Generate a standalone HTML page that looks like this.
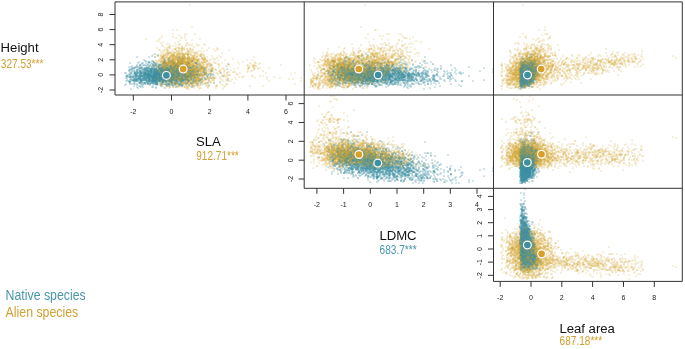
<!DOCTYPE html>
<html><head><meta charset="utf-8"><title>Trait space</title><style>
html,body{margin:0;padding:0;background:#fff;width:685px;height:349px;overflow:hidden}
svg{display:block;will-change:transform}
text{font-family:"Liberation Sans",sans-serif}
</style></head><body>
<svg width="685" height="349" viewBox="0 0 685 349">
<defs><clipPath id="c0"><rect x="115.0" y="1.9" width="189.2" height="93.1"/></clipPath><clipPath id="c1"><rect x="304.2" y="1.9" width="189.3" height="93.1"/></clipPath><clipPath id="c2"><rect x="493.5" y="1.9" width="188.79999999999995" height="93.1"/></clipPath><clipPath id="c3"><rect x="304.2" y="95.0" width="189.3" height="93.30000000000001"/></clipPath><clipPath id="c4"><rect x="493.5" y="95.0" width="188.79999999999995" height="93.30000000000001"/></clipPath><clipPath id="c5"><rect x="493.5" y="188.3" width="188.79999999999995" height="93.09999999999997"/></clipPath></defs>
<g clip-path="url(#c0)"><g stroke-width="1.7" stroke-linecap="round" fill="none"><path stroke="#d0a028" stroke-opacity="0.34" d="M158 84zm-1-9zm0-13zm1-6zm3-13zm2 3zm3 8zm-3 3zm-1 1zm5 2zm-6 2zm2 0zm1 0zm3 2zm-2 1zm-2 1zm2 0zm-5 1zm5 0zm2 0zm-5 2zm5 1zm-3 1zm1 0zm-2 1zm4 1zm-3 1zm-4 1zm3 3zm10 8zm-4-2zm6 0zm-3-2zm-4-1zm5-2zm2 0zm0-2zm-1-1zm0-1zm1 0zm-5-2zm5 0zm-7-1zm1 0zm6 0zm-3-1zm-4-1zm7 0zm-7-3zm2 0zm1 0zm2 0zm2 0zm-7-2zm5-1zm1 0zm-3-1zm4-1zm-7-1zm1-1zm1 0zm2-1zm2-4zm-1-2zm3 0zm3 0zm-1 3zm2 0zm-2 3zm4 0zm-1 1zm-1 1zm1 0zm-2 1zm1 0zm2 0zm-6 1zm1 0zm2 1zm1 0zm1 0zm1 0zm1 0zm-6 1zm4 0zm-5 1zm1 0zm4 0zm-1 1zm3 0zm-7 1zm4 0zm2 0zm-2 1zm1 0zm-4 1zm3 0zm2 0zm-4 1zm5 1zm-6 1zm1 0zm4 0zm-2 1zm1 0zm2 1zm-6 1zm5 0zm-5 1zm1 1zm2 0zm2 1zm-3 1zm1 0zm-4 1zm0 6zm13-1zm-4-3zm0-1zm3 0zm0-3zm-4-2zm0-1zm1-2zm5-1zm1 0zm-5-1zm-2-1zm4 0zm-3-2zm0-2zm3 0zm1 0zm-2-1zm-3-1zm4 0zm1 0zm1 0zm-1-1zm-3-3zm3 0zm1 0zm-2-3zm1 0zm-5-1zm1 0zm4 0zm-1-2zm-3-1zm1-1zm0-8zm12 9zm-4 5zm3 0zm-4 1zm1 3zm1 0zm2 1zm-5 1zm0 2zm5 1zm-2 1zm1 1zm1 0zm-3 1zm1 0zm1 2zm-4 1zm2 2zm-1 2zm3 8zm-4 1zm6 0zm2 1zm6-4zm1-1zm-4-1zm1-2zm-4-4zm0-9zm6 0zm-2-2zm-1-2zm1-8zm-2-7zm9 11zm-3 2zm1 3zm2 10zm-3 1zm14 0zm-2-3zm7 1zm-2 2zm4 0zm-3 4zm1 1zm7-8zm-1-13zm14 1zm7-3zm41 16z"/><path stroke="#3a8fa3" stroke-opacity="0.48" d="M125 73zm8-5zm1 4zm-5 3zm0 1zm2 0zm4 0zm-2 2zm-3 1zm0 3zm4 2zm8-4zm-4-1zm-1-1zm3 0zm3 0zm-6-2zm6-1zm-7-1zm4-2zm3-2zm0-7zm5 1zm2 7zm1 1zm-2 1zm-1 1zm-4 1zm4 0zm2 0zm-4 1zm4 0zm1 0zm-2 1zm-4 3zm2 0zm1 0zm1 0zm1 0zm1 0zm-2 1zm3 1zm5 0zm-4-1zm3 0zm3 0zm-5-1zm4-1zm1 0zm-5-1zm4 0zm-6-1zm3 0zm1 0zm-1-1zm-3-1zm1 0zm1 0zm5 0zm-5-1zm4 0zm-5-1zm2 0zm-2-1zm1 0zm1 0zm4 0zm-4-1zm2 0zm1 0zm-1-1zm-4-1zm2-3zm1 0zm7-2zm3 0zm-4 1zm-1 4zm1 1zm2 0zm-2 1zm5 1zm-3 1zm1 0zm1 1zm-2 1zm3 0zm-5 2zm3 0zm2 0zm-7 1zm6 0zm1 0zm-5 1zm-2 1zm1 1zm2 0zm0 1zm9 2zm-2-1zm4-3zm-5-1zm1 0zm5 0zm-7-1zm4 0zm3 0zm-4-1zm-3-1zm2-2zm2-1zm-3-2zm6 0zm-4-2zm2-1zm-4-7zm10-4zm-1 8zm1 6zm0 1zm0 1zm2 0zm0 1zm-3 1zm-1 1zm-1 1zm3 0zm4 2zm-4 2zm-1 1zm3 1zm2 0zm-4 1zm5-1zm6-4zm-6-3zm0-1zm3 0zm4-4zm-7-2zm4-1zm9-5zm-4 8zm-1 2zm5 5zm2 3zm-5 1zm11-9zm4-4zm0 11z"/><path stroke="#d0a028" stroke-opacity="0.34" d="M154 81zm2-5zm1-12zm-4-9zm9-4zm2 0zm-2 5zm-2 2zm3 1zm0 3zm0 1zm3 0zm-5 1zm1 0zm3 0zm1 0zm0 1zm-6 1zm4 1zm-4 1zm6 0zm-3 1zm3 0zm1 0zm-5 1zm-1 1zm1 1zm3 0zm0 2zm-5 2zm6 0zm-3 1zm-3 3zm6 1zm-1 1zm-4 2zm11 1zm-4-1zm5-1zm-3-3zm4 0zm1 0zm-5-1zm2-1zm1 0zm-4-1zm2 0zm4 0zm-5-1zm0-2zm0-1zm2 0zm3-1zm-7-1zm4-1zm-2-1zm2 0zm-2-1zm4-1zm1-1zm0-1zm-2-1zm-3-2zm3 0zm-4-3zm-1-1zm3-6zm9-3zm0 2zm2 3zm-2 1zm-4 1zm6 0zm0 1zm-6 2zm1 0zm5 0zm1 1zm-1 1zm-5 1zm2 0zm1 1zm-2 1zm1 2zm1 0zm1 0zm-3 1zm2 0zm1 0zm2 0zm-5 1zm1 0zm1 0zm-4 1zm0 1zm2 0zm2 0zm1 0zm-4 2zm4 0zm0 1zm-1 1zm2 0zm-2 1zm2 2zm-4 1zm4 1zm1 1zm-2 2zm0 3zm-3 1zm8 2zm-1-4zm2-4zm3 0zm-3-1zm-2-1zm2 0zm-1-1zm-2-2zm2 0zm2 0zm1 0zm1-1zm-2-1zm-2-2zm3 0zm2 0zm-5-1zm2 0zm3 0zm-7-1zm1 0zm1 0zm1 0zm0-1zm-1-1zm1-1zm-1-1zm1 0zm2 0zm-3-2zm-1-1zm3-1zm-4-1zm1-1zm5 0zm-6-3zm4-1zm-2-3zm3-2zm1-1zm2 6zm3 1zm-3 1zm5 4zm-5 1zm5 0zm0 3zm-1 1zm2 1zm-4 1zm0 1zm3 1zm-1 1zm2 0zm-6 1zm6 1zm1 1zm-6 1zm1 1zm5 0zm-5 2zm3 0zm-3 2zm0 6zm4 0zm-4 2zm7 0zm1-6zm1-4zm-3-2zm7-1zm-6-5zm5-1zm-1-1zm-3-1zm3 0zm-2-2zm-2-9zm6-6zm-3-6zm8 12zm-4 7zm0 2zm4 0zm-4 21zm15 3zm-3-12zm2-8zm-3-4zm-2-15zm31 19zm5-2zm0-7z"/><path stroke="#3a8fa3" stroke-opacity="0.48" d="M126 81zm1-1zm5-14zm-2 11zm3 3zm1 0zm5 2zm2 0zm0-1zm-1-2zm0-3zm2-1zm-2-1zm-3-1zm0-2zm0-1zm4-2zm-4-11zm12 5zm-2 5zm0 1zm2 0zm2 2zm-5 2zm4 0zm1 0zm-2 2zm2 0zm-4 1zm1 0zm-1 1zm-1 2zm1 0zm2 1zm1 2zm-5 2zm1 1zm11 0zm-5-1zm1-1zm-1-1zm0-2zm4 0zm1 0zm-2-1zm1 0zm3 0zm-4-1zm2 0zm1 0zm1 0zm-7-1zm1 0zm1 0zm2 0zm-4-1zm1 0zm1 0zm1 0zm4 0zm-4-1zm-1-1zm3 0zm-4-1zm5 0zm-6-2zm3 0zm2 0zm1 0zm6-8zm-4 3zm1 0zm6 0zm-3 2zm0 1zm-4 1zm3 1zm1 0zm-3 1zm2 1zm1 1zm-1 1zm-3 1zm2 0zm4 0zm-6 1zm1 0zm2 0zm4 0zm-7 1zm1 1zm2 0zm-1 2zm0 1zm1 0zm-2 5zm1 0zm5 0zm3-2zm2-2zm-3-2zm6-1zm-1-1zm-6-1zm1 0zm-1-1zm1 0zm6 0zm-5-1zm2 0zm1 0zm2 0zm-6-2zm2 0zm3 0zm-4-1zm-2-2zm1-4zm3-1zm11-3zm-6 2zm1 2zm0 4zm-2 1zm0 2zm1 2zm1 0zm0 1zm1 0zm-1 2zm2 2zm3 1zm8 2zm-3-4zm-2-4zm2-1zm3-2zm-3-2zm7-7zm2 5zm0 6zm-5 2zm3 1zm4 1zm-4 3zm7-2zm-2-1zm2-10zm10 3zm-3 14z"/><path stroke="#d0a028" stroke-opacity="0.34" d="M157 80zm-2-2zm0-8zm2-8zm0-7zm0-14zm10 9zm-2 8zm-3 2zm1 0zm0 8zm4 3zm-5 1zm-2 2zm5 2zm-2 1zm-3 1zm14 7zm-5-1zm0-3zm2-1zm3-1zm-2-2zm2-1zm0-2zm-6-2zm5-2zm-4-1zm1 0zm1 0zm4 0zm-2-2zm1 0zm-4-1zm3 0zm2 0zm-4-3zm1 0zm-4-1zm5 0zm-2-1zm1 0zm1-1zm0-2zm2-1zm-5-1zm2 0zm-4-1zm4 0zm1 0zm2-6zm-6-5zm10 0zm3 5zm0 1zm0 1zm-6 1zm1 2zm4 1zm-5 1zm7 0zm-1 1zm0 1zm-3 1zm3 0zm-4 2zm2 0zm2 0zm1 0zm-5 1zm2 0zm2 1zm-3 1zm-3 2zm2 0zm2 1zm1 2zm1 0zm-5 1zm5 1zm1 0zm-7 1zm3 0zm-3 1zm5 0zm1 0zm-4 1zm5 0zm-5 1zm1 2zm-1 1zm3 0zm1 0zm-5 2zm1 0zm5 4zm2 1zm5-1zm1 0zm-5-1zm3-1zm2 0zm-3-1zm-2-1zm1 0zm0-1zm-2-2zm2 0zm-3-1zm1 0zm2 0zm2 0zm-1-1zm1 0zm1 0zm-6-2zm1 0zm2 0zm2 0zm1 0zm-4-1zm1 0zm4-1zm-7-2zm2 0zm3 0zm-2-1zm1 0zm-3-1zm0-1zm1 0zm1 0zm1 0zm2-1zm0-1zm-5-1zm0-1zm2 0zm1 0zm1 0zm2 0zm-7-2zm6 0zm1 0zm-7-1zm3 0zm-1-1zm2-3zm-4-1zm6-2zm-2-1zm-2-5zm9-12zm-3 6zm0 18zm3 1zm2 2zm0 2zm-1 1zm3 0zm-5 1zm2 0zm-3 2zm3 0zm-1 1zm3 1zm-2 2zm3 0zm-5 2zm-1 1zm4 4zm-5 1zm7 0zm-2 1zm0 1zm-1 3zm2 0zm3 0zm5-2zm1-3zm-7-3zm2 0zm0-2zm3-1zm-2-3zm0-3zm-3-2zm1 0zm-1-1zm0-8zm10 9zm3 2zm-3 11zm3 0zm3 0zm8-7zm3 2zm1 2zm-4 2zm1 9zm9-3zm16 3zm4-16zm2-7zm4 13z"/><path stroke="#3a8fa3" stroke-opacity="0.48" d="M134 68zm1 5zm-5 1zm3 0zm1 0zm-6 3zm1 0zm4 3zm-3 1zm5 1zm5 4zm2 0zm0-2zm1 0zm-3-1zm2-2zm-6-1zm1-4zm2 0zm1-1zm1 0zm-5-1zm6-1zm-1-1zm-3-1zm2 0zm-2-1zm0-7zm7 2zm2 0zm-1 1zm-1 2zm0 1zm6 2zm-5 1zm2 0zm3 0zm-6 3zm5 0zm-3 1zm1 0zm1 0zm-4 1zm6 0zm-7 1zm0 2zm2 0zm3 1zm1 2zm-2 1zm2 0zm0 1zm7-1zm-2-3zm2 0zm-4-1zm6 0zm-7-1zm6 0zm1 0zm-6-1zm6 0zm-4-1zm-1-1zm1 0zm4 0zm-4-1zm1 0zm1-1zm-4-1zm4 0zm2 0zm-3-1zm1-2zm-2-2zm3-1zm1-2zm8 0zm-2 1zm-3 2zm0 1zm3 0zm1 1zm-4 1zm2 1zm1 0zm-3 2zm1 0zm1 0zm2 0zm-5 1zm3 0zm-4 1zm4 0zm3 0zm-3 1zm-1 1zm4 0zm-5 1zm2 1zm-3 1zm2 1zm4 3zm1-3zm7-1zm-4-1zm-3-2zm3-1zm2 0zm-2-1zm2 0zm0-1zm-2-1zm3 0zm-5-1zm5 0zm-6-1zm2 0zm1-1zm3 0zm-2-2zm1 0zm0-1zm1-3zm5-2zm-3 3zm0 2zm3 1zm3 1zm-1 2zm-4 1zm1 0zm4 1zm1 0zm0 1zm-1 2zm-4 1zm0 1zm1 0zm1 0zm0 1zm-4 1zm4 3zm11-1zm-1-6zm-6-4zm6 0zm1 0zm-1-4zm9-1zm-6 4zm3 2zm-4 3zm0 7zm9-9zm11-4z"/><path stroke="#d0a028" stroke-opacity="0.34" d="M151 66zm5 11zm3 0zm0-3zm0-1zm0-1zm-2-5zm8-19zm-4 4zm3 4zm0 2zm1 0zm0 2zm-5 4zm0 1zm3 1zm2 1zm-1 1zm1 0zm-3 1zm5 3zm-3 1zm3 0zm0 2zm-4 2zm-3 3zm9 2zm-1-2zm7 0zm-5-1zm4-4zm-2-1zm1-1zm-5-2zm1-1zm4 0zm0-1zm2 0zm-6-1zm1 0zm5 0zm-1-1zm-6-1zm6 0zm-5-1zm1 0zm2 0zm2-1zm-6-1zm1-1zm4-2zm2-4zm-1-1zm-1-1zm0-8zm2-3zm3-1zm-2 5zm6 3zm-3 1zm4 2zm-2 1zm-2 1zm4 1zm-6 2zm1 1zm3 0zm-5 1zm1 0zm4 2zm1 0zm1 0zm-5 1zm3 0zm-4 1zm1 0zm0 1zm1 0zm1 1zm-4 1zm2 1zm1 0zm-3 1zm4 0zm-3 1zm2 1zm3 0zm0 1zm1 0zm-6 1zm6 0zm-2 1zm-3 1zm2 1zm1 4zm0 1zm1 2zm-6 1zm2 0zm0 1zm4 0zm0 2zm6 1zm1-3zm-3-1zm4 0zm1-4zm-5-1zm0-1zm1 0zm3 0zm1-1zm-4-1zm0-1zm1 0zm1 0zm2 0zm-4-1zm2 0zm-5-1zm1 0zm3 0zm1 0zm-3-1zm1 0zm1 0zm-1-1zm0-1zm1 0zm3 0zm-7-1zm5 0zm-2-1zm3 0zm1 0zm-7-1zm2-1zm2 0zm-1-1zm-1-2zm-1-1zm2 0zm1 0zm-1-1zm0-1zm3 0zm-3-1zm-2-1zm2 0zm-3-2zm4-2zm-1-5zm3-1zm5 5zm0 4zm4 5zm-6 1zm2 6zm-3 1zm4 1zm2 0zm-5 2zm2 0zm1 1zm1 1zm1 0zm-3 1zm0 1zm0 1zm1 0zm3 2zm-1 1zm-2 1zm-2 1zm11 0zm-2-2zm-1-1zm5-1zm-7-5zm7 0zm-6-1zm5 0zm-3-1zm-3-1zm1-2zm2-5zm1-2zm2 0zm-1-5zm2 0zm-4-1zm6-8zm5 14zm-2 6zm-1 2zm1 5zm-4 3zm8-15zm10 18zm14-8zm4 3zm11 2zm-7-7zm11-7zm-1 5zm35 10z"/><path stroke="#3a8fa3" stroke-opacity="0.48" d="M129 67zm6 0zm0 5zm-4 5zm4 2zm0 1zm-1 1zm1 0zm-1 5zm5-3zm-2-2zm-1-4zm3 0zm-2-3zm3 0zm-2-2zm2-1zm-3-4zm3-2zm9 1zm1 0zm-6 2zm5 0zm2 0zm-4 2zm0 1zm2 0zm-3 2zm-2 1zm5 1zm-1 1zm2 1zm-2 1zm2 0zm-3 3zm1 3zm2 0zm6-1zm-4-1zm1-1zm2 0zm-2-3zm5 0zm1 0zm-7-1zm5 0zm1 0zm-3-1zm2 0zm-4-1zm5 0zm-6-1zm2 0zm1 0zm1 0zm1 0zm1 0zm-6-1zm4-1zm1-1zm1 0zm1-3zm0-1zm-7-4zm3 0zm11 5zm1 0zm-7 2zm2 1zm5 0zm-6 1zm6 2zm-5 1zm-2 1zm1 0zm3 0zm1 0zm2 1zm-3 1zm-3 1zm4 0zm1 0zm0 1zm-4 2zm4 0zm3 4zm-1-2zm7 0zm-5-4zm2 0zm1 0zm1 0zm-6-1zm4-1zm2 0zm-4-1zm2-1zm2 0zm-3-1zm-3-1zm2 0zm3 0zm-4-1zm3 0zm-4-1zm2 0zm1 0zm0-2zm-1-1zm5-2zm-5-1zm1-4zm8 1zm0 2zm-1 1zm5 1zm-5 1zm-1 1zm1 0zm-2 1zm0 1zm4 0zm-1 1zm4 0zm-5 1zm1 1zm-2 1zm4 1zm-4 3zm4 0zm-4 3zm1 1zm11-3zm-4-2zm4 0zm2 0zm-7-1zm2 0zm4 0zm-3-1zm-2-1zm1-1zm4-4zm-5-2zm3 0zm5 1zm10 15zm4-7zm-3-3zm19 2z"/><path stroke="#d0a028" stroke-opacity="0.34" d="M158 73zm-1-3zm-1-1zm2-2zm0-3zm3-26zm3 12zm1 3zm-3 5zm2 4zm0 1zm1 1zm1 0zm-2 1zm-3 2zm-1 4zm3 1zm4 2zm-6 2zm5 5zm-2 3zm9-2zm-1-4zm-3-2zm2 0zm2 0zm-5-2zm7 0zm-6-4zm-1-1zm7-1zm-1-2zm-3-1zm1 0zm1 0zm-5-2zm2 0zm5-1zm-6-1zm1 0zm1 0zm4-3zm-3-2zm0-1zm-4-2zm6-1zm-5-4zm4-18zm8 23zm-4 2zm-1 3zm5 0zm2 1zm-1 1zm0 2zm-2 1zm-3 1zm4 0zm2 0zm-2 1zm1 0zm-3 1zm-2 1zm2 0zm4 0zm-3 2zm-3 1zm1 0zm-1 1zm3 0zm0 1zm-1 1zm4 0zm-6 1zm6 0zm-7 1zm4 0zm1 0zm1 0zm1 0zm-7 1zm4 0zm3 0zm-1 1zm-6 1zm1 1zm5 1zm1 1zm-7 1zm7 1zm-2 2zm9 2zm-4-3zm1 0zm-3-1zm3-1zm-3-2zm1 0zm1 0zm1 0zm0-2zm0-1zm1-2zm1 0zm-2-2zm1 0zm3 0zm-5-1zm-1-1zm3 0zm-4-3zm2 0zm1 0zm-3-1zm4 0zm-3-1zm4 0zm0-1zm-5-1zm4 0zm-1-1zm1 0zm1 0zm-3-2zm-2-1zm5 0zm-5-1zm3 0zm-1-1zm2-1zm-4-2zm4 0zm-2-1zm4-2zm-3-9zm-2-5zm0-2zm7 16zm1 0zm1 3zm5 0zm-5 3zm-2 2zm3 0zm-2 4zm0 1zm-1 1zm1 0zm0 1zm-1 2zm6 0zm-5 1zm2 1zm-3 1zm2 1zm2 0zm-3 1zm-1 1zm1 0zm1 0zm1 1zm-3 2zm4 0zm2 1zm-4 3zm5 7zm1-14zm2 0zm2 0zm2 0zm-5-1zm-1-2zm3-2zm4-1zm-3-1zm-3-1zm3 0zm3 0zm-6-1zm4 0zm-3-1zm-2-1zm5-5zm-3-1zm-1-4zm13-5zm-4 17zm1 4zm-2 1zm-1 6zm6 1zm-6 10zm12-18zm-1-2zm0-4zm10 1zm1 10zm-6 1zm5 5zm-2 3zm20-19zm-5 12zm13-12zm14 3z"/><path stroke="#3a8fa3" stroke-opacity="0.48" d="M132 72zm1 5zm2 1zm-1 3zm7 6zm0-7zm-5-1zm7-1zm-7-1zm4 0zm-4-1zm3 0zm3-3zm-5-4zm4-1zm0-1zm3-7zm7 9zm-2 4zm1 0zm-1 1zm1 0zm-6 1zm3 1zm1 1zm1 1zm1 3zm8 3zm-3-2zm-3-1zm1 0zm4-1zm-2-2zm-1-1zm1 0zm1 0zm1-1zm1 0zm-1-1zm-3-1zm-2-1zm5 0zm0-1zm1-1zm-4-1zm2 0zm-4-1zm6-5zm-3-7zm3-2zm4 13zm4 1zm-6 1zm1 0zm2 2zm2 0zm2 1zm-4 1zm2 0zm-5 1zm3 0zm2 0zm2 0zm-4 1zm-3 1zm6 1zm-3 2zm1 1zm-1 1zm1 0zm-4 1zm15 0zm-4-1zm1 0zm-3-1zm0-1zm-1-1zm3 0zm3 0zm1 0zm-5-1zm-2-1zm6 0zm-4-1zm5 0zm-4-1zm4 0zm-6-1zm1 0zm2 0zm2 0zm-6-1zm3 0zm-1-1zm0-1zm1 0zm1 0zm-2-1zm-1-1zm3-2zm1-4zm5-2zm5 4zm-7 1zm4 0zm-4 4zm1 1zm4 0zm2 0zm-6 2zm1 1zm-2 2zm0 1zm2 0zm4 1zm1 1zm-6 1zm4 1zm-4 1zm0 1zm2 1zm-2 2zm-1 1zm10-10zm2 0zm-4-1zm5 0zm2-1zm-6-2zm0-2zm3-2zm-4-2zm11 3zm2 1zm1 0zm-4 1zm1 0zm3 1zm-4 1zm5 1zm-5 2zm2 4zm2 2zm13-12zm0 4zm2 2zm1 6z"/><path stroke="#d0a028" stroke-opacity="0.34" d="M159 75zm-1-1zm-1-7zm2-2zm-1-4zm-2-1zm11-3zm-4 1zm3 0zm-3 3zm0 3zm0 4zm4 1zm-2 1zm2 0zm-1 1zm-5 2zm5 1zm1 4zm0 6zm0 2zm0 1zm3-9zm2 0zm2 0zm-4-1zm-2-1zm3-1zm4 0zm-5-1zm-2-2zm4 0zm-3-2zm0-2zm6 0zm-7-1zm3-1zm-2-1zm3 0zm-1-1zm1 0zm-3-1zm3 0zm3 0zm-4-1zm4 0zm-2-1zm-5-2zm2 0zm-1-1zm1 0zm0-2zm4-1zm2-17zm4 6zm-2 9zm4 0zm-3 1zm-1 3zm-2 1zm7 0zm-6 2zm5 1zm1 0zm-7 3zm1 1zm1 1zm4 1zm-5 1zm2 0zm2 0zm-3 1zm2 0zm1 0zm-5 1zm2 1zm1 0zm2 0zm-4 1zm3 0zm2 0zm-4 2zm2 1zm0 1zm0 1zm1 5zm-4 2zm8 3zm0-4zm6 0zm-2-1zm-3-1zm1-1zm-2-1zm1 0zm2 0zm-3-2zm3 0zm1 0zm1-1zm1 0zm-2-1zm-4-1zm1 0zm2 0zm-1-1zm0-1zm1 0zm-1-1zm4 0zm-7-2zm0-1zm3-1zm2 0zm-2-1zm3 0zm-2-1zm-1-1zm1 0zm1-1zm-1-1zm-4-1zm4 0zm2 0zm1 0zm-6-1zm1-1zm2 0zm3 0zm0-1zm-3-7zm7 1zm2 4zm-4 4zm5 0zm-3 1zm4 0zm-6 3zm1 1zm0 1zm1 0zm2 2zm-1 1zm2 0zm-6 1zm1 0zm-1 2zm2 0zm-2 1zm1 0zm3 0zm-1 2zm1 0zm-1 1zm-2 1zm2 0zm3 0zm-6 2zm3 1zm-2 1zm5 0zm0 3zm8 2zm1-1zm-2-1zm1-4zm-5-1zm4-1zm-5-2zm2-1zm3-2zm1 0zm-6-2zm6 0zm-6-1zm4 0zm2-1zm-4-1zm-1-2zm2 0zm-3-1zm4-3zm-1-3zm11 1zm-3 4zm0 3zm0 4zm1 5zm-3 3zm14 2zm-5-6zm0-1zm-1-1zm22 4zm15-8zm-1-4zm13 8zm14 5z"/><path stroke="#3a8fa3" stroke-opacity="0.48" d="M127 78zm7-10zm-4 1zm4 1zm-2 1zm3 2zm6 8zm-2-1zm0-1zm-1-1zm4-1zm-5-2zm0-2zm4 0zm2 0zm-6-1zm6 0zm-7-1zm4 0zm2-2zm6-7zm-2 1zm-1 5zm3 0zm1 1zm-5 4zm4 0zm-3 1zm1 0zm-1 1zm4 0zm1 0zm-2 1zm1 0zm1 0zm-4 1zm0 1zm1 0zm3 1zm-1 1zm-5 3zm4 0zm9 1zm0-1zm-5-2zm1 0zm0-1zm6 0zm-6-1zm1 0zm1 0zm4 0zm-4-1zm2 0zm-3-1zm1 0zm1-2zm-1-1zm4 0zm0-1zm-5-1zm2 0zm3 0zm-4-2zm2-1zm0-1zm-3-3zm1 0zm-3-9zm3-2zm8 9zm3 0zm-5 5zm1 0zm-1 1zm3 0zm-3 2zm5 0zm-3 1zm4 1zm-6 1zm6 1zm-4 1zm1 0zm-4 1zm5 0zm-5 1zm2 0zm1 0zm3 1zm-1 1zm1 2zm0 3zm8-4zm-4-1zm1-1zm1 0zm-4-1zm2 0zm3 0zm0-1zm1-1zm-6-1zm2-1zm3 0zm0-2zm-2-2zm-3-2zm4 0zm6-8zm1 1zm2 5zm0 2zm1 0zm0 1zm1 1zm0 2zm-7 1zm5 0zm-4 2zm1 0zm3 0zm2 0zm-6 1zm5 2zm-3 1zm1 0zm3 0zm-1 1zm0 1zm1 0zm-4 3zm9-1zm0-1zm1-1zm-5-1zm4-1zm1-2zm1-1zm0-1zm-1-4zm0-1zm1 0zm2-2zm2 1zm-1 1zm5 0zm-4 1zm0 8zm0 2zm2 1zm-3 3zm4 0zm5-8zm9 1z"/><path stroke="#d0a028" stroke-opacity="0.34" d="M146 39zm10 41zm-3-4zm2-7zm4-7zm0-21zm3-5zm-2 19zm3 2zm-1 1zm2 3zm2 0zm-5 1zm5 0zm-3 1zm-3 2zm6 2zm-1 2zm2 2zm-5 1zm3 1zm-4 3zm4 0zm-5 4zm10 7zm4 0zm-2-2zm0-1zm1-1zm-2-1zm4 0zm0-2zm-3-1zm-1-3zm3 0zm-6-1zm2 0zm5 0zm-6-1zm6 0zm-6-1zm3 0zm3 0zm0-1zm0-1zm-6-1zm2 0zm4 0zm-4-1zm2 0zm1 0zm1 0zm-4-2zm0-1zm4 0zm-7-2zm4 0zm1 0zm-3-1zm3 0zm2 0zm-6-1zm5 0zm-5-1zm2 0zm-1-3zm2 0zm1 0zm-3-1zm3 0zm-2-3zm-1-8zm11-9zm1 9zm-4 9zm5 0zm-7 2zm1 1zm3 1zm3 0zm-3 1zm-2 1zm1 0zm4 0zm-4 2zm-3 1zm0 1zm3 0zm-3 1zm1 2zm4 0zm-4 1zm2 0zm4 0zm-7 1zm6 0zm-5 1zm-1 1zm3 3zm1 0zm-3 2zm0 1zm3 0zm-3 2zm5 0zm-3 1zm4 2zm-7 1zm11-1zm2-3zm2-1zm-3-1zm1-1zm-2-1zm-1-1zm2 0zm1 0zm2 0zm-7-1zm0-1zm1 0zm1 0zm1 0zm1 0zm2 0zm-4-1zm0-1zm5 0zm-6-1zm5 0zm-5-1zm3 0zm1-1zm-3-1zm-2-3zm1 0zm3 0zm1-1zm-3-1zm2 0zm1-4zm-5-4zm7 0zm-3-9zm5 4zm0 7zm0 2zm-1 1zm4 0zm-2 1zm-2 2zm5 0zm2 1zm-5 4zm5 0zm-6 1zm1 1zm3 0zm2 1zm0 1zm-2 1zm-5 1zm5 0zm-3 3zm1 2zm4 0zm-3 1zm1 2zm-1 1zm-4 1zm3 0zm0 2zm-1 1zm0 1zm6-3zm2-2zm-1-1zm1-1zm5-3zm-3-2zm0-5zm1 0zm-2-1zm0-9zm4 0zm-5-2zm-2-2zm5-11zm-5-6zm10 24zm-2 4zm0 4zm3 12zm13-10zm24-8z"/><path stroke="#3a8fa3" stroke-opacity="0.48" d="M126 73zm6-4zm-3 1zm2 9zm3 0zm-2 1zm3 0zm-1 1zm1 0zm-4 8zm11-7zm-6-1zm2 0zm-1-1zm2 0zm3 0zm1 0zm-6-1zm5-3zm-6-1zm5-2zm-1-1zm1-1zm-1-3zm-3-2zm10 2zm2 1zm-1 2zm1 0zm-4 1zm0 1zm6 0zm-4 1zm1 0zm-4 1zm3 1zm3 0zm0 1zm-3 1zm2 1zm1 0zm-4 1zm0 2zm-1 1zm8 4zm3 0zm1-5zm-4-1zm4 0zm-2-1zm-2-1zm2 0zm-2-2zm2 0zm0-1zm4-1zm-4-1zm2 0zm2 0zm-3-2zm-2-1zm5 0zm-3-1zm-3-1zm6 0zm-6-4zm14 2zm-3 4zm-3 1zm4 0zm1 0zm1 0zm-4 1zm2 1zm-5 1zm5 1zm-3 1zm2 0zm-3 1zm1 0zm1 0zm2 0zm2 0zm-6 1zm3 2zm3 0zm-7 4zm13-1zm0-1zm-4-2zm-1-1zm5 0zm-2-1zm4 0zm-7-1zm1-2zm3 0zm2 0zm-3-2zm1 0zm2 0zm-4-1zm1 0zm-3-1zm1 0zm5 0zm-6-1zm1 0zm-1-2zm7-1zm-2-1zm2-1zm-5-1zm7 2zm6 4zm-7 1zm1 0zm2 1zm1 0zm1 1zm-4 2zm1 3zm-1 1zm5 0zm-1 1zm6 5zm4-6zm-6-1zm-1-2zm1 0zm-1-1zm3 0zm2 0zm-4-1zm4 0zm-5-1zm0-4zm2-2zm10-5zm-2 3zm1 9zm6 8zm0-15zm7 7zm2 1zm11-3zm7-9z"/><path stroke="#d0a028" stroke-opacity="0.34" d="M158 79zm0-4zm-3-11zm2-16zm2-9zm7 11zm-3 6zm1 0zm-3 2zm3 2zm-4 1zm1 0zm3 1zm2 0zm1 1zm-3 1zm3 0zm-3 1zm0 1zm3 0zm0 2zm-6 1zm4 0zm-1 4zm-4 5zm7 1zm-6 2zm3 3zm-2 1zm7 3zm4-1zm-4-4zm6 0zm-2-2zm1-3zm0-3zm-5-1zm0-2zm1 0zm-1-1zm1 0zm3-1zm0-2zm2 0zm-2-3zm-3-1zm0-1zm4-1zm-6-1zm3 0zm4-1zm-4-4zm-2-3zm5-1zm-6-2zm5-1zm3-4zm3 0zm3 2zm-3 7zm-2 2zm1 1zm2 1zm0 1zm2 0zm-4 1zm2 0zm-1 1zm2 0zm1 0zm-5 2zm3 0zm-4 1zm6 0zm1 0zm-2 1zm1 0zm0 1zm1 0zm-6 1zm1 0zm1 1zm2 0zm-5 1zm3 0zm1 0zm1 0zm-4 1zm3 0zm-3 1zm1 0zm3 0zm2 0zm-7 1zm1 0zm1 0zm1 1zm1 2zm-4 3zm1 0zm2 0zm-2 1zm2 0zm1 1zm1 1zm-5 2zm7 1zm6 5zm-2-7zm3 0zm-2-4zm-2-1zm0-1zm4-1zm1 0zm-2-1zm-5-2zm5 0zm-4-1zm3 0zm2 0zm-6-1zm7 0zm-1-2zm-6-1zm3 0zm3 0zm0-2zm-2-1zm-1-1zm2 0zm0-1zm-5-1zm0-3zm1 0zm0-1zm3 0zm-4-7zm3-1zm-2-15zm9 13zm-1 3zm6 1zm-2 2zm-3 3zm-2 3zm1 0zm0 1zm4 0zm-1 2zm-4 2zm1 2zm-1 1zm0 2zm4 0zm-1 2zm3 2zm-3 1zm1 0zm-1 2zm3 1zm-3 3zm4 0zm0 6zm1-4zm1-7zm1-1zm4-1zm-2-1zm-2-2zm3 0zm-1-2zm-4-4zm5 0zm-3-1zm0-1zm2-2zm1-1zm-2-1zm11 14zm-6 4zm3 1zm2 3zm1 0zm-5 2zm7 4zm5-6zm0-8zm4-12zm4 4zm-5 11zm25-7zm6 0zm-2-2zm7-3zm-4 3zm2 2zm5 3zm11 6zm7-12z"/><path stroke="#3a8fa3" stroke-opacity="0.48" d="M131 73zm4 1zm-2 2zm-3 1zm3 0zm2 2zm-5 1zm7 1zm5 0zm-2-1zm2 0zm-5-1zm4-3zm1-1zm-3-2zm2-2zm3-1zm0 1zm7 0zm-4 2zm-1 1zm-1 1zm2 0zm1 0zm0 1zm1 0zm2 0zm-7 2zm6 1zm-6 3zm6 1zm1 0zm2 2zm3-1zm-4-1zm2-2zm-1-1zm5 0zm-5-1zm4 0zm-2-1zm-3-1zm4 0zm0-2zm3 0zm-5-1zm1-2zm3 0zm1 0zm-7-1zm0-1zm3 0zm-1-1zm2 0zm3 0zm-1-3zm1-1zm-7-4zm14 4zm0 2zm-5 1zm2 0zm2 0zm-1 1zm-4 1zm2 1zm5 0zm-5 1zm2 0zm1 0zm-4 1zm2 0zm2 0zm-3 1zm-1 1zm6 0zm-2 1zm2 0zm-2 1zm-4 1zm6 0zm-4 4zm10-2zm2 0zm-3-1zm-2-1zm4-1zm1 0zm-4-1zm4 0zm-6-1zm5 0zm-3-1zm-2-1zm2 0zm2 0zm-1-1zm-4-1zm1 0zm2 0zm3 0zm-6-1zm1-1zm2 0zm0-1zm2 0zm-4-1zm-1-1zm6-1zm-1-1zm-4-1zm5 0zm4 8zm1 0zm-3 1zm2 0zm1 0zm-1 2zm1 0zm4 0zm0 2zm-5 2zm-1 1zm2 0zm4 0zm-6 1zm1 1zm-2 1zm5 0zm-4 1zm5 2zm4-7zm4-3zm1 0zm-6-1zm-1-1zm4 0zm-3-1zm1 0zm5-4zm5-5zm3 6zm-6 2zm5 0zm-2 1zm2 1zm-5 2zm4 0zm2 0zm-7 1zm0 3zm2 2zm10-4z"/><path stroke="#d0a028" stroke-opacity="0.34" d="M159 66zm-6-1zm5-9zm9-12zm0 5zm-4 5zm1 1zm2 0zm-5 7zm2 2zm3 0zm-3 1zm-2 1zm4 2zm2 0zm-6 1zm1 0zm3 0zm-2 1zm2 1zm-3 1zm-2 1zm5 1zm-3 1zm2 0zm0 2zm3 2zm-7 2zm2 0zm13 4zm-2-2zm2-4zm-6-2zm6-4zm-1-2zm-2-1zm2 0zm-2-1zm1 0zm-1-1zm2 0zm-3-1zm1 0zm-2-1zm1-1zm3 0zm-3-1zm-2-1zm1 0zm1 0zm2 0zm2-1zm-3-1zm-1-7zm6-3zm6 3zm-1 3zm-2 1zm3 0zm-7 1zm5 0zm-3 2zm1 0zm1 0zm1 0zm1 0zm-1 1zm-4 1zm1 0zm3 0zm1 0zm-6 1zm7 0zm-5 1zm1 0zm3 0zm-6 1zm2 0zm4 0zm-5 1zm2 0zm3 0zm-4 1zm-1 1zm3 0zm2 0zm-5 1zm1 0zm-1 1zm3 1zm-3 1zm2 1zm0 2zm1 1zm1 1zm2 0zm-7 1zm6 2zm-5 1zm3 1zm1 0zm2 3zm3-3zm5-1zm-5-2zm-2-1zm3 0zm-3-2zm3-1zm-3-2zm3 0zm4 0zm-4-1zm2 0zm-1-1zm2 0zm-6-2zm2 0zm1 0zm4 0zm-7-2zm2 0zm4 0zm1 0zm-3-1zm-4-1zm6 0zm-6-1zm2 0zm-1-2zm2 0zm-2-1zm3 0zm2 0zm-3-1zm2-1zm0-3zm-3-3zm2 0zm2 0zm0-9zm9 0zm-7 1zm5 6zm-4 4zm4 0zm-4 1zm1 1zm2 0zm-4 2zm5 0zm1 0zm-6 1zm1 0zm5 0zm-4 1zm1 1zm0 2zm-1 1zm5 0zm-6 1zm4 4zm1 0zm-6 3zm2 1zm0 1zm4 1zm-4 3zm2 0zm-1 1zm-2 2zm10-2zm0-1zm2 0zm-5-1zm1-6zm3 0zm1 0zm-5-1zm1-1zm3 0zm-4-1zm4 0zm-2-7zm-1-7zm0-1zm2-1zm9 15zm-3 8zm-1 1zm2 0zm2 3zm4 5zm1-1zm3-7zm-4-8zm2-9zm13 20zm-5 3zm17-7zm9-1zm8-8z"/><path stroke="#3a8fa3" stroke-opacity="0.48" d="M132 69zm-1 4zm3 3zm1 1zm-5 7zm8 4zm5-1zm0-2zm-3-2zm-3-3zm2-1zm2 0zm2-3zm-2-3zm-4-1zm6-1zm-7-4zm3 0zm6-6zm1 7zm2 0zm-4 1zm2 0zm-1 1zm2 0zm4 0zm-7 1zm0 1zm4 0zm3 1zm-6 2zm2 0zm-2 1zm4 0zm1 0zm-3 1zm1 1zm1 0zm-4 2zm4 1zm2 0zm-3 2zm8 1zm0-1zm-2-2zm5 0zm-3-1zm2 0zm-2-1zm-1-1zm1 0zm2 0zm-5-1zm1 0zm0-3zm1 0zm2 0zm0-2zm-1-1zm1 0zm1 0zm-4-4zm-1-3zm11-2zm-1 4zm-3 3zm2 1zm4 0zm-2 1zm1 0zm-2 1zm0 1zm3 0zm-4 1zm2 0zm2 0zm1 0zm-7 1zm7 0zm-2 1zm2 0zm-6 1zm1 0zm-1 2zm3 0zm1 0zm-5 1zm5 0zm-2 1zm2 0zm0 3zm4 1zm2-3zm-2-2zm2 0zm-3-1zm7-1zm-7-2zm2 0zm2 0zm-1-1zm1 0zm-2-1zm1 0zm0-1zm2 0zm-5-1zm5 0zm2 0zm-2-1zm1 0zm-1-1zm-2-1zm2 0zm-3-1zm2 0zm3-2zm-6-7zm8 5zm0 3zm1 0zm-1 2zm4 1zm-5 4zm1 2zm1 0zm5 0zm-1 3zm-6 2zm7 0zm-4 1zm3 0zm-1 1zm-5 1zm5 1zm8 0zm-1-4zm-1-5zm-1-1zm3 0zm-5-1zm1 0zm0-3zm3 0zm-4-3zm9 2zm4 1zm-3 1zm5 9zm1-1zm9-6z"/><path stroke="#d0a028" stroke-opacity="0.34" d="M151 75zm3-1zm2-13zm7-5zm1 6zm0 1zm1 2zm2 0zm-5 1zm1 0zm2 0zm-1 4zm2 0zm-4 2zm1 0zm2 0zm-2 1zm2 0zm2 1zm-4 2zm4 0zm0 2zm-4 1zm1 2zm-3 3zm12-3zm0-1zm-5-1zm5 0zm1 0zm1 0zm-2-1zm-2-1zm-2-3zm1 0zm2 0zm2 0zm-6-1zm2 0zm1 0zm2 0zm-5-1zm1 0zm5 0zm-5-1zm1 0zm1 0zm-3-1zm1 0zm5 0zm-3-1zm-3-1zm0-1zm3-1zm3 0zm-3-1zm3 0zm-3-1zm4 0zm-7-1zm5-1zm2 0zm-3-1zm3-1zm-1-2zm0-2zm-2-1zm1-1zm7-6zm2 0zm-3 1zm-1 3zm-1 3zm6 1zm-5 1zm0 1zm2 1zm-2 1zm5 0zm-5 1zm2 0zm-2 1zm3 1zm-1 1zm-4 1zm4 1zm2 0zm-6 1zm1 0zm2 0zm4 1zm-6 2zm1 0zm4 0zm-2 2zm0 1zm1 0zm-2 1zm-3 2zm1 0zm2 0zm-2 1zm6 0zm-6 2zm3 1zm1 0zm6 8zm-2-2zm2-4zm1-1zm-3-1zm3-1zm-2-1zm5-2zm-5-1zm1 0zm-2-2zm0-2zm2 0zm1 0zm-1-1zm3 0zm-4-1zm3-2zm1 0zm-4-2zm-2-1zm5 0zm1-1zm-2-1zm-1-1zm-3-2zm1 0zm3-2zm2-1zm-2-2zm3-4zm-7-2zm3-5zm-1-3zm1-6zm3-29zm7 39zm2 15zm-1 2zm-5 3zm1 2zm1 1zm2 0zm0 1zm-4 3zm1 0zm2 0zm-3 1zm0 2zm5 1zm-5 1zm1 1zm1 0zm2 3zm-4 3zm-1 1zm9 1zm-1-5zm1 0zm2-2zm-3-2zm3 0zm-3-2zm6 0zm-1-3zm-5-1zm1-1zm2 0zm-3-1zm1 0zm1 0zm0-1zm5 0zm-6-1zm6-2zm-5-2zm3 0zm0-1zm-3-3zm-1-3zm1-2zm9 15zm2 2zm-4 3zm5 5zm7 6zm2-16zm3-2zm1 11zm0 8zm5-6zm1-7zm5-4zm9 4zm3-6zm6 0zm11 11z"/><path stroke="#3a8fa3" stroke-opacity="0.48" d="M127 75zm4-8zm1 1zm-2 4zm-1 10zm10 4zm2-4zm-5-2zm3-1zm2-2zm2-8zm-3-3zm6 3zm5 0zm0 3zm-6 1zm3 0zm1 0zm2 0zm-2 2zm0 1zm-5 1zm5 2zm-3 2zm11 3zm-5-1zm3 0zm2 0zm-2-2zm1-1zm-2-1zm-1-1zm0-1zm3 0zm1 0zm-5-1zm2 0zm0-1zm3 0zm2 0zm-5-1zm-1-3zm1 0zm2 0zm1 0zm-2-1zm-1-1zm5-1zm0-1zm-7-1zm3-2zm1-1zm9-2zm-1 1zm1 1zm-3 4zm4 0zm-5 1zm0 1zm1 0zm3 0zm-2 1zm-2 1zm3 0zm2 1zm-4 1zm4 0zm1 0zm-5 1zm5 0zm-6 1zm2 2zm-1 1zm3 0zm2 0zm-6 2zm2 0zm2 0zm-5 2zm3 0zm3 0zm-5 1zm1 0zm-1 2zm12 1zm-3-4zm0-1zm1 0zm2-1zm2 0zm-6-2zm5 0zm-6-1zm3 0zm2-1zm-3-1zm3 0zm-2-1zm1 0zm1 0zm1 0zm1 0zm-7-1zm1 0zm0-4zm4-1zm2 0zm-4-1zm3 0zm1-3zm-3-2zm-1-1zm7 2zm-1 2zm5 1zm-1 4zm2 0zm-6 4zm5 0zm-4 1zm-1 1zm2 0zm1 0zm2 0zm-5 1zm2 0zm1 0zm1 0zm-4 1zm2 7zm7-6zm2 0zm3 0zm-5-1zm-1-4zm3 0zm-4-2zm1-1zm1-1zm1-2zm4 0zm1-7zm5 4zm-4 9zm2 1zm2 0zm0 2zm-5 6zm12-8zm-2-1zm18 8z"/><path stroke="#d0a028" stroke-opacity="0.34" d="M149 66zm8 18zm2-14zm-6-8zm2-5zm10-1zm2 0zm-4 1zm3 0zm1 1zm-1 3zm-2 2zm3 1zm-3 3zm2 0zm0 2zm-2 4zm3 2zm-2 1zm1 1zm-1 1zm-3 6zm12-5zm1 0zm-3-2zm3 0zm-3-1zm-3-2zm2 0zm4 0zm-1-3zm-2-2zm1 0zm2 0zm-7-1zm2 0zm2-2zm2-1zm0-1zm-6-1zm4 0zm0-1zm3-1zm-7-2zm5 0zm1 0zm-2-1zm1-1zm2 0zm-4-1zm2 0zm1 0zm-6-9zm8 2zm3 4zm4 3zm-6 1zm-1 1zm2 0zm3 0zm2 1zm-4 1zm0 3zm1 0zm1 0zm-1 2zm-1 1zm-1 1zm2 0zm0 1zm3 1zm-5 1zm1 0zm-3 2zm2 0zm4 0zm-4 1zm3 0zm1 0zm-5 1zm2 0zm1 0zm2 0zm1 0zm-7 1zm2 0zm5 0zm-6 1zm1 0zm0 1zm0 2zm5 0zm-3 1zm2 0zm-1 1zm-5 1zm7 1zm-5 1zm2 1zm-1 1zm1 0zm10-5zm1-2zm-7-2zm3 0zm0-1zm3 0zm-6-1zm2-1zm4 0zm-2-1zm-3-1zm1-1zm2 0zm-3-1zm2 0zm2 0zm-4-1zm1 0zm2 0zm-4-1zm5 0zm-5-1zm2 0zm-1-1zm1 0zm4-1zm1 0zm-4-2zm-2-1zm3 0zm1 0zm-5-1zm1-2zm5 0zm0-1zm-6-1zm0-1zm4-3zm1-1zm3-25zm4 26zm-1 1zm1 0zm-4 2zm1 2zm2 2zm0 5zm2 0zm0 2zm-5 1zm1 0zm-1 1zm2 0zm1 0zm0 2zm0 1zm-2 2zm1 0zm1 0zm1 1zm-4 1zm1 0zm2 1zm0 3zm3 0zm-4 2zm12 1zm1 0zm-5-1zm3-3zm-5-5zm2-2zm1 0zm-1-1zm-1-2zm4 0zm2-4zm-7-3zm5-3zm-4-8zm14 0zm-2 18zm1 9zm-3 4zm5 6zm6-12zm-6-3zm4 0zm2-20zm9 17zm5 4zm12-7zm5-1zm1-1zm9 11zm28-2z"/><path stroke="#3a8fa3" stroke-opacity="0.48" d="M125 85zm1-7zm9-5zm-2 7zm-3 2zm7 5zm0-2zm4-1zm-1-2zm1-1zm0-1zm-4-1zm1-1zm4-1zm-2-1zm1 0zm-5-2zm5 0zm-4-1zm0-3zm3 0zm2-2zm-3-6zm10 0zm0 1zm-5 2zm3 3zm4 1zm-5 1zm4 1zm1 0zm-3 2zm2 0zm0 1zm-6 2zm0 1zm1 0zm3 0zm-2 2zm3 1zm2 0zm-4 1zm0 1zm10 3zm-2-3zm1 0zm-2-1zm1-1zm-2-1zm5 0zm0-1zm-6-1zm1 0zm1 0zm-1-1zm4 0zm1 0zm-4-1zm4 0zm1 0zm-5-1zm1 0zm2-1zm1 0zm-6-3zm5 0zm1 0zm-2-5zm-3-4zm11 1zm2 1zm-5 2zm3 1zm1 0zm-2 1zm0 2zm2 0zm-2 4zm3 0zm1 0zm-3 3zm1 0zm-3 3zm2 0zm-4 1zm2 0zm5 0zm0 3zm-4 1zm8 1zm4-3zm-5-1zm-1-1zm2-1zm2 0zm-4-1zm1-1zm1 0zm0-1zm-2-1zm3 0zm-4-1zm1 0zm1 0zm1 0zm3 0zm-6-2zm4 0zm1 0zm-5-1zm1-1zm4 0zm-3-1zm4 0zm1-1zm-5-1zm3 0zm-4-6zm11-4zm2 3zm-6 6zm3 1zm-2 4zm1 0zm5 0zm-6 1zm0 1zm0 1zm1 0zm3 1zm0 1zm-3 1zm4 0zm-6 1zm6 0zm-6 1zm2 0zm-1 1zm4 0zm1 0zm-5 1zm9-2zm-2-3zm5-1zm-3-10zm3-2zm-1-4zm4 16zm0 1zm2 2zm-1 4zm13-8zm5 0z"/><path stroke="#d0a028" stroke-opacity="0.34" d="M159 67zm0-7zm2-6zm3 1zm2 0zm-1 6zm0 3zm1 0zm-6 1zm4 2zm-1 5zm-2 1zm3 2zm2 0zm0 1zm-4 2zm-1 7zm9-6zm4 0zm-5-1zm3 0zm1 0zm-1-1zm2-1zm-3-1zm-3-1zm2 0zm1 0zm2-2zm1 0zm-6-1zm2-1zm1-1zm-1-1zm5 0zm0-1zm-4-1zm-1-1zm3 0zm-4-1zm0-1zm4 0zm-4-1zm5 0zm-1-1zm1 0zm-3-1zm2 0zm-2-1zm2 0zm2 0zm-5-2zm4 0zm1-1zm-1-2zm-3-1zm3 0zm-6-2zm7-1zm2 1zm5 0zm-4 3zm3 0zm-4 2zm3 0zm-2 1zm2 1zm2 1zm-2 1zm1 1zm-2 1zm2 0zm1 0zm-5 1zm3 0zm3 0zm-4 1zm2 0zm-1 2zm1 0zm-1 1zm1 0zm2 0zm-5 2zm3 0zm1 0zm-6 2zm5 0zm-5 1zm1 1zm-1 2zm4 2zm2 0zm-6 1zm5 0zm-2 1zm1 0zm-2 1zm2 0zm1 0zm-2 5zm-1 2zm9 2zm1-2zm2-3zm-3-1zm1 0zm0-2zm-1-1zm3 0zm1 0zm-5-1zm1-1zm1 0zm2-1zm1 0zm-7-1zm3 0zm4 0zm-4-1zm1-1zm3 0zm-2-1zm-4-1zm3 0zm-4-1zm1 0zm0-1zm2 0zm-2-1zm1-1zm-1-1zm2 0zm-1-2zm4 0zm-2-1zm-1-1zm3 0zm1 0zm-7-1zm4 0zm3 0zm-7-2zm6 0zm0-1zm0-1zm1 0zm-2-1zm-1-6zm-4-3zm13-2zm-3 7zm4 6zm0 1zm-4 1zm1 1zm3 0zm1 3zm-4 1zm-1 3zm1 0zm4 0zm-1 2zm-3 1zm3 1zm-5 1zm0 2zm5 0zm-4 2zm-1 2zm0 1zm2 0zm-2 1zm0 1zm3 0zm1 0zm1 0zm-4 2zm6-6zm2 0zm3-1zm-2-3zm2-1zm0-1zm2 0zm-3-3zm-3-3zm-1-2zm7 0zm-4-2zm2-1zm2-1zm2 2zm-1 2zm2 6zm1 3zm-1 7zm6-11zm12 2zm10-10zm5 0zm9 9zm-3-3zm6-6z"/><path stroke="#3a8fa3" stroke-opacity="0.48" d="M127 76zm2-5zm0 3zm2 0zm3 4zm-2 2zm3 4zm1-4zm5 0zm1-1zm-3-1zm0-1zm3-1zm-6-1zm4-3zm-1-3zm1-1zm2-5zm5 6zm3 0zm-4 1zm4 0zm-2 1zm1 0zm2 0zm-5 2zm-1 1zm2 0zm1 0zm1 0zm-1 1zm1 0zm-4 3zm3 0zm1 0zm-5 2zm5 0zm1 0zm-5 4zm10 0zm1-3zm3 0zm-6-1zm3 0zm2 0zm-1-1zm1 0zm0-1zm1 0zm-5-1zm3 0zm-5-1zm3 0zm0-1zm1 0zm-2-1zm3 0zm-3-1zm5 0zm-2-1zm-1-1zm3 0zm-3-2zm3 0zm0-3zm-5-4zm13 5zm-5 1zm2 1zm3 0zm-5 1zm5 0zm-7 1zm3 0zm1 2zm1 0zm-3 1zm1 0zm3 0zm-6 1zm1 0zm1 0zm-1 1zm2 0zm1 0zm1 0zm2 1zm-5 1zm1 0zm1 0zm-3 1zm-1 1zm1 0zm5 0zm-4 3zm0 1zm13 1zm-7-1zm2-3zm1 0zm-2-1zm-1-1zm0-1zm5 0zm-5-1zm4 0zm1 0zm-3-1zm5 0zm-5-1zm2 0zm3 0zm-2-1zm0-1zm-5-2zm4-2zm2-3zm-1-5zm0-1zm5 6zm-1 4zm-1 2zm3 1zm-2 1zm2 0zm-1 1zm0 1zm5 0zm0 1zm-6 1zm2 1zm1 0zm3 0zm0 1zm-3 1zm-4 1zm6 4zm4-8zm0-1zm-2-2zm2 0zm-2-1zm1-3zm6 0zm-4-4zm-3-2zm9 2zm2 7zm2 1zm-5 3zm4 2zm-4 1zm14-2zm1-3zm-1-4zm-4-5zm9-2zm16 4z"/><path stroke="#d0a028" stroke-opacity="0.34" d="M159 60zm8-12zm-6 8zm1 1zm1 0zm1 1zm-3 1zm-1 1zm1 0zm2 2zm2 1zm1 0zm-3 1zm2 4zm2 1zm-2 1zm0 1zm-3 1zm2 0zm2 3zm-1 5zm-4 1zm-1 1zm7 0zm-3 2zm0 3zm7-4zm4 0zm-2-3zm-3-1zm1 0zm1 0zm-2-1zm3 0zm1-1zm-3-1zm3 0zm-6-3zm3 0zm3 0zm1 0zm-4-2zm1 0zm-4-1zm1 0zm4 0zm-3-2zm1 0zm1-1zm-2-1zm2 0zm-4-1zm5-1zm-4-1zm6 0zm-7-2zm1 0zm4 0zm0-1zm-5-1zm2-1zm-2-1zm0-3zm0-1zm1 0zm3-2zm-2-5zm12-8zm-3 10zm3 1zm-5 5zm5 0zm-4 5zm1 2zm4 0zm-3 1zm3 1zm-6 1zm4 0zm1 0zm-6 1zm1 0zm3 1zm3 0zm-7 1zm0 1zm1 0zm2 0zm-2 1zm4 0zm1 0zm-6 1zm2 0zm2 0zm2 1zm-4 1zm3 0zm-3 1zm5 2zm-4 1zm-1 1zm2 0zm2 0zm-2 1zm-4 1zm1 0zm1 0zm0 1zm2 1zm0 2zm-4 3zm2 1zm6-4zm3-2zm1-1zm-4-1zm1-1zm2 0zm4 0zm-1-1zm-3-2zm3 0zm-6-3zm1 0zm3 0zm1 0zm-4-1zm-1-1zm5 0zm1 0zm1 0zm-6-1zm3 0zm2 0zm-2-1zm-3-1zm-1-1zm2 0zm3 0zm-4-1zm1 0zm2-1zm-2-1zm2-6zm-4-1zm0-2zm6 0zm-2-2zm3-3zm8 10zm-3 3zm-4 1zm1 5zm0 2zm3 1zm3 0zm-5 1zm1 0zm0 2zm-3 1zm3 1zm0 1zm-1 1zm4 0zm-5 3zm4 0zm3 2zm5 0zm-5-4zm1 0zm1-4zm-1-3zm1-1zm-1-2zm2 0zm-1-1zm4 0zm-5-2zm6-2zm-3-3zm11-2zm-5 5zm3 5zm-1 10zm2 0zm-6 2zm2 1zm-1 4zm12-29zm6 9zm1 9zm0 3zm9-4zm-3-5zm20-2zm0-1zm1-3zm14 18z"/><path stroke="#3a8fa3" stroke-opacity="0.48" d="M127 76zm3-13zm1 13zm0 2zm-2 3zm1 2zm10 0zm2 0zm-1-2zm2-3zm-4-3zm3-4zm-3-2zm3 0zm0-2zm7-10zm1 5zm-2 3zm1 2zm-4 3zm3 1zm2 0zm-1 1zm2 0zm-6 1zm-1 1zm4 1zm3 0zm-3 1zm3 1zm-2 1zm-4 1zm2 1zm2 1zm2 0zm-3 2zm8 5zm-4-1zm2-3zm2 0zm-3-1zm-1-1zm3-1zm4-1zm-5-1zm5 0zm-7-1zm2 0zm0-1zm1 0zm4-1zm-5-1zm1 0zm4 0zm-5-1zm4 0zm1 0zm-5-1zm2 0zm2 0zm1 0zm-5-1zm3 0zm-4-1zm3-1zm-1-1zm-3-1zm2 0zm0-2zm3 0zm-1-2zm5 3zm6 1zm-5 3zm2 0zm-3 1zm4 0zm-5 1zm3 0zm-2 1zm4 0zm-2 2zm-1 1zm5 0zm-7 1zm1 0zm5 0zm-5 1zm4 0zm0 1zm2 5zm4-5zm1 0zm-4-1zm1 0zm0-1zm2 0zm-3-1zm5 0zm0-1zm2 0zm-6-1zm2 0zm1 0zm3 0zm-2-1zm2-1zm0-1zm-6-1zm-1-1zm1 0zm3-1zm-2-2zm6-1zm1 0zm0 2zm4 0zm-5 2zm1 1zm5 1zm-3 1zm2 0zm1 0zm1 0zm-1 1zm1 0zm-5 1zm2 0zm-3 1zm6 0zm-6 1zm4 2zm2 0zm0 6zm5-5zm-3-3zm3-1zm3 0zm-1-3zm-6-2zm0-3zm4-5zm8 0zm2 1zm1 2zm-5 13zm-1 1zm12-1zm-1-7zm0-1zm24 9z"/><path stroke="#d0a028" stroke-opacity="0.34" d="M153 69zm5-2zm-2-1zm3-16zm4-8zm4 10zm-4 1zm0 8zm-1 1zm5 1zm-4 1zm4 1zm-3 1zm3 0zm-2 2zm-2 1zm-3 1zm6 0zm-1 7zm6 7zm-2-3zm1-1zm-1-1zm1 0zm3 0zm0-1zm1 0zm-2-1zm3 0zm-6-1zm2-2zm4 0zm-7-1zm1 0zm1 0zm1 0zm1 0zm1 0zm2 0zm-2-1zm2 0zm-6-1zm4 0zm-1-1zm-3-1zm5-1zm-1-1zm-2-1zm3-1zm-2-1zm2-1zm-5-1zm4 0zm-3-1zm5-1zm-1-2zm-2-2zm1 0zm5-9zm-2 2zm4 4zm-2 1zm5 0zm-1 3zm-2 2zm0 1zm1 0zm-1 1zm1 0zm2 1zm-5 1zm-2 1zm2 1zm4 0zm1 0zm-6 1zm5 0zm-5 1zm1 0zm0 1zm0 1zm1 0zm1 0zm3 0zm-3 1zm2 1zm-3 1zm1 0zm2 1zm-2 1zm-2 1zm2 0zm-3 1zm6 0zm-5 2zm1 0zm2 0zm-5 2zm4 0zm1 4zm3 3zm4-3zm3-1zm-3-4zm-3-1zm1-1zm3 0zm1 0zm-3-1zm4 0zm-7-1zm0-1zm4-1zm-1-1zm-3-1zm2 0zm0-1zm1 0zm1 0zm-4-1zm2 0zm1 0zm0-1zm1 0zm1 0zm1 0zm-1-1zm-3-2zm4-1zm-5-2zm1 0zm2 0zm0-2zm0-1zm-3-2zm3-2zm3 0zm-4-1zm5-10zm5 13zm-3 2zm1 0zm-3 2zm5 3zm-5 1zm3 1zm3 1zm-5 2zm2 0zm2 0zm-5 1zm2 0zm2 2zm-2 1zm1 2zm1 0zm3 1zm-4 1zm2 0zm1 1zm0 1zm-1 1zm-3 3zm1 0zm3 2zm-5 1zm8-4zm4-5zm-1-2zm1 0zm-1-4zm0-3zm2-1zm-6-3zm6-4zm-5-1zm4 0zm-1-2zm11 6zm-3 2zm-2 5zm2 0zm-1 2zm-1 1zm-1 1zm3 5zm-3 1zm8 6zm6-1zm-4-19zm0-10zm-1-7zm11 1zm-4 21zm1 5zm12-1zm13-4zm-2-4zm14 19zm26-7zm12-1z"/><path stroke="#3a8fa3" stroke-opacity="0.48" d="M126 76zm9-8zm-5 2zm4 1zm-4 5zm3 0zm-2 5zm9-3zm-4-1zm0-1zm5-1zm-1-1zm-2-1zm2 0zm2 0zm1 0zm-6-8zm6 0zm5 5zm3 0zm-6 1zm2 0zm-2 2zm1 1zm4 0zm1 1zm-7 1zm6 0zm-5 1zm0 1zm5 0zm-6 2zm7 0zm-4 2zm7 1zm0-1zm3 0zm-2-3zm1 0zm1 0zm-5-1zm1 0zm3 0zm-1-1zm4 0zm-5-1zm-2-1zm2 0zm1 0zm1 0zm0-1zm1 0zm2 0zm-7-2zm4 0zm-2-1zm3 0zm-2-1zm1 0zm0-1zm-3-1zm6 0zm-5-5zm10-4zm1 3zm-1 2zm-2 3zm-2 1zm0 1zm7 0zm-1 1zm-2 1zm2 0zm-6 1zm6 0zm0 1zm0 1zm1 0zm-2 1zm1 0zm1 1zm-4 1zm4 0zm-6 1zm3 0zm2 0zm1 2zm-1 4zm9 0zm0-1zm-5-1zm-2-1zm2 0zm2-2zm-3-1zm5 0zm-4-1zm2 0zm2 0zm1 0zm-6-1zm1 0zm2 0zm1 0zm-5-2zm2 0zm1 0zm-3-1zm7 0zm0-1zm0-1zm-6-2zm-1-1zm0-3zm6-2zm-5-5zm10 0zm3 5zm-1 1zm-4 5zm3 1zm-3 1zm1 0zm2 1zm2 0zm-3 1zm-2 1zm1 0zm4 0zm-4 1zm-1 2zm4 1zm-5 2zm0 2zm6 3zm4-1zm-1-3zm-1-1zm1 0zm6-1zm-4-2zm2 0zm-4-1zm0-5zm2 0zm-1-1zm4-2zm-5-2zm12 1zm-2 2zm-3 6zm3 2zm2 7zm-5 3z"/><path stroke="#d0a028" stroke-opacity="0.34" d="M147 72zm8 7zm3-3zm1-4zm-2-1zm-1-1zm7-14zm1 3zm1 1zm-1 2zm-2 1zm5 0zm-5 1zm4 0zm1 2zm-6 2zm6 0zm-4 1zm2 0zm-1 2zm0 1zm1 6zm1 2zm0 1zm-1 1zm1 4zm5-1zm3-2zm-4-1zm1-5zm2-1zm1 0zm-1-1zm2 0zm0-1zm-5-1zm3 0zm1 0zm-2-1zm2-1zm-4-1zm-1-3zm2 0zm4-1zm-5-1zm2-1zm-2-1zm1 0zm3-1zm1-2zm-5-1zm1 0zm1-2zm0-1zm-4-1zm2-2zm5 0zm-5-5zm7-18zm2 5zm1 5zm2 8zm-3 3zm-3 6zm0 6zm1 0zm3 0zm-4 2zm1 0zm1 0zm1 0zm1 0zm1 0zm-1 1zm2 0zm-5 1zm3 0zm-4 1zm5 0zm-5 1zm6 0zm-6 1zm6 0zm1 0zm-4 1zm-3 1zm2 0zm5 1zm0 1zm-6 1zm3 0zm-4 3zm0 1zm2 0zm1 0zm4 0zm-4 1zm-2 4zm4 0zm9 2zm1-1zm-3-4zm2-1zm1 0zm-3-1zm-3-1zm6 0zm-3-1zm0-1zm1 0zm-5-1zm5 0zm1 0zm-5-2zm1 0zm5 0zm-7-1zm1 0zm1 0zm2 0zm3 0zm-6-2zm-1-4zm7 0zm-7-2zm1 0zm3 0zm1 0zm-5-1zm6 0zm-6-3zm5-1zm1 0zm-5-1zm4 0zm-5-3zm3-1zm-3-5zm11 6zm-1 3zm-1 2zm6 0zm-6 1zm0 1zm1 2zm-2 1zm0 1zm5 0zm-1 3zm3 1zm-6 2zm-1 1zm1 0zm6 0zm0 1zm-1 1zm-6 1zm7 0zm-2 1zm1 0zm-4 1zm2 0zm1 2zm-1 3zm-4 1zm9-4zm1-2zm0-2zm-2-2zm7-3zm-4-3zm2-6zm2-1zm-4-1zm-1-1zm2-1zm-3-2zm12 2zm-3 2zm0 6zm5 3zm-4 4zm4 4zm-1 4zm8-2zm-2-8zm-2-7zm4-1zm-5-15zm19 31zm-1-2zm0-5zm13-3zm6-1zm-3-4zm16 15zm28 5zm17-15zm17 6z"/><path stroke="#3a8fa3" stroke-opacity="0.48" d="M127 76zm3-6zm5 3zm0 7zm-3 4zm5 0zm4-5zm2 0zm-3-3zm3 0zm-5-1zm3-1zm-3-1zm0-6zm2-2zm6-4zm4 4zm-2 4zm3 1zm-4 1zm1 0zm-4 1zm0 1zm1 0zm0 1zm-1 1zm4 0zm3 1zm-6 2zm5 0zm-4 1zm-2 1zm3 2zm2 0zm1 0zm-5 1zm3 1zm5-1zm2 0zm1-1zm2 0zm-2-1zm3 0zm-7-1zm1 0zm3 0zm-4-1zm1 0zm3 0zm1 0zm-5-1zm5 0zm2-1zm-4-3zm2-1zm1 0zm1 0zm-4-1zm1 0zm-4-3zm0-1zm4 0zm-4-1zm1 0zm1-1zm0-4zm13 6zm-2 1zm-4 1zm0 1zm0 2zm1 0zm4 1zm-4 1zm3 0zm-5 1zm3 0zm4 0zm-3 1zm-1 1zm2 0zm1 0zm-4 1zm3 1zm-5 1zm3 0zm2 0zm1 0zm0 3zm-1 4zm4-2zm0-2zm3-1zm0-1zm0-2zm2-1zm-4-1zm1 0zm2 0zm1 0zm-6-2zm1 0zm1-1zm4-1zm-5-4zm4 0zm2 0zm-1-1zm-3-1zm3 0zm-3-2zm12-2zm-6 5zm1 0zm5 1zm-6 2zm4 0zm1 0zm-1 1zm-3 2zm1 0zm-2 1zm2 0zm-2 2zm5 0zm-3 1zm-3 1zm5 0zm-1 1zm0 5zm9-5zm-5-1zm2-3zm2 0zm-3-2zm0-1zm5 0zm1-1zm-2-1zm-3-1zm3 0zm1 0zm-1-3zm-1-1zm4 4zm1 1zm4 3zm-5 11zm8-5zm1-2zm2-7zm2-3zm-1-1zm9 6zm1 1z"/><path stroke="#d0a028" stroke-opacity="0.34" d="M158 79zm0-1zm-5-13zm9-20zm-2 5zm7 2zm-1 2zm1 0zm-6 2zm1 4zm2 2zm2 1zm0 3zm-4 1zm2 0zm3 0zm-7 3zm1 2zm1 0zm3 0zm-4 4zm1 2zm-2 3zm1 4zm9 2zm0-3zm0-1zm4-1zm-6-2zm1 0zm3-2zm2 0zm-6-2zm7 0zm-1-1zm-6-1zm2-1zm1-2zm1 0zm1 0zm-1-1zm1 0zm1-1zm-1-1zm-3-1zm3-1zm-3-1zm4 0zm-1-1zm0-1zm-1-1zm-4-2zm1 0zm2 0zm1 0zm1-1zm1-1zm0-3zm-6-2zm2 0zm-1-1zm6-3zm-6-2zm4-10zm0-3zm5 14zm2 8zm-3 4zm4 0zm-3 2zm3 0zm-4 1zm1 0zm5 0zm-2 1zm1 0zm1 1zm-5 1zm-2 1zm3 1zm3 0zm-6 2zm2 1zm4 0zm-2 2zm3 1zm-6 1zm2 0zm-1 2zm5 1zm-3 1zm0 1zm-4 2zm5 0zm-5 1zm9 4zm2 0zm0-2zm2-1zm-3-3zm4 0zm-1-1zm-1-1zm1-1zm2-1zm-7-1zm1 0zm6 0zm-7-1zm0-1zm3 0zm3 0zm-6-1zm2-2zm4-1zm1 0zm-7-2zm2-1zm1 0zm3 0zm1 0zm-7-1zm6 0zm-3-1zm2 0zm-3-1zm5 0zm-7-1zm2 0zm5 0zm-2-2zm2 0zm-7-2zm4 0zm-4-1zm1-2zm7-5zm2 6zm3 0zm-3 1zm3 2zm-2 2zm3 2zm-4 3zm2 0zm-4 1zm4 0zm-2 1zm-2 1zm1 0zm5 0zm-6 3zm1 1zm4 0zm-4 2zm2 0zm1 2zm-4 1zm4 0zm2 0zm1 1zm-1 2zm0 1zm2 2zm4-12zm3 0zm-7-3zm6 0zm-5-1zm-1-1zm1 0zm1 0zm1-1zm-3-3zm1-2zm3-2zm1-2zm-1-3zm-3-1zm3-3zm8 17zm0 1zm-3 9zm6 0zm-1 5zm-6 4zm11-16zm-2-13zm7 11zm5 3zm-1 7zm-4 8zm15-23zm14 12zm-3-13zm51 18zm34 3z"/><path stroke="#3a8fa3" stroke-opacity="0.48" d="M126 84zm6-14zm3 3zm0 2zm-3 2zm-4 4zm6 2zm7-4zm-2-1zm1 0zm0-1zm-4-1zm2 0zm2 0zm2 0zm-1-3zm0-8zm0-1zm10 0zm-6 5zm6 0zm-5 2zm5 0zm-6 2zm2 0zm-3 1zm1 0zm1 0zm3 0zm0 1zm-3 1zm1 0zm4 0zm-2 1zm-3 1zm-2 1zm3 0zm0 1zm2 1zm-5 2zm11-2zm4 0zm-4-1zm-2-1zm3 0zm2 0zm0-1zm-6-1zm5 0zm2 0zm-1-1zm1 0zm-6-1zm3-1zm1 0zm2 0zm-3-1zm2 0zm-4-1zm3 0zm-3-2zm-1-5zm3 0zm9-5zm-5 4zm1 6zm1 0zm4 0zm-4 1zm4 0zm-2 1zm2 0zm-4 1zm4 0zm-6 1zm5 0zm-1 1zm-1 1zm4 0zm-5 1zm-1 1zm3 0zm3 0zm-7 1zm1 0zm2 0zm0 1zm2 0zm-4 1zm2 0zm10 4zm-4-1zm3-1zm-1-1zm-2-4zm5 0zm-4-1zm1 0zm2-1zm-4-1zm1 0zm2 0zm1 0zm2 0zm-6-1zm4 0zm-2-1zm-3-1zm5 0zm-5-1zm2 0zm3 0zm2 0zm-6-1zm4 0zm-2-3zm0-1zm12-8zm-7 7zm7 3zm-5 2zm5 0zm-6 2zm6 0zm0 2zm-4 1zm0 1zm3 5zm-2 3zm7-1zm-2-1zm4-1zm-2-1zm1 0zm-3-1zm6-2zm-3-1zm-4-1zm7-1zm0-7zm-4-2zm5-4zm1 5zm3 1zm-3 8zm7 5zm5-6zm3 9z"/></g></g>
<g clip-path="url(#c1)"><g stroke-width="1.7" stroke-linecap="round" fill="none"><path stroke="#d0a028" stroke-opacity="0.34" d="M319 88zm-4-3zm4-2zm-6-1zm-1-1zm2-3zm1-5zm2-11zm8-4zm0 2zm-5 7zm1 3zm4 7zm0 2zm-1 2zm-4 2zm7 0zm-7 1zm12 2zm1-3zm2 0zm-5-4zm5-2zm-3-1zm3 0zm-7-6zm6 0zm-3-1zm0-1zm-1-5zm5-1zm-7-1zm5 0zm-4-2zm8-5zm2 0zm0 1zm2 2zm-1 2zm2 0zm-1 1zm0 3zm2 0zm-2 1zm-4 1zm3 0zm2 0zm0 3zm-5 1zm5 0zm1 0zm-7 1zm3 0zm0 2zm3 0zm1 0zm-5 1zm5 0zm-3 3zm3 7zm-7 3zm11 2zm1-1zm2-2zm-5-7zm0-1zm1 0zm4 0zm0-1zm-5-1zm2 0zm3 0zm-5-2zm5-1zm-4-1zm5 0zm-3-1zm2 0zm-1-1zm-3-2zm-1-1zm3-1zm2 0zm-2-1zm-2-2zm5 0zm-3-3zm6-6zm0 3zm2 0zm2 0zm-5 2zm-1 2zm0 6zm3 0zm-2 2zm1 0zm1 1zm3 0zm-4 1zm0 1zm-2 2zm4 0zm1 0zm-4 2zm3 1zm1 0zm2 0zm0 1zm-5 1zm0 1zm4 0zm1 0zm-6 1zm4 2zm-3 1zm4 0zm-3 4zm12 0zm-6-2zm2-1zm-1-4zm1 0zm-1-1zm1 0zm2-2zm2-2zm-5-2zm2 0zm3 0zm-7-1zm4 0zm-3-1zm1-1zm5-6zm-3-1zm-3-1zm-1-1zm1-5zm2-2zm10-9zm-4 4zm2 5zm2 5zm-4 2zm6 0zm-5 1zm3 1zm-1 2zm0 1zm-1 1zm1 1zm0 2zm-4 1zm3 2zm1 1zm-2 1zm4 0zm-4 2zm8-3zm4-2zm-4-2zm1-1zm-1-3zm0-2zm0-1zm-1-1zm-1-1zm7-1zm-4-2zm-2-2zm3 0zm-2-6zm3-1zm4-6zm3 17zm-1 4zm2 2zm-3 3zm-2 1zm0 5zm8-2zm6 0zm-6-3zm1-1zm2 0zm-2-4zm1-1zm5-1zm-4-4zm-2-2zm-1-2zm7-15zm4 13zm-2 1zm2 2zm-3 3zm2 10zm4 3zm3-16zm6-2zm-5-15z"/><path stroke="#3a8fa3" stroke-opacity="0.48" d="M343 63zm0 6zm-1 3zm1 0zm0 1zm-1 1zm-2 3zm3 0zm0 1zm-7 4zm14-3zm-2-1zm3-2zm0-1zm-1-1zm-1-1zm-4-1zm2 0zm4 0zm0-2zm-7-1zm7-1zm-7-2zm4-1zm2-2zm-3-1zm1-3zm5 3zm5 5zm0 1zm-3 1zm4 0zm-7 4zm0 2zm4 0zm1 1zm-2 2zm0 2zm0 3zm-1 1zm9-3zm-2-1zm5 0zm-4-1zm1-2zm4 0zm-2-1zm-4-1zm1-1zm2 0zm1-1zm-4-3zm2 0zm-3-1zm5-1zm4-7zm6 2zm-1 1zm1 3zm-7 2zm7 1zm-7 1zm2 0zm0 1zm3 1zm-5 1zm5 0zm1 0zm-6 1zm3 1zm-1 1zm3 0zm1 0zm-5 1zm5 0zm-6 1zm2 0zm1 0zm2 0zm2 0zm-1 1zm1 0zm4 5zm-2-4zm1 0zm0-4zm-1-1zm2 0zm1-2zm0-1zm-1-3zm0-1zm1-2zm-2-4zm13-1zm-4 8zm1 0zm-4 3zm5 1zm1 0zm-5 2zm5 0zm-4 1zm8 7zm4-1zm-6-3zm2 0zm1-1zm4 0zm-7-3zm6 0zm-5-2zm1 0zm5-1zm-1-2zm-4-1zm4-2zm-1-4zm9 4zm-5 4zm-1 1zm2 1zm1 3zm1 0zm1 0zm-3 3zm6 8zm0-6zm0-1zm3-3zm1-2zm-2-2zm3 0zm-4-1zm4 0zm-2-4zm5 2zm7 1zm-1 1zm1 0zm-1 1zm-4 9zm11-2zm-3-8zm7 2zm1 0zm4 1zm6 4zm0-9zm4 2zm2 4zm11 9zm32-17zm41 4z"/><path stroke="#d0a028" stroke-opacity="0.34" d="M311 82zm4 6zm-2-2zm1-2zm-2-3zm5-4zm2-10zm3-10zm4 4zm1 2zm-2 7zm0 3zm0 3zm-2 4zm0 1zm11 3zm-1-3zm-2-2zm2-8zm-1-1zm3 0zm-7-1zm1-1zm5-1zm-2-1zm1 0zm-4-1zm-1-1zm6-2zm1 0zm-2-1zm0-1zm1-6zm4 5zm1 0zm2 0zm-4 1zm6 0zm-7 3zm6 0zm-6 1zm1 0zm3 0zm-2 1zm1 1zm-2 1zm5 0zm1 0zm-5 2zm1 0zm1 0zm2 0zm1 0zm-7 1zm3 0zm2 3zm-2 1zm1 0zm-3 1zm3 0zm1 0zm2 1zm-7 1zm6 0zm-3 1zm0 1zm4 1zm0 7zm4-1zm2-2zm1 0zm-3-4zm1 0zm2 0zm-1-2zm-2-1zm1 0zm2 0zm-1-1zm2 0zm-5-1zm3-1zm-4-2zm2 0zm4 0zm0-1zm-3-1zm-1-1zm3 0zm0-2zm-6-1zm4-2zm0-1zm-4-2zm3 0zm3 0zm1-2zm0-1zm-7-1zm14-1zm-1 1zm2 0zm-3 5zm-2 1zm-2 2zm6 1zm-6 2zm4 0zm-4 1zm1 0zm4 1zm-3 1zm1 0zm-3 1zm6 0zm0 6zm-6 1zm1 0zm6 0zm-7 1zm2 1zm5 0zm-4 1zm7 4zm-2-6zm3-1zm4-2zm0-2zm-7-1zm7-1zm-6-1zm-1-1zm2-1zm1-1zm-3-2zm7 0zm-4-1zm3-3zm0-1zm1-1zm-6-1zm6-1zm-1-2zm5-8zm3 1zm-3 4zm3 6zm-3 1zm2 2zm-1 1zm1 1zm2 1zm-2 3zm1 0zm-1 2zm1 0zm-2 2zm-2 1zm-1 1zm-1 1zm7 0zm0 2zm-2 1zm9 4zm-6-5zm4-2zm1 0zm-3-1zm3 0zm-3-2zm1 0zm0-4zm-1-1zm5 0zm-5-2zm0-2zm0-1zm-1-1zm-1-2zm5 0zm7-15zm-3 11zm4 6zm-5 3zm3 0zm-3 5zm3 0zm-1 2zm0 1zm-1 1zm11-6zm-1-4zm-3-2zm0-4zm7-2zm-3-3zm2-3zm2-1zm3 15zm6-4zm7-19z"/><path stroke="#3a8fa3" stroke-opacity="0.48" d="M318 75zm17 5zm-1-9zm1-2zm8-6zm-3 1zm-3 5zm3 0zm0 1zm0 1zm1 1zm-2 3zm1 0zm3 1zm-5 1zm0 1zm2 0zm1 0zm-1 2zm-3 1zm6 1zm-3 4zm10-6zm1-1zm-4-1zm-1-1zm-2-1zm2-1zm1 0zm1-4zm-1-2zm7-6zm2 0zm0 4zm-2 1zm-2 1zm0 2zm1 0zm2 0zm-1 1zm3 0zm-1 1zm3 0zm-1 1zm-2 1zm-3 1zm6 1zm-6 1zm1 0zm3 2zm1 2zm0 2zm3-1zm5-3zm-6-2zm4 0zm0-1zm-4-1zm5 0zm-5-1zm3-1zm1 0zm1 0zm2-2zm-1-1zm1 0zm-6-2zm4 0zm7 3zm3 0zm-7 2zm6 0zm1 1zm-5 1zm2 0zm1 0zm-2 1zm1 0zm2 0zm-4 1zm3 1zm1 2zm1 0zm1 6zm1-7zm3-3zm3 0zm-3-1zm2 0zm-5-1zm5-1zm-5-1zm-1-1zm1 0zm3 0zm3-12zm3 8zm-2 3zm4 0zm0 1zm0 2zm-4 1zm3 0zm-3 1zm5 0zm0 1zm-5 3zm2 2zm1 0zm4 0zm-6 1zm5 0zm9-5zm-7-1zm7-2zm-7-1zm5 0zm-2-2zm4 0zm-3-2zm-4-5zm7-2zm3 12zm3 0zm0 1zm2 2zm-2 1zm-2 1zm1 0zm5 6zm-1-2zm5-4zm-3-1zm2 0zm2-4zm-4-6zm12-4zm-4 8zm0 3zm-2 5zm8 2zm3-6zm-1-2zm1-4zm2-2zm5 1zm-2 2zm3 7zm-2 1zm2 1zm6-15zm10-1zm1 5zm-1 3zm0 2zm-1 6zm9 4z"/><path stroke="#d0a028" stroke-opacity="0.34" d="M318 87zm0-8zm1 0zm0-17zm6-1zm2 4zm-4 1zm4 4zm-6 7zm5 6zm6 3zm-1-3zm-2-1zm6-2zm-5-1zm-2-1zm2-1zm-1-2zm-1-2zm0-7zm6 0zm-2-4zm3-1zm-7-1zm5-2zm2-2zm5 0zm-1 2zm-1 2zm0 4zm3 2zm1 0zm-1 1zm-3 2zm3 0zm0 1zm-4 2zm2 0zm2 0zm-5 1zm6 0zm1 1zm-7 1zm1 3zm4 0zm-2 2zm0 3zm1 0zm-3 2zm7 4zm0-2zm5-4zm-5-2zm6 0zm-4-2zm4 0zm-2-1zm3 0zm-1-1zm-6-1zm1 0zm5-1zm-4-1zm5 0zm-5-1zm-2-1zm1 0zm4 0zm-4-1zm1-1zm2 0zm-1-1zm-2-1zm2 0zm2 0zm-1-1zm0-2zm2 0zm-4-1zm3 0zm1 0zm-1-1zm0-2zm1 0zm-5-1zm4 0zm-4-2zm1 0zm4-3zm-6-3zm11 4zm4 0zm-3 2zm-4 1zm3 2zm2 6zm1 0zm1 0zm-7 1zm5 0zm-2 1zm4 0zm-4 1zm-3 1zm2 0zm4 3zm-6 1zm6 1zm1 0zm-3 2zm-3 2zm0 3zm3 1zm6 1zm-1-5zm0-2zm5-1zm-6-1zm3 0zm1 0zm-2-1zm0-1zm3 0zm2 0zm-3-1zm3-1zm-3-2zm1 0zm1-2zm-1-2zm-4-3zm6 0zm-5-2zm-2-1zm4-2zm3-1zm2-7zm1 2zm-2 4zm7 1zm-7 2zm2 2zm3 1zm-1 1zm1 0zm-5 1zm4 0zm2 0zm0 1zm1 2zm-7 2zm1 0zm1 0zm4 0zm1 0zm-2 2zm0 1zm-4 1zm4 1zm-1 1zm1 0zm-2 4zm1 4zm8-5zm3 0zm-3-2zm-1-1zm-1-1zm1-3zm-3-8zm3 0zm4 0zm-1-1zm-1-1zm0-3zm1-2zm1-1zm-3-1zm3-3zm-3-2zm-2-1zm4 0zm-1-4zm4 4zm-1 9zm4 4zm2 1zm-3 1zm3 0zm-6 3zm1 2zm3 0zm-1 4zm-3 1zm1 3zm3 0zm6-6zm1-5zm-3-2zm7-2zm0-3zm1-24zm4 11zm-4 4zm0 9zm5 6zm-3 6zm8-12z"/><path stroke="#3a8fa3" stroke-opacity="0.48" d="M333 68zm-3-2zm12-4zm-5 2zm6 0zm-1 5zm0 1zm0 6zm-2 4zm-2 2zm9 1zm2-5zm1-1zm-4-1zm3 0zm-1-1zm0-1zm1-4zm-2-3zm4-3zm6-2zm0 3zm0 1zm0 4zm1 1zm-4 2zm1 0zm4 0zm-1 1zm-1 2zm2 0zm-6 2zm2 0zm2 1zm-5 1zm4 2zm1 0zm-5 1zm0 1zm3 1zm4 0zm3 0zm4-1zm-1-1zm-3-1zm1-2zm1-1zm-3-2zm2 0zm1 0zm1 0zm-5-1zm1 0zm1 0zm3 0zm1 0zm-6-1zm5-1zm2 0zm-1-2zm1-3zm-4-1zm4-1zm0-1zm1 0zm5 2zm-3 1zm5 0zm-3 2zm3 0zm-5 1zm0 2zm1 0zm3 0zm-5 1zm3 0zm1 0zm2 0zm-7 1zm2 0zm3 0zm-1 1zm-3 1zm3 2zm1 0zm0 1zm-5 3zm12 1zm3-5zm-7-1zm7 0zm-4-1zm1-1zm-3-1zm2 0zm4-1zm-7-1zm0-1zm0-1zm7 0zm0-3zm0-1zm-1-1zm7-4zm2 5zm-2 1zm-5 1zm4 1zm-3 1zm4 1zm0 5zm-4 2zm2 0zm-1 1zm3 1zm0 3zm7-5zm1 0zm-2-1zm3-1zm-3-1zm2 0zm-3-2zm2 0zm1 0zm-2-2zm2-2zm1-3zm3-3zm1 8zm2 1zm-4 1zm4 0zm-3 1zm3 2zm-3 1zm0 1zm9-2zm1 0zm-1-2zm5-2zm1 1zm4 1zm-3 4zm4 4zm9 4zm-5-6zm5-3zm-3-4zm-3-5zm13-1zm8 12zm-5-4zm1-9zm11 8zm-2 3zm12 2zm7-14z"/><path stroke="#d0a028" stroke-opacity="0.34" d="M310 65zm3 22zm3-4zm3 0zm0-2zm-5-5zm-2-4zm3-9zm3-1zm9-6zm-1 6zm0 6zm-2 1zm2 5zm-6 4zm0 11zm12-6zm1-1zm-4-1zm4-1zm-2-2zm0-1zm-2-2zm6 0zm-4-1zm1-1zm-2-3zm3-1zm1-2zm0-1zm-4-1zm-2-1zm3-2zm4-1zm-3-7zm7-7zm-3 9zm3 5zm1 0zm-2 2zm1 0zm1 0zm0 1zm-1 1zm4 0zm-1 1zm1 0zm-4 1zm3 0zm-4 1zm1 0zm-1 1zm-1 1zm2 0zm-2 2zm1 0zm1 1zm-3 1zm4 1zm3 0zm-4 2zm2 1zm-5 1zm5 0zm2 2zm-1 1zm-3 2zm9-1zm-4-1zm1 0zm4 0zm-2-2zm2 0zm-3-2zm2-1zm-1-1zm2-2zm2-1zm-5-3zm3 0zm1 0zm-5-2zm-1-1zm4-1zm-1-1zm3 0zm1-1zm-5-6zm0-1zm12-4zm-6 2zm6 1zm-4 3zm0 1zm0 2zm5 2zm-3 1zm3 1zm-4 3zm4 1zm-7 1zm0 1zm2 0zm0 3zm4 2zm-4 1zm5 0zm-5 1zm4 1zm-3 2zm0 2zm12-3zm-7-1zm5-3zm-3-3zm5 0zm-7-1zm2 0zm-2-1zm6-1zm-1-2zm2-1zm-5-1zm-1-2zm4-4zm2-4zm-2-52zm5 40zm4 1zm-2 2zm3 5zm-3 1zm-4 2zm6 0zm-1 5zm2 0zm-1 1zm-5 1zm1 0zm5 0zm-7 2zm0 1zm2 2zm3 0zm-3 1zm2 1zm-4 2zm4 0zm-3 3zm-1 1zm2 4zm6-6zm2 0zm-2-1zm0-2zm2 0zm-1-1zm3-4zm3 0zm-1-1zm-6-2zm2-3zm-1-1zm6 0zm-1-1zm0-2zm-5-1zm12 1zm-1 2zm-2 2zm3 2zm0 2zm-4 2zm5 4zm-2 2zm-4 8zm15-4zm-2-5zm-2-1zm2 0zm2-2zm-2-5zm-2-2zm3-5zm-1-12zm8-6zm-2 16zm-3 1zm1 2zm4 0zm0 4zm-5 1zm2 3zm2 3zm-3 2zm4 0zm-2 2zm4 3zm7-7zm-6-6zm3-19z"/><path stroke="#3a8fa3" stroke-opacity="0.48" d="M335 80zm-3-1zm2-1zm-2-4zm-3-1zm0-1zm0-1zm13-2zm4 14zm2-4zm3-1zm-1-1zm-3-2zm-2-2zm6 0zm-3-2zm1-2zm-3-2zm1 0zm2-5zm4-1zm2 5zm1 0zm1 2zm-1 1zm0 1zm1 1zm0 1zm-2 1zm4 0zm-7 1zm3 0zm3 0zm-2 1zm1 1zm-1 1zm-3 1zm1 1zm4 1zm-1 1zm-2 2zm1 2zm9 1zm-3-4zm3-2zm-4-1zm0-1zm3-1zm-3-1zm1-1zm4 0zm1 0zm-2-1zm0-1zm-1-1zm-3-1zm5-2zm1 0zm8-6zm-1 2zm-6 3zm5 1zm1 0zm1 1zm-6 1zm2 0zm2 0zm-5 1zm4 1zm-4 1zm4 0zm-4 2zm4 0zm3 0zm-2 1zm-3 1zm5 0zm-6 1zm1 1zm1 0zm2 1zm-2 1zm4 3zm4-2zm-1-2zm2-1zm2-1zm-1-1zm-1-1zm1 0zm-3-1zm3-1zm-1-1zm-3-2zm6-1zm-6-1zm1-1zm3-3zm7-4zm-1 3zm2 3zm-2 4zm-3 1zm6 1zm1 1zm-6 1zm5 1zm-3 1zm-2 1zm6 3zm-4 1zm8 1zm-2-3zm1-1zm4-3zm1 0zm-1-2zm-4-1zm2-1zm0-2zm-3-1zm6-1zm-7-1zm0-2zm1-2zm5-5zm8 10zm0 5zm1 0zm-6 1zm2 1zm3 0zm-5 1zm1 0zm1 0zm0 1zm-3 3zm7 6zm3-6zm-2-3zm3-1zm8-4zm0 3zm1 1zm0 4zm3 0zm4 0zm3-1zm-5-1zm-1-11zm14 1zm-4 9zm0 5zm10-9zm12-4zm13 6z"/><path stroke="#d0a028" stroke-opacity="0.34" d="M311 81zm0 3zm-1 3zm8 1zm-1-2zm0-8zm-2-19zm-1-1zm12-3zm-3 1zm3 15zm-4 4zm1 0zm-1 8zm1 4zm8-3zm4-1zm-6-1zm3-3zm0-1zm-1-3zm2 0zm2-3zm-7-1zm5-1zm2 0zm-3-1zm-2-1zm1 0zm2-2zm-1-1zm-4-2zm2 0zm4-1zm1 0zm-4-1zm2 0zm-2-1zm-3-1zm7-1zm6-5zm0 2zm-1 1zm-1 2zm-1 1zm3 0zm-3 1zm3 0zm-2 1zm3 2zm-3 1zm2 0zm0 1zm-5 1zm4 0zm2 1zm-4 1zm1 2zm3 0zm1 0zm-6 2zm-1 1zm3 0zm2 0zm1 0zm-1 1zm-2 4zm3 1zm-1 1zm2 0zm-3 3zm-3 2zm1 1zm1 0zm3 1zm3 0zm6-1zm-6-3zm1-3zm4-1zm-2-1zm2 0zm-2-2zm3 0zm0-1zm-7-1zm2 0zm3 0zm-4-1zm2 0zm1 0zm0-4zm-4-1zm1 0zm2-1zm4 0zm-7-1zm0-1zm5 0zm-5-1zm1 0zm5-5zm-5-1zm1-1zm-2-4zm15-5zm-2 14zm-3 4zm1 1zm3 0zm-1 2zm-5 1zm6 0zm-4 1zm1 0zm4 0zm-7 1zm7 0zm-5 5zm5 3zm-7 5zm1 4zm10-8zm1-1zm2-2zm-3-3zm-1-1zm3 0zm1 0zm-2-2zm0-1zm-3-3zm3 0zm1-2zm0-2zm2 0zm-4-1zm4-4zm-7-4zm2-1zm11-3zm0 1zm0 2zm-1 5zm0 2zm1 0zm-3 2zm-1 4zm1 0zm5 1zm-3 2zm-1 1zm2 0zm-1 1zm-2 1zm2 0zm-4 2zm0 2zm1 1zm1 2zm6 4zm1-8zm0-2zm-1-2zm0-5zm4 0zm3-2zm-1-1zm-5-2zm2-1zm1-3zm3 0zm-6-1zm1 0zm2 0zm2-2zm1-2zm2 1zm1 1zm0 2zm-1 2zm4 0zm2 2zm-4 3zm2 3zm-1 1zm1 0zm-1 3zm-1 2zm-2 2zm0 3zm1 3zm13-11zm-5-3zm3-2zm-4-1zm2-3zm4-5zm-6-1zm6-15zm4 19zm-1 5zm5 2zm-7 9zm11-3zm-3-4zm2-16z"/><path stroke="#3a8fa3" stroke-opacity="0.48" d="M332 82zm-2-1zm2-7zm0-9zm0-4zm9 5zm0 1zm-3 4zm4 0zm-6 2zm2 4zm1 6zm7-2zm1 0zm3 0zm1 0zm-7-2zm4-1zm-3-1zm3-2zm3 0zm0-1zm-7-1zm7-2zm-4-2zm12-11zm0 5zm-4 3zm4 1zm-6 3zm3 2zm1 0zm-5 1zm2 0zm-1 1zm1 1zm2 1zm-1 1zm1 0zm2 0zm-4 2zm2 0zm-3 1zm2 0zm-2 2zm7 4zm1-5zm5 0zm1-1zm-7-1zm3 0zm1 0zm-3-2zm3 0zm-3-3zm3-1zm3-1zm-7-2zm3 0zm10-7zm-5 2zm2 0zm0 1zm5 2zm-7 3zm5 0zm-5 1zm5 1zm-3 1zm-2 3zm0 1zm3 0zm-3 3zm3 0zm3 0zm0 2zm-2 1zm9 1zm-4-4zm2 0zm3-1zm-4-1zm5 0zm-4-1zm1 0zm2 0zm1 0zm-5-1zm-1-2zm1 0zm3 0zm2 0zm-6-1zm2 0zm1 0zm-4-1zm1 0zm2 0zm1 0zm1-3zm1-1zm5-4zm-1 5zm2 3zm-2 2zm4 1zm-1 1zm-5 1zm7 2zm0 1zm-6 2zm1 1zm10 0zm2 0zm-4-1zm-2-1zm3 0zm-2-2zm3 0zm-2-2zm3 0zm-3-1zm4-4zm-4-1zm-2-1zm1-1zm7-3zm3 4zm3 2zm-6 1zm4 2zm-3 3zm-1 1zm5 0zm-1 3zm-4 2zm11 1zm1-6zm1-3zm-4-7zm10 5zm2 2zm0 4zm-3 1zm10-10zm-2-1zm7 5zm1 4zm11-8zm8 6zm6-5zm21-2z"/><path stroke="#d0a028" stroke-opacity="0.34" d="M315 86zm-1-2zm1 0zm9-24zm1 4zm0 1zm2 6zm-3 2zm0 1zm1 1zm-4 1zm6 1zm-6 3zm1 1zm5 1zm8 2zm-4-1zm4-1zm-3-3zm-4-2zm4-1zm-2-3zm1-1zm-3-4zm3-2zm3 0zm-4-2zm4-1zm-6-1zm4 0zm-1-1zm3 0zm-6-2zm3-3zm0-2zm9 5zm0 2zm-3 3zm-1 1zm5 1zm-5 1zm7 0zm-4 1zm-3 1zm4 0zm-4 1zm3 0zm4 0zm-1 1zm-4 1zm-2 1zm6 2zm0 1zm1 1zm-3 1zm-3 1zm3 0zm9 7zm0-2zm0-2zm1 0zm-1-3zm-3-1zm5 0zm-7-2zm2 0zm4 0zm-6-1zm2 0zm2 0zm0-1zm-2-1zm3 0zm-2-1zm2-1zm-3-1zm-2-1zm2 0zm2 0zm3 0zm-4-2zm1 0zm2 0zm-2-1zm-2-1zm2 0zm-4-1zm6 0zm1 0zm-7-2zm4 0zm-4-1zm4 0zm-4-1zm10-8zm2 4zm1 2zm1 0zm-2 1zm-2 7zm0 1zm1 0zm-3 1zm6 1zm-4 1zm1 1zm0 4zm-1 4zm4 0zm-4 1zm3 0zm9-2zm1-1zm-7-2zm4 0zm-4-1zm0-1zm2-1zm-2-1zm3 0zm3 0zm-4-1zm-1-1zm-1-1zm4-1zm-4-1zm3-1zm3 0zm-5-2zm2 0zm-1-2zm2-2zm3-2zm0-8zm-1-11zm4 11zm-1 2zm4 4zm-3 1zm3 0zm1 0zm0 3zm-5 2zm0 1zm5 0zm-3 3zm1 0zm-3 1zm1 1zm1 0zm-3 1zm0 1zm2 0zm1 0zm1 0zm1 0zm-5 1zm5 1zm-5 2zm4 0zm-1 1zm-3 2zm3 0zm3 2zm-6 1zm2 0zm4 0zm-1 1zm4-5zm1-2zm-2-2zm2-1zm3 0zm-5-2zm4-3zm1-1zm-3-1zm1 0zm1 0zm11-16zm-1 4zm-5 8zm2 0zm-3 2zm2 1zm-2 1zm3 0zm2 0zm-1 3zm-4 4zm3 0zm1 2zm11-7zm-6-1zm1-1zm-1-1zm0-16zm12-8zm-2 8zm0 10zm3 6zm1 2zm-4 4zm-3 2z"/><path stroke="#3a8fa3" stroke-opacity="0.48" d="M333 80zm1-9zm-1-1zm-3-2zm9 5zm-2 2zm3 3zm0 1zm4 3zm5-3zm1 0zm-1-1zm-1-3zm2-1zm-3-3zm1 0zm-3-1zm-1-1zm0-2zm5-1zm4-2zm-1 4zm2 3zm-2 1zm6 1zm-6 1zm6 0zm-3 1zm1 0zm1 0zm-5 1zm2 0zm2 1zm2 0zm-3 3zm2 1zm1 2zm5 1zm1 0zm3-3zm-6-1zm4-1zm1 0zm-2-2zm1 0zm2-1zm-4-1zm2-1zm1-1zm-6-3zm4-2zm-2-1zm8-2zm1 1zm-1 1zm0 1zm-2 2zm5 0zm-2 1zm3 0zm1 0zm-7 1zm1 0zm0 1zm2 0zm1 1zm2 1zm1 0zm-3 1zm-1 1zm4 1zm-3 1zm-4 1zm6 1zm3 5zm4-4zm1 0zm-1-1zm-4-1zm2-1zm1-2zm3-1zm-3-1zm1-2zm1-2zm-6-2zm5-2zm-1-2zm5-3zm0 4zm3 0zm0 2zm2 1zm-6 3zm0 1zm4 0zm-1 1zm3 0zm-4 1zm-2 1zm4 0zm1 0zm-2 1zm1 0zm2 0zm-5 1zm4 1zm-4 1zm6 0zm-6 1zm2 3zm2 0zm-3 3zm12-5zm-2-3zm3 0zm-3-1zm2-1zm-4-2zm5-3zm-5-1zm-1-1zm3-1zm1 0zm5-1zm-1 4zm-1 1zm3 1zm1 3zm-2 1zm5 0zm-5 2zm4 0zm-2 7zm9-3zm-1-5zm-3-1zm0-1zm3 0zm-3-1zm1-1zm13-7zm-7 4zm3 3zm12 6zm-7-1zm2-4zm0-1zm0-1zm2-3zm5 8zm3 5zm11-13zm15 10z"/><path stroke="#d0a028" stroke-opacity="0.34" d="M313 86zm6-4zm-6-4zm4-9zm10-10zm-4 1zm2 2zm-1 1zm1 1zm-4 1zm1 0zm5 2zm-5 2zm1 0zm1 4zm-1 6zm3 2zm1 3zm-3 1zm-1 1zm7 2zm0-4zm1 0zm0-2zm-2-3zm0-3zm2 0zm-3-2zm2-6zm1 0zm-1-1zm4 0zm0-1zm-6-2zm2-1zm3-2zm-1-1zm-4-6zm8 5zm3 5zm3 0zm1 0zm-6 1zm0 1zm1 0zm-1 1zm1 1zm3 0zm0 2zm1 0zm-5 1zm6 1zm-7 1zm2 0zm-1 1zm6 0zm-7 1zm5 0zm1 0zm-6 3zm7 1zm-1 2zm6 3zm-4-3zm4-1zm-3-1zm1-1zm1 0zm-2-2zm0-1zm5 0zm-4-5zm2 0zm-1-1zm2 0zm-1-2zm-4-1zm3 0zm-3-1zm5 0zm1 0zm-6-1zm2 0zm0-2zm0-1zm1 0zm4 0zm-1-2zm-2-2zm3-4zm1 5zm2 1zm3 2zm2 2zm0 1zm-1 1zm-1 2zm2 2zm-3 1zm0 1zm-1 1zm1 0zm2 2zm-3 1zm2 0zm1 0zm-6 2zm7 1zm0 1zm-5 1zm3 0zm1 0zm-5 1zm8 6zm2-4zm2-2zm-1-2zm-3-1zm5 0zm-3-1zm-1-2zm3 0zm-3-1zm3 0zm1-2zm-2-1zm-2-4zm0-2zm3 0zm-3-1zm1-3zm-1-2zm-2-8zm11-5zm-1 7zm1 1zm1 0zm2 2zm-5 3zm5 1zm1 1zm-6 1zm-1 1zm2 0zm2 2zm3 0zm-7 4zm4 1zm2 1zm-2 1zm2 0zm-5 1zm0 2zm1 3zm-2 1zm3 0zm-1 1zm1 2zm-3 2zm11-7zm0-2zm3-1zm-6-1zm0-2zm7-3zm-2-1zm2 0zm-3-3zm-1-1zm0-3zm-1-1zm-2-5zm6-7zm4-2zm2 5zm2 0zm-4 3zm5 1zm-6 5zm6 3zm-6 3zm2 0zm2 1zm-4 1zm3 3zm0 2zm-4 2zm4 0zm-4 2zm7 0zm1-12zm3-1zm-1-2zm1-8zm2 0zm-4-2zm-1-4zm4-1zm11 9zm-7 10zm1 8zm14-24zm-4-2zm-2-3z"/><path stroke="#3a8fa3" stroke-opacity="0.48" d="M333 81zm-2-6zm1 0zm-2-3zm7-6zm3 0zm-2 4zm4 2zm1 2zm-4 1zm-1 2zm-1 2zm2 6zm7-2zm-2-2zm7-1zm0-1zm-4-1zm2 0zm1 0zm-4-2zm1-1zm3 0zm0-1zm1-1zm-1-2zm-5-3zm4 0zm9-2zm1 1zm-5 3zm5 1zm-1 1zm-6 1zm3 1zm1 0zm0 1zm-3 1zm5 0zm-2 1zm-2 1zm3 1zm2 0zm-5 4zm12 0zm-2-4zm1 0zm1 0zm-2-2zm-2-1zm3-1zm1 0zm0-1zm1 0zm-5-1zm2-2zm2-7zm0-10zm9 12zm-2 2zm-3 1zm1 2zm-1 1zm4 0zm0 2zm-6 1zm2 0zm2 0zm2 0zm-5 1zm1 0zm1 0zm4 0zm-3 1zm-2 1zm0 2zm3 2zm-5 1zm8 3zm2-6zm-2-2zm4 0zm-4-1zm1 0zm3-1zm0-1zm1-1zm2 0zm-3-3zm1-4zm-4-2zm8-2zm2 7zm1 0zm3 0zm-7 2zm6 0zm-2 3zm1 1zm-5 1zm6 2zm-2 1zm2 0zm6 3zm-1-3zm0-1zm4-1zm0-2zm-3-2zm-1-1zm1 0zm2-1zm-3-4zm-1-1zm-1-2zm8-5zm2 3zm-2 3zm4 1zm-5 1zm7 2zm-7 5zm2 1zm0 2zm1 0zm0 2zm8 0zm1-1zm1-1zm-5-2zm7-1zm-6-2zm0-1zm5-2zm-4-2zm5-1zm-2-2zm3 5zm1 4zm0 6zm4 1zm-2 3zm9 0zm0-1zm1-7zm-4-2zm2-1zm9 8zm8-5zm17-2zm12 7zm11-13z"/><path stroke="#d0a028" stroke-opacity="0.34" d="M319 86zm-7-1zm3-1zm-2-6zm2-2zm-2-2zm4-6zm10-16zm-2 10zm-3 7zm4 2zm1 0zm-5 2zm0 3zm4 2zm-2 1zm1 1zm-4 2zm5 1zm1 3zm6 0zm-5-1zm4-2zm3-3zm-3-1zm1-1zm2-1zm-4-1zm0-2zm0-3zm-2-3zm0-1zm6-2zm-6-1zm-1-1zm4 0zm-2-2zm5 0zm-1-1zm-2-2zm-4-9zm15 10zm-4 1zm4 1zm-2 2zm1 1zm-5 1zm-1 1zm6 0zm-3 1zm3 1zm-4 1zm4 0zm1 0zm-1 1zm-4 2zm2 1zm-3 1zm2 3zm1 0zm0 1zm2 0zm-3 1zm-2 3zm-1 2zm13 2zm-1-6zm2 0zm-3-3zm-3-1zm4-1zm1 0zm-3-1zm2 0zm1-1zm1 0zm-2-1zm1 0zm0-1zm-1-3zm2-1zm-6-1zm7 0zm-2-1zm1-1zm0-1zm-1-4zm-5-2zm9-7zm-1 4zm6 2zm-3 4zm2 2zm1 3zm-3 1zm4 0zm-4 2zm-2 1zm0 1zm2 0zm-3 1zm4 0zm0 1zm2 1zm1 0zm-5 1zm5 0zm-3 1zm1 0zm-3 3zm5 1zm-7 1zm3 0zm4 0zm-5 5zm12-2zm-6-7zm2 0zm4-1zm-1-2zm1 0zm0-1zm-2-2zm3 0zm-4-2zm1 0zm3 0zm-2-2zm1 0zm-6-2zm5 0zm-3-5zm4-6zm-5-8zm12 8zm2 3zm-3 4zm3 0zm-2 1zm0 3zm-5 3zm2 0zm2 0zm2 0zm1 2zm-6 1zm2 0zm-3 1zm1 0zm0 2zm6 0zm-7 2zm1 0zm1 0zm2 0zm2 3zm-4 5zm-1 1zm5 0zm8-6zm1-2zm-1-1zm1-7zm-1-4zm-1-1zm-2-2zm4 0zm-1-1zm1-5zm0-11zm4-10zm-1 20zm-2 4zm6 0zm-1 4zm-4 1zm6 1zm-6 4zm6 0zm-2 2zm-5 2zm4 0zm-1 1zm-3 4zm7 1zm3-5zm3-4zm2-1zm-2-1zm-5-1zm4-6zm-4-2zm1-1zm0-3zm5 0zm4-3zm-1 2zm-1 5zm2 1zm6-7zm5-8zm5 12zm7 11z"/><path stroke="#3a8fa3" stroke-opacity="0.48" d="M334 77zm1-8zm8 4zm-3 3zm-2 1zm13 5zm-2-2zm-3-2zm-1-1zm2 0zm-1-2zm3 0zm1-4zm-2-3zm0-3zm5-4zm5 0zm1 1zm-3 1zm-1 2zm-1 3zm5 2zm-7 2zm1 0zm5 0zm-2 1zm3 1zm-1 1zm-6 1zm2 0zm3 0zm2 1zm-6 1zm5 0zm-5 3zm11 3zm-2-1zm0-2zm1 0zm2 0zm-5-1zm1 0zm-1-1zm4 0zm-4-1zm5-1zm2 0zm-1-3zm1 0zm-4-2zm2-1zm2 0zm-7-1zm3 0zm-3-1zm5-3zm1-7zm6 4zm0 1zm-3 3zm-1 2zm1 0zm2 2zm1 0zm1 1zm-2 1zm2 0zm-1 1zm3 0zm-3 1zm-4 1zm7 0zm-5 1zm2 0zm3 0zm-2 1zm1 0zm1 0zm-2 1zm2 0zm-2 1zm1 0zm-4 1zm0 2zm10 1zm-3-3zm6-1zm-5-1zm-2-1zm3-1zm-1-1zm2 0zm3-1zm-2-1zm1 0zm0-1zm-4-1zm2-1zm0-3zm6-3zm1 2zm4 3zm-1 1zm-4 2zm-1 2zm3 0zm1 0zm-2 1zm3 0zm0 1zm1 0zm-3 2zm1 0zm1 0zm0 5zm3-3zm2-2zm3-1zm-2-2zm-1-2zm2-1zm1-1zm-5-2zm3 0zm-3-3zm-1-1zm13 2zm-1 2zm3 1zm-4 2zm4 0zm-6 1zm5 6zm-3 1zm2 1zm-4 3zm7-4zm6 0zm-2-1zm2 0zm-5-1zm0-3zm3-2zm7-6zm0 6zm4 0zm-2 2zm6 3zm1-3zm-3-19zm10 24zm4 2zm1 3zm15-6zm1 1z"/><path stroke="#d0a028" stroke-opacity="0.34" d="M318 87zm-5-5zm4-7zm-3-14zm11-3zm2 3zm-6 6zm3 1zm0 1zm-1 7zm4 0zm-1 1zm-2 5zm3 3zm2 2zm3 0zm-4-3zm6-3zm-6-1zm1 0zm3 0zm-4-1zm2-1zm-1-2zm6 0zm-3-2zm-2-1zm-1-1zm-1-2zm2-2zm4-1zm1 0zm-5-2zm3 0zm1 0zm0-1zm1-4zm-2-2zm8-5zm-5 2zm7 0zm-3 4zm2 0zm-1 1zm2 2zm-5 2zm-1 1zm-1 1zm3 0zm1 0zm2 1zm1 0zm-2 1zm-2 3zm3 2zm-4 2zm4 0zm1 1zm-6 2zm2 0zm4 1zm-4 1zm-1 4zm7-1zm3-2zm-4-2zm7-1zm0-1zm-4-1zm1 0zm0-1zm-4-1zm1 0zm3 0zm-4-1zm1-1zm3 0zm-2-1zm2 0zm1 0zm-5-1zm5 0zm-3-1zm-2-1zm1 0zm2-1zm0-1zm2 0zm-1-1zm-4-1zm1 0zm2 0zm4 0zm-1-1zm0-1zm-2-1zm-4-6zm1-7zm14 4zm-5 2zm3 6zm-5 4zm3 0zm3 2zm-6 1zm4 0zm0 1zm1 0zm-5 1zm2 0zm-2 2zm1 0zm2 0zm3 0zm-2 1zm-4 2zm5 0zm0 1zm-4 1zm6 0zm-6 2zm3 0zm1 0zm2 0zm-2 1zm-3 1zm-1 3zm2 1zm5 2zm7-3zm-6-1zm1 0zm5-2zm-2-5zm-1-3zm3-1zm-5-1zm4-1zm1 0zm-2-1zm-5-1zm5 0zm2 0zm-7-1zm3-3zm4-5zm-4-2zm-1-1zm13-4zm-4 5zm-2 7zm0 1zm5 0zm-3 1zm1 1zm2 0zm-4 2zm3 0zm-3 1zm4 0zm-4 1zm1 1zm2 0zm-3 2zm3 0zm-5 2zm2 1zm2 8zm5-11zm1-2zm3-1zm0-3zm-3-2zm3-1zm0-3zm-4-2zm1 0zm2 0zm3-1zm-7-5zm0-1zm14-6zm1 11zm-6 1zm-1 4zm4 7zm0 2zm-3 1zm1 0zm-1 1zm-1 1zm12-11zm1-7zm-3-1zm-1-4zm1-1zm3-2zm8 10zm-1 3zm-2 8zm21-7zm3 5zm7-3z"/><path stroke="#3a8fa3" stroke-opacity="0.48" d="M335 75zm-1-2zm4-8zm4 6zm0 4zm1 0zm-2 1zm1 2zm-6 6zm13-1zm2-3zm0-4zm-3-1zm-3-1zm1-2zm1 0zm1 0zm2 0zm1 0zm-3-3zm0-1zm3-5zm-6-1zm8-1zm1 3zm-2 5zm7 0zm-3 1zm2 1zm-4 1zm0 1zm2 1zm2 0zm-6 1zm1 0zm6 0zm-6 2zm3 2zm2 2zm-6 1zm3 0zm4 0zm4 1zm0-2zm1 0zm3 0zm-4-2zm0-1zm-1-1zm2-1zm2 0zm-2-1zm1 0zm1-2zm-6-1zm1-1zm4 0zm2-1zm-5-1zm4-3zm3-1zm-1 4zm5 0zm-2 1zm3 2zm-6 1zm0 1zm2 0zm1 0zm-1 1zm5 0zm-4 1zm3 1zm-6 1zm1 0zm6 1zm-6 1zm1 0zm0 2zm2 2zm6-2zm4-2zm-5-3zm-1-1zm1 0zm1 0zm1 0zm0-1zm-3-1zm7-1zm-6-2zm5-6zm-4-3zm7 8zm-1 1zm2 0zm-1 3zm2 0zm1 0zm2 0zm-5 2zm2 0zm2 0zm1 0zm-1 2zm-1 2zm-3 2zm6 0zm0 2zm1 0zm0-2zm5 0zm1-1zm-2-1zm1-1zm-4-5zm6 0zm-7-2zm4-1zm-3-2zm9 4zm0 1zm1 1zm2 1zm-1 1zm-4 1zm5 0zm-5 2zm4 0zm3 1zm0 2zm4 4zm-1-6zm-2-1zm3-3zm-3-2zm5-1zm0-3zm0-7zm3 3zm4 0zm-4 6zm2 0zm5 4zm-1 1zm-6 1zm7 4zm3-3zm-1-19zm10 26zm6-18zm19 3z"/><path stroke="#d0a028" stroke-opacity="0.34" d="M316 78zm-2-2zm4-5zm9-15zm-1 9zm0 6zm-5 1zm5 1zm-6 3zm6 0zm0 5zm-3 7zm7-1zm-1-2zm5 0zm1-1zm-4-2zm2 0zm-5-1zm2 0zm-2-1zm5 0zm-3-1zm1 0zm4 0zm-5-3zm-2-2zm5 0zm0-1zm1-4zm-5-2zm4 0zm2-2zm3-7zm2 0zm0 1zm-1 3zm1 0zm1 0zm-1 1zm1 2zm1 0zm-4 2zm4 0zm-5 3zm1 0zm0 1zm1 1zm-1 1zm1 0zm4 1zm-5 1zm1 1zm0 1zm2 0zm-4 2zm4 1zm1 0zm-5 1zm6 4zm-1 2zm5 0zm-1-2zm3 0zm1-1zm-4-3zm4-1zm-4-1zm-2-1zm7-2zm-7-1zm5 0zm2 0zm-3-1zm3-1zm-7-4zm4-1zm-2-3zm5 0zm-1-1zm-1-1zm-4-1zm4 0zm2-2zm-1-2zm-3-1zm3-1zm8 0zm0 2zm-4 2zm4 0zm1 0zm-3 5zm-4 1zm2 1zm0 1zm-2 1zm2 0zm2 0zm1 1zm1 1zm-6 1zm1 0zm0 1zm3 0zm3 1zm-6 5zm2 3zm0 1zm7-1zm-1-1zm3-3zm1-1zm-4-1zm5-1zm-3-2zm3-1zm1 0zm-6-1zm3 0zm-2-2zm5 0zm-5-2zm2-1zm1 0zm-1-1zm1 0zm2 0zm-5-2zm2 0zm3 0zm-5-2zm-2-1zm6 0zm-6-1zm4-1zm0-2zm-2-1zm6-21zm3 15zm1 4zm0 2zm3 1zm-7 1zm0 1zm5 2zm-2 2zm4 1zm-3 2zm1 1zm-1 1zm2 0zm1 0zm-6 1zm1 0zm-1 2zm3 1zm2 3zm-1 1zm-5 3zm1 1zm-1 2zm6 0zm0 1zm5-6zm-1-1zm0-1zm1-2zm3 0zm-4-1zm5-2zm-2-1zm2-5zm-4-1zm-3-2zm1-3zm6-2zm-6-1zm2-1zm1-2zm6 4zm5 2zm-4 7zm1 0zm-2 2zm2 0zm0 2zm2 0zm-1 2zm-5 1zm7 4zm-4 3zm9-12zm-2-1zm-1-1zm1-2zm2-2zm2-2zm-3-7zm12-4zm-6 3zm-1 6zm6 2zm-3 2zm3 7zm2-1zm9-13z"/><path stroke="#3a8fa3" stroke-opacity="0.48" d="M324 69zm10 15zm1-6zm-2-2zm0-1zm0-4zm9-3zm-1 2zm-3 6zm3 0zm0 4zm5 2zm0-1zm2 0zm2-1zm-5-1zm0-1zm4 0zm2 0zm-4-1zm3 0zm-5-2zm2-1zm4 0zm-1-1zm0-3zm-5-1zm-1-1zm5-1zm-5-4zm1-5zm7 6zm7 1zm0 3zm-7 2zm3 0zm3 0zm-3 1zm4 1zm-6 2zm6 4zm-4 1zm3 0zm-5 2zm4 1zm5-3zm1 0zm3 0zm1 0zm-3-2zm-2-1zm3-1zm-5-2zm2 0zm-2-2zm0-1zm1 0zm0-1zm3 0zm1 0zm1 0zm-5-4zm1-2zm1 0zm9-1zm0 5zm-2 1zm1 1zm1 2zm2 0zm-5 1zm3 0zm-1 3zm1 0zm3 1zm-7 1zm2 0zm-2 1zm4 3zm3 0zm-4 1zm-2 2zm5 1zm3-3zm1 0zm-1-2zm6 0zm-5-2zm1 0zm-1-2zm3 0zm1 0zm1 0zm-7-1zm0-3zm4-1zm1 0zm1-2zm1-1zm-6-5zm10 5zm1 1zm-1 1zm-3 1zm4 1zm2 1zm1 3zm-4 1zm0 1zm-2 1zm3 0zm0 2zm9 1zm0-2zm1 0zm-2-2zm-4-5zm1 0zm2-1zm4 0zm-4-3zm-3-3zm7 0zm6-2zm-4 7zm2 3zm-2 4zm2 4zm4 0zm1-4zm4-1zm-4-1zm0-1zm1-1zm2 0zm3-3zm2 4zm2 0zm4 0zm-5 5zm14 2zm-2-3zm-4-9zm9 7zm-2 1zm16 0zm3 1zm5-5zm5-1zm2 0z"/><path stroke="#d0a028" stroke-opacity="0.34" d="M311 79zm-1 1zm2 6zm4-2zm-3-4zm4 0zm10-25zm-6 5zm3 4zm3 2zm-7 2zm1 2zm6 7zm-4 5zm0 1zm2 0zm6 3zm3-2zm-2-1zm2-2zm-5-1zm2-2zm1-3zm3 0zm-1-2zm1-1zm-5-1zm3-1zm1-2zm-2-5zm3-2zm-2-1zm4 2zm4 0zm-4 1zm2 4zm2 0zm-3 1zm1 0zm1 1zm-1 1zm0 1zm-1 1zm2 0zm1 0zm-5 1zm7 0zm-4 1zm4 1zm-4 2zm-1 1zm3 0zm3 3zm4-1zm3 0zm-5-1zm1-1zm1 0zm-2-1zm4 0zm-6-2zm4 0zm-2-2zm4 0zm-4-1zm0-1zm1 0zm1 0zm-3-1zm1 0zm4 0zm-3-1zm-3-1zm2 0zm3-1zm-5-1zm6 0zm-4-1zm3 0zm-1-1zm-2-1zm3-3zm1-1zm-4-3zm8-1zm0 5zm3 1zm-2 1zm3 0zm-4 1zm2 1zm-1 2zm-2 1zm1 0zm3 0zm0 2zm-4 1zm4 0zm-5 3zm7 0zm0 1zm8 14zm-2-7zm-4-3zm4 0zm2 0zm-6-1zm-1-2zm3 0zm1-3zm-4-1zm4 0zm-4-1zm1 0zm6 0zm-7-1zm3 0zm1 0zm1 0zm1-3zm-1-2zm-1-3zm-1-3zm-1-3zm-1-4zm8-9zm3 11zm3 3zm-5 1zm1 0zm4 3zm-7 2zm6 0zm1 0zm-7 3zm0 2zm7 0zm-5 1zm1 1zm3 0zm-2 1zm3 0zm-2 1zm0 2zm-1 1zm0 1zm-3 2zm1 0zm2 0zm0 5zm11-1zm-5-5zm5 0zm-6-1zm0-2zm3 0zm-4-1zm2 0zm-2-3zm3-1zm1 0zm-4-3zm4-1zm-4-1zm0-1zm1-4zm1 0zm4 0zm-6-1zm1 0zm3-2zm-4-25zm10 15zm1 11zm1 1zm-2 6zm2 1zm1 0zm0 1zm-3 4zm1 2zm1 0zm-4 4zm10-9zm-2-2zm1 0zm-1-2zm3 0zm3-8zm-6-6zm13-4zm0 4zm2 0zm-4 3zm-1 5zm2 3zm-1 8zm1 4zm3 0zm5-10zm1-24z"/><path stroke="#3a8fa3" stroke-opacity="0.48" d="M330 80zm2-2zm1-17zm9 6zm-2 1zm-3 3zm1 0zm2 1zm0 2zm-4 1zm1 0zm10 5zm4-1zm-3-1zm-2-4zm-2-1zm1 0zm4 0zm2 0zm-6-1zm4 0zm1 0zm1 0zm-2-6zm-4-1zm5 0zm-6-4zm14-4zm-3 8zm4 1zm-5 2zm-1 1zm-1 2zm5 0zm-5 1zm7 0zm-5 1zm3 1zm1 0zm-4 1zm4 1zm-4 3zm3 4zm6 5zm-3-2zm7-1zm-2-4zm1 0zm0-1zm1-1zm-4-1zm2-1zm2 0zm-2-2zm-5-1zm5 0zm2 0zm-6-1zm2-2zm3-5zm-2-1zm8 0zm1 3zm-4 2zm2 0zm0 1zm1 0zm2 2zm-4 1zm1 0zm2 0zm1 1zm-5 1zm5 0zm-3 2zm1 0zm2 0zm-2 2zm-3 1zm4 1zm3 0zm7 0zm-3-1zm1 0zm-4-2zm2 0zm-3-2zm0-1zm3-4zm-1-1zm3 0zm2-1zm-3-2zm1-4zm1-1zm6 3zm1 1zm2 0zm-5 1zm5 2zm-3 2zm1 0zm-4 1zm4 0zm-3 1zm5 2zm-5 4zm5 1zm-3 1zm-4 1zm15-2zm-4-2zm1 0zm-4-1zm1 0zm-1-2zm7-1zm-5-2zm4-3zm1 0zm-4-1zm2-1zm-1-1zm9-4zm-1 5zm1 4zm0 1zm-3 1zm-2 4zm3 1zm1 1zm1 1zm-4 2zm11-2zm-1-1zm-3-3zm0-1zm3 0zm1-1zm2-1zm-4-4zm2-2zm6-2zm-2 5zm3 0zm-1 2zm3 0zm-5 2zm4 4zm2 1zm2 9zm4-13zm-3-4zm0-9zm9 16zm9-3zm7-3zm0 4z"/><path stroke="#d0a028" stroke-opacity="0.34" d="M311 79zm0 4zm5 2zm-4-3zm4-4zm-3-3zm6-10zm-1-3zm9-9zm-7 6zm5 1zm2 5zm-7 15zm5 0zm0 4zm7 3zm-1-1zm4-1zm-5-2zm2-2zm-4-1zm6-1zm-2-1zm-3-1zm4 0zm1 0zm-2-1zm-1-2zm3-1zm0-1zm-1-3zm1-5zm-1-1zm0-1zm2 0zm-6-1zm12-7zm-1 6zm-2 1zm-1 2zm0 2zm1 0zm1 0zm3 0zm-6 1zm1 1zm3 1zm-2 1zm4 1zm1 1zm-6 3zm2 0zm3 0zm-6 1zm5 0zm-5 1zm3 2zm0 1zm2 0zm-5 1zm3 0zm2 1zm-2 1zm1 1zm3 1zm1 3zm6-3zm-5-1zm6 0zm-1-1zm-4-2zm0-1zm0-1zm2-1zm-3-1zm3 0zm-4-4zm7 0zm-7-3zm7 0zm-2-1zm1 0zm-6-1zm6 0zm-2-2zm-3-1zm5-1zm1-2zm-4-2zm-2-1zm1-3zm9 2zm4 1zm0 4zm-6 1zm6 6zm-6 1zm6 0zm-2 1zm0 1zm-3 1zm3 0zm-1 1zm1 3zm-5 1zm6 0zm-2 1zm-1 4zm2 0zm9-1zm-2-2zm-4-2zm5-1zm-4-3zm1-1zm2-2zm-4-1zm5 0zm1 0zm-1-1zm2 0zm-6-1zm1-2zm4-1zm1 0zm0-1zm0-1zm-6-1zm0-1zm0-2zm2-1zm-3-2zm14-17zm0 8zm-5 2zm4 6zm-3 3zm1 0zm-1 3zm2 2zm0 1zm-4 1zm1 1zm2 3zm2 0zm-5 1zm4 0zm-2 2zm4 0zm0 2zm-6 4zm5 0zm-4 2zm0 1zm4 0zm-4 3zm7-3zm1-3zm5 0zm-2-1zm-4-1zm2 0zm4-1zm-5-1zm5-1zm1-3zm-5-1zm2 0zm2 0zm1-3zm-4-2zm-2-2zm-1-1zm4-2zm-1-1zm-2-5zm4-1zm2-1zm-2-1zm-1-2zm8-8zm-4 10zm2 1zm2 3zm2 2zm-5 3zm-1 4zm6 0zm-1 2zm0 1zm0 2zm-4 1zm1 0zm3 0zm2 0zm-6 8zm9-5zm1-8zm4-2zm-2-3zm-5-3zm2-2zm8-19zm1 2zm-1 9zm4 4zm-3 15zm0 1zm7-3zm5-1z"/><path stroke="#3a8fa3" stroke-opacity="0.48" d="M334 79zm1-1zm-2-4zm-1-2zm1 0zm-5-1zm9-3zm3 0zm2 5zm-2 6zm3 0zm-7 2zm11-2zm-1-3zm2 0zm3 0zm-1-1zm-1-2zm1-1zm-5-1zm4-1zm-1-4zm5 0zm1 3zm3 1zm1 0zm-2 1zm1 0zm2 1zm-7 1zm1 0zm4 0zm-3 1zm4 0zm1 0zm-7 1zm1 0zm3 0zm1 1zm-4 2zm6 0zm-5 1zm2 1zm3 0zm-4 3zm1 4zm10-4zm-4-1zm1-1zm0-1zm0-1zm-1-1zm2-1zm3 0zm-6-1zm4 0zm-5-1zm3 0zm1 0zm0-1zm-2-1zm4 0zm1 0zm-1-1zm-6-1zm7-2zm-2-3zm5-3zm4 5zm1 0zm-6 2zm1 1zm5 2zm-1 1zm-6 1zm4 0zm1 0zm2 0zm-6 3zm2 0zm-1 4zm-2 1zm7 0zm-6 1zm9-4zm2 0zm-3-2zm1 0zm5-1zm-2-1zm-5-1zm4 0zm1 0zm-1-1zm-1-1zm1 0zm2 0zm-6-1zm4-1zm2-3zm5-2zm-3 2zm1 0zm5 1zm-5 1zm3 1zm1 0zm-2 2zm-1 1zm2 0zm2 2zm-6 1zm5 1zm-4 2zm1 0zm-2 2zm6 0zm5 2zm0-2zm-3-1zm7-3zm-7-2zm3 0zm-3-2zm5-1zm1 0zm-6-2zm3 0zm2 0zm-4-1zm8-8zm6 2zm-1 5zm-6 1zm1 2zm1 3zm-1 2zm1 0zm2 0zm-2 1zm8 7zm2-1zm-3-6zm0-2zm5-1zm-1-2zm-1-13zm9 7zm-4 8zm-1 8zm8-1zm0-4zm2-1zm11-3zm-3 2zm0 4zm4 1z"/><path stroke="#d0a028" stroke-opacity="0.34" d="M319 85zm0-1zm-5-4zm2-2zm2-1zm7-21zm2 4zm-1 1zm0 2zm-2 2zm3 6zm-4 2zm1 1zm3 1zm-7 9zm5 1zm6 0zm-2-1zm5-1zm-5-3zm4 0zm2-1zm-5-1zm4-1zm-4-1zm2-4zm3 0zm-3-1zm1 0zm-3-1zm4-2zm-1-1zm-1-1zm3 0zm-6-1zm4 0zm-5-3zm2 0zm4 0zm-6-1zm7-1zm-4-1zm-2-4zm10-1zm3 1zm1 0zm-7 3zm3 2zm2 3zm2 0zm-2 3zm-3 5zm2 0zm-2 3zm3 1zm-2 2zm2 0zm1 0zm-1 1zm-1 1zm2 1zm1 1zm-5 1zm5 1zm0 2zm4 1zm-3-1zm0-6zm0-1zm4-1zm2 0zm1 0zm-3-2zm0-1zm-4-1zm1 0zm2 0zm2-1zm-3-3zm2-2zm-1-1zm1 0zm3 0zm-2-2zm-3-3zm1 0zm2-1zm-1-1zm-1-5zm6-6zm1 12zm2 0zm-4 3zm6 0zm-3 1zm3 0zm-5 1zm1 0zm-2 1zm2 0zm4 0zm-2 3zm-4 1zm1 0zm3 1zm2 0zm1 0zm-6 2zm4 0zm1 3zm-6 1zm2 1zm-1 2zm3 0zm-3 1zm5 0zm8-2zm-4-2zm2 0zm-3-1zm2-2zm1 0zm2 0zm-4-1zm3 0zm-5-2zm1 0zm4 0zm2-1zm-6-4zm4-2zm-5-1zm4-3zm-3-3zm-1-7zm14 0zm1 4zm-7 4zm6 0zm-3 1zm3 1zm-5 5zm2 1zm2 1zm-3 1zm2 1zm-1 1zm-3 5zm2 1zm1 0zm8 4zm3-7zm1-3zm-1-1zm1 0zm-2-1zm1 0zm1 0zm-5-1zm1 0zm-1-1zm2 0zm-4-1zm1-2zm1 0zm3 0zm1 0zm-5-3zm5-1zm-5-4zm2-2zm2-4zm2-13zm6 7zm-5 5zm6 1zm-1 1zm-4 1zm-1 6zm1 0zm4 2zm-5 1zm4 0zm-1 3zm-2 4zm6 0zm-6 2zm-1 1zm2 2zm1 2zm-2 7zm1 0zm10-22zm-4-3zm4-6zm11-12zm-6 14zm5 5zm0 12zm-2 2zm12-10zm13-12z"/><path stroke="#3a8fa3" stroke-opacity="0.48" d="M331 81zm-2-7zm6-2zm-1-1zm0-4zm4 0zm3 1zm2 3zm-1 3zm-1 1zm1 0zm0 1zm-2 2zm-2 5zm-1 1zm-1 2zm9-6zm3-3zm2 0zm-2-1zm-2-2zm1-2zm-3-2zm1-4zm1-5zm1-4zm5 11zm3 1zm1 0zm-3 1zm1 1zm4 0zm0 2zm-6 1zm5 0zm1 0zm0 1zm-1 1zm2 1zm0 1zm3 5zm1 0zm-2-2zm0-1zm0-1zm4-1zm1 0zm-2-1zm2 0zm-5-1zm6 0zm-7-1zm1 0zm1-1zm0-2zm1 0zm3 0zm-5-1zm1 0zm12-14zm-5 9zm6 2zm-7 4zm1 0zm2 0zm-3 1zm2 1zm2 0zm-1 1zm1 0zm1 0zm1 2zm-4 1zm1 0zm3 1zm-5 1zm-1 1zm1 0zm3 0zm2 0zm-1 1zm-1 2zm4 2zm1-3zm-1-2zm0-1zm2-1zm3 0zm1 0zm-6-1zm3 0zm2 0zm-5-1zm6 0zm-3-1zm2 0zm-4-1zm6-1zm-6-1zm2 0zm-3-2zm7 0zm-2-2zm1-1zm4-1zm0 4zm1 0zm2 1zm-3 1zm-1 1zm3 1zm1 1zm1 0zm1 0zm-5 3zm4 0zm-6 1zm3 3zm5-7zm6 0zm-5-1zm6-1zm-4-1zm4-3zm-4-1zm-2-4zm8 3zm5 0zm1 0zm-5 6zm2 1zm-3 1zm4 1zm3 3zm2 0zm4 0zm1-1zm-5-1zm4-1zm-5-1zm2-1zm-2-1zm14-3zm-5 2zm5 3zm-7 2zm6 1zm-1 2zm-2 3zm9 0zm0-3zm9-10zm1 1zm-1 3zm-2 1zm2 5zm11-3z"/><path stroke="#d0a028" stroke-opacity="0.34" d="M311 82zm1 0zm0-2zm4-1zm1-3zm1 0zm-4-10zm5-4zm4-10zm3 12zm-3 1zm0 4zm1 0zm-4 9zm10 9zm3-1zm-5-1zm1-3zm-1-2zm4 0zm3-3zm-6-1zm4-4zm1-1zm-4-2zm1 0zm1 0zm3-1zm-3-1zm1-1zm-3-2zm4 0zm1-2zm-1-2zm-6-1zm15-8zm0 10zm-4 3zm4 0zm-1 1zm-6 1zm2 2zm5 1zm-6 1zm2 0zm4 1zm-2 1zm-4 1zm6 0zm-3 1zm3 0zm-2 2zm-5 1zm3 0zm0 3zm-2 4zm5 0zm3-4zm1 0zm3 0zm-4-1zm1-1zm3 0zm1 0zm0-2zm-6-1zm6-2zm-4-1zm5-1zm-7-1zm2-1zm1-1zm1 0zm2 0zm-4-1zm2-2zm0-2zm-4-1zm5-2zm-5-1zm5 0zm1 0zm-5-6zm-1-4zm8-5zm1 8zm3 2zm-1 4zm4 2zm-3 2zm3 0zm-6 1zm6 0zm-5 1zm4 0zm1 1zm-2 2zm-3 1zm5 0zm-5 3zm1 4zm-2 1zm5 2zm-2 1zm3 1zm-4 1zm5 2zm2-3zm-2-1zm2 0zm2 0zm-4-1zm6 0zm0-1zm0-1zm0-2zm-6-1zm2 0zm5 0zm-3-1zm1 0zm2 0zm-4-1zm-2-1zm5 0zm-4-1zm-2-1zm4-1zm1-2zm-2-3zm2-3zm-1-1zm3-3zm8-25zm-3 19zm-4 3zm3 5zm-2 1zm3 0zm-2 1zm-2 2zm7 0zm-7 1zm4 0zm-4 1zm2 3zm2 2zm-2 1zm5 4zm-3 1zm-3 7zm12-1zm-5-2zm3-1zm3-3zm-2-3zm-1-2zm4 0zm-3-4zm1-1zm-1-1zm1-3zm1 0zm-4-4zm0-2zm0-1zm5-1zm-5-4zm4-9zm7 14zm0 7zm-4 2zm3 0zm-1 3zm0 1zm4 1zm-2 2zm0 1zm-5 2zm4 5zm4-6zm1 0zm1-2zm3-4zm-4-2zm3-3zm1 0zm-2-5zm3-4zm0-8zm9 9zm-6 12zm2 3zm-2 7zm9-18zm9-3zm3 7z"/><path stroke="#3a8fa3" stroke-opacity="0.48" d="M331 76zm11-8zm1 0zm-3 2zm3 9zm-3 3zm3 1zm-5 2zm7-2zm3-2zm2 0zm-5-4zm-1-1zm4-2zm1 0zm2 0zm-6-3zm-1-1zm2 0zm5 0zm-3-2zm-2-4zm3-6zm4 12zm2 1zm2 0zm2 0zm-2 1zm0 1zm-4 2zm4 0zm-2 1zm-2 1zm1 0zm1 0zm-2 2zm6 0zm0 3zm8 2zm-4-3zm3-2zm-1-1zm-2-1zm2-1zm-3-2zm3-4zm-1-2zm3 0zm-7-1zm4-2zm3 0zm-4-1zm3 0zm-4-8zm7 5zm-1 4zm1 3zm2 0zm-3 2zm2 0zm1 2zm-3 1zm5 0zm2 1zm-3 1zm-3 1zm1 0zm2 0zm3 0zm-3 1zm-2 2zm-1 1zm1 0zm1 1zm7 3zm0-5zm1 0zm3-2zm-3-1zm-2-1zm4-1zm-5-1zm1 0zm1 0zm2-1zm3 0zm-4-1zm-3-3zm2 0zm3 0zm-3-3zm2-2zm7 2zm2 0zm1 0zm-4 3zm-2 3zm2 0zm0 1zm-1 1zm1 2zm-1 1zm1 2zm1 6zm6 0zm-1-4zm7 0zm-7-2zm4 0zm2-1zm-6-1zm7 0zm-7-2zm5 0zm-4-4zm5-1zm8-4zm-6 5zm6 0zm-2 2zm-4 2zm2 0zm0 1zm2 0zm1 0zm2 0zm0 1zm-2 8zm9-3zm-1-3zm0-1zm-4-1zm1-1zm-2-1zm1 0zm5-1zm5-7zm1 8zm-4 3zm15 7zm-4-9zm1-1zm-1-11zm-3-2zm11 9zm5 9zm1 0zm14-11zm-7 8zm1 0zm2 8zm42-12z"/><path stroke="#d0a028" stroke-opacity="0.34" d="M311 70zm7 19zm0-5zm-4-6zm3 0zm1-4zm1-1zm7-16zm-2 9zm-3 5zm4 1zm-4 5zm4 1zm2 1zm-2 4zm-5 2zm7 3zm2-7zm-1-2zm4-2zm2-1zm-2-3zm-3-1zm2 0zm-2-2zm1-3zm4-3zm0-2zm1-1zm-7-1zm6 0zm0-3zm3-2zm-1 5zm2 1zm2 1zm2 1zm-4 1zm1 0zm3 0zm-1 1zm2 0zm-3 1zm2 0zm-3 1zm1 3zm-3 2zm3 1zm1 1zm2 1zm0 1zm-2 3zm-3 1zm2 0zm3 4zm6 2zm-4-1zm6-1zm-6-2zm4-1zm-3-2zm2 0zm0-1zm1-1zm-5-1zm2 0zm4 0zm-2-1zm-1-1zm-2-2zm4-2zm-3-3zm1 0zm3 0zm-1-4zm-1-1zm2 0zm-4-5zm12-6zm1 1zm-6 3zm1 5zm4 2zm-6 1zm4 0zm-2 3zm-2 4zm1 0zm4 2zm-2 3zm-1 1zm3 0zm-4 1zm4 0zm-4 1zm0 1zm3 0zm3 0zm-2 2zm0 1zm3 1zm4-1zm2-1zm-4-1zm0-1zm1 0zm4-1zm-5-2zm4 0zm0-1zm1 0zm-4-1zm-1-1zm1 0zm1-2zm1 0zm-4-2zm2 0zm1-1zm1 0zm-5-1zm2 0zm3 0zm-2-3zm3-1zm-1-1zm-2-2zm1 0zm-4-2zm2-3zm0-1zm-1-27zm14 21zm0 6zm-1 1zm-3 2zm4 5zm-4 1zm1 1zm-2 1zm4 0zm0 1zm-2 1zm-1 1zm-1 2zm5 0zm-6 1zm4 1zm-2 1zm-2 1zm1 1zm0 1zm2 0zm-1 1zm2 2zm-3 1zm-2 1zm9-2zm1-1zm3-4zm2-1zm-7-3zm1 0zm4-2zm-1-2zm-3-2zm6-1zm-7-1zm0-2zm4-1zm1-3zm-4-3zm0-7zm13 2zm-4 10zm3 4zm-2 4zm3 0zm-4 4zm-2 2zm6 0zm-6 1zm13 0zm1-4zm1 0zm-7-7zm1 0zm4 0zm-1-2zm-1-1zm3 0zm-5-3zm5-5zm4-10zm0 4zm0 9zm1 13zm-1 10zm7 1zm0-14zm2-12zm10-10z"/><path stroke="#3a8fa3" stroke-opacity="0.48" d="M330 75zm3-4zm-2-2zm3-2zm5-4zm0 9zm-1 1zm0 2zm3 0zm-3 4zm1 2zm9 6zm3-6zm-7-1zm0-1zm1-2zm6 0zm-3-3zm1 0zm-2-1zm-3-1zm3-2zm1 0zm-3-2zm0-8zm14 8zm-1 2zm-1 1zm1 0zm-4 1zm-1 1zm5 1zm-4 2zm0 2zm-1 1zm4 0zm-5 2zm5 1zm4 1zm2-2zm3 0zm1-1zm-1-2zm1 0zm-3-1zm0-3zm1-4zm-5-3zm8-12zm1 13zm5 0zm1 2zm-1 2zm-5 2zm3 0zm-1 1zm3 0zm1 0zm-1 1zm-2 1zm1 0zm-5 1zm7 1zm-4 1zm2 1zm-5 2zm4 1zm1 0zm-5 2zm14-1zm-4-3zm3-1zm-4-1zm6-1zm-6-1zm1 0zm1 0zm3-1zm-4-1zm1-1zm4 0zm-5-1zm-1-1zm4 0zm2-1zm-7-1zm7-2zm-3-2zm5 1zm3 1zm-2 4zm0 1zm0 1zm4 0zm1 0zm-5 2zm5 0zm-2 1zm-1 1zm1 0zm0 1zm-3 2zm5 1zm2 2zm6-2zm-4-1zm4-2zm0-2zm-6-1zm2-1zm3-1zm-5-1zm0-1zm6 0zm-6-1zm0-1zm1 0zm0-1zm0-1zm3-1zm3 0zm0 1zm0 2zm0 1zm1 0zm5 0zm0 1zm-4 2zm1 1zm2 0zm-4 1zm1 3zm4 3zm-1 3zm3-6zm1 0zm2-3zm2-3zm-1-1zm-4-1zm12-9zm-3 4zm-1 2zm3 5zm-2 2zm5 0zm0 4zm2-1zm7-17zm2 2zm1 12zm-1 1zm0 2zm4 2zm10-7zm4 1zm33 5z"/><path stroke="#d0a028" stroke-opacity="0.34" d="M311 84zm8 2zm-2-7zm2-13zm3-5zm4 5zm-4 4zm-1 3zm4 1zm-3 2zm5 4zm8 8zm-4-4zm1 0zm-1-9zm3-2zm1 0zm-7-1zm7-4zm-2-1zm-4-1zm5 0zm-4-1zm4 0zm0-1zm-3-1zm3 0zm-5-1zm5 0zm0-1zm-1-2zm2-1zm-6-1zm3 0zm4-1zm2 1zm3 1zm-1 4zm-1 2zm2 1zm-3 1zm5 1zm-4 1zm4 0zm-3 1zm-3 1zm0 1zm1 3zm4 0zm-4 1zm5 1zm-6 3zm-1 1zm5 0zm-3 1zm4 0zm-4 2zm2 1zm9-1zm-5-4zm5 0zm-2-1zm-2-2zm-1-1zm7 0zm-7-2zm4 0zm-2-2zm1 0zm4 0zm-5-2zm5 0zm-6-1zm2 0zm1 0zm1-2zm-5-1zm0-2zm1 0zm0-3zm6 0zm-5-2zm0-1zm8-4zm5 3zm0 1zm-4 1zm3 3zm1 3zm-4 1zm-3 2zm6 0zm1 0zm-6 1zm-1 1zm2 0zm3 0zm-5 1zm1 0zm2 0zm2 0zm1 0zm-5 1zm1 0zm4 0zm-2 2zm2 0zm-1 1zm-3 2zm0 1zm1 0zm-2 1zm2 0zm-2 1zm4 0zm-1 2zm5 3zm-1-4zm1-1zm6-2zm-3-1zm3 0zm-7-1zm4 0zm2-2zm-3-1zm-1-1zm5-1zm-4-1zm3 0zm1 0zm-4-2zm3-5zm1 0zm-3-2zm2-1zm-2-7zm10 2zm1 0zm-7 2zm4 0zm-1 4zm0 2zm1 0zm2 1zm-1 1zm-5 1zm2 0zm2 0zm3 1zm-6 2zm-1 2zm5 0zm2 2zm-3 1zm-3 1zm1 1zm4 0zm1 1zm-5 6zm9 3zm-3-7zm1-3zm1-1zm1-1zm4 0zm-3-2zm-4-1zm7 0zm-6-2zm-1-1zm5-1zm-2-1zm-2-1zm1-3zm5-4zm-3-21zm9-2zm-2 15zm-1 5zm0 4zm1 2zm-1 1zm4 0zm-4 1zm5 0zm-6 3zm2 3zm0 4zm-2 1zm-1 3zm9-7zm-1-2zm4-3zm-4-1zm0-6zm3-3zm9 2zm-4 1zm2 10zm3 4zm4-9zm-1-3z"/><path stroke="#3a8fa3" stroke-opacity="0.48" d="M333 75zm-5-2zm7-1zm3-7zm4 2zm1 3zm-4 2zm-1 2zm1 3zm1 1zm1 6zm8-4zm-5-1zm1 0zm0-4zm2 0zm3-1zm-6-1zm5 0zm-1-4zm4-7zm2 4zm-2 3zm2 0zm0 1zm3 1zm-5 3zm0 1zm0 2zm0 1zm4 0zm3 0zm-1 1zm-3 1zm4 0zm-1 2zm-6 1zm2 2zm11-3zm2-1zm0-1zm-6-1zm6 0zm-1-1zm-3-1zm-3-1zm5 0zm-4-1zm5-1zm-5-1zm2 0zm-2-1zm6-1zm-7-2zm2-9zm9 7zm-2 1zm1 1zm-2 2zm7 0zm-4 1zm2 2zm-5 1zm0 1zm4 0zm-4 1zm1 1zm3 0zm-2 1zm5 0zm-6 1zm4 0zm1 1zm1 5zm8-3zm-2-1zm-3-1zm4-2zm-3-1zm3-1zm-6-1zm6 0zm-5-2zm6 0zm-6-1zm5 0zm1-1zm-6-1zm4 0zm2-1zm0-1zm-6-2zm11-6zm-3 5zm4 2zm0 3zm-3 1zm3 2zm1 1zm-6 2zm2 0zm3 1zm1 0zm-5 1zm1 0zm-1 1zm5 0zm1 2zm-3 4zm10-1zm-6-1zm1-3zm5-1zm-5-2zm0-2zm3 0zm0-1zm-2-1zm5-1zm-4-2zm3 0zm3-14zm0 14zm4 0zm-1 1zm-1 1zm-1 4zm2 0zm0 6zm1 2zm2 0zm7-1zm-2-1zm-4-8zm4 0zm-4-1zm2 0zm-1-1zm3-4zm10 4zm1 5zm-7 1zm7 0zm2 6zm5-5zm-6-1zm1-2zm-1-3zm0-1zm2 0zm5-3zm4-2zm2 6zm-1 1zm19-3z"/></g></g>
<g clip-path="url(#c2)"><g stroke-width="1.7" stroke-linecap="round" fill="none"><path stroke="#d0a028" stroke-opacity="0.34" d="M502 80zm7-7zm1 0zm-2-7zm7-17zm-2 8zm-1 1zm3 8zm3 0zm-6 5zm3 0zm0 1zm4 0zm-7 1zm1 0zm5 0zm-6 1zm1 0zm3 0zm2 0zm-4 1zm1 0zm-1 3zm1 0zm2 0zm-4 1zm2 0zm1 0zm-4 1zm4 2zm2 5zm2-2zm1-1zm4 0zm-3-1zm1 0zm-2-1zm5-1zm-5-1zm2 0zm1 0zm3 0zm0-1zm-7-1zm2 0zm0-1zm-2-1zm3 0zm3 0zm-4-1zm-2-1zm6 0zm-2-1zm-4-1zm5 0zm-4-1zm2-1zm2 0zm2 0zm-7-1zm2-1zm1 0zm2 0zm-3-1zm-1-1zm3 0zm2 0zm-4-1zm1-1zm0-1zm4-1zm-5-1zm5-1zm-2-1zm-4-2zm6-1zm-2-3zm2 0zm0-4zm7-4zm-3 3zm3 5zm-4 1zm1 3zm4 0zm-5 1zm-1 4zm3 0zm-3 1zm4 0zm1 0zm-5 2zm6 0zm0 2zm0 1zm0 1zm-6 1zm3 1zm-1 1zm4 1zm-1 1zm-5 1zm1 0zm1 0zm-1 1zm4 1zm1 0zm-3 1zm-3 2zm2 0zm0 1zm-2 5zm11-4zm-2-2zm4-2zm-6-3zm5 0zm0-1zm-5-1zm1 0zm1 0zm3-1zm-4-1zm3-1zm-1-1zm-3-1zm3-1zm0-1zm2-1zm-4-1zm0-1zm3-1zm-3-2zm2-1zm1 0zm-2-5zm3-2zm2-12zm6 7zm-3 7zm-1 1zm0 1zm1 0zm3 0zm0 1zm1 3zm-2 4zm3 0zm-4 2zm-3 2zm3 0zm-1 4zm2 1zm2 0zm-2 2zm-2 1zm12-6zm-2-3zm-4-2zm6-2zm-2-6zm-3-2zm-1-2zm3 0zm12 5zm-2 5zm-3 1zm-1 1zm8 0zm3-9zm6-1zm-2 24zm9-7zm4-5zm-5-1zm1-1zm5-4zm8-5zm-3 3zm2 6zm-4 2zm6 1zm-2 2zm-1 3zm1 1zm7-7zm2-1zm-1-2zm-3-1zm3 0zm7-6zm2 14zm2-7zm14-9zm-1 5zm7-3zm-3-1z"/><path stroke="#3a8fa3" stroke-opacity="0.48" d="M521 89zm2-2zm2 0zm-4-2zm3-1zm1 0zm-1-1zm1 0zm1 0zm-4-1zm-2-1zm2 0zm1 0zm1 0zm2 0zm-5-1zm1 0zm1 0zm2 0zm1 0zm1 0zm-6-1zm3 0zm1 0zm1 0zm1 0zm-7-1zm2 0zm2 0zm-4-1zm2 0zm1 0zm2 0zm-4-1zm2 0zm4 0zm-4-1zm1 0zm1 0zm1 0zm1 0zm-5-1zm1 0zm1 0zm1 0zm1 0zm-2-1zm3 0zm-5-1zm2 0zm3 0zm-6-1zm2 0zm3 0zm1 0zm-5-1zm2 0zm2 0zm-5-1zm1 0zm1 0zm1 0zm2 0zm-3-1zm4 0zm-6-1zm1 0zm2-1zm1 0zm2 0zm-3-1zm0-1zm-4-1zm1-1zm2-3zm4-2zm6 4zm-1 2zm3 2zm-3 1zm-2 1zm2 0zm-4 1zm5 0zm1 0zm-2 1zm-4 1zm1 0zm2 0zm-3 1zm0 1zm2 0zm1 0zm-3 2zm1 0zm5 1zm-6 1zm1 0zm4 0zm1 0zm-3 1zm-3 1zm6 1zm1 0zm-7 1zm1 0zm2 0zm2 0zm-5 1zm1 0zm1 0zm-2 1zm1 0zm2 1zm-2 3zm7-9zm0-3zm1-9zm-1-1z"/><path stroke="#d0a028" stroke-opacity="0.34" d="M503 81zm7 4zm-4-2zm3-3zm1-4zm0-2zm-6-3zm3 0zm2-2zm-3-2zm3 0zm-4-3zm6-11zm7-5zm-1 2zm2 5zm-2 4zm-4 3zm3 0zm-3 2zm2 1zm2 4zm0 1zm1 0zm0 2zm-5 2zm1 0zm5 0zm-3 1zm2 0zm1 0zm-4 2zm2 1zm1 0zm1 0zm-2 1zm1 0zm-6 1zm2 0zm-2 5zm1 0zm3 2zm5-1zm5 0zm-2-2zm1 0zm2-3zm-3-1zm-3-1zm-1-1zm1 0zm5 0zm-5-1zm3-2zm2-1zm-6-1zm6 0zm1-1zm-7-1zm1 0zm3 0zm0-3zm-2-1zm-1-1zm6 0zm-3-2zm2 0zm0-2zm-3-3zm4 0zm0-4zm-1-1zm0-4zm0-1zm0-13zm-3-31zm11 39zm-5 2zm4 5zm2 2zm-3 3zm3 0zm-4 3zm3 0zm-4 1zm3 0zm2 1zm-1 1zm-4 2zm-1 1zm2 0zm1 0zm-1 1zm0 1zm1 0zm0 1zm0 1zm1 0zm2 0zm-4 1zm4 0zm-7 1zm1 0zm0 2zm2 0zm1 0zm-3 1zm2 0zm4 0zm-4 1zm3 0zm-5 2zm5 0zm-6 2zm2 1zm0 1zm3 0zm-1 2zm4-4zm2 0zm-1-1zm-1-1zm4 0zm-1-2zm1 0zm-3-1zm2-2zm1 0zm-4-1zm5 0zm-4-1zm3 0zm-3-1zm3 0zm-4-1zm6-1zm-6-1zm2-1zm3-1zm-5-1zm1-2zm3 0zm-2-4zm3-1zm-4-6zm0-1zm-1-2zm13-9zm2 11zm-3 7zm2 0zm-6 2zm1 5zm-1 2zm6 1zm1 1zm-7 2zm0 1zm6 0zm-4 2zm5 0zm-2 2zm-3 2zm2 0zm-3 4zm10-2zm0-9zm0-5zm-2-3zm3-6zm5 5zm1 11zm9 11zm-3-4zm4-3zm8-20zm-3 8zm1 1zm10 9zm-3-7zm7-7zm6 2zm1 0zm-7 8zm9 0zm6-6zm-7-2zm0-1zm2-1zm3 0zm9 2zm-5 6zm12-3zm2 0zm-4-3zm-3-1zm1-2zm11 1zm-4 1zm14 3zm4-12z"/><path stroke="#3a8fa3" stroke-opacity="0.48" d="M520 88zm1-2zm1 0zm5 0zm-5-1zm-1-1zm2 0zm1 0zm1 0zm-2-1zm1 0zm-2-1zm1 0zm2 0zm-3-1zm3 0zm2 0zm-5-1zm1 0zm1 0zm-1-1zm1 0zm1 0zm1 0zm-5-1zm1 0zm3 0zm1 0zm-5-1zm1 0zm3 0zm1 0zm1 0zm-6-1zm1 0zm1 0zm1 0zm1 0zm-2-1zm1 0zm1 0zm2 0zm-6-1zm1 0zm1 0zm2 0zm1 0zm-5-1zm3 0zm2 0zm1 0zm-5-1zm1 0zm1 0zm2 0zm1 0zm-4-1zm2 0zm1 0zm-2-1zm3 0zm-6-1zm1 0zm1 0zm2 0zm1 0zm1 0zm-6-1zm1 0zm2 0zm1 0zm2 0zm-5-2zm4 0zm-6-1zm6 0zm3-8zm3 0zm-3 1zm0 3zm2 0zm-1 4zm-1 1zm1 0zm1 1zm-3 1zm0 1zm2 0zm-2 1zm1 0zm1 0zm0 1zm3 0zm-5 1zm2 0zm3 0zm1 0zm-6 1zm1 0zm1 0zm2 0zm2 0zm-5 1zm2 0zm2 0zm2 0zm-5 1zm4 0zm1 0zm-7 1zm1 0zm1 0zm1 0zm-1 1zm1 0zm-3 1zm2 0zm2 0zm-4 1zm4 0zm-3 1zm2 0zm1 0zm-4 1zm2 0zm-1 4zm9-21zm3 0z"/><path stroke="#d0a028" stroke-opacity="0.34" d="M501 86zm8-3zm-3-2zm1 0zm1-1zm3-3zm-4-4zm1-2zm3 0zm-1-1zm7-11zm-1 1zm1 0zm-1 4zm0 2zm1 0zm-1 3zm3 0zm-4 2zm2 2zm-4 1zm4 0zm1 0zm1 0zm-2 1zm2 0zm-5 2zm-2 5zm10 5zm-2-4zm4 0zm0-3zm-4-2zm3 0zm2-1zm-3-1zm-2-1zm1 0zm5 0zm1 0zm-4-1zm3-1zm0-1zm-5-1zm2 0zm1 0zm3 0zm-6-1zm1 0zm1 0zm4 0zm-2-1zm-4-2zm4 0zm-4-1zm5 0zm1 0zm-4-1zm4-1zm-4-2zm3 0zm0-4zm1-1zm-1-1zm-5-2zm4-2zm-5-15zm5 0zm8 13zm-4 2zm-1 2zm5 0zm1 3zm1 0zm-4 2zm0 1zm0 2zm4 0zm-4 1zm2 0zm1 0zm-6 2zm1 1zm-1 1zm5 0zm1 0zm1 0zm-7 1zm1 0zm5 0zm-2 1zm2 0zm-3 1zm-3 2zm3 0zm3 0zm-3 1zm1 0zm0 1zm-1 1zm2 0zm2 0zm-2 2zm-3 1zm1 0zm2 1zm1 0zm-3 1zm-3 1zm2 1zm2 5zm6-5zm5-4zm-3-2zm-3-1zm1 0zm-2-1zm1 0zm3-2zm-1-1zm-1-1zm1-1zm4 0zm-7-1zm3 0zm4 0zm-7-1zm2 0zm1-3zm4-3zm-7-2zm3 0zm2 0zm-3-1zm1 0zm2 0zm-1-1zm-2-3zm3 0zm-4-1zm2 0zm1-1zm1-1zm-2-2zm4 0zm-1-2zm-3-5zm3-1zm-6-1zm9-10zm6 18zm-5 3zm-2 5zm4 1zm2 2zm-3 1zm4 0zm-7 4zm0 10zm4 3zm-1 5zm11-10zm-3-3zm2-1zm-2-5zm-1-1zm-2-9zm7-3zm7 9zm0 5zm0 1zm0 11zm-1 2zm-3 7zm12-9zm-1-8zm0-1zm10-7zm-4 6zm-3 1zm1 6zm13-4zm-5-6zm14-3zm-6 2zm6 5zm-6 1zm10-9zm10-7zm-1 2zm-3 7zm0 1zm1 3zm12-2zm-6-7zm11 1zm-3 3zm1 1zm4 1zm5 0z"/><path stroke="#3a8fa3" stroke-opacity="0.48" d="M522 88zm2-2zm0-1zm2-1zm0-1zm-3-1zm-3-1zm1 0zm1 0zm1 0zm1 0zm-3-1zm3 0zm1 0zm1 0zm1 0zm-6-1zm2 0zm1 0zm1 0zm1 0zm1 0zm-6-1zm1 0zm1 0zm1 0zm1 0zm2 0zm-5-1zm1 0zm1 0zm2 0zm1 0zm-5-1zm1 0zm1 0zm1 0zm2 0zm-7-1zm2 0zm1 0zm4 0zm-6-1zm1 0zm1 0zm1 0zm1 0zm2 0zm-5-1zm1 0zm1 0zm-3-1zm2 0zm4 0zm-7-1zm4 0zm3 0zm-6-1zm1 0zm3 0zm1 0zm-6-1zm3 0zm3 0zm1 0zm-2-1zm-2-2zm4 0zm-5-1zm0-2zm5 0zm8-3zm-5 2zm3 1zm-2 1zm3 0zm-4 1zm2 1zm-3 1zm1 0zm-2 1zm3 0zm1 0zm2 0zm-6 1zm2 0zm3 0zm1 0zm-3 1zm4 0zm-7 1zm1 0zm1 0zm1 0zm4 0zm-3 1zm1 0zm-5 1zm2 0zm2 0zm1 0zm-4 1zm2 0zm1 0zm-3 1zm2 0zm0 1zm1 0zm2 0zm-6 1zm2 0zm-2 1zm4 0zm1 0zm-2 1zm2 0zm-5 1zm1 0zm3 0zm-2 1zm3 0zm-3 1zm-2 1zm1 3zm8-11zm2 0zm-2-4zm0-3z"/><path stroke="#d0a028" stroke-opacity="0.34" d="M502 71zm1 10zm0 3zm5 1zm2-5zm-6-1zm4 0zm-1-2zm3-2zm0-4zm-2-1zm2-1zm-2-4zm7-22zm4 1zm-2 12zm0 2zm-3 1zm3 0zm-3 7zm2 0zm1 1zm1 0zm-4 1zm3 0zm-3 1zm1 0zm2 0zm1 0zm1 0zm-7 3zm4 1zm0 2zm1 0zm0 1zm-3 2zm4 0zm0 2zm0 1zm0 1zm1 0zm-5 2zm4 2zm1 2zm1 1zm5-3zm0-1zm-5-2zm5-1zm0-1zm2 0zm-1-3zm-5-1zm1 0zm-1-2zm4 0zm-3-1zm4-1zm-5-1zm3 0zm-3-1zm2 0zm4-1zm-3-1zm1 0zm-5-1zm4 0zm3 0zm-4-1zm3-2zm-4-1zm3 0zm1 0zm-2-2zm1 0zm-4-1zm4-1zm-1-2zm2-2zm1-1zm-4-1zm2-9zm3 6zm5 0zm-5 2zm3 3zm-3 2zm4 0zm3 0zm-1 1zm-2 1zm-1 1zm-2 1zm1 1zm-1 2zm1 0zm2 0zm-2 1zm4 0zm-2 1zm-3 1zm2 0zm-3 1zm2 0zm1 0zm0 1zm0 1zm1 0zm1 0zm1 0zm-1 1zm2 1zm-2 1zm-5 3zm3 0zm4 1zm-5 1zm2 0zm2 0zm-1 1zm-3 1zm-1 2zm2 0zm2 0zm3 2zm5 0zm1-2zm-4-3zm0-2zm-1-1zm6-2zm-4-2zm2 0zm-5-1zm3 0zm-2-1zm3 0zm-3-1zm4 0zm-4-1zm2-1zm-3-2zm7 0zm-6-1zm6 0zm-4-1zm0-1zm1 0zm-4-2zm7-1zm-5-2zm0-1zm-1-2zm1-4zm2-2zm-4-1zm9-14zm2 0zm1 5zm-4 5zm6 12zm1 12zm-3 1zm-4 2zm3 5zm0 3zm-1 5zm-2 2zm13-10zm-5-6zm0-4zm1 0zm3-4zm1-3zm-4-4zm13 4zm-6 13zm8-6zm5-1zm5 4zm3 1zm5 0zm0-3zm-1-8zm2-1zm7 6zm0 4zm3 2zm-3 1zm0 2zm9-3zm1-4zm-4-3zm3-1zm-1-2zm-1-4zm14-1zm-5 7zm7 2zm3-1zm-3-3zm16 2zm4-3zm-2-3z"/><path stroke="#3a8fa3" stroke-opacity="0.48" d="M522 85zm5 0zm-6-1zm1 0zm1-1zm3 0zm-2-1zm-3-1zm1 0zm3 0zm2 0zm-6-1zm1 0zm1 0zm1 0zm1 0zm1 0zm1 0zm-6-1zm3 0zm1 0zm1 0zm1 0zm-5-1zm1 0zm1 0zm1 0zm1 0zm1 0zm-6-1zm2 0zm1 0zm2 0zm1 0zm-6-1zm1 0zm1 0zm1 0zm1 0zm2 0zm-4-1zm2 0zm1 0zm1 0zm-5-1zm1 0zm3 0zm1 0zm-5-1zm2 0zm1 0zm2 0zm-5-1zm1 0zm1 0zm-1-1zm4 0zm-6-1zm5 0zm1 0zm-4-1zm1 0zm2 0zm1 0zm-7-1zm1 0zm1 0zm2 0zm1 0zm-3-1zm3 0zm-3-1zm5-2zm-3-1zm2-1zm-4-3zm5 0zm3 1zm-1 2zm3 0zm-3 1zm3 1zm1 1zm-4 1zm1 2zm0 1zm0 1zm2 0zm1 0zm-4 1zm2 0zm2 0zm1 0zm-6 1zm1 0zm4 0zm-5 1zm1 0zm1 0zm2 0zm2 0zm-2 1zm1 0zm1 0zm-5 1zm3 0zm-4 1zm1 0zm1 0zm1 0zm-2 1zm1 0zm0 1zm0 1zm-1 1zm1 0zm2 0zm-2 1zm-2 1zm1 0zm8 0z"/><path stroke="#d0a028" stroke-opacity="0.34" d="M508 83zm1-5zm1-1zm-2-1zm3-2zm-2-1zm-2-5zm3-4zm5-3zm1 3zm3 4zm-4 1zm4 0zm0 2zm-5 4zm2 1zm3 0zm-4 1zm1 1zm3 0zm-5 1zm1 4zm1 0zm-1 1zm4 2zm6 1zm-3-1zm3-1zm-5-1zm6 0zm-3-1zm3-1zm0-1zm-5-1zm3 0zm2 0zm-4-1zm-1-1zm0-2zm5 0zm-4-1zm1 0zm4 0zm-6-1zm0-1zm4 0zm1 0zm-4-1zm2 0zm3 0zm-7-1zm3-1zm2 0zm0-1zm1 0zm1 0zm-7-1zm4 0zm2 0zm-2-1zm0-1zm1 0zm-5-1zm4 0zm-3-1zm-1-1zm0-3zm2 0zm1-1zm4-1zm-2-4zm0-5zm10 2zm-3 3zm0 1zm-2 2zm5 0zm-2 5zm-3 1zm1 0zm2 0zm-1 2zm-2 1zm0 1zm2 0zm-4 1zm1 0zm1 1zm3 0zm0 1zm1 0zm-4 1zm5 0zm-7 1zm6 0zm-5 1zm1 0zm1 0zm3 0zm-4 1zm2 0zm-4 1zm2 0zm3 0zm-4 1zm2 1zm-2 1zm5 0zm1 0zm-3 1zm3 0zm-7 1zm0 2zm2 0zm-1 1zm3 0zm2 0zm0 1zm6-1zm-4-2zm0-1zm7-2zm-3-1zm-2-1zm4 0zm-4-2zm1 0zm-1-1zm0-1zm1 0zm-1-1zm3 0zm-5-1zm3 0zm1-1zm1 0zm2 0zm-1-1zm-6-1zm2-2zm-2-2zm3 0zm1 0zm2-1zm-4-2zm2-3zm-1-6zm1 0zm3 0zm0-2zm5-1zm0 1zm3 1zm-2 6zm-5 5zm1 1zm3 1zm2 1zm-4 1zm-1 8zm7 9zm1-4zm0-2zm5-9zm-3-11zm9 17zm-3 3zm8-2zm-1-10zm11 0zm-1 1zm5 2zm-3 5zm11-1zm-5-2zm-2-1zm2 0zm2-6zm5-4zm0 2zm1 5zm3 2zm0 2zm10 2zm-6-5zm-1-1zm11-10zm0 7zm3 3zm-2 3zm10-3zm-2-6zm8 2zm7-2zm-3-1zm11 1z"/><path stroke="#3a8fa3" stroke-opacity="0.48" d="M521 86zm1 0zm3 0zm-2-1zm4 0zm-6-1zm4 0zm1 0zm-5-1zm6 0zm-4-1zm-2-1zm1 0zm1 0zm2 0zm1 0zm1 0zm-6-1zm2 0zm3 0zm1 0zm-6-1zm1 0zm2 0zm3 0zm-5-1zm2 0zm1 0zm1 0zm1 0zm-5-1zm2 0zm1 0zm2 0zm-5-1zm1 0zm1 0zm1 0zm1 0zm1 0zm-6-1zm1 0zm1 0zm1 0zm1 0zm2 0zm-6-1zm2 0zm2 0zm1 0zm1 0zm-7-1zm2 0zm1 0zm1 0zm-4-1zm2 0zm1 0zm2 0zm1 0zm-3-1zm1 0zm1 0zm1 0zm1 0zm-4-1zm1 0zm2 0zm-4-2zm2 0zm3 0zm-4-1zm2 0zm2 0zm-6-1zm4-1zm-5-2zm1 0zm5-1zm1-1zm6 4zm-4 3zm3 1zm-3 1zm-1 1zm2 0zm1 0zm1 0zm2 0zm-5 1zm1 0zm2 0zm-3 1zm-1 1zm3 0zm-2 1zm0 1zm3 0zm-3 1zm3 0zm-4 1zm4 0zm1 0zm-5 2zm1 0zm4 1zm-5 1zm1 0zm-1 1zm8-16zm5-1zm-3-5z"/><path stroke="#d0a028" stroke-opacity="0.34" d="M502 86zm8-3zm-6-3zm0-1zm3 0zm4-1zm-3-8zm-1-5zm7-4zm5 1zm-3 1zm2 4zm-2 1zm2 2zm1 0zm0 5zm-4 1zm-1 1zm5 0zm-7 1zm5 0zm-1 1zm0 1zm-3 1zm5 3zm1 0zm3 2zm3 0zm-2-2zm-2-3zm4-1zm1 0zm-2-1zm-2-1zm2 0zm2-2zm-6-1zm0-1zm1-1zm3 0zm-3-1zm2 0zm2 0zm1 0zm-1-1zm-3-1zm5 0zm-2-1zm-4-1zm2 0zm2 0zm1-1zm-5-1zm2-1zm1 0zm1 0zm-1-1zm-1-1zm0-1zm-2-1zm3-1zm1 0zm-2-1zm3 0zm5-9zm4 0zm-7 2zm3 3zm4 4zm-6 1zm-1 1zm1 0zm2 0zm1 0zm2 0zm-1 1zm1 0zm-3 1zm1 1zm3 0zm-7 1zm6 0zm1 1zm-5 1zm2 0zm-3 1zm6 0zm-6 1zm6 0zm-5 1zm1 0zm1 0zm3 0zm-7 1zm3 0zm3 0zm-3 2zm3 0zm-6 1zm5 0zm1 0zm-4 1zm-2 3zm5 0zm-4 1zm2 0zm-3 1zm3 3zm1 3zm1 0zm1 0zm-3 1zm10-5zm-4-5zm-1-1zm2 0zm-1-1zm6 0zm-7-2zm1 0zm0-3zm2 0zm1 0zm0-4zm-3-1zm2 0zm3 0zm-5-1zm4 0zm-4-1zm3 0zm3-1zm-7-1zm1-2zm0-2zm3 0zm-1-4zm-3-1zm2-5zm3 0zm5 10zm-2 3zm7 10zm-6 2zm2 4zm6 4zm4 0zm1-2zm-4-4zm1-1zm-3-2zm7-1zm-6-4zm0-5zm-1-2zm3-4zm0-3zm3-7zm4 18zm5 8zm-2 3zm-4 10zm11-5zm-2-1zm5-8zm-1-2zm0-3zm1-3zm-2-1zm3 3zm6 4zm0 1zm-6 1zm8 4zm1-6zm7-10zm1 1zm5 2zm0 5zm-6 3zm6 0zm-4 1zm9 1zm2-1zm-3-1zm2-3zm-3-4zm0-1zm8-3zm-1 1zm1 4zm1 0zm2 1zm3 0zm5 0zm-3-2zm-1-2zm2-5zm7-2zm6 5zm-7 8z"/><path stroke="#3a8fa3" stroke-opacity="0.48" d="M521 86zm0-1zm3 0zm-1-1zm3 0zm-5-1zm1 0zm3-1zm-5-1zm2 0zm1 0zm2 0zm2 0zm-6-1zm1 0zm1 0zm1 0zm3 0zm-7-1zm1 0zm1 0zm1 0zm1 0zm1 0zm-3-1zm2 0zm1 0zm2 0zm-6-1zm1 0zm1 0zm1 0zm1 0zm-4-1zm2 0zm1 0zm2 0zm1 0zm-6-1zm3 0zm1 0zm2 0zm-7-1zm1 0zm1 0zm1 0zm2 0zm1 0zm-6-1zm1 0zm1 0zm2 0zm2 0zm1 0zm-6-1zm1 0zm1 0zm3 0zm-5-1zm1 0zm3 0zm-4-1zm2 0zm1 0zm2 0zm-4-1zm1 0zm-1-1zm2 0zm3-2zm-5-1zm1 0zm1 0zm1-4zm-3-4zm9-3zm-3 9zm2 2zm0 3zm2 0zm2 1zm-5 1zm2 0zm0 1zm3 0zm-6 1zm2 0zm2 0zm-3 1zm1 0zm5 0zm-7 1zm3 0zm-3 1zm1 0zm1 0zm2 0zm-3 1zm-1 1zm1 0zm1 0zm2 0zm-4 1zm2 0zm3 0zm-5 1zm1 0zm1 0zm1 0zm1 1zm1 0zm-4 1zm1 0zm2 0zm-4 1zm1 0zm1 0zm2 0zm-1 2zm-1 1zm6-9zm0-5z"/><path stroke="#d0a028" stroke-opacity="0.34" d="M502 63zm0 6zm-1 3zm6 13zm3-5zm1-2zm-5-3zm4-2zm1-3zm0-2zm-1-8zm9-6zm-2 8zm1 0zm-4 1zm2 0zm-1 3zm4 1zm-4 1zm-1 1zm-1 1zm4 4zm-1 3zm2 1zm-3 1zm-2 1zm1 2zm5 2zm-1 3zm9 0zm-5-1zm3 0zm-1-1zm-3-2zm3 0zm1 0zm-3-1zm3 0zm2 0zm-3-1zm0-1zm1 0zm-4-2zm3 0zm3 0zm-7-2zm2 0zm1 0zm3 0zm-1-2zm1 0zm-4-1zm2 0zm0-1zm-2-1zm2 0zm-2-1zm4 0zm-1-1zm-5-2zm1 0zm1-1zm1 0zm-2-1zm5 0zm0-1zm-1-1zm1-1zm1-2zm-6-1zm-1-1zm0-4zm3 0zm10-15zm1 13zm0 2zm-1 1zm-1 2zm-3 1zm1 0zm4 0zm-4 1zm1 1zm-1 1zm1 0zm-3 1zm7 0zm-5 1zm1 0zm3 3zm-5 1zm2 0zm4 0zm-7 1zm1 0zm6 0zm-4 1zm2 0zm1 0zm1 0zm-7 2zm4 0zm-4 1zm1 1zm2 0zm-2 1zm-1 2zm3 0zm-1 1zm-2 1zm4 0zm1 1zm-5 2zm2 3zm9-4zm-1-2zm0-3zm1 0zm4 0zm-6-1zm5-2zm-3-2zm2 0zm-5-1zm3 0zm1 0zm-4-1zm1-1zm1 0zm-2-1zm0-3zm3-1zm1-1zm-4-2zm1 0zm5 0zm-2-1zm2-1zm1 0zm-1-1zm-4-1zm2 0zm-4-2zm4-2zm1-4zm-4-2zm8 10zm4 1zm-4 4zm4 0zm-5 1zm0 4zm1 0zm0 2zm3 1zm-3 1zm-1 10zm4 0zm7-10zm3-1zm-5-3zm-1-4zm11-5zm1 4zm2 2zm-1 10zm-3 3zm7-5zm5-2zm-3-6zm4-2zm2 1zm4 1zm2 3zm-5 3zm-2 2zm4 0zm-1 1zm11 0zm-1-3zm-1-1zm1-12zm2-2zm8 2zm-6 3zm2 10zm7 6zm4-2zm-5-7zm6-4zm8-5zm-1 1zm0 9zm2 0zm0-3zm3 0zm1-4zm1-2zm8 1zm7 1zm-1-1zm3-3zm-6-1zm44 4z"/><path stroke="#3a8fa3" stroke-opacity="0.48" d="M522 87zm2-1zm1-1zm-3-1zm2 0zm0-1zm1 0zm1 0zm1 0zm-5-1zm2 0zm3 0zm-6-1zm1 0zm2 0zm1 0zm-3-1zm1 0zm1 0zm1 0zm2 0zm-6-1zm1 0zm1 0zm1 0zm1 0zm2 0zm-6-1zm1 0zm1 0zm3 0zm1 0zm-4-1zm1 0zm1 0zm1 0zm-4-1zm1 0zm1 0zm2 0zm-4-1zm4 0zm1 0zm-6-1zm4 0zm1 0zm1 0zm-6-1zm1 0zm5 0zm-7-1zm2 0zm2 0zm1 0zm1 0zm-5-1zm4 0zm-1-1zm1 0zm-4-1zm3 0zm-3-1zm5 0zm1 0zm-5-2zm1 0zm-2-1zm3 0zm3 0zm-2-1zm-4-1zm9-8zm-1 5zm5 1zm0 2zm-5 1zm0 2zm-1 1zm3 0zm-2 1zm3 0zm2 0zm-5 1zm1 0zm2 0zm-4 1zm3 0zm1 0zm-4 1zm3 0zm-1 1zm-1 1zm2 1zm1 0zm1 0zm-5 1zm1 0zm3 0zm2 0zm-6 1zm4 0zm1 0zm-5 1zm2 0zm1 0zm1 0zm2 0zm-5 1zm2 0zm1 0zm1 0zm-3 1zm1 0zm1 0zm-3 2zm-1 3zm1 0zm2 0zm6-9zm2 0z"/><path stroke="#d0a028" stroke-opacity="0.34" d="M502 65zm0 3zm0 5zm6 11zm-3-1zm2-1zm4-2zm-2-1zm1 0zm1-8zm0-2zm-1-9zm5-5zm2 6zm0 2zm2 2zm-1 3zm1 0zm-5 2zm5 0zm0 1zm-3 1zm2 0zm-6 1zm3 0zm-1 1zm1 0zm4 0zm-5 1zm4 0zm-6 1zm7 1zm-7 2zm7 0zm-7 1zm0 2zm4 0zm2 0zm0 1zm1 4zm-7 1zm12-1zm-1-1zm4 0zm-5-5zm3 0zm-5-1zm0-1zm7-1zm-6-2zm3 0zm3 0zm-5-1zm-2-1zm7 0zm-3-1zm3 0zm-5-2zm3-3zm-3-1zm1-4zm-3-1zm5 0zm0-1zm0-1zm-5-1zm9-7zm6 1zm-3 1zm3 0zm-2 7zm2 0zm-3 2zm2 0zm-6 1zm2 0zm3 0zm-5 1zm0 1zm2 0zm1 0zm1 0zm-3 1zm1 2zm3 0zm2 0zm-6 1zm5 0zm-4 1zm3 1zm-3 1zm2 0zm2 1zm-5 1zm4 0zm-5 1zm2 0zm-2 1zm2 0zm4 0zm1 1zm-7 1zm1 1zm2 0zm3 3zm-6 1zm7 0zm3 3zm5-3zm-2-4zm-4-1zm-1-1zm7-1zm-5-1zm5-1zm-7-1zm4 0zm-4-1zm1 0zm1 0zm2 0zm-1-1zm1 0zm1-1zm-3-2zm2 0zm3-1zm-6-1zm1 0zm2 0zm-3-1zm3 0zm1 0zm1-1zm-4-1zm2 0zm-2-3zm2 0zm-3-1zm1 0zm1 0zm-1-1zm5 0zm-3-1zm1 0zm-3-1zm5 0zm-3-1zm2-12zm0-9zm5-1zm-2 19zm-1 4zm3 3zm1 2zm-4 1zm6 0zm-6 4zm1 1zm1 1zm-2 4zm0 1zm3 3zm4 1zm-6 4zm13-3zm-5-4zm3-3zm-4-5zm1-2zm0-4zm11 3zm-2 12zm2 3zm4-12zm3-5zm6-4zm3 6zm-4 4zm1 4zm1 2zm8-5zm-2-2zm6 0zm1 0zm-4-1zm2-1zm-5-2zm8-2zm5 2zm-4 9zm16-10zm4 1zm0 1zm7 3zm-2-6zm-2-4zm8 1zm14 8zm-4-5zm7 0zm32-5z"/><path stroke="#3a8fa3" stroke-opacity="0.48" d="M521 87zm2-1zm-1-1zm-1-1zm1 0zm3 0zm2 0zm-4-1zm1 0zm1 0zm1 0zm1 0zm-6-1zm1 0zm2 0zm-3-1zm1 0zm2 0zm2 0zm-5-1zm2 0zm2 0zm1 0zm1 0zm-5-1zm1 0zm1 0zm-3-1zm1 0zm1 0zm1 0zm1 0zm1 0zm1 0zm-5-1zm2 0zm3 0zm-6-1zm1 0zm1 0zm1 0zm1 0zm1 0zm1 0zm-5-1zm2 0zm1 0zm1 0zm1 0zm-6-1zm1 0zm5 0zm-4-1zm3 0zm1 0zm-6-1zm2 0zm1 0zm1 0zm2 0zm-6-1zm3 0zm1 0zm-4-1zm2 0zm4 0zm-4-1zm2 0zm1-1zm-5-1zm1 0zm5 0zm-3-1zm-3-1zm2-1zm1-2zm4-4zm7 3zm-5 2zm1 0zm3 2zm-5 2zm3 1zm-4 1zm1 0zm3 1zm1 0zm-5 1zm6 0zm-2 1zm-4 1zm1 0zm1 0zm-2 1zm1 0zm1 0zm2 0zm3 0zm-7 1zm2 0zm-2 1zm5 0zm2 0zm-7 1zm1 0zm1 0zm1 0zm4 0zm-7 1zm1 0zm3 1zm1 0zm-5 1zm2 0zm5 0zm1-9zm0-1zm1 0zm-1-1zm0-1zm1-4z"/><path stroke="#d0a028" stroke-opacity="0.34" d="M502 83zm5 0zm3-1zm-4-2zm4 0zm-1-1zm-3-1zm0-2zm2 0zm2-3zm-4-6zm13-14zm-4 3zm3 7zm1 1zm-6 2zm3 1zm3 1zm-3 2zm-2 3zm1 1zm-2 4zm3 0zm3 0zm-5 2zm1 1zm0 6zm7 1zm-2-3zm4 0zm-3-3zm1-1zm4 0zm-1-1zm-2-2zm1 0zm2 0zm0-1zm-6-1zm1-2zm1 0zm1 0zm2-1zm-2-1zm2 0zm1 0zm1 0zm-3-1zm1-1zm2 0zm-5-1zm2 0zm1 0zm1 0zm1 0zm-6-1zm3-1zm0-2zm-3-1zm3 0zm3 0zm-1-1zm1 0zm-1-1zm-1-1zm1-2zm1 0zm5-14zm-3 3zm-1 6zm4 0zm-4 1zm4 1zm3 3zm-1 1zm1 0zm-3 1zm3 0zm-4 1zm-2 1zm-1 1zm3 1zm3 0zm1 1zm-6 1zm2 0zm1 2zm-2 2zm-2 1zm1 1zm4 0zm-5 1zm1 0zm1 0zm0 1zm3 0zm-3 1zm2 0zm0 1zm3 0zm-5 2zm4 0zm-1 4zm1 0zm-3 1zm1 0zm2 0zm2-2zm1-2zm2 0zm0-3zm-2-1zm4 0zm-2-1zm-2-1zm4-1zm-2-1zm-3-1zm1 0zm1 0zm-1-1zm1-1zm3 0zm-2-1zm4 0zm-5-2zm4 0zm0-1zm-2-2zm-4-2zm2-1zm3 0zm-1-2zm-3-2zm0-6zm-1-2zm4-2zm-1-4zm6-15zm0 34zm1 2zm5 0zm-5 2zm2 1zm1 1zm0 1zm-1 1zm-4 3zm3 2zm4 10zm1-7zm2-1zm4-2zm0-2zm1 0zm-3-2zm-4-2zm4-3zm6-3zm2 2zm-4 5zm4 3zm-2 4zm4 5zm9-3zm-4-3zm-3-8zm4-12zm8 6zm0 3zm2 0zm-2 2zm3 0zm-5 2zm5 1zm-7 6zm1 1zm17-17zm3 4zm1 4zm-5 3zm6 4zm5-4zm-4-6zm6-15zm5 11zm1 0zm-4 1zm2 1zm5 0zm4 7zm-1-17zm6 4zm4 4zm1 1zm6 6zm-3-8zm3-5zm5 7z"/><path stroke="#3a8fa3" stroke-opacity="0.48" d="M524 88zm-3-3zm6 0zm-6-1zm1 0zm1 0zm1-1zm1 0zm-5-1zm5 0zm-3-1zm2 0zm-2-1zm-1-1zm1 0zm2 0zm2 0zm1 0zm-3-1zm1 0zm1 0zm1 0zm-7-1zm1 0zm3 0zm1 0zm1 0zm1 0zm-6-1zm1 0zm1 0zm1 0zm1 0zm1 0zm1 0zm-5-1zm2 0zm1 0zm1 0zm1 0zm-5-1zm1 0zm1 0zm2 0zm1 0zm-7-1zm1 0zm1 0zm2 0zm2 0zm-5-1zm2 0zm1 0zm1 0zm-3-1zm2 0zm2 0zm1 0zm-7-1zm1 0zm5 0zm-5-2zm2 0zm1 0zm1 0zm-2-1zm4 0zm-2-2zm0-1zm-3-1zm1-1zm8 1zm-2 2zm2 0zm-1 1zm4 1zm-6 1zm5 0zm-5 1zm2 0zm4 1zm-6 1zm1 0zm1 0zm1 0zm2 0zm1 0zm1 0zm-6 1zm1 0zm-2 1zm1 0zm1 0zm2 0zm-4 1zm2 0zm1 0zm1 0zm1 0zm-4 1zm1 0zm2 0zm-4 1zm2 0zm1 0zm2 0zm1 0zm-3 1zm-3 1zm1 1zm2 0zm0 1zm0 1zm-3 1zm1 0zm8-8zm0-1zm-1-1zm0-1zm0-2z"/><path stroke="#d0a028" stroke-opacity="0.34" d="M502 65zm0 1zm0 10zm7 8zm0-3zm-2-1zm3-18zm0-11zm4 5zm-1 11zm3 1zm1 1zm1 0zm-6 1zm5 0zm1 0zm-4 3zm5 0zm-6 2zm5 0zm-1 5zm-5 1zm7 3zm1 0zm1-4zm0-1zm-1-1zm1 0zm4 0zm-5-1zm5 0zm-2-1zm4 0zm-5-1zm0-2zm1 0zm2-1zm1 0zm1 0zm-7-1zm1 0zm4 0zm-4-1zm0-1zm1 0zm5 0zm-6-2zm3 0zm-2-1zm1 0zm3 0zm-1-1zm1-1zm-3-1zm2 0zm1 0zm0-1zm-3-1zm1 0zm0-1zm1 0zm2 0zm-4-1zm-2-1zm4 0zm2-2zm0-1zm0-3zm0-5zm4-1zm4 6zm-6 1zm5 1zm-3 4zm3 0zm-4 1zm5 0zm-3 1zm3 1zm-7 2zm2 0zm1 1zm2 0zm-4 2zm1 0zm0 1zm1 0zm1 0zm1 0zm1 0zm1 0zm-5 1zm2 0zm1 0zm-5 2zm0 1zm3 0zm1 0zm1 0zm-5 1zm5 0zm2 0zm-5 1zm-2 1zm5 0zm-5 1zm2 0zm2 0zm-4 1zm1 0zm3 0zm-4 1zm3 0zm2 0zm-4 1zm-1 1zm7 0zm-7 1zm4 0zm-2 3zm3 0zm-4 5zm10-3zm-2-1zm0-4zm2 0zm3-2zm-6-2zm5 0zm-5-1zm2-2zm1 0zm2 0zm-2-1zm2 0zm-3-1zm4 0zm-2-1zm-1-1zm-2-3zm4 0zm-2-1zm-3-1zm1 0zm2-3zm-2-2zm4-3zm0-1zm-1-1zm-2-5zm4 0zm4-4zm5 1zm-6 7zm-1 5zm2 2zm0 7zm4 0zm-6 1zm1 1zm2 1zm0 4zm1 0zm-3 1zm6 1zm0 1zm-7 5zm11-1zm-1-5zm0-5zm2-1zm1-2zm-1-1zm-3-3zm10-2zm-2 5zm-1 2zm5 0zm2 9zm4-5zm4-7zm-3-5zm11-3zm-7 17zm2 2zm17-14zm2 1zm-3 1zm1 3zm1 7zm6-2zm13-11zm-2 1zm-1 1zm10 0zm-3-4zm4-1zm-1-1zm8 4zm10-3z"/><path stroke="#3a8fa3" stroke-opacity="0.48" d="M520 86zm2-2zm2 0zm-2-1zm-1-1zm2 0zm-3-1zm2 0zm3 0zm-3-1zm2 0zm2 0zm1 0zm-7-1zm2 0zm1 0zm1 0zm1 0zm2 0zm-5-1zm1 0zm1 0zm2 0zm1 0zm-6-1zm1 0zm1 0zm1 0zm1 0zm2 0zm-5-1zm1 0zm2 0zm1 0zm1 0zm-6-1zm1 0zm2 0zm1 0zm1 0zm1 0zm-7-1zm1 0zm3 0zm0-1zm1 0zm1 0zm1 0zm-6-1zm3 0zm1 0zm1 0zm-4-1zm2 0zm2 0zm1 0zm-4-1zm2 0zm1 0zm-2-1zm-2-2zm4 0zm-1-1zm1 0zm1 0zm-1-1zm1 0zm-3-2zm10 1zm-4 2zm1 0zm-3 1zm4 0zm2 0zm-3 1zm1 0zm1 0zm1 0zm-3 1zm2 0zm1 0zm-6 1zm4 0zm-4 1zm1 0zm1 0zm1 0zm2 0zm-5 1zm2 0zm4 1zm1 0zm-6 1zm-1 1zm1 0zm1 0zm2 0zm3 0zm-7 1zm1 0zm3 0zm1 0zm2 0zm-6 1zm2 0zm-3 1zm1 0zm1 0zm2 0zm2 0zm-6 1zm1 0zm1 0zm2 0zm1 0zm1 0zm1 0zm-4 1zm1 0zm-3 1zm4 0zm-5 1zm6 0zm-1 1zm3-14z"/><path stroke="#d0a028" stroke-opacity="0.34" d="M501 75zm10 13zm0-9zm-5-4zm4-4zm-1-3zm8-25zm1 0zm1 11zm-5 4zm1 6zm2 0zm0 3zm2 0zm-6 4zm3 0zm1 0zm2 0zm-6 1zm2 0zm2 0zm2 1zm-6 1zm0 1zm1 0zm5 0zm-2 1zm0 3zm1 2zm-5 3zm1 1zm2 0zm-1 1zm10 2zm1-3zm-1-2zm-2-1zm2-1zm0-2zm1 0zm-5-2zm5 0zm-3-1zm2-1zm-5-1zm4 0zm2 0zm-4-1zm4 0zm-4-1zm1 0zm1 0zm2 0zm-4-2zm0-1zm1 0zm4 0zm0-1zm-3-1zm1 0zm2 0zm-2-1zm-5-1zm2 0zm1 0zm1 0zm1 0zm2 0zm-6-1zm3 0zm-4-1zm1-1zm3 0zm3 0zm-3-1zm2 0zm-4-1zm4-1zm-3-3zm3 0zm-1-1zm7-11zm3 4zm-2 7zm1 0zm-3 2zm-1 1zm0 1zm-1 1zm6 1zm-7 1zm2 1zm5 0zm-1 1zm-6 1zm1 0zm2 0zm2 0zm-4 1zm3 1zm3 0zm-7 3zm3 0zm-3 2zm5 0zm2 0zm-1 1zm1 2zm-7 1zm2 0zm1 0zm-2 2zm2 1zm-2 1zm1 0zm2 1zm-3 3zm4 0zm0 3zm4 0zm-1-8zm0-3zm2 0zm2 0zm-4-3zm3 0zm2 0zm-1-1zm1 0zm-1-3zm1-2zm-5-1zm7 0zm-5-3zm4-3zm-5-1zm3-1zm2 0zm-5-1zm0-3zm2-2zm2-2zm9-14zm0 2zm-6 12zm1 0zm-1 4zm1 6zm-1 1zm3 4zm-2 1zm5 0zm1 0zm-4 2zm0 1zm0 1zm4 0zm-6 8zm10 2zm-3-7zm2 0zm3-3zm-5-3zm2-2zm-2-3zm2-3zm12 8zm-3 1zm-1 2zm1 1zm4 0zm-1 3zm0 1zm-3 1zm3 0zm4 1zm13-17zm-6 4zm12 9zm1-11zm-4-5zm10 7zm1 1zm2 0zm-6 1zm2 3zm-2 1zm9-2zm1 0zm3 0zm-2-6zm10 2zm0 1zm-5 7zm8-5zm3 0zm1-7zm2-6zm5 8zm8-3zm5-3z"/><path stroke="#3a8fa3" stroke-opacity="0.48" d="M521 85zm1 0zm5 0zm-5-1zm2 0zm1 0zm2 0zm-6-1zm0-1zm2 0zm2 0zm1 0zm-3-1zm-2-1zm1 0zm2 0zm1 0zm2-1zm-4-1zm1 0zm1 0zm1 0zm1 0zm-3-1zm1 0zm1 0zm1 0zm-6-1zm1 0zm1 0zm1 0zm2 0zm1 0zm-6-1zm1 0zm1 0zm1 0zm1 0zm-4-1zm1 0zm1 0zm1 0zm1 0zm-2-1zm2 0zm1 0zm-5-1zm1 0zm1 0zm1 0zm1 0zm1 0zm1 0zm-5-1zm2 0zm1 0zm-3-1zm5-1zm-3-1zm1 0zm1 0zm-4-1zm2 0zm-3-3zm2-1zm4-1zm-4-4zm5 2zm7 2zm-7 1zm4 0zm2 0zm-1 2zm0 1zm-3 1zm-2 1zm2 0zm3 1zm-5 1zm4 0zm2 0zm-1 1zm1 0zm-5 1zm1 0zm3 0zm-5 1zm1 0zm4 0zm1 0zm-6 1zm2 0zm1 0zm2 0zm-5 1zm2 0zm1 0zm1 0zm-4 1zm3 0zm-3 1zm2 0zm-2 1zm2 0zm1 0zm-3 1zm1 1zm-1 1zm4 0zm-2 1zm3 0zm-4 1zm-1 1zm4 3zm4-12zm2-1zm-2-3zm0-1zm1-3zm-1-6z"/><path stroke="#d0a028" stroke-opacity="0.34" d="M502 89zm5-2zm1 0zm1-2zm1-1zm-2-1zm3-2zm-4-6zm0-5zm-1-1zm4-18zm6 5zm-4 1zm2 4zm5 3zm0 2zm-7 1zm1 0zm3 3zm3 0zm-1 1zm-5 1zm3 0zm3 0zm-4 1zm3 0zm-5 1zm2 0zm-3 1zm4 0zm-4 2zm1 0zm0 2zm3 1zm2 0zm-1 1zm1 0zm-6 1zm4 2zm0 3zm4-3zm1-1zm0-5zm2 0zm-2-1zm4 0zm2-1zm-7-1zm2 0zm5 0zm-6-1zm4 0zm2 0zm-3-1zm0-2zm3-1zm-7-3zm6 0zm-1-1zm-3-1zm0-1zm1 0zm2-1zm-2-1zm-1-4zm4-1zm0-1zm-6-2zm7 0zm-3-5zm7-1zm0 6zm4 0zm-3 2zm2 0zm-6 2zm3 0zm4 1zm-5 1zm2 0zm2 0zm-6 1zm6 0zm-4 1zm1 0zm3 0zm-6 1zm0 2zm1 1zm6 0zm-5 2zm4 0zm-4 1zm1 0zm2 0zm-2 1zm1 0zm3 0zm-7 1zm3 0zm-2 1zm-1 1zm4 0zm-4 2zm1 0zm0 3zm3 0zm1 0zm-2 1zm2 0zm-5 1zm2 1zm2 1zm-1 2zm-3 1zm12 4zm-3-6zm3-2zm-4-2zm0-2zm3-1zm3 0zm-6-1zm2 0zm0-1zm-1-1zm1 0zm3-1zm2 0zm-5-2zm-2-3zm3-1zm4 0zm-4-1zm1 0zm-4-1zm0-1zm1 0zm4 0zm2 0zm-6-1zm3 0zm-2-1zm-2-2zm5-1zm-5-1zm4-7zm1-1zm-1-8zm8 3zm1 2zm0 3zm-1 2zm-3 5zm2 0zm1 2zm-4 8zm4 1zm3 2zm-5 1zm4 1zm-5 1zm4 0zm2 0zm-4 2zm-1 3zm11 0zm0-2zm-2-5zm4-8zm5 2zm3 6zm-7 4zm6 3zm1 2zm1-3zm2-7zm-1-4zm2-5zm6-2zm1 2zm0 8zm0 5zm8-3zm2-3zm3-4zm0-2zm12 9zm-3-9zm1-1zm5 0zm6-6zm-3 8zm9 13zm3-4zm7-16zm-2 6zm11 3zm-2-7z"/><path stroke="#3a8fa3" stroke-opacity="0.48" d="M521 85zm6 0zm-6-2zm2 0zm1 0zm1 0zm1 0zm-4-1zm2 0zm-1-1zm1 0zm2 0zm-5-1zm1 0zm2 0zm1 0zm1 0zm1 0zm-6-1zm1 0zm1 0zm1 0zm-3-1zm2 0zm2 0zm1 0zm1 0zm-6-1zm1 0zm4 0zm1 0zm-5-1zm1 0zm1 0zm1 0zm1 0zm1 0zm-6-1zm1 0zm1 0zm2 0zm1 0zm1 0zm-6-1zm1 0zm1 0zm2 0zm2 0zm-6-1zm1 0zm2 0zm1 0zm1 0zm-4-1zm2 0zm1 0zm2 0zm-6-1zm3 0zm1 0zm1 0zm1 0zm-6-1zm1 0zm1 0zm2 0zm2 0zm-7-2zm3 0zm1 0zm1 0zm2 0zm-5-1zm5 0zm-3-2zm1-3zm-4-1zm10-4zm3 3zm-5 5zm-1 1zm3 0zm2 1zm-5 1zm1 1zm4 0zm1 0zm-6 1zm2 0zm1 0zm1 0zm-1 1zm2 1zm-5 1zm2 0zm3 0zm-3 1zm3 0zm1 1zm-6 1zm2 0zm2 0zm-4 1zm1 0zm-1 1zm1 0zm1 0zm2 0zm-4 2zm2 1zm-2 3zm1 2zm8-15zm0-4zm2-2zm0-3z"/><path stroke="#d0a028" stroke-opacity="0.34" d="M502 76zm7 1zm0-4zm2 0zm0-2zm-1-4zm0-11zm9-3zm-3 1zm0 4zm3 1zm-3 4zm1 0zm2 0zm0 1zm0 1zm-6 1zm-1 1zm7 2zm-5 1zm5 0zm-3 2zm-2 1zm2 1zm1 0zm1 0zm-2 1zm-3 3zm6 1zm-1 1zm0 1zm-1 1zm1 0zm1 0zm-2 2zm0 1zm-1 2zm7 0zm3-1zm0-2zm-1-2zm-3-1zm-2-2zm1-2zm6 0zm-6-1zm3 0zm-2-1zm2 0zm3 0zm-6-1zm1 0zm4 0zm-3-3zm1 0zm1 0zm-5-1zm3 0zm-3-1zm2 0zm5-1zm-6-1zm5 0zm-3-2zm0-1zm1 0zm-2-1zm0-7zm1 0zm1-2zm3-1zm7-2zm-2 1zm2 2zm-1 1zm2 0zm-3 4zm0 1zm0 1zm1 1zm-2 1zm1 0zm1 2zm-5 1zm3 0zm1 0zm2 0zm-6 1zm1 0zm1 0zm3 0zm-1 1zm-1 1zm2 0zm-5 1zm5 0zm1 0zm-3 1zm1 0zm-4 1zm1 1zm4 0zm0 1zm-5 2zm1 0zm-1 1zm2 0zm-2 1zm4 0zm-1 1zm0 1zm-2 1zm2 0zm5-1zm4 0zm1 0zm-3-3zm1-1zm-3-1zm6 0zm1-3zm-5-1zm-2-1zm3 0zm1-1zm3 0zm-4-2zm1 0zm2 0zm-3-3zm2 0zm1 0zm1-2zm0-4zm-1-1zm-4-3zm1-3zm-1-12zm6 9zm3 5zm3 0zm-4 3zm2 7zm1 2zm-3 1zm2 0zm3 0zm-7 3zm7 0zm-7 1zm3 8zm-2 1zm1 3zm10-16zm-3-2zm5 0zm9-6zm-3 6zm0 5zm6 2zm0-1zm13-8zm-4 2zm-2 1zm0 6zm2 8zm2 4zm5-13zm1-6zm4-1zm-3-1zm3 0zm-3-2zm7 5zm1 0zm-3 2zm3 1zm9-5zm-4-1zm5-3zm9-3zm-3 4zm2 0zm1 2zm-4 2zm3 0zm-4 3zm8 1zm11-12zm-3 1zm-2 5zm1 1zm0 1zm4 1zm-3 2zm6-6zm10-7z"/><path stroke="#3a8fa3" stroke-opacity="0.48" d="M522 84zm2 0zm-2-1zm1 0zm0-1zm-2-1zm1 0zm5 0zm-3-1zm1 0zm-5-1zm1 0zm3 0zm-3-1zm2 0zm2 0zm2 0zm-6-1zm1 0zm1 0zm1 0zm2 0zm1 0zm-7-1zm1 0zm1 0zm3 0zm1 0zm1 0zm-6-1zm2 0zm1 0zm1 0zm1 0zm1 0zm-6-1zm1 0zm2 0zm3 0zm-6-1zm3 0zm1 0zm1 0zm1 0zm-6-1zm2 0zm2 0zm1 0zm-6-1zm2 0zm1 0zm1 0zm1 0zm1 0zm-1-1zm1 0zm1 0zm-7-1zm2 0zm1 0zm2 0zm2 0zm-2-1zm2 0zm-4-1zm4 0zm-5-2zm1 0zm-1-3zm8-1zm1 0zm2 1zm2 2zm-2 1zm-1 1zm-1 1zm3 0zm1 0zm-7 2zm1 0zm4 0zm2 0zm-5 1zm2 0zm2 0zm1 0zm-3 1zm3 0zm-5 1zm1 0zm3 0zm-6 1zm1 0zm1 0zm2 0zm1 0zm-5 1zm6 0zm-5 1zm1 0zm1 0zm1 0zm-4 1zm1 0zm1 0zm1 0zm-2 1zm3 0zm-4 1zm1 1zm3 0zm1 0zm1 0zm-6 1zm4 0zm-4 1zm2 0zm-2 2z"/><path stroke="#d0a028" stroke-opacity="0.34" d="M511 83zm-4-3zm1-4zm3 0zm0-3zm7-23zm-3 12zm-3 1zm2 0zm2 3zm2 0zm-5 1zm3 1zm-1 2zm1 0zm2 0zm-6 3zm7 0zm-3 3zm-4 2zm6 0zm-4 1zm4 0zm-3 1zm1 0zm-2 4zm1 4zm5-2zm1-3zm3 0zm1-1zm2-1zm-7-1zm2 0zm4 0zm1 0zm-7-2zm5 0zm1 0zm-6-1zm3 0zm0-1zm3-2zm-1-1zm1 0zm-6-1zm1 0zm3-1zm2 0zm0-1zm1 0zm-7-1zm3-1zm1 0zm1 0zm1 0zm-1-1zm2 0zm-4-1zm0-1zm4 0zm-5-2zm2 0zm3 0zm-6-4zm4-1zm2-1zm0-1zm-1-2zm-3-1zm1-3zm0-2zm3-2zm-4-12zm12 12zm0 3zm-1 6zm-4 1zm5 0zm-4 1zm-2 1zm2 0zm3 0zm0 1zm-2 1zm-4 2zm5 0zm2 0zm-5 1zm2 1zm1 0zm1 0zm1 0zm-7 1zm3 1zm3 1zm-6 2zm3 0zm3 0zm-5 1zm1 0zm1 0zm3 0zm-3 1zm1 1zm1 0zm1 1zm1 0zm-2 1zm-4 1zm1 0zm-1 1zm1 0zm1 0zm1 0zm-3 1zm1 0zm3 0zm-3 1zm3 0zm-4 1zm2 1zm-3 1zm1 2zm5 0zm-6 1zm12 1zm0-6zm1 0zm2-1zm-2-1zm-4-2zm1-2zm0-2zm1 0zm1 0zm-2-1zm-1-1zm3 0zm0-1zm3 0zm-6-1zm3-1zm1 0zm-4-2zm0-4zm0-2zm6 0zm-2-2zm-2-1zm-3-2zm1-5zm11-3zm-3 11zm3 4zm0 15zm-2 1zm3 1zm2 6zm7-5zm1-2zm-6-9zm6-1zm-7-2zm9-6zm2 3zm4 5zm-7 3zm0 4zm10-1zm2-7zm2-3zm5-5zm-3 16zm7 2zm-2 1zm10 3zm-7-6zm7 0zm-5-12zm-1-3zm6 0zm4 6zm1 1zm-4 6zm5 2zm-2 1zm6-7zm5-14zm6 9zm0 2zm-4 6zm13-7zm1-1zm-5-9zm9 12zm13-3zm-6-1z"/><path stroke="#3a8fa3" stroke-opacity="0.48" d="M521 87zm-1-1zm1-3zm3 0zm3 0zm-5-1zm1 0zm-2-1zm1 0zm1 0zm2 0zm1 0zm-3-1zm1 0zm3 0zm-4-1zm1 0zm1 0zm1 0zm1 0zm-4-1zm2 0zm2 0zm-5-1zm2 0zm1 0zm-4-1zm1 0zm1 0zm1 0zm-3-1zm1 0zm1 0zm1 0zm1 0zm1 0zm1 0zm-4-1zm2 0zm1 0zm-4-1zm2 0zm3 0zm-6-1zm3 0zm1 0zm2 0zm-6-1zm1 0zm1 0zm1 0zm2 0zm1 0zm-6-1zm1 0zm4 0zm-3-1zm1 0zm-1-1zm3-1zm0-1zm-3-1zm-1-1zm2 0zm3-1zm-3-1zm9 2zm-1 1zm-4 1zm4 0zm-2 1zm5 0zm-5 1zm2 0zm1 0zm-3 1zm1 1zm0 1zm1 0zm-2 1zm1 0zm1 0zm-4 1zm1 0zm1 0zm-2 1zm1 0zm2 0zm2 0zm-4 1zm5 0zm-6 1zm1 0zm1 0zm1 0zm-3 1zm1 0zm3 0zm-4 1zm2 0zm1 0zm-1 1zm1 0zm-3 1zm1 0zm1 0zm3 0zm-5 2zm3 0zm1 0zm-2 2zm6-8zm2-4zm0-4zm-1-12z"/><path stroke="#d0a028" stroke-opacity="0.34" d="M501 65zm9 23zm0-3zm1-1zm-3-3zm0-11zm2-1zm1 0zm-1-1zm1-5zm-1-1zm9-5zm-2 6zm1 0zm-6 1zm2 0zm5 2zm0 1zm-7 1zm7 0zm-2 1zm1 0zm1 0zm-3 1zm0 1zm2 0zm-4 1zm2 0zm0 2zm2 0zm-3 2zm-3 1zm1 0zm3 0zm2 1zm1 0zm0 1zm-3 1zm-1 4zm2 0zm-1 1zm1 2zm1 2zm4-3zm-2-1zm3-1zm-3-2zm2-1zm-2-1zm0-1zm3 0zm4 0zm-7-2zm1 0zm6 0zm0-2zm-6-1zm4-1zm-2-1zm4 0zm-1-1zm1 0zm-3-1zm-1-1zm1 0zm3 0zm-4-1zm1 0zm2 0zm-5-2zm-1-1zm5 0zm2 0zm-7-1zm5-1zm1 0zm-4-1zm5 0zm-2-1zm-1-2zm-4-3zm5-1zm-4-2zm5-5zm1-4zm4 4zm1 9zm0 1zm-3 1zm4 0zm-5 1zm4 0zm-2 2zm4 0zm-5 1zm3 0zm-3 1zm5 1zm0 1zm-6 2zm2 0zm4 0zm-1 1zm2 0zm-3 1zm2 0zm1 0zm-5 1zm5 0zm-6 1zm3 0zm3 0zm-6 1zm2 0zm2 0zm1 0zm1 0zm0 1zm-7 1zm1 0zm1 0zm2 0zm3 0zm-7 1zm5 0zm0 2zm-3 1zm3 0zm2 0zm-7 1zm5 0zm0 2zm1 1zm6-6zm-2-2zm2 0zm-2-2zm0-3zm2-2zm2-1zm-1-1zm1-1zm-4-2zm1 0zm2 0zm-2-3zm2-3zm2-5zm-6-2zm0-2zm4-2zm1-1zm-3-15zm5 10zm0 11zm1 4zm-1 5zm2 0zm-2 2zm4 2zm1 2zm0 2zm-3 1zm2 1zm3 0zm-5 1zm5 1zm-2 1zm2 0zm-4 6zm-2 4zm0 1zm9-13zm-2-2zm1-4zm2-10zm5 10zm8 5zm2 0zm3-5zm-4-6zm9 7zm9 2zm-3-2zm7-1zm7 3zm5-4zm4-8zm1 4zm7 4zm2-5zm6-4zm9 7zm3 0zm8 2zm-2 2z"/><path stroke="#3a8fa3" stroke-opacity="0.48" d="M525 87zm-3-1zm1-1zm-2-1zm3 0zm3 0zm-7-1zm2 0zm2 0zm1 0zm1 0zm-6-1zm2 0zm1 0zm0-1zm1 0zm2 0zm1 0zm-5-1zm1 0zm1 0zm2 0zm-4-1zm2 0zm1 0zm-5-1zm2 0zm2 0zm1 0zm-4-1zm1 0zm1 0zm2 0zm1 0zm1 0zm-5-1zm5 0zm-6-1zm3 0zm2 0zm1 0zm-5-1zm1 0zm1 0zm2 0zm1 0zm-4-1zm1 0zm1 0zm1 0zm1 0zm-6-1zm1 0zm2 0zm1 0zm-3-1zm1 0zm2 0zm-5-1zm1 0zm2 0zm3 0zm-5-1zm5 0zm1 0zm-4-1zm3 0zm1 0zm-4-1zm4-1zm-2-1zm0-4zm7 2zm-1 1zm1 1zm0 1zm-2 1zm-1 1zm1 0zm5 0zm-7 1zm1 0zm1 0zm1 0zm-3 1zm2 0zm2 0zm1 0zm-5 1zm3 0zm-3 1zm2 0zm5 0zm-7 1zm1 0zm-1 1zm1 0zm1 0zm4 0zm-3 1zm2 0zm-4 1zm1 0zm-1 1zm1 0zm-2 1zm1 0zm3 0zm-4 1zm2 0zm1 0zm-3 1zm2 0zm1 0zm3 0zm-3 2zm5-10zm0-3zm1-3z"/><path stroke="#d0a028" stroke-opacity="0.34" d="M509 84zm2-1zm-3-7zm0-2zm0-1zm1-2zm2 0zm4-16zm4 1zm0 4zm0 1zm0 1zm-2 2zm-4 1zm6 0zm-6 1zm-1 3zm2 1zm5 0zm-3 1zm-1 1zm1 0zm-2 3zm3 1zm2 0zm-3 1zm-2 1zm3 0zm-4 1zm4 2zm-4 3zm13 4zm-3-2zm3-1zm-4-1zm4 0zm-4-1zm2-2zm1-1zm-5-1zm7 0zm-5-1zm2-1zm1-2zm-4-1zm2 0zm-3-1zm2 0zm1-2zm1-1zm2 0zm1 0zm-4-1zm2 0zm0-1zm-4-1zm0-3zm4-1zm0-1zm-4-1zm-1-1zm4-2zm-4-7zm1 0zm5-3zm-2-5zm2-5zm6 14zm-3 2zm6 2zm-5 1zm2 0zm3 0zm-4 1zm3 1zm-5 1zm1 0zm3 0zm1 2zm-6 2zm3 1zm-1 2zm1 0zm2 0zm2 1zm-4 1zm1 0zm2 0zm-4 1zm2 0zm2 0zm-6 1zm2 0zm-1 1zm4 0zm-3 1zm1 0zm3 0zm-4 1zm4 0zm-6 1zm1 0zm2 0zm1 0zm3 1zm-6 1zm3 0zm-2 1zm3 0zm2 0zm-3 1zm-4 1zm0 1zm1 0zm-1 1zm1 1zm2 3zm5-4zm3-1zm4-1zm-6-1zm2 0zm-3-1zm2 0zm1 0zm-1-1zm4 0zm-6-2zm4 0zm-4-1zm7 0zm-1-1zm-5-1zm0-1zm3 0zm3 0zm-2-2zm-5-1zm2 0zm5 0zm-6-2zm1-1zm-2-2zm7 0zm-1-1zm-4-1zm2 0zm-1-2zm0-21zm9 19zm-4 5zm7 0zm-6 1zm5 0zm1 2zm-2 1zm-1 2zm-2 2zm4 3zm-1 1zm-3 1zm0 3zm-2 1zm5 1zm-5 1zm0 3zm8-9zm1-9zm6-5zm6 1zm-1 3zm3 0zm-3 18zm4-10zm1-4zm3 0zm1 0zm1-4zm9 3zm-5 1zm11-3zm-3-1zm2 0zm2 0zm-4-2zm-2-3zm5-1zm9 1zm-5 4zm5 5zm5 3zm6-11zm2 0zm4 1zm4 8zm-1-3zm3-6zm-1-1zm2-2zm12-4zm8 3z"/><path stroke="#3a8fa3" stroke-opacity="0.48" d="M523 87zm-1-2zm2-1zm-2-1zm1-1zm1 0zm1 0zm1 0zm1 0zm-7-1zm1 0zm1 0zm1 0zm1 0zm1 0zm2 0zm-6-1zm3 0zm1 0zm2 0zm-6-1zm1 0zm1 0zm1 0zm2 0zm1 0zm-6-1zm1 0zm1 0zm1 0zm2 0zm1 0zm-6-1zm2 0zm1 0zm1 0zm2 0zm-5-1zm1 0zm1 0zm1 0zm1 0zm1 0zm-6-1zm2 0zm2 0zm1 0zm-5-1zm1 0zm2 0zm1 0zm-4-1zm2 0zm1 0zm1 0zm-3-1zm1 0zm3 0zm1 0zm-4-1zm1 0zm1 0zm1-1zm1 0zm-5-1zm5 0zm-6-1zm1 0zm1 0zm1 0zm0-1zm1 0zm-2-1zm2 0zm-3-1zm5 0zm2-2zm2 0zm4 1zm-6 1zm1 3zm1 1zm1 0zm-4 1zm4 0zm2 0zm-6 1zm2 0zm-2 1zm2 0zm4 0zm-6 1zm1 0zm0 1zm1 0zm1 0zm4 0zm-5 1zm1 0zm2 0zm-5 1zm1 0zm1 0zm3 0zm-5 1zm1 0zm1 0zm2 0zm-3 1zm5 0zm-6 1zm2 0zm1 0zm1 2zm-3 1zm1 0zm0 1zm-1 1zm0 1z"/></g></g>
<g clip-path="url(#c3)"><g stroke-width="1.7" stroke-linecap="round" fill="none"><path stroke="#d0a028" stroke-opacity="0.34" d="M310 142zm1 2zm-1 6zm0 2zm3 1zm5-4zm-2-9zm8-13zm0 8zm-1 4zm4 9zm-1 2zm1 4zm-1 4zm-5 2zm4 3zm2 2zm3 1zm-1-3zm6-1zm-7-2zm1 0zm2 0zm-3-4zm4-1zm1 0zm-1-1zm2-2zm1 0zm-4-2zm4 0zm-7-2zm6 0zm-3-4zm2-6zm-4-6zm-1-2zm1-18zm7 26zm6 4zm1 2zm-1 2zm0 2zm1 1zm-3 1zm2 0zm-6 1zm2 2zm-2 3zm0 1zm3 0zm3 0zm-4 4zm4 1zm-4 1zm1 3zm0 1zm7-2zm0-1zm-1-3zm2 0zm-3-1zm1 0zm2 0zm-3-1zm4 0zm-3-1zm1 0zm2-1zm2 0zm-4-1zm2 0zm1-1zm1 0zm-6-2zm4 0zm1 0zm1 0zm-6-2zm5 0zm1 0zm-3-2zm4-1zm-5-1zm1 0zm1 0zm0-1zm0-2zm-2-4zm1-6zm0-1zm7 2zm0 11zm1 0zm4 0zm-7 1zm5 2zm1 1zm1 0zm-5 1zm2 0zm2 0zm-4 1zm1 0zm2 0zm-5 1zm2 0zm0 1zm2 1zm-4 3zm2 0zm-2 3zm0 2zm3 1zm-3 2zm9-3zm5 0zm-4-1zm-2-1zm3 0zm0-1zm4 0zm-7-1zm5-1zm-4-1zm0-1zm1 0zm-2-3zm1-1zm2 0zm4 0zm-1-1zm-3-1zm-3-1zm3-4zm-3-2zm1 0zm1 0zm1 0zm-3-11zm11 11zm1 1zm-2 1zm-2 2zm1 5zm6 1zm-5 1zm1 0zm4 0zm-1 1zm-4 1zm2 1zm-2 1zm1 1zm1 0zm0 1zm-3 1zm5 0zm-5 1zm2 1zm-3 2zm15-3zm-3-1zm3 0zm0-1zm-5-1zm1 0zm-2-2zm2-1zm1 0zm-4-2zm1 0zm-1-1zm3 0zm2-2zm-5-2zm1 0zm4 0zm2-5zm7 0zm-5 1zm1 5zm5 3zm-4 2zm2 0zm-2 1zm2 1zm0 2zm-1 1zm3 0zm-5 3zm1 0zm3 2zm6 2zm-4-1zm3-6zm-2-7zm6-2zm4 2zm-1 1zm4 4zm-1 2zm0 1zm-5 4zm6 0zm-5 1zm17-1z"/><path stroke="#3a8fa3" stroke-opacity="0.48" d="M318 157zm16 6zm-4-4zm3-3zm-1-3zm-4-2zm14-11zm0 20zm1 1zm-3 4zm0 1zm-2 3zm4 0zm-1 2zm3 2zm6 0zm1-4zm-2-1zm-4-4zm2-5zm1 0zm-2-2zm3-1zm-3-3zm4-1zm-2-2zm3-7zm2 5zm4 0zm1 0zm-6 2zm4 4zm-1 3zm3 3zm-1 2zm0 1zm-3 2zm4 0zm0 1zm1 0zm-3 4zm3 1zm0 4zm-6 2zm11-7zm-3-2zm5-2zm1 0zm0-1zm-6-3zm4-1zm-5-1zm4-2zm2 0zm0-1zm-5-2zm1 0zm5 0zm-6-1zm4-4zm0-1zm-2-9zm10 14zm1 0zm-4 2zm-2 1zm1 0zm1 2zm1 0zm4 0zm0 1zm-3 1zm-1 1zm3 0zm1 0zm0 1zm0 2zm-7 1zm1 0zm-1 2zm4 0zm2 1zm-3 1zm0 1zm-3 1zm4 0zm11 7zm-2-1zm-2-2zm1-1zm-1-4zm1-1zm1-1zm-1-7zm-4-1zm3-1zm3-1zm4-2zm-2 1zm5 0zm-5 1zm3 0zm3 0zm-1 1zm2 2zm-7 1zm1 0zm1 1zm0 1zm4 0zm-5 2zm1 0zm-2 7zm9 2zm6-4zm-4-1zm3 0zm-3-4zm3-1zm-1-3zm1-11zm7 5zm-4 5zm1 2zm1 1zm4 0zm-7 2zm7 5zm-1 4zm9-4zm-6-1zm2-1zm-2-6zm2-2zm0-3zm5 5zm3 14zm3 0zm-3 5zm10-8zm-1-1zm1 0zm-5-4zm3-2zm-3-10zm1-5zm3 0zm10 9zm1 3zm-5 7zm1 0zm2 2zm-1 5zm1 0zm13-10zm10 8zm33-9z"/><path stroke="#d0a028" stroke-opacity="0.34" d="M311 148zm2 6zm3-2zm3 0zm-6-3zm1-9zm4-2zm-1-17zm6 10zm1 4zm3 12zm0 1zm-2 2zm-4 4zm-1 3zm7 0zm-2 2zm2 0zm-2 2zm1 0zm6 1zm1-1zm2-2zm-6-4zm6 0zm-7-3zm0-1zm6-1zm0-1zm-2-1zm-2-1zm-1-1zm2-2zm4-4zm-5-8zm3-14zm3-19zm2 28zm2 9zm-3 3zm5 2zm0 1zm-2 7zm0 2zm-3 1zm6 0zm-3 2zm3 0zm-2 1zm0 1zm2 0zm-6 1zm4 0zm2 0zm-4 3zm-1 1zm3 0zm-3 3zm10 6zm-4-5zm0-1zm5-2zm-1-1zm2-1zm-4-1zm2 0zm-2-1zm1 0zm1 0zm0-1zm-2-2zm5 0zm-5-1zm2 0zm2 0zm1 0zm-2-1zm-4-1zm3 0zm0-2zm1 0zm1 0zm1 0zm0-1zm-4-1zm1-2zm2 0zm-2-1zm0-3zm0-1zm-2-2zm0-7zm10 9zm-2 4zm0 2zm2 1zm-4 1zm3 0zm4 0zm-7 1zm4 1zm-1 1zm1 1zm3 0zm-5 2zm3 0zm1 0zm-5 1zm5 0zm-4 2zm2 0zm-2 1zm4 1zm1 0zm-2 3zm2 0zm-2 3zm1 0zm-4 2zm6-6zm3-1zm3 0zm-2-1zm2 0zm-6-2zm0-1zm6 0zm-2-1zm-2-2zm2 0zm-2-1zm1 0zm3 0zm-2-1zm-1-2zm4 0zm-4-4zm-3-1zm7-1zm-1-6zm9 2zm-7 5zm7 4zm-3 1zm-3 2zm3 0zm-4 1zm2 0zm-1 1zm-1 1zm4 0zm0 1zm-1 1zm-2 4zm2 1zm11 4zm-5-1zm3 0zm3-3zm-7-1zm3 0zm2 0zm-2-2zm-2-1zm5 0zm1-4zm-3-2zm-4-3zm6-5zm-1-3zm8 1zm-5 7zm0 2zm1 1zm0 2zm2 2zm1 0zm0 4zm3 1zm-4 4zm4 0zm6-3zm-4-1zm2 0zm1 0zm-2-3zm-2-4zm2-2zm5-2zm-2-3zm6 6zm0 1zm-1 1zm0 3zm1 0zm4 3zm-5 3zm3 1zm2 2zm0 3zm6-10zm-5-4z"/><path stroke="#3a8fa3" stroke-opacity="0.48" d="M338 151zm-2 6zm4 1zm-2 1zm2 3zm-3 1zm2 4zm-2 2zm3 0zm4 4zm1-2zm4-1zm-5-5zm7 0zm-4-3zm0-1zm4-2zm-3-1zm3-3zm-5-3zm3 0zm-5-3zm0-5zm5-1zm3 2zm2 4zm-1 1zm-1 5zm5 1zm-2 1zm4 0zm-1 2zm-1 1zm-2 5zm1 0zm-4 1zm7 0zm-7 1zm1 1zm6 2zm0 2zm5 1zm3-4zm-6-2zm1 0zm5 0zm-4-1zm1 0zm-1-7zm-3-1zm1-3zm2-2zm7-3zm-1 2zm1 1zm3 4zm-3 1zm3 0zm2 2zm-4 1zm3 0zm-6 1zm0 1zm1 2zm1 1zm5 1zm-7 1zm7 0zm-5 1zm2 1zm-2 1zm4 0zm-3 1zm1 0zm0 3zm9 3zm-1-4zm2 0zm-3-1zm-1-3zm3-3zm2-2zm-5-1zm2 0zm1 0zm-1-3zm-2-1zm2 0zm1-1zm2-1zm-1-3zm1-1zm-7-4zm8-2zm3 0zm-1 1zm5 3zm-6 1zm4 1zm-5 4zm5 0zm0 8zm-4 1zm5 0zm1 0zm-5 3zm1 0zm2 3zm-1 1zm1 3zm0 2zm-1 2zm9-1zm-4-5zm2-1zm-2-4zm6 0zm0-1zm-6-2zm2 0zm0-4zm-3-1zm6 0zm1-1zm6-2zm-5 3zm0 3zm5 0zm-2 1zm1 2zm-1 5zm-3 1zm0 1zm5 0zm-3 1zm3 0zm-1 4zm11 1zm-3-2zm-1-2zm-1-14zm2-1zm1-1zm1-5zm8 1zm-2 6zm-4 2zm9 13zm5 0zm0-1zm-4-17zm5-4zm3 11zm0 4zm3 10zm3-2zm1-15zm43 12z"/><path stroke="#d0a028" stroke-opacity="0.34" d="M312 152zm4 0zm1-9zm7-26zm2 18zm-6 12zm5 2zm-5 1zm5 9zm-2 1zm4 0zm0 4zm1-1zm6-4zm-3-3zm3 0zm-4-3zm3 0zm-3-1zm3-1zm1-1zm1 0zm-6-3zm1 0zm5 0zm-7-1zm6 0zm-5-2zm2-1zm-2-1zm-1-9zm3-18zm8 24zm1 4zm0 1zm-3 4zm3 0zm1 1zm2 0zm-3 2zm-4 1zm2 0zm1 0zm1 0zm1 1zm2 1zm-7 1zm1 0zm5 0zm-6 1zm6 1zm-3 1zm2 0zm-1 1zm-1 1zm-2 2zm1 1zm-2 2zm13-1zm-2-1zm2-2zm-4-2zm5 0zm0-1zm1 0zm-7-1zm0-1zm4 0zm3 0zm-1-2zm1 0zm-7-2zm2 0zm4 0zm1 0zm-4-1zm-1-1zm-2-1zm6 0zm-4-1zm1-1zm-3-27zm3-4zm9 20zm-3 2zm6 1zm-5 1zm-1 1zm2 1zm-2 5zm4 0zm-2 3zm-2 1zm4 0zm-4 2zm3 0zm2 0zm-6 1zm3 0zm3 1zm-5 1zm1 0zm1 0zm4 0zm-6 1zm-1 1zm5 0zm2 0zm-6 1zm2 0zm2 0zm1 0zm-6 1zm5 1zm10 6zm0-2zm-1-4zm-5-1zm6-2zm-5-1zm0-1zm3-1zm-3-1zm3 0zm1 0zm-3-1zm3 0zm1 0zm-2-1zm-5-1zm2 0zm3 0zm-5-1zm0-1zm2 0zm4-2zm1-3zm0-9zm1 10zm3 0zm-1 2zm3 1zm-5 1zm0 1zm6 1zm-6 1zm1 0zm4 1zm-1 1zm1 1zm1 1zm-3 1zm4 0zm-6 2zm2 0zm2 0zm-2 1zm2 1zm1 0zm-4 1zm3 0zm9 3zm-1-1zm2-3zm-2-1zm2-3zm0-2zm-6-7zm5-1zm-6-4zm4-2zm4 5zm1 0zm1 5zm2 3zm2 3zm-2 1zm2 0zm-2 2zm0 2zm-3 2zm3 1zm1 2zm6-5zm-3-2zm2-1zm3-2zm2 0zm-5-4zm2 0zm7-2zm0 5zm-1 5zm-1 3zm4 0zm3 1zm0-9z"/><path stroke="#3a8fa3" stroke-opacity="0.48" d="M334 163zm-2-16zm2-1zm9 1zm-1 12zm-2 1zm-1 2zm3 2zm-2 2zm7 5zm-3-2zm7-1zm0-4zm-1-1zm0-2zm-6-1zm1-1zm0-1zm0-1zm6 0zm-6-2zm3 0zm-2-4zm2 0zm2-3zm-2-1zm-4-14zm13 9zm-4 6zm3 2zm3 3zm0 2zm0 1zm-7 1zm2 1zm2 1zm2 0zm-5 2zm5 0zm-6 1zm3 0zm3 0zm-2 6zm-3 1zm3 0zm2 0zm-1 1zm-5 3zm4 3zm5-5zm2-1zm-2-1zm6-1zm-6-1zm4-1zm-4-2zm2-1zm1 0zm-2-1zm-2-1zm7-1zm-7-2zm1 0zm3-1zm2 0zm-3-1zm2-1zm-1-3zm-3-2zm1 0zm1 0zm10 1zm-5 1zm7 2zm-7 2zm5 0zm-4 1zm6 0zm-3 1zm0 1zm-3 1zm2 5zm1 0zm3 0zm-6 1zm1 1zm0 1zm3 0zm2 0zm0 1zm-3 6zm-4 3zm10 3zm4-3zm-4-1zm2-5zm3 0zm-7-3zm3-3zm-1-7zm2 0zm3 0zm-2-4zm1-1zm4 3zm5 0zm0 3zm-3 2zm-1 3zm-2 2zm-1 1zm7 0zm-1 2zm-4 2zm-1 3zm9 2zm0-3zm3-1zm1-1zm-6-1zm1-1zm1 0zm4 0zm1 0zm-3-3zm0-2zm3-7zm-3-4zm6 10zm-2 2zm6 4zm-6 1zm1 1zm5 0zm-3 1zm4 2zm-6 3zm4 1zm-1 2zm8-6zm-1-11zm0-1zm3-6zm6-2zm-1 7zm4 3zm0 1zm-3 5zm2 7zm5 0zm0-3zm-1-4zm-2-8zm9 4zm0 1zm2 1zm-2 2zm22 0zm-6 7zm12-2zm0-9z"/><path stroke="#d0a028" stroke-opacity="0.34" d="M311 152zm8 11zm-4-14zm-3-2zm7-5zm7-23zm-4 3zm3 1zm2 27zm0 1zm-1 1zm-6 2zm7 0zm0 2zm-1 5zm7 3zm0-2zm-5-2zm5 0zm-2-1zm3 0zm-2-2zm2 0zm-3-1zm4 0zm-5-2zm1-1zm-1-1zm2 0zm2-1zm-6-2zm2 0zm4 0zm-6-2zm1-7zm2 0zm-3-2zm5 0zm2-9zm-1-2zm0-5zm6-3zm-3 1zm1 0zm-2 11zm3 7zm2 1zm-2 1zm-1 3zm1 2zm0 3zm1 1zm-2 1zm1 0zm1 0zm-1 1zm3 0zm-1 1zm-4 1zm1 0zm0 1zm1 0zm4 0zm-4 4zm1 0zm3 0zm-7 1zm3 1zm1 0zm-3 2zm4 0zm2 0zm-1 3zm1 1zm-2 2zm8-6zm-4-1zm1 0zm1 0zm2 0zm2-1zm-3-2zm-4-1zm2 0zm3 0zm-5-1zm1 0zm3 0zm1 0zm1 0zm-5-1zm4 0zm-4-1zm-1-1zm4-2zm-2-2zm2-1zm3 0zm-1-1zm-2-1zm1 0zm-3-1zm-1-1zm8-3zm1 4zm-1 1zm1 2zm2 1zm2 0zm-5 1zm2 1zm-3 1zm5 1zm-5 1zm3 0zm2 0zm-1 2zm2 0zm-6 1zm1 0zm2 1zm3 0zm1 0zm-6 2zm2 0zm1 0zm-2 1zm2 0zm-2 1zm3 4zm7 2zm0-2zm2-2zm-3-2zm-1-4zm2 0zm3 0zm-4-2zm4 0zm-1-1zm1 0zm-6-1zm0-3zm4 0zm-5-2zm7-1zm-1-6zm4 2zm2 3zm2 0zm-1 3zm-5 1zm2 0zm3 1zm-4 1zm3 0zm-4 1zm3 0zm-3 1zm2 0zm2 0zm-1 1zm1 0zm1 0zm1 3zm-5 1zm2 0zm-2 1zm3 0zm-2 1zm8 4zm3-2zm-3-1zm1-3zm4 0zm-5-7zm2-2zm3-5zm-4-1zm6 3zm4 0zm-3 1zm0 1zm-2 2zm3 1zm2 1zm-1 2zm-4 1zm1 1zm2 0zm-1 3zm-2 3zm2 1zm4 0zm2-1zm2 0zm3-2zm-1-1zm-3-16zm14 9zm-6 8zm3 2z"/><path stroke="#3a8fa3" stroke-opacity="0.48" d="M324 144zm9 24zm-2-7zm4-2zm0-1zm-3-3zm-3-3zm12 0zm-3 3zm-1 2zm1 0zm-2 7zm2 10zm9-5zm4-1zm-1-3zm1-2zm-5-1zm2 0zm3-2zm-6-3zm6-2zm-2-1zm2 0zm-5-12zm9 10zm-1 4zm3 2zm2 2zm0 1zm-1 2zm1 0zm-1 1zm-5 1zm4 0zm-3 2zm4 0zm1 0zm-7 2zm2 3zm4 6zm2-5zm6-1zm1-2zm-3-2zm2 0zm-2-1zm-3-4zm1 0zm0-2zm4 0zm-2-1zm-3-3zm6-2zm-3-2zm-3-1zm4-2zm1-1zm4-2zm1 0zm-3 4zm7 3zm-5 2zm2 0zm-1 2zm4 1zm-5 1zm5 0zm-2 1zm2 0zm0 1zm-6 1zm4 0zm2 2zm-6 1zm6 3zm-1 1zm7 9zm-4-1zm4-2zm2-2zm-3-1zm-2-2zm-2-3zm1-1zm-1-1zm3-1zm-1-1zm2 0zm3-2zm0-2zm-7-1zm2-3zm10 3zm-3 2zm5 1zm-6 1zm4 1zm-2 1zm-2 2zm4 1zm-4 4zm3 2zm2 1zm6 6zm1-3zm-3-4zm-1-2zm7-1zm-7-2zm4 0zm-4-2zm4 0zm2 0zm-2-2zm-2-1zm3 0zm-2-1zm4-4zm0-1zm-3-1zm3-4zm5 2zm-1 5zm-2 8zm4 2zm-1 4zm2 0zm-4 1zm3 0zm-3 5zm2 1zm5-6zm1-4zm2 0zm-3-2zm1-1zm3 0zm-1-6zm-2-1zm2 0zm7 0zm3 0zm-6 8zm0 5zm0 1zm5 0zm-5 5zm8 0zm7-8zm-6-1zm-1-2zm1-2zm0-3zm10-8zm-1 19zm11 5zm6-6z"/><path stroke="#d0a028" stroke-opacity="0.34" d="M312 156zm3-2zm3 0zm0-4zm1-1zm-3-2zm3 0zm-2-9zm7-21zm0 23zm-4 2zm1 3zm-1 8zm5 6zm1 4zm8 6zm-3-1zm2-6zm-4-1zm2 0zm0-1zm1 0zm-2-2zm3-1zm2 0zm-1-4zm-3-2zm4-1zm-6-1zm2 0zm3-2zm0-2zm1-3zm-4-9zm3-34zm4 24zm-2 11zm5 0zm-2 9zm3 1zm1 3zm-7 1zm6 0zm-6 1zm1 0zm2 0zm-3 1zm1 0zm4 1zm-5 1zm2 0zm3 0zm-3 1zm2 0zm-3 1zm0 1zm5 0zm1 0zm-4 1zm0 1zm3 0zm1 1zm-4 2zm3 2zm-5 2zm14-4zm-7-1zm6 0zm-4-2zm3 0zm0-1zm1 0zm-3-1zm-3-1zm2 0zm4 0zm-1-1zm2 0zm-7-2zm4 0zm-4-1zm2 0zm2-23zm4 13zm0 6zm3 0zm2 0zm-3 1zm4 0zm-4 1zm2 0zm-4 1zm3 0zm2 1zm1 0zm-2 1zm1 1zm1 0zm1 0zm-4 1zm2 0zm1 0zm-6 1zm3 0zm0 3zm2 1zm1 0zm-4 1zm4 1zm-3 1zm4 0zm-5 2zm5 1zm5 1zm1-2zm-4-3zm4-2zm-1-1zm-4-1zm2 0zm4 0zm-5-1zm1 0zm1 0zm4 0zm-3-2zm1 0zm2-1zm-5-1zm5-2zm-4-1zm1 0zm3 0zm-3-1zm0-2zm-2-2zm1 0zm-3-2zm6-4zm5 8zm0 2zm3 0zm0 1zm1 3zm-7 1zm4 0zm-1 1zm2 0zm-5 1zm5 0zm-2 3zm4 0zm-6 2zm-1 1zm4 0zm-2 4zm13 5zm-2-4zm-5-1zm7 0zm0-2zm-5-1zm-2-1zm2 0zm4 0zm-4-1zm0-1zm1 0zm1 0zm-4-1zm6 0zm-4-1zm3 0zm1 0zm-3-4zm-2-1zm0-2zm8 9zm6 0zm0 1zm-4 1zm-2 3zm1 0zm2 0zm1 1zm-3 1zm7-1zm6-1zm-6-1zm5-3zm-4-2zm4-1zm0-9zm5 1zm0 6zm-3 2zm5 2zm-2 5zm7 10zm-1-17z"/><path stroke="#3a8fa3" stroke-opacity="0.48" d="M328 167zm7-1zm-1-1zm1-7zm-3-9zm9 5zm-1 3zm11 11zm-4-3zm1-2zm-4-3zm3 0zm-3-1zm3-1zm1-1zm-4-1zm5-1zm-1-3zm-3-1zm5 0zm6-3zm3 1zm-1 3zm1 1zm-6 2zm0 1zm-1 1zm6 1zm-5 2zm-1 1zm3 1zm-2 1zm1 1zm3 3zm-4 2zm3 0zm-4 1zm10 1zm5-3zm-6-4zm4 0zm-5-1zm2 0zm1-3zm2 0zm-3-2zm-1-1zm2 0zm1 0zm1 0zm1-2zm-6-2zm4 0zm-4-1zm2-2zm4 0zm-1-7zm3 4zm3 0zm4 2zm-2 4zm-3 2zm1 3zm1 0zm0 1zm-1 2zm-3 1zm1 0zm-1 1zm2 3zm2 0zm0 1zm2 0zm1 1zm0 1zm-2 1zm-3 2zm-1 1zm-1 3zm1 0zm1 6zm7-4zm-1-1zm1-3zm1-5zm4 0zm-2-2zm0-2zm-4-1zm2 0zm4-1zm-5-4zm6 0zm-3-1zm2-5zm0-11zm4 10zm0 9zm-2 3zm3 2zm-1 1zm2 0zm-3 1zm3 0zm0 1zm0 2zm3 0zm-5 1zm4 2zm-1 2zm-2 2zm2 0zm4 1zm4 0zm-3-3zm-2-2zm0-4zm2-2zm3 0zm2-1zm-6-1zm6-2zm-7-2zm1 0zm-1-8zm10-3zm-2 9zm1 4zm2 3zm1 1zm2 1zm-5 1zm2 1zm-1 1zm0 1zm3 0zm-3 2zm4 0zm-1 3zm-4 3zm9-1zm-1-4zm-1-3zm5-1zm-5-5zm0-5zm8 8zm4 2zm3 2zm-3 2zm5-3zm-1-10zm8-3zm5 21zm7-9zm7 2zm12-1zm71 10z"/><path stroke="#d0a028" stroke-opacity="0.34" d="M319 158zm-7-7zm0-2zm7-7zm6-25zm0 14zm-1 2zm-2 2zm3 11zm2 2zm-2 4zm-4 1zm0 1zm2 6zm12-4zm-1-1zm-3-1zm3-1zm1 0zm-5-1zm1 0zm-3-2zm5-8zm0-7zm1-2zm1-4zm-5-11zm3-11zm7 12zm-4 15zm0 3zm0 6zm6 1zm1 0zm-5 2zm4 0zm-5 2zm-1 1zm1 2zm5 0zm1 0zm0 1zm-4 1zm2 0zm-1 1zm3 0zm-4 1zm3 0zm1 0zm-5 1zm1 0zm-3 1zm5 0zm-3 1zm-2 3zm4 2zm1 8zm6-4zm4-3zm-1-1zm-3-2zm1 0zm1-1zm-3-1zm-2-1zm0-1zm3-1zm3-1zm-5-1zm2 0zm3 0zm1 0zm-6-2zm3 0zm1 0zm-5-1zm2 0zm-1-1zm5-3zm-6-1zm2 0zm-2-1zm2-1zm-2-1zm4 0zm-1-2zm-3-2zm10-29zm-1 26zm2 0zm0 6zm-1 1zm4 2zm-4 2zm3 2zm-2 1zm-2 2zm0 1zm1 1zm0 2zm1 2zm-2 1zm5 0zm1 2zm-2 3zm7 2zm3-2zm-7-2zm4-1zm-2-2zm5 0zm-3-1zm1 0zm-3-2zm-2-1zm5 0zm0-1zm-1-3zm-4-2zm4 0zm3-3zm-4-2zm4-1zm0-4zm1 4zm6 3zm0 1zm-6 2zm3 0zm4 0zm-7 2zm2 0zm-1 1zm2 0zm3 0zm-4 2zm3 0zm2 0zm-1 1zm-4 2zm2 1zm2 0zm-6 1zm5 0zm-4 3zm6 0zm-3 1zm3 3zm-3 1zm10-1zm0-2zm-2-1zm-4-2zm2-1zm-1-2zm2 0zm1 0zm2 0zm-6-1zm5-1zm1 0zm-6-1zm5 0zm1 0zm-2-1zm3 0zm-7-1zm5-3zm-5-2zm3-1zm-2-3zm7-2zm3 2zm4 1zm-3 7zm-4 1zm2 1zm3 3zm-4 4zm2 1zm0 1zm1 2zm4-1zm5 0zm-5-3zm5 0zm0-2zm-5-6zm2-3zm-1-13zm9 18zm1 1zm1 2zm-3 4zm6 1zm-7 1zm11 1zm-2-5zm14 5zm6-12z"/><path stroke="#3a8fa3" stroke-opacity="0.48" d="M330 155zm8-10zm1 3zm1 1zm2 2zm1 0zm0 4zm-4 4zm2 4zm-4 1zm4 8zm3 1zm5-2zm0-1zm0-2zm-5-5zm1 0zm4 0zm0-1zm-2-4zm-3-6zm0-2zm4-2zm6-5zm0 1zm2 4zm1 2zm-3 2zm5 0zm-2 1zm1 2zm-6 1zm1 0zm-1 1zm1 0zm3 1zm0 2zm-2 5zm-2 1zm5 2zm2 0zm5 4zm2-1zm-2-3zm-3-2zm4-2zm1-1zm-6-2zm3 0zm4 0zm0-1zm-4-1zm2 0zm-2-1zm0-1zm4-2zm-6-2zm9-2zm1 0zm-3 11zm3 0zm-1 1zm0 1zm1 0zm-3 2zm2 0zm5 0zm-5 1zm2 1zm-1 1zm4 2zm2 6zm2 0zm0-2zm-2-1zm0-1zm-1-1zm2-2zm1 0zm-3-1zm5 0zm2-1zm-6-1zm3-2zm0-1zm3-1zm-7-1zm1 0zm4 0zm1-1zm-4-2zm2 0zm1-5zm-1-5zm-4-1zm9 8zm6 1zm0 1zm-2 4zm-4 1zm2 2zm2 2zm-1 1zm0 2zm2 0zm-1 1zm-5 1zm2 1zm3 2zm-2 2zm-1 1zm8-1zm2 0zm3 0zm-4-1zm-2-3zm2 0zm3 0zm-6-2zm3-3zm3 0zm0-4zm-5-1zm6-2zm-5-3zm5-2zm6-6zm-2 4zm-2 4zm0 1zm1 3zm2 1zm3 2zm-7 4zm1 1zm6 2zm-2 2zm-4 2zm8-5zm3-6zm11 0zm-4 2zm4 2zm-6 2zm6 1zm-7 4zm1 0zm6 0zm0 7zm7-5zm-6-4zm4-2zm0-4zm-2-1zm-2-1zm24-11z"/><path stroke="#d0a028" stroke-opacity="0.34" d="M318 159zm1-2zm-5-5zm3-4zm-5-2zm4 0zm2 0zm-4-1zm-1-2zm3-7zm2-6zm2 5zm4 2zm0 9zm1 3zm-5 2zm2 2zm3 1zm10 8zm-1-2zm-5-1zm1 0zm4-1zm1 0zm-1-2zm1 0zm-2-1zm-4-7zm2-3zm1 0zm3-1zm-7-9zm0-7zm13 4zm-4 9zm2 0zm2 2zm-3 5zm0 1zm-2 1zm5 0zm1 0zm-2 1zm2 0zm-5 1zm3 0zm1 3zm-2 1zm0 2zm1 0zm-3 1zm1 1zm1 0zm4 0zm-4 3zm-1 9zm12-5zm-6-2zm1-2zm0-2zm6-1zm0-1zm-7-1zm2 0zm1 0zm-3-2zm0-1zm6 0zm1-1zm-5-2zm2 0zm-4-1zm4-1zm1 0zm-1-3zm1-1zm0-1zm-3-9zm5-4zm-7-19zm9 31zm1 0zm5 0zm-7 2zm4 3zm-2 1zm5 0zm-2 2zm2 0zm-7 1zm3 0zm1 0zm-3 1zm6 0zm-4 1zm3 0zm-4 2zm3 0zm2 0zm-5 1zm3 1zm-5 1zm6 0zm-5 1zm1 0zm4 1zm7 2zm-5-1zm4-3zm3-1zm-6-1zm4 0zm1 0zm-4-1zm0-2zm-1-1zm1 0zm0-2zm0-1zm2 0zm1 0zm-4-2zm3 0zm3-1zm-5-2zm0-2zm-1-1zm3 0zm8-4zm-4 4zm7 6zm-4 2zm0 1zm1 0zm-2 2zm2 0zm2 0zm1 0zm-3 2zm2 0zm-5 1zm3 1zm0 2zm-1 2zm2 0zm-3 1zm3 0zm-5 1zm6 0zm-5 2zm4 0zm-4 1zm7 0zm3-7zm3 0zm-4-3zm3 0zm-4-2zm2-1zm3-1zm1 0zm-3-1zm2-1zm-3-3zm10 4zm-4 1zm4 0zm-5 1zm2 1zm4 0zm-3 1zm3 0zm-5 1zm0 1zm0 1zm1 2zm3 2zm-4 1zm0 1zm12 1zm-3-1zm5-2zm-2-5zm-1-2zm-3-3zm6 0zm-1-1zm1-1zm-7-7zm8 14zm4 3zm3 1zm-1 1zm9 4zm-2-6zm-5-1zm3-2zm0-2z"/><path stroke="#3a8fa3" stroke-opacity="0.48" d="M332 172zm0-15zm5-8zm0 2zm1 1zm0 2zm2 6zm2 1zm1 0zm-3 3zm2 2zm3 6zm0-1zm0-2zm5-5zm-3-2zm-2-1zm6-3zm-4-2zm3-2zm-1-1zm1-6zm5-8zm3 3zm-5 8zm6 0zm-6 1zm5 0zm-3 4zm2 1zm-2 1zm1 0zm-1 2zm4 0zm-6 2zm1 0zm2 0zm1 1zm-1 1zm-2 1zm4 3zm-6 1zm7 0zm-6 3zm6 0zm-6 1zm13 3zm-2-4zm-4-3zm4-1zm1-2zm-4-3zm2 0zm3 0zm-1-1zm2 0zm0-1zm-6-1zm3 0zm1-2zm2-2zm-7-1zm3-3zm4-4zm8 2zm-5 4zm2 2zm1 0zm1 1zm-4 1zm2 1zm-1 2zm2 0zm1 0zm-5 2zm4 0zm1 0zm-5 1zm2 0zm-3 1zm3 0zm-3 2zm4 1zm-3 1zm3 0zm2 0zm-5 1zm1 5zm3 0zm1 1zm-6 1zm6 2zm3-1zm0-3zm3-2zm2 0zm-1-1zm-4-2zm3 0zm-3-3zm6-1zm-7-3zm4 0zm-2-1zm-1-1zm5 0zm-5-1zm2-1zm9-14zm1 6zm0 5zm2 1zm-1 1zm-5 1zm1 2zm4 2zm-4 4zm3 1zm0 1zm1 3zm-1 4zm0 6zm6-4zm2-1zm2-2zm-4-3zm3-4zm-6-10zm6-9zm3 12zm-1 3zm4 0zm-2 11zm-1 6zm8-5zm3-1zm-3-1zm1 0zm-2-1zm2-1zm-1-2zm-1-1zm2 0zm1 0zm3 0zm2-1zm21-4zm0 6zm-3 2zm1 6zm-2 2zm3 0zm5 1zm3-4zm6-8zm-2 4zm3 2zm4 4z"/><path stroke="#d0a028" stroke-opacity="0.34" d="M311 148zm3 13zm2-8zm-2-3zm1-4zm4-17zm3-15zm-1 9zm1 6zm-1 5zm0 1zm2 10zm4 1zm-2 2zm1 0zm-5 1zm-1 1zm2 0zm2 0zm-4 1zm5 0zm-2 4zm0 3zm-1 7zm7-1zm1 0zm5-5zm-6-2zm-1-1zm0-1zm0-3zm6 0zm-1-1zm1-1zm-6-2zm6 0zm-3-3zm0-1zm1-10zm-2-12zm0-2zm0-1zm-2-7zm11 31zm4 1zm-1 1zm-4 1zm4 0zm1 0zm-3 1zm3 0zm-5 1zm2 0zm1 0zm-4 1zm0 2zm5 0zm1 0zm-6 1zm3 1zm-1 1zm-3 1zm3 0zm1 0zm-1 1zm1 0zm2 4zm-3 1zm3 0zm-3 5zm3 0zm4-3zm-1-2zm5 0zm0-1zm-4-2zm3 0zm-5-1zm1 0zm1 0zm2 0zm-2-1zm4 0zm-5-1zm4 0zm2 0zm-2-1zm0-1zm0-1zm-5-1zm6 0zm-2-2zm0-1zm1 0zm2 0zm-3-1zm2-1zm-5-1zm3-1zm0-2zm-2-2zm11 8zm-3 2zm4 0zm-5 5zm1 1zm4 0zm-6 2zm0 1zm7 0zm0 2zm-5 3zm4 0zm7 1zm2-1zm-6-3zm3-4zm-3-1zm6 0zm-6-1zm0-2zm5 0zm-4-3zm0-1zm5-1zm-2-1zm-4-2zm2-2zm0-2zm2 0zm6-4zm3 7zm1 5zm0 2zm-7 2zm2 0zm2 0zm-4 1zm7 0zm0 1zm-1 2zm-4 1zm2 1zm-4 1zm2 1zm3 0zm2 0zm-1 1zm0 1zm-5 1zm3 3zm-2 1zm7-4zm1 0zm2 0zm1-1zm-4-1zm5 0zm1 0zm0-1zm-5-1zm2 0zm-1-1zm-2-1zm3 0zm-4-1zm4 0zm-3-1zm1 0zm3 0zm2 0zm-7-1zm7-3zm-2-5zm0-1zm-3-1zm0-3zm6 11zm4 2zm3 0zm-5 2zm-2 1zm2 1zm4 0zm-1 2zm2 1zm-5 3zm7-3zm3 0zm-1-3zm-3-2zm1 0zm1-12zm13 8zm-5 4zm1 0zm3 6zm-6 1zm22-2z"/><path stroke="#3a8fa3" stroke-opacity="0.48" d="M330 166zm5-12zm-3-8zm10-1zm-4 9zm0 2zm5 1zm0 3zm-4 1zm0 3zm3 1zm4 5zm5-3zm-3-2zm-4-1zm1-1zm3-1zm3-2zm-4-1zm4 0zm-6-2zm4 0zm0-2zm-1-1zm-1-3zm-2-1zm3-1zm3-5zm3-8zm4 0zm-1 4zm2 12zm-4 2zm3 0zm-1 2zm1 0zm-2 1zm-2 1zm-2 1zm1 1zm1 0zm3 1zm2 0zm-7 6zm6 3zm-5 2zm5 1zm-5 2zm12 1zm2-3zm-7-3zm2 0zm1-1zm0-1zm3-1zm-3-3zm-3-3zm7-2zm-1-1zm-2-7zm1-1zm7-2zm-2 5zm2 4zm1 0zm1 0zm-2 2zm0 3zm-4 1zm2 0zm3 0zm-2 2zm1 3zm1 0zm-3 2zm-2 5zm0 5zm9-2zm1-1zm4-5zm-6-3zm3 0zm-1-1zm-2-3zm1-1zm6-1zm-7-1zm2 0zm5 0zm-7-1zm0-1zm2 0zm3-1zm-3-1zm5-1zm-7-2zm2 0zm4-9zm5 9zm1 5zm-1 1zm3 2zm-1 3zm-4 1zm3 0zm2 0zm-1 1zm1 2zm-2 1zm2 0zm-1 1zm1 1zm0 2zm0 3zm4 0zm-1-4zm0-2zm5 0zm-5-2zm3-2zm2 0zm-5-1zm1 0zm-2-1zm0-1zm6-1zm-5-3zm0-1zm1 0zm1 0zm-2-1zm-1-1zm3 0zm-3-1zm4 0zm-2-4zm7 9zm1 4zm3 5zm0 8zm5 0zm-1-1zm0-18zm-1-1zm4-4zm0-3zm5 7zm3 5zm-1 9zm0 3zm3 3zm5-2zm2-11zm6-1zm20 5zm1 10zm5-7zm8 9z"/><path stroke="#d0a028" stroke-opacity="0.34" d="M311 162zm2 6zm4-2zm-3-3zm5-2zm-2-10zm1-1zm-3-12zm8-18zm3 22zm1 5zm-2 2zm-2 3zm2 0zm-2 6zm1 1zm9 7zm1-4zm1-1zm-7-3zm0-4zm0-2zm4 0zm1-1zm1-4zm-3-1zm-1-2zm3-3zm-3-1zm-2-1zm2-6zm9-6zm2 13zm-2 5zm3 0zm-4 2zm1 2zm3 0zm-3 1zm2 0zm0 2zm1 0zm-6 1zm5 0zm-1 4zm-3 1zm5 0zm-4 1zm1 0zm0 1zm-1 1zm5 0zm-2 1zm0 1zm7 4zm1-2zm-2-2zm2 0zm-5-2zm6 0zm1 0zm-4-1zm4 0zm-1-2zm-5-1zm1 0zm4 0zm1 0zm-6-1zm5 0zm-4-1zm4 0zm-4-1zm2 0zm2 0zm-6-1zm2 0zm-1-1zm1 0zm1-1zm-3-3zm6 0zm-3-2zm4 0zm-6-2zm-1-3zm0-1zm3-6zm6 0zm4 2zm-1 13zm2 1zm-4 1zm5 0zm-5 3zm3 0zm-2 1zm3 1zm-4 1zm-1 1zm5 0zm-6 4zm1 3zm6 0zm-1 4zm2-6zm6-1zm1 0zm-1-2zm-4-1zm4-1zm-6-1zm1-1zm4-1zm-2-1zm2 0zm-2-1zm3 0zm1 0zm-6-1zm1 0zm5 0zm0-2zm0-1zm-7-4zm4-2zm0-2zm-1-7zm10 5zm-4 5zm3 0zm2 1zm1 0zm-2 2zm-5 1zm4 2zm2 0zm-5 1zm-1 1zm3 0zm0 1zm4 0zm-5 1zm5 0zm-7 1zm2 1zm1 0zm1 0zm0 1zm2 0zm-2 1zm2 0zm1 0zm-3 1zm-1 3zm3 1zm9 2zm-4-1zm3 0zm1 0zm-3-1zm3-3zm-7-1zm3 0zm-2-2zm1 0zm0-2zm-1-1zm2-1zm-2-2zm5 0zm-4-4zm6 1zm3 3zm1 3zm2 1zm-1 1zm-4 2zm3 0zm1 0zm0 4zm-1 1zm-4 5zm12 0zm-1-4zm3 0zm-6-5zm5-2zm1 0zm-5-16zm7 8zm0 3zm4 1zm-2 9zm12 2zm-5-2zm6-7zm-7-3z"/><path stroke="#3a8fa3" stroke-opacity="0.48" d="M333 166zm0-8zm-2-17zm12-1zm-7 5zm1 1zm5 1zm1 1zm-2 10zm2 1zm-4 1zm4 1zm-3 6zm-3 1zm12-4zm-1-2zm-3-1zm-1-2zm3-1zm-1-1zm-2-1zm3 0zm-3-2zm2 0zm2-1zm3 0zm-3-13zm4 7zm0 5zm3 1zm-2 1zm4 0zm-3 1zm2 2zm-3 2zm0 1zm1 0zm4 1zm-6 2zm2 1zm1 0zm1 0zm2 0zm-4 3zm1 0zm-1 9zm12-7zm-5-1zm1 0zm5-2zm-7-1zm0-3zm3 0zm-3-3zm5 0zm1-3zm-1-1zm-3-3zm1 0zm3-3zm3 5zm2 0zm1 1zm-4 2zm6 0zm-5 1zm-1 2zm1 2zm3 0zm0 2zm1 0zm2 1zm-5 1zm5 3zm-6 1zm-1 1zm1 1zm5 2zm7-1zm2 0zm-6-1zm2-1zm-1-3zm5 0zm-6-1zm1-1zm1-1zm-1-2zm1-1zm3-1zm-6-2zm2-1zm2-1zm1 0zm1-2zm0-3zm-2-4zm9 11zm-1 1zm1 0zm0 4zm-3 1zm0 4zm2 1zm-2 1zm1 2zm2 0zm-4 1zm6 0zm-6 5zm13 1zm-1-1zm-2-8zm-2-5zm6-3zm-2-1zm1-1zm-5-1zm1-1zm2-1zm-3-1zm11 4zm2 0zm-6 1zm4 1zm3 1zm-4 2zm3 2zm0 1zm1 0zm-3 6zm8 5zm-4-5zm1-4zm3 0zm-4-1zm3 0zm3-2zm-6-3zm1-1zm0-1zm8 1zm5 11zm-2 6zm5-16zm6-12zm3 18zm0 11zm10 0zm6-2zm9-10zm14 11zm7-11z"/><path stroke="#d0a028" stroke-opacity="0.34" d="M311 156zm6-6zm-3-4zm12-31zm-5 7zm2 21zm4 0zm-7 4zm7 4zm-1 15zm9 3zm0-13zm-7-1zm3-1zm-2-2zm2 0zm4-1zm-6-1zm5 0zm-4-1zm-2-1zm7 0zm-7-2zm2-3zm4-10zm-1-13zm-4-1zm5 0zm-2-4zm-1-14zm-2-19zm10 61zm-1 2zm3 1zm-2 2zm0 1zm1 0zm2 2zm-3 1zm4 0zm-5 2zm4 1zm-5 1zm5 0zm1 0zm-5 1zm3 4zm-4 1zm6 1zm-6 1zm3 2zm5-2zm2-1zm2 0zm-5-1zm3-1zm3 0zm-5-1zm4-1zm-4-1zm5 0zm-6-1zm1-1zm5-1zm-6-1zm6 0zm1 0zm-4-2zm2 0zm1 0zm-4-1zm-1-1zm1 0zm2 0zm-3-1zm1-1zm1 0zm2-3zm-5-6zm5-1zm10 4zm-2 5zm1 0zm1 1zm-5 1zm3 2zm-4 1zm5 0zm-1 1zm2 0zm-4 2zm-2 1zm1 0zm2 0zm3 0zm-1 1zm-6 1zm1 2zm6 0zm-4 4zm9 4zm3 0zm-5-2zm5 0zm-6-2zm1 0zm4 0zm-1-1zm-4-2zm3-2zm-4-1zm2 0zm4 0zm-6-1zm2-3zm3 0zm-3-1zm5 0zm-7-1zm7 0zm-4-1zm4 0zm-1-1zm-1-1zm-3-5zm3-8zm9 6zm-2 3zm-2 3zm-2 2zm1 1zm1 1zm5 0zm-5 1zm0 2zm4 0zm-5 1zm2 1zm1 0zm1 0zm2 0zm-7 1zm4 0zm1 1zm-3 2zm2 0zm-2 1zm3 1zm-5 2zm15 2zm-6-1zm5 0zm1-2zm-6-2zm-1-2zm5 0zm-3-1zm2 0zm-3-2zm5 0zm-3-1zm-1-1zm3 0zm-5-1zm4-1zm-3-1zm1 0zm5-3zm-3-1zm2 0zm-4-1zm1-4zm5 1zm5 5zm-3 4zm3 2zm-4 1zm3 3zm1 1zm0 2zm-5 1zm7 0zm-2 1zm-5 4zm13-4zm2-3zm0-1zm-7-2zm6-1zm-6-1zm1-1zm6 0zm1 2zm1 0zm1 1zm3 5zm2 4z"/><path stroke="#3a8fa3" stroke-opacity="0.48" d="M334 171zm1-5zm-2-5zm1-3zm-1-10zm10-3zm-5 5zm0 3zm4 9zm-2 8zm1 3zm10 1zm-2-1zm1-2zm-2-1zm2-2zm-4-2zm1 0zm-1-4zm0-1zm5-5zm-7-1zm5 0zm1-14zm3 2zm2 8zm-1 2zm4 2zm-5 1zm6 0zm-5 1zm3 3zm-3 1zm1 0zm1 0zm1 1zm-4 2zm5 0zm-5 2zm4 2zm-1 1zm2 0zm1 3zm2 3zm-1-2zm6-2zm1 0zm-1-1zm-1-1zm1 0zm-4-2zm4 0zm-4-1zm2-2zm-4-1zm2 0zm2 0zm3-1zm-7-1zm7 0zm-5-1zm3-3zm2-1zm-3-1zm5-9zm5 1zm-6 11zm4 0zm1 0zm1 2zm-5 1zm3 1zm-3 2zm1 0zm0 1zm1 0zm-3 2zm5 0zm-5 1zm1 1zm5 0zm-4 1zm4 2zm0 1zm0 6zm3-1zm0-3zm0-3zm0-1zm4 0zm-2-1zm4-3zm-5-1zm1-4zm0-1zm1 0zm-4-3zm6-7zm4-1zm1 6zm1 1zm0 1zm-2 4zm4 0zm-3 1zm2 1zm1 0zm-4 1zm-2 1zm3 1zm-1 2zm4 0zm-4 2zm6 7zm2-2zm1-1zm4-3zm-5-3zm4-1zm1-1zm-4-2zm1-11zm4-6zm0 10zm4 1zm3 4zm-7 1zm7 4zm0 1zm-1 4zm-5 8zm12 2zm1-11zm-5-1zm1-2zm-2-2zm6-1zm-5-1zm4 0zm1-6zm1-2zm3 5zm1 6zm-2 2zm1 1zm-2 3zm2 0zm3 4zm0 2zm3-2zm2-9zm0-13zm9 16zm-1 7zm18 1zm7 3z"/><path stroke="#d0a028" stroke-opacity="0.34" d="M311 151zm3 8zm5-1zm-2-6zm-5-10zm7-17zm-1-5zm5 4zm4 1zm-1 12zm-3 1zm-1 3zm3 5zm0 2zm-4 5zm2 0zm-3 1zm4 1zm1 1zm1 1zm1 1zm-2 7zm10 3zm-3-4zm1-1zm2-2zm-4-2zm3-1zm1 0zm-6-1zm5 0zm-2-3zm1 0zm-5-1zm2-2zm5 0zm-4-1zm1-3zm-4-1zm1 0zm3 0zm-2-13zm4-11zm-5-1zm6-2zm0-39zm2 20zm1 19zm5 14zm0 10zm-4 2zm1 1zm1 1zm1 0zm-6 1zm0 2zm3 0zm4 1zm-1 2zm-5 1zm1 0zm-1 2zm-1 2zm3 1zm2 0zm2 0zm-3 1zm1 0zm1 0zm1 1zm-3 1zm-4 2zm3 1zm9-1zm-3-2zm4-1zm-3-1zm5 0zm-2-1zm1 0zm-4-2zm3 0zm-5-1zm3 0zm2-2zm-5-1zm2 0zm2 0zm2-1zm1 0zm-7-1zm7 0zm-3-1zm-3-2zm4-3zm1 0zm-1-4zm3-5zm6 9zm-6 1zm6 2zm-6 1zm1 0zm-1 3zm3 2zm4 0zm-6 1zm2 0zm3 0zm1 1zm-7 1zm2 0zm-1 5zm-1 2zm5 2zm10-2zm-6-3zm4-2zm-5-2zm5 0zm0-2zm1 0zm-3-1zm2-1zm-5-1zm7-1zm-7-3zm1-2zm2 0zm0-2zm-3-1zm0-4zm13 5zm-4 2zm-1 1zm1 2zm-1 1zm5 0zm-1 4zm2 0zm1 1zm-5 1zm3 1zm-4 1zm1 1zm2 0zm2 0zm-5 1zm6 0zm-5 1zm2 0zm2 0zm-4 1zm1 1zm2 6zm4-4zm3-1zm-2-1zm5 0zm-7-1zm1-1zm5 0zm-2-2zm-4-3zm0-1zm4-1zm8-16zm-3 13zm6 0zm-7 1zm3 3zm-1 2zm1 0zm0 1zm4 0zm-4 1zm1 1zm2 0zm-6 2zm0 1zm4 0zm-1 1zm-3 1zm3 1zm12-1zm-7-5zm2 0zm2-4zm2-1zm-6-1zm0-3zm6-5zm3 8zm0 1zm1 2zm4 2zm0 3zm0 7zm5-10zm-1-5zm-1-4zm7 14zm5 0zm4 3z"/><path stroke="#3a8fa3" stroke-opacity="0.48" d="M332 161zm3-2zm-5-2zm-1-7zm8 1zm5 0zm-3 3zm3 1zm-2 7zm-2 1zm5 1zm5 14zm-2-11zm0-2zm3 0zm-2-2zm1-1zm-3-2zm3-1zm-2-1zm4-1zm0-4zm1 0zm0-21zm1 15zm2 3zm2 3zm1 1zm-1 1zm-2 1zm5 0zm-1 3zm-3 1zm2 0zm1 0zm1 0zm-7 1zm5 1zm-1 2zm-1 2zm2 0zm-5 3zm6 0zm6 4zm-3-3zm2-1zm4 0zm-2-6zm2 0zm-2-1zm1 0zm0-1zm-5-3zm3-3zm3-2zm-1-1zm0-2zm1-5zm1 8zm5 2zm0 2zm2 0zm-7 3zm4 0zm-2 1zm5 2zm-3 2zm0 2zm-2 2zm3 0zm1 0zm-4 3zm3 3zm2 1zm1-3zm2-1zm1-1zm0-1zm4-1zm-4-2zm0-1zm2-1zm2-1zm-2-2zm-1-1zm-2-7zm0-5zm7 6zm2 4zm-2 4zm3 1zm-3 1zm2 0zm1 0zm1 3zm-2 1zm1 0zm-2 4zm1 2zm4 6zm1-1zm5-4zm-5-4zm4-1zm-4-1zm4 0zm2 0zm-3-7zm2-2zm-4-6zm0-8zm7 10zm6 1zm-2 1zm-3 4zm0 1zm0 1zm4 0zm-2 4zm1 1zm2 0zm-6 1zm4 0zm-3 2zm1 0zm3 1zm-4 1zm6 0zm-2 1zm-2 6zm7-3zm-1-4zm5-3zm-6-1zm2-1zm-2-1zm0-1zm6-5zm-1-1zm-1-7zm11 14zm-5 1zm3 5zm0 2zm2 0zm-5 1zm8-2zm-1-1zm7-12zm1 3zm5 1zm0 3zm0 5zm5 4zm-3-5zm4-4zm7-4zm-1 4z"/><path stroke="#d0a028" stroke-opacity="0.34" d="M313 145zm6 0zm7-17zm1 9zm0 12zm-4 4zm1 7zm0 4zm10 1zm-1-2zm2 0zm-6-3zm1 0zm-1-3zm1 0zm0-1zm3 0zm2-1zm-4-1zm1 0zm1 0zm-1-1zm-3-2zm3 0zm-4-1zm4-1zm-1-2zm1 0zm1-2zm1-8zm-2-1zm9 5zm-5 3zm0 2zm2 1zm1 1zm4 2zm-4 2zm-1 1zm1 0zm4 0zm-6 2zm4 0zm2 1zm-4 1zm3 1zm1 0zm0 1zm-3 3zm10-1zm-5-1zm0-2zm1 0zm-1-1zm1 0zm4 0zm-1-2zm-3-1zm1 0zm2 0zm-3-2zm2 0zm-1-1zm1 0zm-4-1zm4 0zm1 0zm2 0zm-2-1zm1-1zm-2-2zm2-2zm-4-1zm0-1zm0-1zm-1-1zm-1-1zm5-5zm-1-13zm-4-30zm8 51zm1 2zm-1 1zm4 0zm-1 1zm4 0zm-6 2zm4 0zm-4 1zm5 0zm-2 1zm1 0zm-5 1zm1 1zm1 0zm4 0zm-2 2zm-1 1zm3 0zm-4 2zm2 0zm2 0zm-6 1zm5 2zm-1 1zm3 0zm-2 1zm1 2zm3 2zm2-1zm4-2zm-6-1zm2 0zm-3-2zm1 0zm4 0zm0-2zm1 0zm-2-1zm1 0zm-2-1zm1 0zm-2-1zm-1-1zm-1-3zm2 0zm5 0zm-5-1zm1 0zm1 0zm1-1zm2 0zm-1-1zm-5-1zm13-4zm-5 1zm0 1zm4 3zm-5 1zm2 0zm-1 1zm2 0zm1 0zm3 1zm-4 1zm3 1zm-4 1zm5 0zm-6 1zm3 1zm0 1zm-3 1zm1 0zm3 0zm-3 1zm1 0zm-2 1zm3 0zm-3 1zm3 1zm-4 2zm7 0zm-7 1zm8 0zm1 0zm2-1zm-3-2zm6 0zm-4-1zm2-1zm-2-1zm0-2zm-2-1zm0-8zm4 0zm5 1zm1 3zm1 2zm1 0zm-2 3zm5 0zm-7 1zm0 1zm4 0zm1 0zm1 2zm-4 1zm-1 2zm0 1zm1 0zm0 1zm7 3zm0-6zm1 0zm-1-3zm6-3zm-4-1zm-1-1zm0-4zm4 0zm2 2zm3 0zm-2 10zm0 1z"/><path stroke="#3a8fa3" stroke-opacity="0.48" d="M334 165zm-1-5zm-2-2zm4-4zm-6-5zm13 2zm-2 5zm0 5zm2 2zm-4 1zm5 0zm0 3zm-5 3zm8 3zm-1-5zm1-4zm1-1zm3 0zm-5-1zm0-2zm2 0zm2-1zm-1-1zm-1-1zm1-3zm1 0zm-5-4zm2-4zm6 0zm6 2zm-1 3zm2 1zm-4 3zm4 0zm-3 5zm3 0zm-7 1zm1 0zm2 0zm2 0zm-3 3zm1 0zm2 0zm-2 2zm4 0zm-5 1zm-1 2zm-1 3zm0 1zm10 1zm0-2zm-1-2zm4 0zm0-1zm1 0zm-6-4zm4 0zm-2-1zm3 0zm0-2zm-1-3zm-4-2zm1 0zm2-2zm1-3zm2 0zm-5-1zm7-1zm3 5zm-2 3zm-1 1zm4 0zm1 0zm-3 1zm4 0zm-1 1zm-1 1zm-1 2zm1 0zm2 0zm-2 2zm-4 1zm2 1zm4 0zm1 1zm-7 8zm9 5zm2-6zm4-1zm-6-2zm-1-4zm4 0zm2-1zm-6-2zm5-5zm2-1zm-4-3zm4-3zm-5-2zm6-1zm6 8zm0 1zm-2 2zm0 1zm2 2zm-2 2zm1 1zm1 0zm-5 2zm6 1zm-1 4zm6 2zm1-1zm1-2zm-5-1zm5-2zm-4-5zm1-3zm11-9zm-5 8zm1 2zm0 4zm2 0zm-3 1zm-1 2zm2 1zm-2 1zm4 1zm8 6zm0-2zm-3-5zm2-2zm3-1zm0-1zm-3-3zm-2-2zm-1-1zm5 0zm-5-4zm10 12zm4 0zm-4 6zm3 0zm1 1zm-4 2zm1 0zm5 1zm0-6zm3-7zm6-3zm3 1zm-2 15zm11 1zm2-1zm-6-12zm-1-4zm16 18zm0-6z"/><path stroke="#d0a028" stroke-opacity="0.34" d="M313 151zm2-4zm3 0zm-3-1zm4 0zm-6-2zm-1-2zm7-4zm-2-5zm10-20zm-3 39zm1 3zm2 0zm-2 2zm-3 2zm0 1zm9 7zm4-3zm-1-1zm-5-1zm5-3zm-6-3zm4 0zm1-2zm1 0zm1 0zm-1-1zm-2-1zm-4-1zm4 0zm3 0zm-3-2zm0-1zm1 0zm0-16zm4-12zm1 3zm-1 5zm-1 4zm2 5zm-1 10zm2 0zm4 1zm-4 1zm2 0zm2 1zm-4 1zm-1 2zm4 0zm-4 1zm1 0zm3 2zm1 0zm-6 2zm5 0zm-4 1zm-2 1zm3 0zm-1 1zm3 0zm1 1zm-4 1zm12-1zm1-2zm-1-1zm-2-1zm-2-1zm3 0zm-1-2zm1 0zm0-1zm1 0zm-2-1zm-4-1zm1 0zm1 0zm2 0zm-4-1zm2-2zm-1-1zm2-1zm1 0zm3 0zm-3-2zm-2-1zm3-1zm-5-4zm5-12zm9 5zm-2 8zm1 1zm-2 2zm-3 1zm3 0zm1 0zm1 0zm-1 4zm0 1zm2 1zm-4 1zm0 1zm2 0zm-3 1zm2 0zm4 0zm-1 1zm1 0zm-6 1zm-1 1zm1 0zm2 0zm1 0zm-1 1zm4 1zm-7 1zm3 0zm4 1zm-4 1zm2 0zm2 1zm-7 1zm6 0zm1 0zm-7 1zm3 0zm4 0zm5 0zm-2-3zm-2-1zm6 0zm-2-2zm-1-1zm2 0zm-4-1zm3-1zm3 0zm-2-1zm-1-1zm2 0zm0-1zm-2-1zm3 0zm-5-1zm1-1zm1 0zm-1-1zm2 0zm2-2zm-5-1zm4-2zm-2-2zm9 2zm1 3zm0 1zm-4 1zm-2 1zm5 5zm1 1zm1 0zm-5 1zm2 0zm3 0zm0 1zm-7 7zm6 0zm1 1zm-3 1zm-4 1zm3 0zm7-2zm3-3zm-4-1zm5-1zm-5-3zm3 0zm1-2zm-5-1zm2-1zm2 0zm3-1zm-7-3zm1-4zm3-1zm8 5zm-2 5zm-1 2zm2 4zm3 1zm1 1zm-3 3zm-1 1zm2 1zm6-2zm-2-1zm4-2zm2-4zm-7-1zm0-1zm3 0zm1-11zm13 15zm1-6zm9 4z"/><path stroke="#3a8fa3" stroke-opacity="0.48" d="M333 160zm1-6zm-1-4zm-4-10zm8 12zm5 2zm-2 1zm1 2zm-1 3zm2 1zm-2 1zm-4 3zm15 4zm-2-1zm1-2zm-3-1zm3-2zm-4-2zm-1-3zm2 0zm-2-2zm4-1zm-1-3zm0-2zm8 0zm1 2zm0 1zm0 2zm-2 1zm2 0zm-3 1zm5 1zm-7 2zm4 2zm0 6zm-4 3zm9-2zm5 0zm-4-1zm1 0zm-2-3zm2 0zm0-1zm2-1zm-4-3zm6-1zm-4-1zm1-1zm1 0zm-5-1zm5-2zm-4-6zm1-1zm9-3zm3 6zm0 2zm-5 3zm-1 2zm2 0zm-2 1zm2 0zm0 1zm0 2zm1 0zm4 1zm-3 1zm-2 4zm5 1zm-5 1zm2 0zm-4 1zm5 0zm0 1zm2 0zm-7 2zm1 0zm6 1zm-1 2zm-4 1zm4 0zm8 1zm-5-1zm1 0zm1-5zm-1-1zm5 0zm-2-2zm1-2zm-5-2zm-1-1zm2-1zm5-1zm-3-1zm1-1zm1 0zm-1-1zm-1-3zm-1-6zm6 4zm1 3zm-2 5zm5 0zm-4 1zm0 1zm6 2zm-4 1zm1 0zm3 0zm-6 1zm3 0zm1 0zm1 1zm-2 1zm-1 1zm0 3zm3 4zm0 3zm9-7zm-1-6zm-5-6zm3 0zm2 0zm-2-1zm2 0zm1-2zm-2-1zm10 8zm-3 2zm1 1zm0 1zm2 1zm-4 1zm1 1zm4 4zm4-4zm1-1zm-1-1zm0-1zm-2-2zm3 0zm0-1zm-1-1zm-1-1zm5 11zm3 3zm2 1zm-5 2zm11-4zm-1-4zm0-1zm4-2zm3 2zm1 0zm13-6zm1 9zm3 5z"/><path stroke="#d0a028" stroke-opacity="0.34" d="M317 166zm-4-13zm4 0zm1 0zm0-1zm-3-2zm0-1zm2-4zm-4-3zm6-36zm2 35zm5 1zm-3 5zm3 0zm1 0zm0 8zm-6 6zm11 2zm-1-3zm-3-1zm5 0zm-5-3zm5 0zm2 0zm0-1zm-3-1zm1 0zm-4-4zm2 0zm4 0zm-2-7zm-2-23zm1-3zm6 4zm4 8zm1 11zm0 1zm-2 1zm-5 1zm6 2zm-6 1zm5 0zm-4 2zm3 1zm3 1zm-1 1zm-1 1zm0 1zm2 0zm-4 2zm1 0zm1 0zm0 1zm-2 1zm1 1zm-3 1zm6 0zm0 2zm1 6zm5-2zm1-3zm-5-1zm1-3zm2 0zm2 0zm-6-1zm2 0zm-2-1zm4 0zm-4-1zm3 0zm-1-2zm1 0zm4 0zm-7-1zm3-1zm-2-2zm2-1zm1-1zm-4-5zm4 0zm7 2zm3 2zm-2 1zm3 3zm-7 1zm0 1zm1 1zm-1 1zm2 0zm4 0zm1 0zm-2 1zm-3 1zm5 0zm-7 1zm6 0zm-4 4zm1 0zm-1 2zm11 1zm-5-1zm7 0zm-5-1zm2 0zm0-2zm2 0zm1 0zm-6-2zm1 0zm1-2zm3 0zm-1-1zm1 0zm-5-1zm-1-1zm7 0zm-7-1zm2 0zm2-2zm1-1zm-1-3zm-4-1zm6-2zm-4-2zm9 2zm2 1zm-2 4zm-3 1zm2 0zm-2 1zm4 0zm-1 1zm-2 1zm1 0zm4 0zm-4 2zm2 0zm1 0zm0 1zm-3 1zm2 2zm0 1zm-3 1zm-1 1zm5 1zm-1 2zm2 1zm4 2zm-2-6zm7-1zm-7-1zm0-3zm6 0zm-5-2zm6 0zm-3-1zm-1-1zm-1-2zm-2-2zm7 0zm-4-3zm-1-1zm12 7zm-6 2zm1 2zm3 1zm1 2zm-5 2zm0 5zm6 1zm2 0zm1-1zm4-2zm-2-3zm3 0zm-3-2zm0-1zm-2-2zm0-2zm2-1zm0-5zm5 7zm0 5zm2 0zm3 1zm-1 2zm-1 4zm-1 1zm8-8zm6 7z"/><path stroke="#3a8fa3" stroke-opacity="0.48" d="M335 164zm-2-3zm-2-4zm2-2zm-3-1zm4-10zm4 6zm2 2zm0 2zm-1 2zm3 1zm-1 1zm-2 3zm5 17zm3-8zm3-1zm-2-1zm2-3zm-4-2zm4-2zm-2-3zm3-1zm-7-2zm3 0zm-2-1zm5-6zm-2-8zm6 8zm1 3zm2 2zm-2 5zm2 1zm-4 2zm3 2zm-4 2zm4 0zm3 0zm-7 1zm4 1zm3 5zm-6 2zm5 4zm3-6zm5-1zm-3-3zm4 0zm0-1zm-3-1zm2 0zm-4-1zm3 0zm1 0zm-4-2zm-2-2zm5 0zm0-1zm2 0zm-2-1zm-3-2zm3 0zm-3-1zm7-10zm0 5zm3 2zm-3 2zm3 1zm1 0zm-2 1zm2 0zm-4 2zm1 1zm-2 2zm5 0zm1 1zm-4 1zm-2 1zm1 0zm1 0zm2 1zm1 0zm1 0zm-1 1zm0 3zm1 2zm1 0zm-2 2zm-1 2zm2 0zm3 0zm6-5zm-3-1zm3 0zm-3-2zm1 0zm-5-1zm2-1zm4 0zm-4-1zm1-1zm-3-1zm5-1zm1 0zm-1-6zm-5-5zm7-2zm-3-8zm7 10zm2 0zm0 4zm-5 3zm2 1zm4 0zm-6 4zm1 4zm0 2zm2 2zm2 0zm2 0zm-7 3zm0 3zm0 4zm11-1zm-2-5zm1-1zm2-2zm3-4zm-7-1zm5 0zm-5-1zm2-2zm-1-1zm-1-5zm0-1zm3-1zm3-1zm-3-2zm10 4zm-3 4zm1 5zm-2 2zm4 3zm2 1zm1 0zm1-5zm-1-2zm10-8zm1 12zm-2 5zm10 3zm-2-2zm3-2zm1-6zm-1-3zm-3-22zm25 27zm2 14zm17-3zm24-9z"/><path stroke="#d0a028" stroke-opacity="0.34" d="M314 140zm9-20zm3 5zm0 18zm0 9zm-2 2zm-2 3zm5 1zm-2 2zm-2 1zm3 2zm0 7zm7-5zm-3-6zm5 0zm-5-1zm2 0zm3 0zm-5-2zm3 0zm1 0zm-6-1zm3-2zm2 0zm1 0zm-4-1zm1 0zm4-1zm-3-1zm-3-3zm3 0zm0-1zm3-1zm-6-1zm4 0zm-3-5zm-1-17zm1 0zm2 0zm-4-2zm2-1zm0-17zm8 18zm4 27zm-3 1zm2 0zm0 1zm-3 1zm-2 2zm1 0zm2 0zm1 0zm1 0zm1 0zm1 0zm-6 1zm1 0zm2 0zm3 0zm-6 1zm2 1zm3 1zm1 1zm-2 1zm-5 1zm1 0zm3 0zm-2 2zm1 0zm4 0zm-7 1zm6 4zm-4 1zm6-4zm4-1zm2 0zm1 0zm-5-2zm5 0zm-5-2zm1-1zm4 0zm-5-2zm2 0zm-4-2zm3 0zm1 0zm0-1zm2 0zm-2-1zm1 0zm-5-3zm0-1zm4 0zm-1-1zm0-1zm-2-2zm3-1zm11-6zm-6 4zm5 3zm1 3zm-4 3zm-2 1zm4 0zm-3 6zm-1 1zm4 0zm2 2zm-1 3zm1 0zm-3 1zm0 2zm4-3zm6 0zm1-1zm-2-1zm-2-1zm-1-2zm5 0zm-7-1zm4-1zm2 0zm1-2zm-7-1zm2 0zm1-1zm-2-1zm0-1zm0-1zm-1-2zm2-1zm5 0zm5-5zm-3 8zm2 0zm4 0zm-5 1zm-2 1zm4 0zm1 1zm0 1zm2 0zm-5 1zm2 3zm0 1zm-3 1zm4 1zm-5 1zm2 3zm-2 1zm5 0zm5 3zm2 0zm-2-1zm-1-3zm0-1zm1 0zm3-1zm-5-1zm1 0zm3 0zm2 0zm-4-1zm3 0zm2-1zm-2-2zm1 0zm1 0zm-2-2zm-5-2zm7 0zm-7-7zm7-1zm4 8zm2 0zm-5 3zm1 2zm0 2zm5 0zm-4 3zm1 1zm-3 2zm5 1zm-5 1zm9-3zm-1-8zm3-4zm1 0zm1-2zm5-3zm3 3zm0 1zm2 4zm-4 1zm1 4zm1 2zm-5 2zm3 0zm-1 3zm8-9z"/><path stroke="#3a8fa3" stroke-opacity="0.48" d="M330 162zm3-2zm-1-3zm9-18zm-3 13zm2 0zm-2 4zm3 1zm-1 3zm-4 3zm7 2zm0 2zm5 6zm-1-1zm2-7zm2 0zm-2-2zm1-2zm-3-1zm-1-2zm5-3zm0-3zm0-6zm2-2zm2 3zm4 0zm-1 4zm-6 4zm2 1zm2 1zm3 2zm-4 1zm-3 2zm6 2zm-1 1zm1 0zm-3 3zm2 0zm-5 1zm4 6zm4 1zm6-2zm-3-4zm1 0zm1-2zm1-2zm-2-2zm2 0zm1 0zm-3-2zm-1-1zm-3-1zm1 0zm3 0zm2-1zm-3-3zm-1-1zm5-9zm5-4zm-3 4zm6 6zm0 1zm-4 1zm4 1zm-7 2zm5 1zm-5 1zm6 0zm-3 1zm2 0zm-5 1zm3 1zm0 4zm3 0zm-5 1zm1 0zm-2 1zm3 0zm0 3zm4 0zm-4 1zm4 0zm-4 1zm2 5zm4 1zm0-3zm0-4zm1 0zm3 0zm-3-2zm5-1zm-7-3zm7 0zm-6-1zm1-4zm-1-1zm4-2zm0-1zm-5-1zm0-1zm4-1zm11 3zm0 2zm-6 5zm4 0zm-4 2zm4 0zm-2 2zm4 0zm-7 1zm3 0zm3 3zm0 1zm-5 3zm5 0zm-3 1zm10 0zm-2-2zm0-5zm-3-2zm1 0zm-1-4zm3-3zm2-1zm2-2zm-7-3zm4-6zm6 9zm-1 3zm6 3zm-7 3zm2 2zm-1 8zm12-1zm-5-1zm7 0zm-1-3zm-1-4zm-2-2zm-3-1zm2-1zm1-5zm7 4zm-2 6zm0 6zm1 1zm6 1zm-1 4zm6-2zm0-8zm-1-4zm8-6zm16 14zm11 0zm0-3zm22-3z"/><path stroke="#d0a028" stroke-opacity="0.34" d="M311 147zm0 5zm3 4zm1-3zm4-11zm8 9zm-6 1zm1 1zm2 0zm1 1zm2 4zm2 10zm3-3zm-2-1zm5-3zm0-1zm-7-1zm5 0zm1 0zm-2-4zm0-3zm-3-2zm2 0zm1 0zm2-1zm1-1zm-3-1zm2 0zm-5-6zm2-2zm-1-6zm1-37zm3 0zm4 23zm2 11zm-3 2zm-1 7zm4 5zm-1 1zm1 0zm-1 1zm1 0zm3 0zm-6 5zm4 0zm-2 1zm-1 1zm1 0zm1 0zm-2 2zm3 0zm-4 2zm6 0zm-2 1zm0 1zm1 0zm-2 1zm-4 2zm6 1zm1 0zm0 1zm-2 4zm3-3zm5 0zm-1-2zm2 0zm1-2zm-7-1zm3 0zm2 0zm1 0zm1 0zm-2-1zm0-1zm-4-1zm1 0zm1 0zm2-1zm2 0zm-7-1zm1 0zm0-1zm2 0zm2-1zm-2-1zm1 0zm-2-3zm4-2zm0-2zm-4-1zm-2-1zm4-10zm9 3zm2 13zm-7 1zm2 1zm0 1zm2 0zm-2 1zm0 1zm1 0zm3 0zm-5 1zm1 0zm1 0zm1 1zm1 0zm2 0zm-6 1zm3 0zm1 0zm2 0zm-2 1zm2 0zm0 1zm-1 2zm-5 1zm1 1zm10 3zm-2-3zm-1-1zm-1-3zm0-1zm6 0zm-6-1zm5 0zm-4-1zm2 0zm-3-1zm6 0zm-6-1zm3-1zm1-2zm3 0zm-4-4zm-3-2zm4 0zm-2-1zm1-3zm4-1zm-6-8zm9 14zm4 0zm-4 1zm4 2zm-3 1zm-1 3zm1 1zm2 0zm-4 1zm2 0zm1 0zm1 1zm-5 1zm2 1zm4 0zm1 3zm-6 1zm5 2zm-6 1zm7 0zm-2 1zm5 3zm-2-2zm3 0zm0-2zm0-1zm-2-3zm1-1zm3 0zm-3-3zm1 0zm3-4zm-4-1zm5 0zm-4-1zm-1-2zm5 0zm-5-3zm1 0zm7 6zm-1 2zm3 1zm1 0zm-4 1zm1 0zm-2 1zm7 0zm-3 2zm1 0zm-5 2zm12 7zm-1-8zm4-1zm-6-1zm4-6zm-5-3zm10-5zm2 0zm-1 2zm0 11zm-1 2zm10 2zm-3-6zm8 0zm9 10zm7-2z"/><path stroke="#3a8fa3" stroke-opacity="0.48" d="M332 174zm1-15zm1-14zm8-3zm-4 6zm3 2zm-5 6zm7 2zm-3 12zm5 2zm0-11zm5-1zm-3-1zm2-1zm1-1zm1 0zm0-3zm-6-1zm6-1zm-1-3zm-2-5zm10 5zm-1 1zm0 4zm1 3zm-4 2zm3 0zm2 0zm-6 1zm1 4zm5 0zm-3 1zm2 2zm1 5zm-1 1zm8 2zm-3-1zm0-3zm4-2zm-5-1zm3 0zm2-3zm-2-1zm-2-1zm3-2zm1 0zm-3-1zm0-6zm-4-2zm2-2zm0-15zm5-3zm6 18zm-2 4zm-2 1zm1 1zm5 1zm-7 3zm2 0zm1 1zm1 0zm3 0zm-1 1zm-6 1zm3 1zm0 1zm4 0zm-1 2zm-6 2zm5 2zm-1 1zm1 1zm0 3zm-2 1zm8 3zm-2-4zm5-4zm-6-3zm3-1zm3 0zm1 0zm-2-1zm-4-2zm6 0zm-4-2zm3-1zm1 0zm-3-1zm1-1zm-3-1zm3-5zm1 0zm1-3zm-6-1zm-1-1zm10 0zm0 5zm2 4zm-2 1zm5 0zm0 2zm-3 4zm0 1zm-2 1zm4 0zm-5 2zm1 4zm2 0zm1 0zm-4 1zm-1 1zm0 1zm13 3zm1-3zm-4-1zm2-3zm3-1zm-6-2zm4 0zm2 0zm-6-1zm-1-2zm4 0zm2 0zm-1-3zm-1-2zm-3-7zm9-3zm-2 7zm3 0zm-1 4zm4 4zm-3 1zm2 3zm-2 3zm0 3zm-1 1zm5 0zm6 2zm-3-1zm4-1zm-6-2zm2-15zm3-2zm-4-3zm12 11zm-5 7zm0 3zm12 2zm3-2zm-7-6zm7-15zm-4-2zm10 16zm4 4zm7-2zm5 8z"/></g></g>
<g clip-path="url(#c4)"><g stroke-width="1.7" stroke-linecap="round" fill="none"><path stroke="#d0a028" stroke-opacity="0.34" d="M510 168zm-4-3zm1-3zm3 0zm-1-1zm-1-1zm2 0zm1-1zm-3-3zm-1-1zm3-1zm1-1zm0-3zm0-14zm7-17zm-3 2zm-1 11zm1 11zm1 0zm3 1zm-7 1zm6 3zm-4 1zm0 1zm5 0zm-2 1zm-5 1zm3 0zm2 0zm2 0zm0 1zm-5 1zm3 0zm1 0zm-5 4zm6 2zm-6 1zm7 5zm0-1zm0-2zm4-1zm-1-1zm3-1zm-1-1zm2 0zm-2-1zm-4-1zm5 0zm1 0zm-5-5zm-2-1zm1 0zm2 0zm-2-1zm3-1zm3 0zm-7-4zm4 0zm-3-1zm-1-1zm5-1zm1-3zm1-1zm-4-6zm3-1zm1 0zm-2-11zm-3-8zm1-21zm5 24zm1 17zm5 0zm-4 1zm0 2zm5 4zm-1 3zm1 1zm-1 1zm0 1zm-3 1zm-1 1zm-2 1zm3 0zm2 1zm-2 1zm3 0zm-5 1zm4 0zm-3 1zm1 0zm-2 1zm2 0zm1 0zm-4 1zm4 0zm2 0zm-6 1zm3 0zm2 0zm-5 1zm2 0zm1 0zm-1 1zm-2 1zm7 0zm-6 1zm5 0zm-4 1zm3 0zm-3 2zm3 1zm-5 1zm1 0zm-1 1zm5 2zm4 0zm0-4zm-1-1zm5 0zm-2-1zm-2-1zm3-1zm3 0zm-1-2zm1 0zm-7-1zm3 0zm1 0zm-4-2zm3 0zm4-1zm-5-1zm1-1zm4 0zm-6-1zm1-2zm3 0zm-5-1zm2-2zm3 0zm1 0zm-4-1zm5 0zm-4-2zm0-10zm6 9zm6 5zm-6 2zm0 1zm2 4zm4 4zm-6 1zm0 2zm5 0zm-3 1zm1 1zm-4 6zm4 0zm7-2zm-3-12zm0-2zm3-3zm-3-1zm1-11zm7 11zm7 2zm-4 4zm-1 3zm2 3zm4-4zm4-3zm-3-1zm14-9zm-7 6zm1 4zm3 3zm-1 1zm-3 9zm12 0zm-3-8zm4-3zm-1-3zm-2-2zm7 2zm1 17zm7-4zm0-2zm3-7zm0-3zm-4-3zm2 0zm0-1zm12 7zm-5 2zm4 0zm0 2zm-1 1zm10-6zm6-8zm3 4zm4 10z"/><path stroke="#3a8fa3" stroke-opacity="0.48" d="M525 183zm-2-2zm1 0zm-3-1zm1 0zm2 0zm-3-1zm4 0zm-3-1zm4-1zm-1-2zm-3-1zm2 0zm1 0zm2 0zm-3-1zm-2-1zm2 0zm2 0zm1 0zm-4-1zm3 0zm-3-1zm1 0zm1 0zm-2-1zm1 0zm1 0zm-3-1zm1 0zm-2-1zm2 0zm1 0zm1 0zm1 0zm-5-1zm1 0zm4 0zm-5-1zm1 0zm2 0zm1 0zm-3-1zm2 0zm1 0zm2 0zm-6-1zm2 0zm1 0zm1 0zm1 0zm-6-1zm2 0zm3 0zm-4-1zm1 0zm2 0zm0-1zm3 0zm-5-1zm1 0zm2 0zm-4-1zm2 0zm1 0zm2 0zm-6-1zm1 0zm2 0zm2 0zm2 0zm0-2zm-3-1zm1 0zm2 0zm-2-1zm1-1zm-2-1zm1 0zm-2-1zm4 0zm-3-1zm3 0zm-4-1zm2 0zm0-2zm-1-1zm-1-2zm-2-1zm7 4zm4 1zm0 2zm2 0zm-5 1zm-1 1zm5 0zm-2 1zm1 0zm-2 2zm-2 1zm1 1zm4 0zm-5 2zm1 0zm0 1zm0 1zm2 0zm1 0zm1 0zm-5 1zm2 0zm4 0zm-5 1zm1 0zm3 0zm2 0zm-7 1zm3 0zm-3 1zm3 0zm-2 1zm0 1zm1 0zm2 0zm-1 1zm2 1zm-5 1zm0 1zm7 0zm-6 1zm-1 1zm1 0zm1 0zm-1 1zm4 2zm-3 1zm-2 1zm11-23z"/><path stroke="#d0a028" stroke-opacity="0.34" d="M502 152zm0 14zm9-6zm-1-5zm-1-2zm-5-4zm4 0zm3 0zm-3-9zm9-11zm-4 16zm5 0zm-5 2zm3 1zm2 1zm-6 2zm1 0zm1 0zm2 0zm3 0zm-5 1zm2 1zm-3 1zm2 0zm0 2zm3 0zm0 1zm-2 1zm3 0zm-7 1zm1 1zm5 1zm1 1zm0 1zm-6 1zm13 1zm-5-1zm2 0zm2 0zm2 0zm-6-2zm1 0zm5 0zm0-3zm-4-1zm3 0zm1 0zm-4-1zm2 0zm-5-1zm7 0zm-4-1zm3 0zm-4-1zm1 0zm4 0zm-7-1zm3 0zm2 0zm1 0zm-6-1zm3 0zm3 0zm1 0zm-7-2zm1 0zm1-1zm5-1zm-5-3zm2-1zm-2-1zm1-14zm2-10zm0-39zm8 37zm0 17zm1 5zm-1 5zm2 0zm-3 1zm1 1zm-5 1zm4 0zm-3 1zm1 0zm2 0zm-1 2zm-2 1zm2 0zm1 0zm3 0zm-2 1zm1 0zm1 0zm-5 1zm1 0zm2 0zm1 0zm1 1zm-1 1zm-3 1zm1 0zm1 0zm-4 1zm6 0zm-7 1zm1 3zm3 0zm-3 2zm1 0zm3 0zm2 0zm-5 1zm5 0zm-7 1zm7 0zm-5 3zm7-1zm1-1zm2-1zm2-5zm-5-1zm2 0zm1 0zm-2-2zm-2-1zm2-1zm1 0zm-2-2zm2 0zm0-1zm-2-2zm6-3zm-6-2zm0-1zm5-3zm9 6zm-2 2zm-2 2zm-1 1zm-2 1zm5 0zm2 1zm-7 1zm2 0zm3 3zm-2 1zm-3 1zm7 4zm-6 3zm8-7zm1-1zm5-1zm-4-11zm4-5zm8 3zm-3 5zm1 3zm2 6zm1 3zm1-1zm2-1zm-3-11zm7-8zm8 4zm-2 7zm1 0zm0 9zm-4 1zm12-3zm1-10zm-1-1zm8 8zm-6 3zm6 1zm1 9zm8-6zm-1-5zm-6-5zm5-2zm10 1zm-3 6zm0 1zm2 0zm7 2zm-5-7zm6-3zm3 5zm-1 4zm0 3zm8-3zm2-1zm5-7zm3-2z"/><path stroke="#3a8fa3" stroke-opacity="0.48" d="M523 182zm0-1zm0-1zm4-1zm-5-1zm2 0zm-2-1zm3-1zm-5-1zm4-1zm1 0zm2 0zm-7-1zm2-1zm2 0zm2 0zm1 0zm-2-1zm-4-1zm2 0zm1 0zm3 0zm-6-1zm1 0zm1 0zm1 0zm1 0zm1 0zm1 0zm-7-1zm2 0zm3 0zm-3-1zm3 0zm1 0zm-5-1zm3 0zm2 0zm-4-1zm1 0zm1 0zm-2-1zm3 0zm1 0zm-4-1zm1 0zm1 0zm2 0zm-4-1zm1 0zm-2-1zm1 0zm2 0zm3 0zm-6-1zm1 0zm2 0zm1 0zm-3-1zm3 0zm1 0zm0-1zm-4-1zm2 0zm3 0zm-5-1zm1-2zm3 0zm1 0zm-6-2zm1 0zm1 0zm-1-1zm5 0zm-1-3zm1 0zm-6-2zm10-10zm-3 9zm2 2zm0 2zm1 0zm-3 5zm5 0zm-5 1zm5 0zm-4 1zm1 0zm3 0zm-5 1zm1 0zm1 0zm4 0zm1 1zm-7 1zm2 0zm5 0zm-3 1zm-4 1zm1 0zm3 0zm1 0zm-5 1zm1 0zm1 0zm1 1zm-1 1zm1 0zm-1 1zm-2 2zm0 1zm2 0zm0 1zm1 0zm4 1zm-3 1zm0 1zm-2 1zm1 2zm1 0zm-1 3zm2 0zm6-6zm-3-6zm0-1zm1-6zm0-1zm0-9z"/><path stroke="#d0a028" stroke-opacity="0.34" d="M508 163zm2-1zm-5-4zm4-1zm2 0zm0-1zm-3-3zm-1-3zm3-4zm0-3zm4 3zm2 0zm-1 3zm1 0zm2 1zm-3 1zm4 0zm0 2zm-4 1zm4 2zm-3 1zm-3 2zm3 0zm-2 2zm-2 1zm2 0zm-2 1zm14 5zm-4-1zm-2-5zm3 0zm4-1zm-6-1zm3 0zm1 0zm1 0zm-2-1zm3 0zm-3-1zm-4-1zm1 0zm-1-1zm7 0zm-7-1zm1 0zm4 0zm-1-1zm-1-1zm-3-1zm1 0zm4 0zm-2-1zm2 0zm-1-2zm2 0zm-5-1zm3 0zm3-3zm-5-3zm2 0zm3-1zm-6-1zm5-2zm-1-2zm-4-29zm7 13zm4 1zm0 2zm-4 12zm2 8zm-1 1zm5 1zm-1 1zm-2 1zm2 0zm-4 1zm3 1zm-4 1zm3 0zm-1 1zm-1 1zm2 0zm3 0zm-6 1zm1 0zm6 0zm-3 1zm3 0zm-7 1zm1 0zm2 0zm1 0zm-4 1zm2 0zm2 0zm3 0zm-5 1zm3 1zm-5 1zm3 0zm-3 1zm3 0zm0 1zm3 0zm-4 1zm-2 2zm1 0zm1 0zm-2 1zm4 0zm2 0zm-5 1zm4 1zm-4 2zm9 4zm2-9zm-2-2zm-1-1zm3 0zm1-1zm-3-1zm3-1zm-3-1zm5 0zm-7-1zm7 0zm-3-2zm-3-1zm6 0zm-6-1zm2 0zm1 0zm1 0zm-2-2zm0-1zm2 0zm-5-2zm3 0zm1-1zm-4-2zm2 0zm2-1zm0-1zm0-4zm-3-1zm7 3zm5 6zm-2 2zm4 2zm0 1zm-5 3zm-2 1zm3 3zm3 0zm1 0zm-7 1zm1 0zm3 1zm1 0zm1 0zm-3 1zm1 0zm1 0zm-5 1zm0 1zm8-1zm1-6zm3-3zm-4-3zm11 5zm3 4zm2 3zm4-6zm5-5zm4 4zm2 5zm-7 2zm9-1zm0-3zm-1-1zm7-7zm1-3zm7 3zm-2 6zm8 6zm-3-2zm1-10zm11 3zm-4 1zm1 3zm7 9zm1-4zm-1-3zm0-2zm2-2zm0-1zm2-4zm6 1zm7-2zm6 1zm32-13z"/><path stroke="#3a8fa3" stroke-opacity="0.48" d="M522 180zm1-1zm2 0zm-4-1zm1 0zm3 0zm2 0zm-5-1zm-1-1zm3 0zm3-1zm-3-1zm0-1zm1 0zm1 0zm-6-1zm3 0zm2 0zm-3-1zm2 0zm1 0zm2-1zm-6-1zm0-1zm1 0zm1 0zm1 0zm3 0zm-1-1zm-5-1zm1 0zm2 0zm3 0zm-7-1zm2 0zm1 0zm1 0zm2 0zm-3-1zm1 0zm2 0zm1 0zm-5-1zm1 0zm1 0zm1 0zm-3-1zm2 0zm1 0zm-3-1zm2 0zm1 0zm-4-1zm2 0zm1 0zm2 0zm1 0zm-4-1zm2 0zm1 0zm1 0zm-5-1zm2 0zm2 0zm1 0zm-4-1zm4 0zm-5-1zm2 0zm2 0zm1 0zm-6-1zm2 0zm2 0zm2 0zm-6-1zm2 0zm-2-1zm2 0zm0-1zm-2-1zm1 0zm5-1zm-1-1zm-2-2zm1-1zm-3-4zm2 0zm-1-2zm2 0zm6 5zm-1 5zm-2 4zm2 2zm1 1zm1 0zm2 0zm-6 1zm1 2zm2 0zm0 1zm-3 1zm0 1zm1 0zm5 0zm-5 2zm1 0zm1 0zm-3 1zm0 1zm2 0zm2 0zm-3 2zm3 0zm1 0zm1 0zm-6 1zm2 0zm3 0zm-5 1zm1 0zm1 0zm3 1zm-4 1zm3 0zm-4 1zm6 0zm-5 1zm1 1zm2 1zm5-16zm4 0zm-5-5zm0-5zm1-1z"/><path stroke="#d0a028" stroke-opacity="0.34" d="M502 119zm0 38zm3 6zm-1-1zm6-2zm-6-1zm6-1zm0-12zm0-2zm1 0zm5-24zm3 24zm0 1zm-6 2zm2 1zm-3 1zm7 1zm0 1zm-6 1zm1 1zm-1 1zm4 0zm2 0zm-4 1zm-3 1zm3 0zm4 0zm-2 2zm-1 2zm-1 1zm-2 2zm5 0zm-3 1zm2 2zm4 1zm1-2zm3-1zm-1-1zm3 0zm-6-1zm1-1zm2-2zm2 0zm-1-1zm2 0zm-6-1zm1 0zm1 0zm2 0zm1 0zm-6-1zm1-1zm6 0zm-6-1zm1 0zm5 0zm-7-1zm4 0zm2 0zm-6-1zm7 0zm-1-1zm-6-2zm1 0zm4-1zm0-1zm-1-2zm-4-1zm2-1zm-2-1zm6 0zm-1-2zm1-1zm-6-5zm6-7zm5-5zm2 22zm2 3zm-1 1zm1 1zm-2 1zm-5 1zm2 0zm3 0zm-2 1zm4 0zm-2 1zm1 0zm-6 1zm2 0zm2 0zm1 0zm-1 1zm-4 1zm7 0zm-6 1zm1 0zm1 0zm4 0zm-5 1zm3 0zm2 0zm-7 1zm3 0zm1 0zm1 0zm-4 1zm1 0zm1 0zm4 0zm-2 1zm-4 1zm3 0zm-1 3zm3 0zm-6 1zm8 1zm5-1zm-2-1zm0-4zm2-1zm-5-2zm3 0zm1 0zm2 0zm1 0zm-7-1zm0-1zm4 0zm1 0zm-5-1zm2 0zm-2-1zm7 0zm-6-1zm4 0zm1 0zm-5-1zm1 0zm1 0zm1 0zm-4-2zm1 0zm4 0zm2-1zm-5-1zm4 0zm-2-1zm2-1zm-1-4zm-1-20zm6 24zm3 1zm-5 4zm2 0zm0 1zm3 1zm-3 1zm3 3zm0 1zm2 0zm-3 9zm5 3zm6-7zm0-5zm-6-2zm0-3zm3-1zm-4-1zm2-1zm12 1zm-5 6zm9-10zm-1-3zm8 2zm0 4zm2 5zm-3 5zm7 1zm1-9zm4-3zm-2-3zm9 8zm3 0zm-5 1zm3 1zm-4 4zm5 1zm2 7zm6-4zm-4-8zm2-5zm5 9zm7 1zm8 9zm-6-13zm2-2zm2-1zm-5-4zm9 5zm5 9zm2-24z"/><path stroke="#3a8fa3" stroke-opacity="0.48" d="M520 181zm2 0zm1 0zm1 0zm-4-1zm2 0zm3-1zm-5-2zm1 0zm2 0zm4 0zm-5-1zm2 0zm-2-1zm3 0zm1 0zm-3-1zm4 0zm-1-1zm1 0zm-6-1zm1 0zm5 0zm-5-1zm2 0zm3 0zm-6-1zm2 0zm1 0zm2 0zm1 0zm-6-1zm5 0zm-6-1zm3 0zm-2-1zm2 0zm1 0zm3 0zm-5-1zm3 0zm1 0zm1 0zm-6-1zm1 0zm3 0zm2 0zm-6-1zm4 0zm2 0zm-1-1zm1 0zm-5-1zm3 0zm2 0zm-4-1zm2 0zm1 0zm1 0zm-5-1zm4 0zm-5-1zm2 0zm1 0zm-3-2zm1 0zm2 0zm2 0zm-4-1zm1 0zm1 0zm-1-1zm4 0zm-5-1zm2 0zm1 0zm2 0zm-6-1zm0-1zm4 0zm-3-1zm3-1zm2 0zm-3-1zm-1-1zm1 0zm1-1zm2 0zm-4-3zm8 4zm-1 1zm-2 1zm4 0zm2 2zm-4 2zm2 0zm-2 1zm-2 2zm2 0zm0 1zm-2 1zm2 0zm2 0zm-3 1zm1 0zm1 0zm2 0zm-5 1zm1 0zm3 0zm1 0zm-4 1zm1 0zm-1 1zm5 1zm-6 1zm2 0zm3 0zm-4 1zm3 0zm-4 2zm1 0zm2 0zm-2 1zm2 0zm-2 2zm-1 1zm5 0zm0 1zm-4 2zm2 0zm-3 1zm1 1zm3 0zm-3 1zm7-20zm1-5zm0-2z"/><path stroke="#d0a028" stroke-opacity="0.34" d="M502 155zm5 7zm3 0zm-1-5zm1-1zm-1-3zm-1-1zm0-4zm2-10zm-4-16zm10-5zm1 15zm-1 1zm-4 6zm0 7zm2 1zm2 0zm-1 4zm4 0zm-7 1zm2 0zm2 1zm3 0zm0 1zm0 1zm-6 1zm2 0zm-1 1zm2 0zm3 3zm-3 1zm1 4zm-5 2zm15-1zm0-2zm-5-2zm1 0zm2 0zm1 0zm1-1zm-7-1zm2 0zm3 0zm-4-1zm2-1zm1 0zm3 0zm-3-1zm0-1zm2 0zm-4-1zm3 0zm-1-1zm-3-1zm5 0zm1-2zm-6-1zm4 0zm2 0zm-6-1zm5 0zm-4-1zm2 0zm-4-1zm5 0zm-3-1zm1-1zm3 0zm-3-4zm-2-1zm2 0zm-2-2zm5-5zm1-11zm7-2zm-5 12zm5 7zm-5 2zm5 0zm1 1zm-5 1zm1 1zm1 0zm-4 3zm3 0zm-3 1zm6 0zm1 0zm-6 1zm3 0zm1 0zm-5 1zm3 0zm2 0zm1 0zm0 1zm-6 1zm3 0zm-1 2zm3 1zm-4 1zm2 0zm1 0zm2 0zm-3 1zm1 0zm-4 2zm1 0zm2 0zm2 0zm-5 1zm2 0zm3 0zm1 0zm-4 1zm3 0zm1 1zm-1 1zm-4 1zm2 0zm4 0zm-1 1zm1 2zm-7 1zm14 0zm-1-3zm-3-1zm2 0zm-1-1zm1 0zm-4-2zm4-2zm-4-1zm2 0zm1 0zm1 0zm-2-2zm2 0zm-4-2zm4 0zm1 0zm-4-1zm2 0zm2 0zm-3-1zm2 0zm-1-1zm3 0zm-6-1zm0-1zm1 0zm1-3zm4-3zm-5-14zm11 17zm-1 3zm-1 3zm1 2zm-3 1zm4 2zm-3 7zm1 1zm3 0zm9-4zm-5-3zm2 0zm1-1zm5-7zm6 11zm-2 3zm-1 1zm2 1zm9-2zm-7-6zm6-1zm-5-3zm1-4zm7 2zm-1 2zm2 4zm6 8zm11-15zm-1 2zm1 2zm8 4zm1-5zm-4-2zm11-6zm-2 8zm3 5zm2 7zm9-7zm-2-2zm0-2zm-1-4zm10 6zm-6 6zm11-7zm-3-3z"/><path stroke="#3a8fa3" stroke-opacity="0.48" d="M522 183zm5-3zm-3-1zm-1-1zm1 0zm1 0zm-2-1zm1 0zm1 0zm-2-1zm4 0zm-6-1zm1 0zm1 0zm-1-1zm1 0zm-2-1zm3 0zm1 0zm1 0zm-3-1zm1 0zm1 0zm-4-1zm2 0zm3 0zm-4-1zm4 0zm-5-1zm2 0zm1 0zm-4-1zm2 0zm1 0zm3 0zm-2-1zm1 0zm-3-1zm1 0zm2 0zm2 0zm-6-1zm4 0zm1 0zm1 0zm-5-1zm3 0zm1 0zm1 0zm-6-1zm5 0zm1 0zm-6-1zm6 0zm-6-1zm1 0zm5 0zm-6-1zm1 0zm1 0zm3 0zm1 0zm0-1zm-6-1zm3 0zm3 0zm-6-1zm2 0zm1 0zm1 0zm1 0zm1 0zm-4-1zm-2-1zm2 0zm4 0zm-5-1zm2 0zm2 0zm-5-1zm2 0zm4-1zm-1-1zm-3-1zm2-2zm2-2zm-7-5zm12-8zm0 9zm-3 4zm0 1zm3 3zm-4 1zm6 0zm-6 1zm3 0zm-3 1zm0 3zm1 0zm-1 1zm2 0zm1 0zm3 0zm-5 2zm3 0zm0 1zm-3 1zm6 0zm-7 1zm1 0zm3 0zm-4 1zm1 0zm1 1zm0 1zm0 2zm1 0zm4 2zm-5 1zm3 0zm-4 1zm-1 1zm1 1zm1 0zm4 1zm-6 1zm1 0zm3 0zm-2 1zm0 1zm-1 1zm0 1zm7-14zm0-4zm0-4z"/><path stroke="#d0a028" stroke-opacity="0.34" d="M507 165zm1-7zm2 0zm1-1zm-2-1zm2 0zm-4-3zm-1-5zm7-29zm6 1zm0 16zm-1 5zm-3 5zm-2 1zm3 5zm1 0zm1 0zm1 0zm-5 1zm5 0zm-2 1zm1 1zm0 1zm-6 1zm6 0zm-4 1zm4 0zm0 1zm-6 1zm4 1zm1 0zm-3 3zm11 2zm1 0zm-3-1zm2-1zm-4-1zm0-1zm-1-1zm2 0zm3 0zm-2-1zm2 0zm-4-1zm2-1zm-1-2zm4 0zm-6-1zm4 0zm-1-1zm4 0zm-7-1zm4 0zm0-1zm3 0zm-5-2zm2 0zm3 0zm-7-2zm2-1zm1 0zm-2-1zm4 0zm1 0zm-3-1zm2 0zm2 0zm-5-1zm-1-1zm6-3zm-7-5zm0-3zm2-1zm7-30zm-1 24zm3 18zm1 0zm-3 2zm4 0zm-1 1zm-3 2zm1 0zm-2 1zm3 0zm2 1zm1 0zm-6 1zm1 0zm1 2zm1 0zm1 0zm1 0zm1 0zm-3 1zm2 0zm-5 1zm7 0zm-7 1zm1 0zm4 0zm-2 1zm4 0zm-7 1zm1 0zm2 0zm0 2zm-3 1zm3 0zm3 1zm1 0zm-7 1zm4 0zm-3 1zm6 0zm-6 1zm1 0zm1 3zm2 0zm8-2zm-4-1zm4 0zm-5-1zm1-2zm-1-1zm2 0zm4 0zm-5-2zm3 0zm1 0zm-5-1zm2 0zm1-1zm3-1zm-6-1zm1-2zm3 0zm-4-1zm1 0zm1 0zm4 0zm-6-1zm2 0zm3 0zm2 0zm-3-1zm-4-2zm1 0zm0-1zm2 0zm-3-1zm0-6zm6 0zm2 4zm1 1zm3 1zm-4 5zm3 0zm-1 1zm-1 2zm1 0zm2 0zm-4 1zm3 0zm2 0zm-2 1zm1 0zm3 1zm-6 2zm-1 2zm4 5zm4 0zm2-8zm1-1zm3-2zm6-3zm-3 8zm9 1zm-2-1zm3-2zm3-14zm4 8zm-2 4zm7 1zm-3 1zm-2 1zm-2 2zm3 3zm9 3zm1-6zm-5-3zm7 0zm0-9zm2-4zm0 10zm5 2zm-3 7zm8-9zm9 6zm8 3zm-2-17zm11 5zm-5 6zm10 2zm1-6z"/><path stroke="#3a8fa3" stroke-opacity="0.48" d="M527 181zm-6-1zm2 0zm1-1zm1 0zm-4-1zm3 0zm1 0zm1 0zm1 0zm0-1zm-7-1zm1 0zm2-1zm-2-1zm1 0zm3 0zm2 0zm-3-1zm1 0zm2 0zm-6-1zm4 0zm1 0zm-4-1zm1 0zm1 0zm1 0zm2 0zm-3-1zm-3-1zm2 0zm1 0zm1 0zm2 0zm-6-1zm1 0zm1 0zm1 0zm3 0zm-5-1zm1 0zm2 0zm-4-1zm2 0zm1 0zm2 0zm-6-1zm2 0zm2 0zm2 0zm1 0zm-7-1zm3 0zm4 0zm-5-1zm5 0zm-6-1zm3 0zm1 0zm2 0zm-3-1zm3 0zm-7-1zm1 0zm1 0zm4 0zm-5-1zm3 0zm-3-1zm0-1zm2 0zm2 0zm2 0zm-3-1zm1 0zm-2-1zm-2-2zm4 0zm2 0zm-6-1zm2 0zm0-1zm-1-1zm3 0zm-1-4zm1-3zm6 0zm0 5zm4 3zm-7 2zm0 1zm4 0zm-4 1zm6 0zm1 0zm-6 1zm2 0zm2 1zm1 0zm-5 1zm1 0zm1 0zm-3 1zm1 0zm2 0zm1 0zm-2 1zm3 0zm0 1zm1 0zm-6 1zm1 0zm1 0zm-1 1zm3 0zm-4 1zm2 0zm3 0zm-5 1zm4 0zm1 0zm-3 1zm-1 1zm-1 1zm2 0zm1 0zm-3 2zm1 0zm-1 1zm1 0zm4 0zm-3 3zm-2 1zm1 2zm7-9z"/><path stroke="#d0a028" stroke-opacity="0.34" d="M501 147zm0 11zm5 2zm0-2zm2 0zm3 0zm-3-6zm-2-1zm3-3zm-1-15zm6-34zm5 40zm-4 1zm2 6zm0 1zm-3 1zm-1 1zm5 1zm-6 3zm3 1zm1 1zm-4 1zm3 0zm1 0zm-1 1zm2 2zm-1 1zm1 0zm1 0zm-5 1zm6 0zm5 6zm1-6zm2 0zm-6-2zm3 0zm3 0zm-5-1zm1 0zm4 0zm-4-1zm0-1zm-3-1zm1 0zm4 0zm2 0zm-6-1zm1 0zm2-1zm0-1zm1 0zm2 0zm-7-1zm7 0zm-6-2zm4 0zm-3-1zm2 0zm-4-1zm3-1zm4-4zm-1-1zm1-1zm-4-2zm-2-14zm7-11zm1 2zm-1 5zm7 16zm-3 5zm-3 2zm-1 3zm2 0zm3 0zm-1 1zm-3 1zm-1 1zm0 1zm2 0zm-1 1zm2 0zm-2 1zm1 0zm2 0zm1 0zm-4 1zm1 0zm3 0zm1 0zm-3 2zm-3 1zm1 0zm1 0zm-2 1zm1 0zm1 0zm2 1zm-3 1zm2 0zm3 0zm-3 1zm4 0zm-4 1zm2 0zm1 0zm1 0zm-7 1zm2 0zm4 0zm-4 2zm-2 3zm4 1zm7 1zm-3-4zm2 0zm-2-1zm4 0zm1 0zm2 0zm-7-1zm1-2zm1 0zm3 0zm-5-2zm3 0zm4 0zm-3-1zm-3-1zm2 0zm-3-1zm2 0zm1-1zm4 0zm-5-1zm-2-1zm0-1zm2 0zm1 0zm3 0zm-1-1zm-5-2zm5 0zm-3-1zm1 0zm-2-1zm6-2zm-2-7zm-3-4zm6 9zm1 5zm-1 3zm2 1zm5 2zm-5 1zm-2 1zm3 1zm-3 1zm1 2zm2 0zm1 2zm-4 1zm6 0zm1 2zm1-5zm3-2zm3-2zm-4-2zm1 0zm0-4zm3-2zm1-1zm3 1zm-2 8zm6 0zm-6 5zm12-2zm2 0zm-5-5zm2-3zm6 1zm3 6zm6-5zm10 5zm-3 3zm5 0zm-5 2zm4 0zm-4 2zm13-6zm-2-3zm2-1zm-5-3zm4-1zm9-2zm-3 6zm0 2zm4 2zm-3 1zm4-1zm1-4zm11-1zm1 6zm6-2zm5-4zm3 2z"/><path stroke="#3a8fa3" stroke-opacity="0.48" d="M522 182zm2 0zm3-2zm-4-1zm1 0zm-3-1zm5 0zm-6-1zm1 0zm1 0zm1-1zm4 0zm-6-1zm3 0zm3 0zm-6-1zm5 0zm-4-1zm5 0zm-6-1zm4 0zm2-1zm-6-1zm2 0zm4 0zm-6-1zm2 0zm1 0zm2 0zm1 0zm-6-1zm1 0zm1 0zm2 0zm1 0zm1 0zm-5-1zm1 0zm3 0zm-5-1zm2 0zm4 0zm-4-1zm3 0zm1 0zm-3-1zm3 0zm-4-1zm1 0zm-3-1zm1 0zm1 0zm1 0zm2 0zm1 0zm-4-1zm1 0zm1 0zm1 0zm1 0zm-6-1zm1 0zm1 0zm1 0zm2 0zm-4-1zm0-1zm3 0zm-4-1zm-1-1zm2 0zm-2-1zm4 0zm2 0zm-2-1zm-1-1zm3 0zm1 0zm-4-1zm0-1zm2-1zm-1-11zm4 5zm1 6zm6 0zm-7 1zm2 3zm1 0zm-2 1zm1 0zm3 0zm1 0zm-6 1zm1 0zm-1 1zm2 0zm-2 1zm2 0zm2 0zm1 0zm-4 1zm1 0zm2 0zm-3 1zm2 0zm1 0zm1 1zm2 0zm-7 2zm1 0zm2 0zm1 0zm-2 1zm-2 1zm1 0zm2 0zm1 0zm-3 2zm1 0zm1 0zm-3 1zm1 1zm1 0zm1 0zm-2 2zm-1 1zm1 0zm1 0zm-1 1zm2 0zm1 5zm4-6zm1-13z"/><path stroke="#d0a028" stroke-opacity="0.34" d="M502 157zm-1 10zm9-10zm1-5zm-2-1zm2-1zm-2-2zm0-3zm2-26zm5 13zm3 9zm-7 3zm2 1zm-1 1zm3 0zm2 0zm1 1zm-2 2zm2 0zm-7 1zm4 0zm2 0zm1 1zm-2 3zm-5 1zm7 0zm-4 3zm1 0zm3 0zm0 1zm-6 1zm4 1zm0 1zm2 1zm-3 1zm2 0zm-3 2zm1 0zm6 0zm5-1zm-6-2zm2-1zm-1-1zm3 0zm-1-2zm-4-1zm1 0zm1 0zm1 0zm-2-1zm6 0zm-7-1zm6 0zm-6-2zm2 0zm1 0zm3 0zm0-1zm-4-1zm2 0zm-3-1zm5 0zm-4-2zm3 0zm2 0zm-4-1zm2-1zm2-1zm-6-1zm0-1zm4 0zm0-1zm0-1zm0-9zm0-11zm2-3zm8-1zm-6 24zm6 0zm-5 4zm2 0zm-4 2zm2 1zm0 1zm2 0zm-1 1zm1 0zm3 0zm-2 1zm1 0zm1 0zm-6 1zm4 0zm-1 1zm1 0zm-2 1zm4 0zm-5 1zm-2 1zm0 1zm3 0zm1 0zm2 0zm1 0zm-7 1zm1 1zm2 0zm1 2zm2 0zm-4 1zm0 1zm1 0zm4 0zm-4 2zm-1 1zm4 3zm5-4zm3-2zm-2-1zm1 0zm-5-1zm7 0zm-3-2zm3 0zm-3-4zm-3-1zm4 0zm2 0zm-3-1zm1 0zm-5-1zm1 0zm2 0zm3 0zm-3-1zm1 0zm3-1zm-2-2zm-1-1zm3-2zm-5-1zm3-6zm-4-2zm7 8zm7 0zm0 2zm-3 3zm-3 4zm4 0zm-5 2zm4 0zm0 3zm3 0zm-7 3zm0 1zm6 0zm6-3zm2 0zm-2-1zm1-1zm-4-2zm0-6zm13-1zm-2 15zm4-7zm4-1zm1 0zm2-4zm6 5zm-4 4zm3 1zm10-4zm-6-4zm4 0zm-3-5zm6-5zm6 8zm-1 3zm1 0zm0 6zm1 0zm3 10zm6-10zm-6-1zm0-4zm6-5zm-2-2zm10-3zm0 14zm-5 2zm9-2zm6-5zm1 0zm3 11zm4-16zm3-1zm4 6z"/><path stroke="#3a8fa3" stroke-opacity="0.48" d="M522 183zm0-3zm4 0zm-5-1zm3-1zm-2-1zm4 0zm-4-1zm3-1zm-3-1zm5 0zm-3-1zm-2-1zm1 0zm3 0zm-4-1zm2 0zm1 0zm-3-1zm5 0zm-5-1zm1 0zm1 0zm1 0zm2 0zm-2-1zm2 0zm-5-1zm4 0zm1 0zm-6-1zm1 0zm5 0zm-6-1zm2 0zm3 0zm-2-1zm2 0zm-1-1zm2 0zm-5-1zm1 0zm1 0zm-4-1zm2 0zm2 0zm1 0zm2 0zm-5-1zm1 0zm1 0zm2 0zm1 0zm-6-3zm5 0zm1 0zm-5-1zm4 0zm-4-1zm5 0zm-4-1zm3-2zm-2-1zm-2-1zm3 0zm-5-1zm2 0zm3 0zm2 0zm-1-1zm1 0zm-2-1zm0-1zm-1-1zm-1-3zm1 0zm5 10zm-1 1zm5 1zm1 0zm-6 1zm2 0zm-1 1zm3 1zm-4 1zm5 0zm0 1zm-4 1zm3 0zm-4 1zm1 0zm2 0zm2 0zm-5 1zm5 0zm-5 1zm2 0zm0 1zm2 0zm1 0zm1 0zm-6 1zm1 0zm3 0zm-3 1zm1 0zm-2 1zm1 0zm-1 1zm2 0zm1 0zm-3 1zm1 0zm0 1zm4 0zm-4 1zm1 0zm3 0zm-5 1zm0 1zm2 0zm-2 1zm2 0zm-1 1zm0 1zm1 0zm4 0zm-5 1zm4 4zm-4 1zm8-12zm-1-9zm1 0zm1-2z"/><path stroke="#d0a028" stroke-opacity="0.34" d="M502 146zm0 6zm7 13zm-1-3zm-1-6zm4-5zm-1-6zm0-3zm7-42zm-1 29zm-2 10zm2 8zm-4 3zm6 0zm-4 1zm2 0zm3 0zm-4 1zm3 0zm-4 1zm4 0zm-5 2zm6 0zm-2 2zm0 1zm-3 1zm4 0zm-1 1zm2 1zm-4 2zm4 2zm5 2zm1 0zm-5-3zm1 0zm0-1zm4 0zm0-1zm0-1zm-5-1zm7 0zm-5-1zm3 0zm-4-1zm6 0zm-2-1zm1 0zm-6-1zm7 0zm-7-1zm1 0zm1 0zm3 0zm1 0zm0-1zm1 0zm-6-1zm1 0zm3 0zm-1-1zm1 0zm1 0zm-5-1zm3 0zm0-1zm1-1zm-4-2zm2 0zm-1-1zm4 0zm-3-1zm-3-2zm3-13zm1-5zm-4-23zm15 25zm-7 14zm1 2zm4 0zm-3 2zm-1 1zm4 1zm1 0zm0 1zm1 0zm-5 1zm5 0zm-3 1zm-4 1zm6 0zm-4 1zm4 0zm-5 1zm-1 1zm1 0zm5 0zm-5 1zm4 0zm-5 1zm2 0zm4 0zm1 0zm-5 1zm1 0zm4 0zm-6 1zm3 0zm-4 1zm7 0zm-7 1zm3 0zm-1 1zm2 0zm-3 1zm-1 2zm11 2zm3 0zm0-4zm-4-1zm1 0zm1-2zm1 0zm-1-1zm1 0zm-4-1zm1 0zm3 0zm-4-1zm4 0zm1 0zm-5-1zm3 0zm-3-1zm1 0zm3 0zm2 0zm-5-1zm3 0zm-5-2zm1 0zm3 0zm3-2zm-2-2zm-5-1zm5 0zm-5-3zm1 0zm6-3zm-4-1zm6-11zm1 22zm2 1zm-2 1zm-2 1zm4 0zm-2 1zm-2 1zm4 0zm-3 1zm3 0zm-2 1zm5 0zm-1 2zm-4 1zm2 1zm-3 1zm6 0zm-7 3zm4 0zm5-9zm-1-3zm6-1zm7 0zm-5 1zm6 2zm-6 11zm13-3zm-2-4zm-2-1zm3-1zm3-16zm3 9zm4 4zm-5 8zm13-9zm0-9zm7 2zm2 4zm-6 8zm8 3zm6-5zm1-2zm2 0zm2 2zm1 4zm-4 3zm7-6zm7-5zm6 7zm3 6zm1-9z"/><path stroke="#3a8fa3" stroke-opacity="0.48" d="M522 181zm5 0zm-3-2zm0-1zm1 0zm1 0zm1 0zm-6-2zm3 0zm-2-1zm2 0zm1 0zm1 0zm-4-1zm3 0zm1 0zm-4-1zm4 0zm0-1zm-6-1zm2 0zm3 0zm1 0zm1 0zm-5-1zm1 0zm1 0zm-2-1zm2 0zm1 0zm-5-1zm1 0zm4 0zm1 0zm-2-1zm2 0zm-4-1zm1 0zm1 0zm-3-1zm2 0zm2 0zm-3-1zm3 0zm-5-1zm1 0zm2 0zm1 0zm1 0zm1 0zm-4-1zm3 0zm2 0zm-1-1zm0-1zm1 0zm-4-1zm3 0zm1 0zm-6-1zm1 0zm2 0zm3 0zm-6-1zm3 0zm0-1zm2 0zm-5-1zm1 0zm1 0zm3 0zm-4-1zm2 0zm-2-1zm1 0zm2-1zm1 0zm1 0zm-6-1zm1 0zm1 0zm3 0zm-2-1zm1 0zm2 0zm-1-1zm1-1zm-1-4zm7-4zm-2 11zm2 3zm-5 1zm1 0zm-1 1zm4 0zm1 0zm1 0zm-6 1zm2 0zm5 0zm-5 1zm-1 1zm3 0zm-4 1zm3 0zm-3 1zm1 0zm3 0zm-4 1zm2 0zm-1 1zm-1 1zm1 0zm1 0zm1 0zm2 0zm-5 1zm1 1zm2 1zm-1 1zm5 0zm-6 1zm1 0zm2 0zm-2 1zm5 1zm-3 3zm3 0zm-3 1zm-4 1zm11-5zm-1-3zm-2-1zm0-18zm0-4z"/><path stroke="#d0a028" stroke-opacity="0.34" d="M502 141zm1 9zm0 9zm5 5zm3-3zm-1-3zm1-1zm-3-13zm11-6zm0 2zm0 1zm-7 6zm4 0zm-3 1zm5 0zm-3 4zm-2 1zm4 0zm-1 1zm2 0zm1 0zm-6 1zm2 1zm1 1zm-3 1zm3 1zm-2 5zm2 2zm8-1zm-3-1zm2-1zm1-1zm2 0zm-1-1zm-4-1zm5 0zm-3-1zm0-1zm1 0zm-3-1zm5 0zm-6-1zm1 0zm1 0zm-1-1zm3 0zm1-1zm1 0zm1 0zm-5-1zm1 0zm0-1zm2 0zm-5-1zm7 0zm-4-1zm-1-1zm2 0zm1 0zm-5-1zm2 0zm1 0zm1 0zm-2-1zm5 0zm-3-2zm3 0zm-4-1zm2-6zm2-2zm-6-2zm3 0zm8-24zm2 27zm-1 4zm0 2zm-2 2zm-3 1zm4 1zm-4 1zm5 0zm-4 2zm1 0zm0 1zm4 0zm-5 2zm6 0zm-3 1zm2 0zm1 0zm-7 1zm3 0zm1 0zm1 0zm1 0zm1 0zm-6 1zm3 0zm1 0zm1 0zm1 0zm-7 1zm1 0zm3 0zm3 0zm-6 1zm-1 1zm7 1zm-7 1zm7 0zm-7 1zm5 0zm-5 1zm1 1zm-1 1zm4 0zm1 0zm4-2zm1 0zm3 0zm-5-1zm0-1zm2 0zm2 0zm1-1zm-5-1zm4 0zm-1-1zm1 0zm-3-1zm2 0zm4 0zm-5-2zm1 0zm-2-1zm2-1zm-1-1zm1-1zm2 0zm-4-1zm4-1zm-2-4zm-3-4zm3-35zm12 32zm0 8zm-6 6zm5 0zm-3 4zm0 1zm2 0zm-1 5zm-4 3zm14 3zm-6-4zm1-4zm1 0zm-2-3zm6 0zm-3-4zm-2-10zm9 3zm-1 4zm-1 2zm5 0zm0 1zm-2 4zm3 0zm1 6zm6-6zm-1-4zm-1-9zm9 6zm-2 3zm0 3zm1 3zm4 4zm8 2zm-2-3zm2-1zm-2-5zm-3-3zm3-1zm-3-15zm8 8zm3 12zm9-5zm8-5zm-4 4zm2 3zm-3 2zm7 6zm5-2zm-3-9zm8-7zm16 3z"/><path stroke="#3a8fa3" stroke-opacity="0.48" d="M523 182zm-2-1zm4 0zm-2-1zm2 0zm-4-1zm1 0zm2-1zm1-1zm2 0zm-5-1zm3 0zm-4-1zm2 0zm-1-1zm3 0zm-3-1zm1 0zm4 0zm-5-1zm2 0zm2 0zm1 0zm-5-1zm1 0zm1 0zm3 0zm-6-1zm1 0zm1 0zm1 0zm1 0zm-2-1zm1 0zm2 0zm-5-1zm2 0zm2 0zm1 0zm1 0zm-6-1zm4 0zm1 0zm-3-1zm1 0zm3 0zm-7-1zm1 0zm1 0zm3 0zm0-1zm-4-1zm1 0zm2 0zm2 0zm1 0zm-6-1zm3 0zm2 0zm1 0zm-3-1zm-1-1zm2 0zm-5-1zm2 0zm0-1zm3 0zm1 0zm-4-3zm1 0zm2 0zm2-1zm-5-1zm3 0zm2 0zm-6-1zm3 0zm3 0zm-5-2zm2-3zm-2-1zm7-5zm-1 3zm4 2zm-4 2zm1 0zm2 4zm0 1zm-3 1zm2 1zm2 0zm-2 1zm2 1zm-1 1zm-2 1zm2 0zm1 0zm-3 1zm5 0zm-6 1zm5 0zm-2 1zm-2 1zm2 0zm-1 2zm1 0zm3 0zm-5 1zm1 0zm0 1zm1 0zm-3 1zm1 0zm3 0zm-4 1zm2 0zm1 0zm4 0zm-5 1zm4 0zm-5 1zm1 0zm-2 1zm0 1zm1 2zm1 0zm0 1zm-1 1zm-1 2zm13-24zm-5-4z"/><path stroke="#d0a028" stroke-opacity="0.34" d="M502 160zm5 0zm3-3zm-3-1zm2 0zm-2-3zm3-3zm0-1zm-4-2zm4-4zm4-25zm2 3zm2 17zm-1 2zm-1 3zm-2 6zm2 0zm1 0zm2 1zm-5 1zm2 1zm2 0zm-1 1zm-4 1zm5 0zm-2 1zm3 0zm-6 1zm2 0zm0 1zm0 1zm-3 1zm5 1zm2 0zm-4 2zm4 0zm1 5zm7-1zm-4-1zm-2-5zm3 0zm1 0zm-5-1zm4 0zm-2-1zm2 0zm2 0zm-6-2zm1-1zm2 0zm4 0zm0-1zm-3-1zm-4-1zm4-1zm-2-1zm5 0zm-2-1zm0-1zm-2-1zm2 0zm-1-1zm-1-3zm1-1zm-2-1zm3-5zm0-3zm-3-1zm-1-2zm0-2zm4-1zm-1-4zm3-2zm-7-1zm4 0zm-1-3zm9 23zm-1 1zm3 0zm1 0zm0 1zm-3 2zm0 1zm-4 1zm6 2zm1 0zm-6 1zm1 0zm-1 1zm-1 1zm2 0zm2 0zm-1 1zm2 0zm1 0zm-4 1zm-2 1zm1 0zm0 1zm3 0zm2 0zm-6 1zm3 0zm-2 1zm1 0zm1 0zm0 1zm1 0zm1 0zm1 0zm-4 1zm5 0zm-3 1zm2 1zm-5 1zm1 0zm3 1zm1 0zm-1 5zm10-1zm-7-1zm2-3zm2-2zm-3-1zm4 0zm-5-1zm1 0zm-1-1zm2-1zm4 0zm-6-1zm4-1zm-3-1zm1-2zm2 0zm3 0zm-3-2zm1 0zm2 0zm-4-1zm0-1zm-1-1zm1-2zm4 0zm-4-6zm1-3zm-1-14zm9 22zm-4 1zm3 6zm1 0zm0 1zm-3 4zm-1 1zm4 1zm-3 4zm4 4zm6 1zm-3-6zm5 0zm-4-1zm3 0zm3-1zm-2-4zm-3-6zm-2-2zm10 4zm2 3zm2 1zm-5 2zm1 2zm2 4zm9 5zm-3-4zm5-10zm2 0zm6 0zm-6 1zm6 5zm0 3zm8-3zm-3-2zm-2-1zm-2-2zm1 0zm9-9zm4 5zm-3 1zm2 5zm9 2zm-3-5zm1-2zm-1-6zm8-5zm-2 12zm6 3zm2 3zm5-5zm0-4zm3-5zm-1 12zm12 6zm1-4zm1-3zm-3-11zm7 11zm34-18z"/><path stroke="#3a8fa3" stroke-opacity="0.48" d="M521 183zm2-2zm0-1zm3-1zm-4-1zm2 0zm-1-2zm4 0zm-5-1zm1 0zm4 0zm-6-1zm1-1zm3 0zm2 0zm-5-1zm2 0zm2 0zm-5-1zm1 0zm1 0zm1 0zm1 0zm1 0zm1 0zm-1-1zm-5-1zm1 0zm1 0zm1 0zm1 0zm2 0zm-6-1zm6 0zm-5-1zm2 0zm3 0zm-5-1zm1 0zm1 0zm3 0zm-4-1zm1 0zm1 0zm-2-1zm1 0zm1 0zm1 0zm-3-1zm3 0zm-5-1zm2 0zm1 0zm2 0zm-3-1zm2 0zm2 0zm-4-1zm2 0zm2 0zm-3-1zm1 0zm2 0zm-6-1zm2 0zm1 0zm2 0zm-2-1zm-3-1zm1 0zm-2-1zm4 0zm2 0zm-4-1zm4 0zm-3-2zm2-1zm0-1zm2-2zm-6-1zm4 0zm0-3zm-4-5zm14 4zm-1 4zm-1 1zm-4 2zm0 2zm2 0zm1 2zm-2 1zm5 0zm-6 1zm-1 1zm2 0zm1 0zm-2 1zm1 0zm2 0zm-4 1zm2 0zm3 0zm1 0zm-4 1zm4 0zm-1 1zm1 0zm-5 1zm5 0zm-6 1zm6 0zm-5 1zm2 0zm-3 1zm2 1zm-1 1zm1 0zm1 0zm1 0zm-4 1zm6 0zm-6 3zm6 0zm-6 1zm0 3zm1 2zm2 0zm6-16zm1 0zm-1-11z"/><path stroke="#d0a028" stroke-opacity="0.34" d="M508 164zm3-3zm-2-12zm-1-6zm8-21zm1 1zm-3 10zm3 7zm-2 2zm-3 2zm4 1zm1 0zm2 0zm-1 2zm-2 1zm-2 1zm5 0zm-4 3zm3 0zm-3 2zm2 0zm-4 1zm-1 4zm5 0zm2 1zm-6 1zm3 0zm1 1zm-3 1zm1 1zm1 0zm2 2zm1 1zm7 0zm-1-2zm-2-1zm4 0zm-4-1zm2 0zm-3-1zm3-1zm0-1zm1 0zm-6-1zm4 0zm2 0zm0-1zm-5-1zm1 0zm1 0zm1 0zm1 0zm-5-1zm3 0zm2 0zm0-1zm1 0zm1 0zm-3-1zm1 0zm-4-1zm4 0zm1 0zm-4-1zm4 0zm-4-1zm5 0zm-3-1zm0-1zm0-1zm0-2zm-4-4zm5 0zm2 0zm-1-2zm0-6zm-5-21zm1-17zm7 18zm0 5zm1 1zm1 0zm2 12zm-2 1zm-3 2zm7 1zm-4 3zm-3 1zm4 0zm2 1zm-6 2zm1 0zm1 1zm2 3zm3 0zm-3 1zm2 0zm-4 3zm-2 2zm3 0zm4 0zm-7 2zm3 0zm1 2zm2 0zm-5 1zm2 0zm0 1zm3 0zm-5 1zm1 1zm3 0zm1 0zm1 1zm-7 1zm7 1zm-6 1zm4 0zm-1 1zm-1 1zm9 0zm0-2zm-3-1zm2 0zm-3-2zm3 0zm-1-1zm-2-2zm2-1zm3 0zm-1-2zm-3-1zm1-2zm3 0zm1-1zm1 0zm-2-1zm-4-1zm6 0zm-1-3zm-5-1zm3 0zm1-2zm-4-7zm8 2zm5 4zm-2 4zm-3 2zm0 1zm5 0zm-4 2zm2 1zm-1 2zm-2 2zm3 1zm-3 2zm5 2zm0 1zm-4 1zm9 0zm1 0zm-4-4zm4-2zm-2-4zm-1-2zm9-2zm5 1zm-3 1zm2 2zm-3 3zm-3 5zm13-3zm-3-1zm-2-5zm6-3zm-4-3zm3-3zm5 9zm13 10zm-7-3zm3-2zm-2-2zm1-1zm3-8zm2-1zm2 0zm0 6zm6 0zm-4 5zm1 0zm-3 4zm5 3zm4-7zm1-3zm5-6zm6 4zm0 2zm-5 10zm11-2zm-1-8zm1-2zm8 3zm13-6z"/><path stroke="#3a8fa3" stroke-opacity="0.48" d="M520 183zm5-1zm-4-1zm3 0zm3 0zm-4-2zm-2-2zm3-1zm2 0zm1 0zm-6-1zm1 0zm2 0zm-3-1zm4 0zm1 0zm-4-2zm1 0zm1 0zm-3-1zm2 0zm2 0zm1 0zm1 0zm-5-1zm2 0zm3 0zm-4-1zm1 0zm3 0zm-7-1zm1 0zm1 0zm2 0zm1 0zm2 0zm-7-1zm1 0zm3 0zm2 0zm-1-1zm1 0zm-5-1zm3 0zm2 0zm1 0zm-6-1zm1 0zm1 0zm1 0zm2 0zm1 0zm-7-1zm3 0zm1 0zm2 0zm1 0zm-4-1zm4 0zm-7-1zm3 0zm3 0zm-5-1zm2 0zm2 0zm1 0zm-2-1zm2 0zm1 0zm-6-1zm2 0zm1 0zm3 0zm-1-1zm1 0zm-1-1zm-3-1zm2 0zm2 0zm-2-1zm-4-1zm4 0zm1 0zm0-4zm-3-1zm0-4zm-3-4zm10-4zm4 7zm-3 6zm1 2zm-2 2zm4 0zm-6 1zm2 0zm2 0zm1 0zm-4 1zm2 0zm-2 1zm1 0zm0 1zm2 0zm0 1zm-4 1zm4 0zm-3 1zm4 0zm2 0zm-7 1zm1 0zm4 0zm-3 1zm4 0zm-4 1zm-2 1zm1 1zm0 1zm1 0zm3 0zm-4 1zm4 0zm-5 1zm1 0zm0 1zm1 0zm1 0zm1 1zm2 0zm-4 1zm0 2zm0 2zm4 1zm-2 5zm6-12zm1-12z"/><path stroke="#d0a028" stroke-opacity="0.34" d="M501 148zm1 4zm0 6zm8 6zm1-3zm-2-1zm-3-1zm1-4zm3-3zm-4-6zm4 0zm0-6zm-3-11zm7 15zm0 1zm1 2zm4 1zm-4 4zm1 1zm-4 1zm3 0zm-2 3zm3 0zm-4 1zm5 0zm2 0zm-7 2zm7 3zm0 1zm0 1zm-1 2zm3 2zm1-2zm2-2zm2 0zm-1-1zm-3-1zm4 0zm0-1zm-6-1zm1 0zm3-1zm3 0zm-2-1zm-1-1zm2 0zm-1-1zm0-1zm1-1zm-3-1zm4 0zm-7-1zm3 0zm1 0zm1 0zm0-2zm-2-1zm4-1zm-1-1zm1 0zm-5-1zm1 0zm1 0zm-2-1zm5-1zm-4-1zm-1-1zm3 0zm0-1zm-2-7zm3-23zm8 7zm1 8zm-4 3zm-3 3zm4 1zm1 2zm-1 3zm2 2zm1 5zm-4 1zm1 0zm-1 1zm1 0zm-2 1zm2 0zm2 0zm1 0zm-4 3zm1 0zm3 0zm-6 1zm2 0zm3 0zm1 0zm0 1zm-5 1zm2 0zm2 0zm1 0zm-3 1zm-3 1zm2 0zm3 0zm-2 1zm2 0zm-4 1zm1 0zm4 0zm-6 1zm2 0zm1 0zm-2 1zm1 0zm1 0zm2 0zm-3 1zm4 1zm-4 1zm2 0zm-5 1zm2 0zm1 0zm2 0zm2 0zm-5 1zm8-3zm2 0zm-2-1zm3-1zm-4-2zm0-1zm2 0zm-2-1zm5 0zm-2-1zm-1-1zm1 0zm3-1zm-5-1zm3 0zm-4-1zm1 0zm5-1zm-3-1zm-4-1zm2 0zm3-2zm-5-2zm2-2zm2 0zm0-2zm-1-7zm11 10zm-5 6zm6 5zm-7 1zm3 0zm3 3zm-2 1zm0 2zm1 2zm8-4zm-4-3zm0-3zm1-1zm4-1zm1-1zm-2-5zm7 13zm7 0zm7-7zm0 5zm-2 4zm10-1zm4-8zm1 0zm-5-1zm-2-1zm10-4zm-2 2zm5 2zm-1 1zm0 1zm-4 3zm3 5zm-2 4zm0 4zm9-16zm-1-2zm8-5zm4 11zm3 3zm0-4zm13-6zm-2 2zm1 1zm10 6zm5 3z"/><path stroke="#3a8fa3" stroke-opacity="0.48" d="M522 183zm2-3zm-1-1zm1 0zm2 0zm-3-1zm3 0zm1 0zm-3-1zm2 0zm1 0zm-2-1zm1 0zm1 0zm-7-2zm4 0zm1 0zm-1-1zm2 0zm-4-1zm-1-1zm6 0zm-5-1zm2 0zm2 0zm1 0zm-6-1zm1 0zm1 0zm2 0zm1 0zm1 0zm-4-1zm4 0zm-5-1zm1 0zm1 0zm1 0zm-2-1zm1 0zm1 0zm1 0zm1 0zm-2-1zm-4-1zm2 0zm2 0zm1 0zm-4-1zm1 0zm1 0zm1 0zm-2-1zm1 0zm1 0zm1 0zm1 0zm-7-1zm2 0zm3 0zm-3-1zm2 0zm2 0zm-4-1zm-1-1zm2 0zm1 0zm-1-1zm3 0zm1 0zm-5-1zm0-1zm5-2zm-4-1zm-1-2zm3 0zm-1-6zm10-4zm-5 5zm3 2zm-2 3zm-2 2zm4 0zm-3 1zm1 0zm-2 2zm1 0zm2 0zm1 0zm2 1zm-5 1zm3 0zm-3 2zm5 0zm-4 1zm4 0zm1 0zm-7 1zm6 0zm-6 1zm1 0zm2 1zm2 0zm-3 1zm2 0zm1 0zm-5 1zm1 0zm-1 1zm3 0zm-3 1zm1 0zm3 0zm-4 1zm2 0zm-2 1zm1 0zm3 0zm3 0zm-7 1zm0 1zm3 0zm1 0zm-3 1zm2 0zm3 0zm-1 1zm-4 1zm4 2zm-5 1zm3 1zm5-26z"/><path stroke="#d0a028" stroke-opacity="0.34" d="M502 145zm0 3zm8 12zm1-2zm-1-2zm-1-1zm-1-9zm4-10zm4 7zm1 1zm0 3zm1 0zm-3 3zm3 0zm-2 1zm1 0zm1 1zm1 2zm-4 1zm3 0zm-4 1zm2 0zm2 0zm-1 1zm1 0zm0 1zm-4 2zm3 0zm-5 1zm6 0zm-2 1zm3 0zm-6 2zm4 0zm8 3zm-1-1zm-2-1zm2 0zm2 0zm-6-1zm4-1zm-3-1zm5 0zm1 0zm-5-1zm-2-1zm4 0zm3 0zm-6-1zm2-1zm2-1zm1-1zm-2-1zm-3-1zm2 0zm2-1zm-2-1zm1 0zm2 0zm-1-1zm-5-1zm5 0zm1 0zm-4-1zm3 0zm1 0zm-5-1zm3-1zm2 0zm-2-1zm2 0zm1 0zm-6-2zm0-16zm-1-8zm7-1zm3-23zm0 24zm4 16zm-1 3zm-1 3zm3 1zm-7 3zm1 0zm-1 1zm4 0zm1 1zm1 2zm1 1zm-5 1zm3 1zm-5 1zm3 0zm-2 1zm2 0zm3 0zm1 0zm-3 1zm-1 1zm2 0zm1 0zm1 0zm-3 1zm-2 1zm1 1zm1 0zm3 1zm0 1zm-4 1zm-1 2zm13-1zm-7-1zm4 0zm-1-1zm0-1zm1-2zm3 0zm-7-1zm3-1zm0-1zm1 0zm-3-1zm1-1zm2 0zm2 0zm-5-1zm3 0zm2-1zm1 0zm-7-1zm1-1zm2 0zm-3-1zm1 0zm1 0zm2 0zm-2-1zm-2-1zm2-2zm2 0zm0-1zm4-3zm4 1zm-4 3zm1 0zm1 1zm-2 3zm2 0zm-2 1zm0 1zm6 2zm-3 1zm4 0zm-2 2zm0 1zm0 1zm0 3zm1 3zm-5 1zm2 2zm8-5zm1 0zm-1-4zm3-1zm0-1zm-3-1zm-1-9zm-1-2zm11 5zm2 0zm-4 3zm2 3zm3 3zm-1 8zm7-5zm1 0zm0-5zm1 0zm1-3zm4 5zm-1 7zm10-12zm-2-5zm12 2zm0 2zm-4 5zm7 6zm-2-5zm0-2zm15 3zm-5 3zm12-1zm-5-6zm3 0zm-3-5zm1-5zm18 20zm-2-15z"/><path stroke="#3a8fa3" stroke-opacity="0.48" d="M524 181zm1 0zm1-1zm1 0zm-2-1zm2-1zm-4-1zm1-1zm-1-1zm2 0zm-3-1zm4 0zm-4-1zm-1-1zm2 0zm2 0zm2 0zm-3-1zm1 0zm1 0zm1 0zm-5-1zm2 0zm3 0zm-4-1zm-2-1zm5 0zm-5-1zm1 0zm1 0zm2 0zm-3-1zm5 0zm-2-1zm-4-1zm2 0zm1 0zm1 0zm1 0zm-4-1zm2 0zm2 0zm1 0zm0-1zm-5-1zm1 0zm1 0zm2 0zm1 0zm-3-1zm2 0zm-5-1zm1 0zm1 0zm4 0zm-6-1zm3 0zm2 0zm1 0zm-5-1zm1 0zm4 0zm-5-1zm3-2zm0-1zm-2-1zm-2-2zm3 0zm3 0zm-6-1zm3-2zm-2-5zm5-2zm-1-5zm3 12zm-1 6zm6 0zm-1 1zm-4 1zm1 0zm5 0zm-3 1zm-2 1zm1 0zm1 0zm3 0zm-5 1zm3 0zm-5 1zm2 0zm1 0zm2 0zm-5 1zm1 0zm2 0zm1 0zm2 0zm-4 1zm1 0zm1 0zm2 0zm-6 1zm3 0zm1 0zm2 0zm-6 1zm0 1zm1 0zm1 0zm5 0zm-2 1zm1 0zm-6 1zm1 0zm0 1zm5 0zm-4 1zm1 0zm1 0zm-3 1zm2 1zm2 0zm-2 1zm-2 1zm1 0zm1 0zm2 0zm0 1zm-3 1zm3 0zm-3 1zm-2 1zm9-4zm-1-14zm1-2zm-1-6z"/><path stroke="#d0a028" stroke-opacity="0.34" d="M509 169zm1-9zm-2-2zm2 0zm-2-2zm-1-1zm1-7zm3-1zm-7-4zm2-8zm11-53zm-3 35zm3 17zm-3 1zm4 0zm-3 8zm3 1zm0 2zm-2 2zm-1 1zm4 0zm-2 2zm-3 3zm-1 1zm6 0zm-7 2zm2 0zm2 0zm2 0zm-1 2zm2 4zm-2 1zm2 0zm2 5zm3-5zm2 0zm-6-1zm5 0zm-5-2zm1 0zm1 0zm1-2zm1 0zm1 0zm0-1zm1 0zm1 0zm-7-1zm5 0zm-5-1zm2 0zm1 0zm3 0zm-2-1zm1-1zm-3-1zm1 0zm3 0zm-5-1zm1 0zm3-1zm1 0zm-3-1zm3-1zm-3-1zm2 0zm2 0zm-5-4zm3 0zm2 0zm-3-1zm2 0zm-5-1zm1 0zm3-7zm0-13zm1-6zm-3-1zm10-16zm-4 20zm3 6zm-1 2zm3 12zm-3 3zm3 1zm-1 1zm1 0zm-2 1zm2 1zm1 0zm-5 1zm1 2zm3 0zm-3 1zm2 0zm-2 1zm2 0zm-3 2zm1 0zm1 0zm1 0zm-2 1zm3 0zm1 0zm-6 1zm4 1zm2 0zm-3 1zm1 0zm2 0zm-7 1zm1 0zm2 0zm0 1zm2 0zm1 0zm-2 1zm-1 2zm3 2zm-3 1zm3 1zm1 1zm-2 2zm4-6zm1 0zm3 0zm-4-1zm4 0zm-3-1zm-2-2zm1 0zm-1-1zm1 0zm3 0zm-3-1zm-1-1zm1 0zm5 0zm-4-1zm-2-3zm4 0zm2 0zm1 0zm-1-2zm-6-1zm2 0zm2 0zm-2-3zm-2-1zm1 0zm1 0zm-2-7zm11 10zm-3 5zm7 1zm-7 1zm7 0zm-5 1zm-1 3zm-1 1zm2 0zm-1 1zm4 0zm-3 1zm2 1zm3 3zm6-6zm-1-9zm1-5zm-5-1zm13-6zm-3 5zm1 9zm0 1zm3 2zm0 3zm1 0zm-5 4zm17-10zm8 4zm-1-2zm8 1zm0 10zm21-22zm-6 8zm6 8zm-6 2zm3 2zm7-1zm-2-1zm9-8zm-2 4zm8-14zm9 2z"/><path stroke="#3a8fa3" stroke-opacity="0.48" d="M522 182zm2-2zm1 0zm1 0zm-1-2zm1 0zm-5-2zm3 0zm1 0zm-3-1zm1-1zm2 0zm2 0zm-5-1zm2 0zm1 0zm1 0zm-3-1zm2 0zm-3-1zm1 0zm1 0zm2-1zm1 0zm-4-1zm2 0zm1 0zm1 0zm-6-1zm1 0zm2 0zm-1-1zm-1-1zm1 0zm1 0zm-3-1zm3 0zm-1-1zm1 0zm1 0zm-4-1zm3 0zm3 0zm-5-1zm1 0zm2 0zm2 0zm-5-1zm0-1zm1 0zm1 0zm3 0zm-3-1zm1 0zm1 0zm1 0zm-6-1zm2 0zm1 0zm1 0zm1 0zm1 0zm-2-1zm2 0zm-3-1zm2 0zm-3-1zm2 0zm0-1zm1 0zm-6-1zm1 0zm5 0zm-6-1zm3 0zm3 0zm-2-1zm1 0zm0-2zm-1-1zm6 0zm1 0zm1 1zm-1 1zm1 0zm-1 1zm-2 1zm6 0zm-1 1zm-6 2zm4 1zm-1 1zm4 0zm-7 1zm2 0zm4 0zm-5 1zm2 0zm-2 1zm1 1zm1 0zm-3 1zm2 0zm1 0zm-2 2zm1 1zm3 0zm2 0zm-6 1zm3 0zm-4 1zm1 0zm3 0zm1 0zm1 0zm-4 1zm1 0zm1 0zm-3 1zm5 1zm-6 1zm1 0zm1 0zm-1 1zm-1 1zm1 0zm1 0zm3 1zm-5 1zm1 0zm-1 1zm4 0zm-2 1zm1 0zm5-4zm0-16zm2-25z"/><path stroke="#d0a028" stroke-opacity="0.34" d="M503 156zm4 7zm0-3zm-1-5zm4-1zm-3-1zm0-1zm0-2zm2-6zm2-11zm5 0zm3 10zm-3 1zm0 2zm2 2zm1 1zm-7 2zm4 0zm1 1zm1 1zm1 0zm0 1zm-6 2zm3 0zm-4 1zm4 1zm3 1zm-1 1zm1 0zm-5 1zm-1 2zm1 3zm2 0zm7-1zm2-1zm0-1zm-4-2zm5 0zm1 0zm-7-1zm7 0zm-6-1zm-1-1zm6 0zm-3-1zm4 0zm-7-1zm6 0zm1 0zm-5-1zm-1-1zm4 0zm2 0zm-5-1zm2 0zm2 0zm1 0zm-1-1zm-3-1zm2 0zm2 0zm0-1zm-6-1zm5 0zm1-2zm-6-6zm2 0zm3-1zm1-1zm-2-2zm1-1zm-4-2zm4-7zm-5-4zm7 19zm4 0zm2 1zm-2 1zm1 0zm-3 1zm-1 1zm3 1zm1 1zm-2 1zm-2 2zm3 0zm2 0zm-6 1zm2 0zm-2 1zm1 0zm1 0zm3 0zm-2 1zm4 0zm-7 1zm2 0zm2 1zm-1 1zm3 0zm-4 1zm5 0zm-4 1zm4 0zm-7 1zm4 0zm2 1zm-5 3zm3 0zm2 1zm5-1zm3 0zm-5-1zm0-1zm4-1zm0-1zm1 0zm1-1zm-7-1zm0-1zm5 0zm-2-1zm3-1zm-5-1zm5 0zm-6-1zm1-1zm1 0zm0-1zm3 0zm-1-1zm2-2zm-5-2zm6-2zm-7-1zm1 0zm2-6zm-2-2zm0-1zm13-1zm-4 12zm-1 3zm0 1zm1 1zm0 2zm-1 2zm-1 1zm6 2zm1 0zm-4 4zm2 3zm4-3zm-1-1zm3 0zm-3-6zm6-3zm-6-3zm5 0zm4 12zm6 0zm3 12zm2-9zm9-15zm-3 3zm5 1zm-3 4zm-2 7zm8-3zm0-2zm1-1zm-2-4zm9-3zm-2 3zm5 1zm1 0zm9 6zm-7-3zm2-3zm1-2zm3-1zm0-2zm-5-1zm7 3zm4 1zm-2 2zm4 5zm7-5zm-4-6zm6 0zm1 12zm5 3zm-3 2zm9-2zm3-2zm-1-1zm-4-4z"/><path stroke="#3a8fa3" stroke-opacity="0.48" d="M525 182zm-4-2zm1-1zm2 0zm-2-1zm2 0zm1 0zm-2-1zm1-1zm-3-1zm1 0zm2 0zm1 0zm-2-1zm-2-1zm3 0zm2 0zm1 0zm-4-1zm3 0zm1 0zm-5-1zm0-1zm1 0zm1 0zm2 0zm1 0zm-7-1zm5 0zm1 0zm-5-1zm2 0zm1 0zm1 0zm1 0zm1 0zm-3-1zm1 0zm1 0zm1 0zm-5-2zm1 0zm2 0zm2 0zm-6-1zm5 0zm-5-1zm1 0zm2-1zm1 0zm1 0zm-2-1zm3 0zm-6-1zm1 0zm5 0zm-3-1zm-1-1zm2 0zm1 0zm-4-1zm2 0zm2 0zm1 0zm-7-1zm1 0zm1-1zm4 0zm-4-1zm2 0zm-1-1zm2-1zm0-2zm-3-1zm1-2zm4 0zm-2-6zm6-9zm0 8zm-3 6zm4 2zm0 2zm3 0zm-3 1zm2 0zm-4 3zm3 0zm-5 2zm5 0zm-5 1zm0 1zm5 0zm1 0zm-1 1zm1 0zm-6 1zm5 0zm-5 1zm0 1zm4 0zm2 0zm-6 1zm2 1zm4 0zm-2 1zm1 0zm-4 1zm5 0zm-5 2zm1 0zm2 0zm-1 1zm2 1zm1 1zm-6 1zm2 0zm3 0zm-5 1zm1 0zm1 0zm1 0zm-1 1zm3 1zm2 0zm-6 1zm-1 1zm4 0zm2 1zm3-1zm-1-13z"/></g></g>
<g clip-path="url(#c5)"><g stroke-width="1.7" stroke-linecap="round" fill="none"><path stroke="#d0a028" stroke-opacity="0.34" d="M501 245zm6 27zm2-13zm2-3zm-5-5zm8-14zm3 0zm-3 2zm2 0zm3 0zm-3 3zm1 0zm-1 1zm0 1zm1 1zm2 0zm-6 3zm1 0zm-2 1zm5 0zm1 2zm0 6zm-3 4zm1 0zm3 2zm-6 3zm11 12zm2-3zm1-6zm-7-1zm1 0zm4 0zm1-2zm0-1zm1 0zm-6-1zm2 0zm-2-1zm5-1zm-4-1zm2-1zm1 0zm-5-5zm1 0zm1 0zm-2-3zm3-1zm1-1zm2-1zm-3-1zm4 0zm-6-1zm4 0zm-2-3zm-3-1zm2 0zm3-3zm1-1zm0-1zm1-1zm-2-2zm2-1zm-1-3zm1-6zm3 1zm-1 8zm6 2zm-6 2zm2 0zm3 0zm-3 1zm-3 2zm7 2zm0 2zm-7 1zm3 0zm-1 2zm2 0zm-1 1zm1 0zm-1 1zm-3 1zm2 0zm3 0zm2 0zm-7 1zm3 1zm3 0zm-2 1zm1 0zm-3 1zm1 0zm3 0zm1 0zm-6 1zm2 0zm1 0zm-2 1zm1 1zm2 0zm-5 1zm3 4zm2 1zm-3 1zm5 1zm-2 2zm-3 1zm3 0zm-5 1zm3 0zm2 3zm-2 1zm8 0zm0-1zm-2-6zm6-1zm-7-3zm3-1zm-2-1zm1-1zm-2-1zm1 0zm1 0zm-1-1zm2 0zm-2-2zm2 0zm1 0zm-1-1zm0-1zm1 0zm-3-1zm0-2zm3 0zm-2-1zm-1-1zm3-3zm-1-2zm-1-2zm2 0zm1-1zm0-2zm2 0zm0-3zm-6-3zm0-2zm12 0zm-2 10zm-3 2zm3 3zm-3 1zm6 1zm-6 4zm7 6zm-2 1zm-2 2zm3 0zm-4 2zm2 1zm1 2zm-5 11zm8 1zm7-17zm-4-1zm-1-1zm5-1zm-1-1zm0-16zm2 16zm7 4zm-2 4zm-3 2zm10-1zm3-1zm-7-1zm1 0zm9-11zm0 11zm-2 3zm3 6zm11-9zm-2-2zm-2-1zm11-6zm-4 2zm6 4zm-3 9zm8-4zm-4-6zm6 0zm5-6zm4 10zm-1 3zm0 1zm9 2zm-5-6zm2-3zm1-6zm5 4zm7 10zm-1-1z"/><path stroke="#3a8fa3" stroke-opacity="0.48" d="M527 270zm-5-2zm-2-1zm5-1zm-3-1zm2-3zm2-1zm1 0zm-6-1zm1 0zm-1-2zm1 0zm2 0zm2 0zm-6-2zm1 0zm2 0zm3 0zm-4-1zm2 0zm1 0zm1-1zm1 0zm-7-1zm3 0zm-1-1zm1 0zm3-1zm-5-1zm1 0zm1-1zm1 0zm1 0zm1 0zm1 0zm-6-1zm2 0zm1 0zm2 0zm-6-1zm3 0zm1 0zm1 0zm1-1zm1 0zm-4-1zm2 0zm2 0zm-7-3zm3 0zm3 0zm-4-1zm5 0zm-6-1zm2 0zm1 0zm3 0zm-5-1zm4-1zm-5-2zm3 0zm3 0zm-3-2zm-2-1zm1 0zm1 0zm2 0zm1-1zm-5-1zm1 0zm-2-1zm1-1zm3 0zm-5-1zm1 0zm1-1zm1 0zm-2-1zm5-1zm-5-4zm1 0zm4-2zm-2-9zm-3-1zm1 0zm1-5zm5 24zm0 1zm0 1zm1 4zm-1 1zm0 2zm1 2zm1 0zm-2 1zm4 1zm-4 1zm3 0zm1 0zm0 1zm-3 1zm4 0zm1 0zm-5 1zm1 0zm-2 1zm2 0zm-1 3zm0 1zm1 0zm0 1zm-1 1zm1 0zm1 0zm-2 1zm1 0zm3 0zm1 0zm-5 2zm1 0zm-2 2zm6 0zm1 0zm-4 1zm1 0zm1 0zm2 0zm-4 1zm-1 1zm2 0zm1 1zm-5 1zm3 0zm1 0zm1 0zm2 1zm-6 4zm2 1zm8 7zm-2-10zm0-3zm-1-1z"/><path stroke="#d0a028" stroke-opacity="0.34" d="M502 269zm5-4zm1-3zm11-38zm-2 8zm-2 2zm2 3zm-5 1zm5 0zm-3 3zm2 5zm1 0zm1 1zm-6 1zm2 1zm4 0zm-2 1zm1 0zm2 0zm-5 2zm0 3zm5 0zm0 1zm-2 2zm2 8zm1 11zm2-1zm5-4zm0-4zm-3-1zm-3-3zm2 0zm4-1zm-1-1zm-3-1zm3 0zm-4-1zm-1-1zm2 0zm1-2zm0-2zm3 0zm-6-1zm3 0zm0-1zm-2-2zm1-1zm3-1zm0-1zm-2-3zm3 0zm-6-2zm4-2zm1 0zm0-1zm-6-2zm14-13zm1 2zm-1 1zm0 3zm-3 1zm4 1zm-2 7zm1 0zm1 0zm-4 2zm-2 1zm1 0zm5 3zm-6 1zm2 0zm1 0zm3 0zm-4 1zm-3 1zm1 0zm1 2zm3 0zm-4 1zm0 1zm5 0zm-6 2zm2 0zm1 0zm4 0zm-2 2zm2 0zm-2 1zm-1 1zm-2 1zm1 0zm1 0zm1 0zm0 1zm-4 2zm2 0zm2 0zm1 0zm-2 1zm2 0zm-3 1zm1 0zm2 0zm-6 4zm2 1zm-2 1zm4 4zm3 0zm1 2zm4 0zm-4-1zm0-9zm5-4zm-4-3zm2-2zm2-2zm-5-3zm2-2zm1 0zm-3-1zm2 0zm-2-1zm7 0zm-4-1zm4 0zm-2-1zm-1-1zm-4-3zm1 0zm1-1zm1-1zm1 0zm-1-1zm-1-6zm2-1zm-3-1zm8 1zm5 5zm-6 4zm2 8zm-2 2zm7 1zm-6 1zm1 0zm0 4zm3 2zm2 0zm-3 9zm-3 2zm6 3zm-5 4zm11-8zm-5-3zm4 0zm3-1zm-6-3zm5 0zm-3-1zm2-2zm0-4zm-2-9zm7 6zm5 11zm-3 1zm6 2zm-2-2zm0-4zm1-1zm2-1zm1-2zm11 3zm-3 1zm3 1zm-4 3zm-2 4zm9-1zm5 0zm-6-7zm-1-4zm2 0zm6 1zm6 3zm-4 1zm3 1zm8 0zm-1-3zm5 0zm3 2zm0 1zm0 5zm6 0zm3 0zm-4-2zm4 0zm4-12zm-1 12zm2 1zm3 12zm9-5zm-6-7zm6-10z"/><path stroke="#3a8fa3" stroke-opacity="0.48" d="M525 267zm2 0zm-6-1zm0-1zm5 0zm-2-1zm3 0zm-6-1zm3 0zm-2-1zm2 0zm2 0zm0-1zm1 0zm-3-1zm-1-1zm3 0zm-6-1zm4 0zm0-1zm3 0zm-5-2zm0-1zm-1-1zm3 0zm3 0zm-6-1zm3 0zm3 0zm-6-1zm1 0zm1 0zm1 0zm3 0zm-4-1zm1 0zm1 0zm-1-1zm1 0zm2 0zm-3-2zm3 0zm-6-1zm1 0zm1 0zm1 0zm1 0zm2 0zm-1-2zm-4-1zm2-1zm3 0zm-5-1zm1 0zm2 0zm2 0zm-6-1zm3 0zm2 0zm-4-1zm1 0zm1-1zm3 0zm-2-1zm1 0zm1 0zm-1-1zm1 0zm-4-1zm4 0zm-1-1zm-1-1zm1 0zm-1-1zm-4-1zm2 0zm1 0zm2-1zm-5-1zm0-1zm3 0zm2-1zm-5-2zm4 0zm-4-2zm4 0zm0-1zm-2-4zm3 0zm-4-3zm4-2zm-3-2zm-1-1zm1 0zm-1-3zm3 0zm7 15zm-4 8zm1 0zm1 1zm3 2zm-5 2zm0 1zm2 3zm3 0zm-4 1zm-1 1zm3 0zm3 0zm-2 1zm-3 1zm1 0zm-1 2zm1 0zm-2 1zm0 2zm2 1zm3 0zm-5 1zm1 1zm1 1zm-1 1zm3 0zm2 0zm1 1zm-5 1zm0 1zm1 0zm4 0zm-5 1zm1 1zm2 1zm-4 1zm5 2zm1 0zm-7 1zm4 0zm-2 1zm3 2zm-5 1zm9 1zm-1-1zm2-3zm-2-7z"/><path stroke="#d0a028" stroke-opacity="0.34" d="M506 273zm2-6zm0-1zm-1-4zm2-5zm-2-2zm3 0zm1-2zm-5-2zm3-4zm1-3zm-3-2zm3-5zm0-2zm6-1zm-4 6zm6 4zm1 0zm-7 4zm6 1zm1 2zm-3 1zm1 1zm1 0zm-3 1zm2 0zm-3 1zm2 0zm1 0zm1 3zm-3 3zm1 0zm-2 1zm1 1zm3 0zm1 0zm-3 1zm3 0zm-5 3zm1 3zm-1 2zm8-1zm-1-1zm3 0zm2 0zm-4-2zm1 0zm1 0zm1 0zm0-1zm1 0zm-2-1zm3 0zm-6-2zm5-1zm-3-1zm-3-1zm5-1zm-4-2zm6-1zm-5-1zm1-1zm3 0zm-3-3zm1-1zm2 0zm1-3zm-4-1zm3 0zm-1-3zm2-1zm-7-2zm4 0zm3 0zm-7-1zm4-2zm3-2zm-4-2zm2-1zm2 0zm0-3zm3 2zm0 2zm4 1zm-6 2zm3 0zm0 3zm-2 2zm5 3zm-1 2zm1 0zm1 0zm-4 1zm2 0zm2 1zm-5 1zm3 0zm-4 1zm5 2zm-5 1zm1 0zm-2 1zm3 0zm-1 1zm4 1zm-6 2zm1 0zm6 0zm-6 1zm1 0zm2 0zm1 1zm-5 1zm1 0zm4 0zm1 1zm-2 2zm-4 1zm5 2zm-5 1zm5 2zm1 4zm-6 2zm9-2zm1 0zm-2-5zm5 0zm-3-5zm2 0zm1 0zm-2-3zm2 0zm-4-2zm1 0zm5-1zm-6-1zm-1-1zm1 0zm3 0zm3 0zm-5-1zm1 0zm-2-1zm4 0zm-4-5zm3 0zm-4-2zm1-10zm2-14zm6 16zm6 5zm-7 1zm1 1zm2 2zm1 0zm-3 4zm-1 2zm1 1zm0 3zm3 3zm0 1zm-3 2zm5 2zm-5 3zm10-4zm3-2zm-5-4zm-1-1zm0-2zm5 0zm-5-4zm2-5zm4 0zm4 5zm4 5zm1 2zm-2 2zm8 6zm2 0zm0-4zm-1-8zm2-3zm3 9zm-1 2zm2 3zm-3 4zm14-6zm-6-5zm9-1zm3 0zm0 6zm0 1zm6 0zm4-7zm-6-2zm11 2zm1 7zm1 1zm2 5zm8-13zm6 9zm-1 7zm6-3zm3-9z"/><path stroke="#3a8fa3" stroke-opacity="0.48" d="M524 269zm-2-4zm4 0zm-4-2zm1 0zm-1-2zm0-2zm5 0zm-5-1zm2-1zm2 0zm-4-1zm2 0zm1 0zm-3-1zm2 0zm1 0zm-4-1zm3 0zm1 0zm-3-1zm-2-1zm5-1zm0-1zm1 0zm1 0zm-7-1zm7 0zm-3-1zm2 0zm-3-1zm2 0zm2 0zm-5-1zm1 0zm3 0zm1 0zm-4-1zm1 0zm2 0zm-5-1zm1 0zm3 0zm-3-1zm3 0zm1 0zm-4-1zm3 0zm2 0zm-5-1zm4 0zm-2-1zm2 0zm1 0zm-3-1zm1 0zm1 0zm-3-1zm1 0zm2 0zm-3-1zm3 0zm1 0zm-6-1zm3 0zm2 0zm-5-2zm3 0zm3 0zm-4-1zm4 0zm-5-1zm2 0zm0-1zm1 0zm-2-1zm2 0zm0-2zm1-1zm-3-1zm4-1zm-6-1zm2-1zm-1-2zm-1-1zm2-2zm1-1zm0-1zm4 13zm2 2zm1 1zm-3 4zm1 0zm0 4zm4 0zm-4 3zm1 0zm0 1zm1 0zm-3 1zm2 0zm-1 1zm1 1zm-2 1zm1 0zm0 1zm1 0zm2 0zm-4 1zm2 0zm-2 1zm2 0zm1 0zm-1 1zm3 1zm-5 1zm1 0zm-1 1zm3 0zm-3 1zm2 0zm1 0zm-2 1zm2 0zm2 0zm-4 1zm5 1zm1 0zm-5 2zm-1 1zm1 0zm2 0zm0 2zm-3 2zm2 0zm-3 1zm2 1zm5 0zm2-11zm-1-2zm1-1z"/><path stroke="#d0a028" stroke-opacity="0.34" d="M502 259zm0 4zm9 5zm-5-2zm4-3zm-3-8zm3-2zm0-3zm1-2zm-2-5zm1-4zm-3-1zm3-4zm9-8zm-7 12zm3 3zm-2 2zm2 0zm4 1zm-7 1zm1 1zm4 0zm0 1zm0 3zm-3 2zm5 0zm-4 1zm1 0zm3 0zm-6 1zm4 0zm-5 1zm1 2zm0 1zm6 1zm-6 1zm1 0zm1 0zm1 1zm-1 2zm4 1zm-3 1zm3 3zm-3 1zm-1 8zm9-5zm1 0zm1 0zm-3-1zm3-1zm0-3zm-6-3zm5 0zm-2-4zm0-1zm2-1zm1 0zm1-1zm-7-1zm3 0zm1 0zm-4-2zm1 0zm4 0zm1 0zm-4-1zm0-1zm1 0zm-2-1zm1 0zm1 0zm4 0zm-5-1zm-2-2zm6 0zm-6-2zm2-1zm1-1zm1 0zm-2-1zm3-1zm2-2zm-3-4zm-3-3zm2 0zm7-2zm2 3zm-1 2zm1 1zm3 2zm-6 1zm3 0zm-2 1zm1 1zm3 1zm-3 1zm4 0zm-5 3zm4 0zm-5 1zm6 2zm-6 2zm6 0zm-2 1zm-2 1zm-2 2zm2 0zm1 1zm2 2zm-4 1zm-1 1zm5 0zm1 0zm-4 1zm4 0zm-7 1zm4 1zm2 0zm1 1zm-5 1zm-1 1zm0 1zm2 2zm1 0zm4 8zm4-9zm1-1zm-4-1zm0-1zm1 0zm2 0zm3 0zm-5-1zm4 0zm-4-2zm2 0zm-4-3zm0-1zm0-4zm1 0zm2 0zm-3-2zm1 0zm1-1zm-1-1zm6 0zm-1-1zm-1-2zm-5-1zm4 0zm-3-1zm4-2zm-2-4zm-2-4zm3-1zm-3-4zm8 16zm4 3zm-5 2zm3 5zm0 7zm2 0zm-1 1zm3 1zm-2 1zm8-1zm-2-2zm-3-1zm1-7zm13 7zm1 1zm5-5zm-1-10zm5 14zm1 7zm7-6zm5-2zm2-1zm7-7zm-1 10zm1 0zm-4 8zm6-8zm9-5zm2 4zm1 2zm-2 2zm0 2zm3 3zm9-1zm-6-1zm2 0zm5 0zm-7-2zm1-4zm0-2zm3-3zm7 3zm2 0zm-1 6zm5 2zm2-6zm0-6zm8 12z"/><path stroke="#3a8fa3" stroke-opacity="0.48" d="M521 268zm3-1zm2-5zm0-2zm-3-1zm0-1zm1 0zm1 0zm-3-1zm1 0zm1-1zm3 0zm-6-1zm2 0zm-2-1zm1 0zm1 0zm3 0zm-2-1zm2 0zm-2-1zm1 0zm-2-1zm1 0zm-3-1zm1 0zm1 0zm-2-1zm3 0zm1 0zm2 0zm-7-1zm6 0zm-5-1zm3-1zm2 0zm-4-1zm5 0zm-2-1zm2-1zm-2-1zm2 0zm-4-1zm3 0zm1 0zm-5-1zm3 0zm-1-1zm-3-1zm2 0zm4 0zm-1-2zm-3-1zm4 0zm-4-1zm2 0zm-4-1zm1 0zm2-1zm1 0zm2 0zm0-1zm-3-1zm2 0zm-5-1zm3 0zm1 0zm2 0zm-1-1zm1-1zm-4-1zm4 0zm-3-1zm3 0zm-4-2zm1 0zm3-2zm-6-1zm2-1zm0-1zm0-1zm1 0zm2 0zm-6-1zm2 0zm2-5zm-2-1zm2 0zm5 11zm4 1zm-5 2zm1 4zm0 3zm0 1zm-1 1zm0 1zm0 3zm1 0zm5 3zm-3 1zm-2 1zm1 2zm-2 2zm0 1zm1 0zm1 0zm2 0zm-4 1zm1 0zm3 0zm1 0zm0 1zm1 0zm-2 1zm-3 1zm0 1zm1 0zm1 0zm-2 1zm-1 2zm1 0zm3 0zm1 0zm-2 2zm-3 2zm5 1zm-5 1zm5 0zm-2 2zm0 1zm2 1zm-4 1zm1 0zm2 3zm4-14zm0-2zm1-2z"/><path stroke="#d0a028" stroke-opacity="0.34" d="M510 269zm-2-8zm2 0zm1-6zm-2-1zm-1-6zm2-4zm-6-2zm5-1zm-1-4zm1 0zm10-7zm0 5zm-3 1zm3 1zm-1 1zm-1 2zm0 3zm-2 1zm4 0zm-5 1zm2 0zm3 1zm-5 1zm2 0zm1 1zm-2 1zm-3 1zm4 1zm1 0zm1 0zm1 2zm-4 3zm4 0zm-1 1zm1 0zm-6 2zm5 2zm-5 7zm1 0zm3 2zm8 2zm-1-1zm-4-1zm1 0zm5 0zm-4-1zm2-3zm-3-1zm-1-3zm7-1zm-2-2zm1 0zm-5-1zm0-1zm4 0zm-1-1zm-3-1zm4-1zm1 0zm-5-2zm1 0zm1 0zm-1-1zm-2-1zm5 0zm1-1zm0-2zm-3-1zm2 0zm0-1zm-4-1zm3 0zm-3-4zm2-3zm4 0zm-1-6zm-3-2zm9 0zm-4 2zm1 0zm0 2zm3 6zm2 0zm-2 1zm2 2zm-2 1zm-2 2zm1 0zm1 0zm1 0zm2 0zm-4 2zm-3 1zm4 0zm-4 2zm3 0zm1 0zm-3 1zm2 1zm3 1zm-6 1zm4 0zm3 1zm-5 1zm2 0zm0 1zm1 2zm-2 1zm0 1zm-3 1zm1 0zm1 0zm1 2zm2 0zm1 2zm-2 1zm-1 2zm0 3zm-2 1zm4 4zm-5 1zm8-6zm2-9zm4 0zm-6-1zm4 0zm-2-2zm4-1zm-6-2zm2-1zm1 0zm4 0zm-7-1zm2 0zm4 0zm-6-1zm7-2zm-5-1zm-2-1zm3-2zm-2-3zm4-2zm1 0zm-4-1zm-2-1zm6-5zm-2-1zm1-2zm-3-4zm12 3zm-5 8zm3 4zm3 3zm-7 2zm1 0zm6 5zm-1 4zm-3 1zm-3 2zm5 0zm2 2zm4 1zm1-1zm-3-1zm0-2zm3 0zm-1-4zm4-9zm5 10zm-1 6zm0 5zm10-2zm-3-1zm5-4zm-1-1zm2-1zm10 14zm2-2zm-4-4zm1 0zm5-3zm8 1zm-1 2zm-3 3zm-1 7zm13-7zm-6-3zm6-9zm-4-1zm1-5zm10 2zm-5 16zm1 4zm1 1zm10-4zm-3-9zm12-1zm-5 3zm10 4zm8-3zm-1 6zm35-4z"/><path stroke="#3a8fa3" stroke-opacity="0.48" d="M523 270zm4-2zm-3-1zm1-2zm2-1zm-5-2zm1 0zm-1-1zm0-1zm2 0zm-3-1zm1 0zm2 0zm2 0zm-4-1zm2 0zm1 0zm-4-1zm6 0zm-6-1zm1 0zm1 0zm2 0zm-2-1zm2-1zm2-1zm-4-1zm4 0zm-6-1zm4 0zm1 0zm-5-1zm4 0zm2 0zm-2-1zm-1-1zm1 0zm1 0zm-2-1zm3 0zm0-1zm0-1zm-6-1zm3 0zm3 0zm-4-1zm1 0zm1 0zm-1-1zm3 0zm-5-1zm1 0zm2 0zm2 0zm-6-1zm1 0zm3 0zm1 0zm-2-1zm2-1zm-5-2zm1 0zm2 0zm3-1zm-6-1zm1 0zm1 0zm1 0zm3 0zm-2-1zm1 0zm-2-1zm-3-1zm5 0zm1 0zm-5-1zm2 0zm2 0zm1 0zm-2-1zm-1-3zm2-1zm-2-1zm0-5zm-1-1zm-1-4zm2-1zm-2-4zm1-2zm-2-1zm8 24zm0 4zm1 0zm2 0zm-2 2zm3 0zm1 2zm-5 2zm0 1zm2 0zm0 1zm1 1zm1 0zm-5 1zm3 0zm-2 2zm1 0zm1 0zm1 0zm-2 1zm2 0zm-1 1zm1 0zm-4 1zm2 0zm-1 1zm2 0zm1 0zm-3 1zm2 0zm-2 2zm-1 1zm6 0zm-4 1zm1 0zm2 0zm1 0zm-6 1zm7 0zm-1 1zm-3 1zm1 0zm-2 1zm1 2zm3 1zm-5 2zm6 0zm-5 2zm-2 3zm8-4zm0-3z"/><path stroke="#d0a028" stroke-opacity="0.34" d="M502 239zm0 6zm0 1zm5 28zm-1-11zm5-10zm-3-3zm2-1zm-3-7zm1 0zm0-1zm0-7zm4-1zm4 0zm2 4zm1 3zm-6 2zm5 0zm-3 1zm4 1zm-1 1zm-2 2zm1 0zm-5 2zm2 0zm-2 1zm3 0zm4 0zm-3 3zm3 0zm-4 3zm3 3zm-2 6zm2 3zm-2 1zm-4 7zm11 2zm1 0zm-3-7zm1 0zm2-1zm2-1zm1 0zm-1-1zm-6-1zm3-1zm2 0zm-5-1zm6 0zm-5-5zm-1-1zm1-2zm6-1zm-6-2zm6 0zm-4-1zm3 0zm-3-1zm4 0zm-5-1zm2 0zm1 0zm-1-1zm0-1zm-3-1zm4 0zm1 0zm-1-2zm2 0zm-7-1zm1 0zm4 0zm-5-1zm3 0zm3 0zm-1-8zm1 0zm-4-1zm10-3zm2 1zm-3 1zm-2 7zm4 0zm-4 1zm0 1zm-1 2zm1 0zm5 0zm-3 1zm-3 1zm1 0zm2 0zm2 0zm2 0zm-2 1zm-4 1zm1 0zm1 0zm-3 1zm3 0zm1 0zm1 0zm2 0zm-5 3zm4 0zm-2 1zm1 2zm-1 1zm-1 1zm3 0zm1 1zm-6 1zm4 1zm-3 1zm4 0zm1 1zm-7 1zm2 0zm1 1zm2 0zm2 0zm-6 1zm3 0zm0 2zm2 0zm0 1zm-6 1zm1 1zm0 4zm14-7zm-2-1zm0-3zm-4-4zm0-2zm2 0zm4 0zm-2-2zm-3-1zm3 0zm-5-1zm5 0zm-5-4zm7 0zm-4-2zm3 0zm-3-2zm3-2zm-4-4zm4-2zm9 0zm-1 5zm-5 3zm0 2zm6 0zm-3 5zm-4 4zm0 3zm7 0zm-5 1zm4 1zm-3 2zm-3 1zm2 1zm0 3zm1 0zm-3 8zm8-3zm2-8zm2-2zm0-2zm-2-1zm4 0zm-5-1zm3-1zm-3-1zm-1-6zm0-12zm14 19zm1 1zm0 5zm1 1zm5-7zm5 3zm2 1zm-4 4zm2 4zm6-2zm7-7zm-6-3zm3-2zm6 2zm3 0zm-2 3zm0 1zm0 3zm11-5zm7 3zm5 11zm-1-11zm14 2zm-3 4zm6 3zm-2-12zm10 0z"/><path stroke="#3a8fa3" stroke-opacity="0.48" d="M522 268zm1-1zm2-3zm-1-1zm-1-1zm4 0zm-2-1zm-1-1zm-3-2zm2-1zm4 0zm-5-1zm3 0zm2 0zm-7-1zm3 0zm-1-1zm3 0zm-3-1zm1 0zm-1-2zm1 0zm2 0zm0-1zm2 0zm0-1zm-5-1zm1 0zm1 0zm-2-1zm2 0zm2 0zm1 0zm-4-1zm1 0zm3 0zm-7-2zm2 0zm1 0zm2-1zm-3-1zm4 0zm1 0zm-7-1zm5 0zm2 0zm-5-1zm2 0zm1 0zm2 0zm-2-1zm2 0zm-1-1zm-3-1zm-1-1zm4 0zm-5-1zm1 0zm1 0zm3 0zm1 0zm-6-1zm1 0zm5 0zm-5-1zm2-1zm-1-1zm-2-1zm5 0zm-3-1zm4-1zm-3-3zm1-1zm-1-1zm0-2zm-2-2zm4-2zm-4-2zm1 0zm-1-5zm3-2zm-5-4zm1-11zm3 0zm1-4zm5 37zm-1 5zm-1 1zm0 1zm0 4zm1 0zm1 0zm-1 1zm0 1zm2 1zm-3 3zm1 0zm-1 1zm7 0zm-4 1zm1 0zm1 0zm-1 1zm2 0zm1 1zm-7 1zm2 0zm5 0zm-7 1zm1 1zm1 0zm2 0zm-1 1zm1 0zm-4 1zm2 0zm4 0zm1 0zm-6 2zm1 0zm1 1zm-2 1zm5 0zm-6 1zm2 0zm-2 1zm4 0zm-2 1zm4 0zm1 0zm-3 1zm-4 1zm0 2zm6 0zm-1 1zm-5 1zm2 0zm0 2zm7-1zm0-3zm0-3zm1-5zm-2-6z"/><path stroke="#d0a028" stroke-opacity="0.34" d="M501 270zm8-5zm2-1zm-3-4zm0-6zm1 0zm2-1zm-3-6zm3-7zm-1-4zm-5-18zm13 22zm-2 1zm-4 2zm0 2zm2 0zm0 3zm0 1zm5 0zm0 1zm-4 1zm2 0zm-2 1zm4 1zm-1 1zm0 1zm-2 3zm-2 4zm1 4zm-1 2zm4 1zm-2 5zm6 5zm4-2zm-3-2zm0-2zm0-1zm2 0zm2-2zm-6-2zm1-1zm0-2zm2 0zm-4-1zm1-2zm4-1zm-1-1zm3 0zm-7-1zm4-1zm-4-1zm5 0zm2-1zm-6-1zm5-1zm-3-1zm2 0zm2-1zm0-2zm-6-2zm-1-2zm7 0zm-1-2zm-3-1zm2 0zm-3-1zm3 0zm2 0zm-1-3zm1-1zm-7-1zm3-1zm-3-3zm3 0zm2 0zm0-1zm-5-1zm7-8zm-3-1zm11 9zm-4 2zm0 5zm-1 1zm2 1zm0 3zm-4 2zm7 0zm-4 1zm-2 1zm3 0zm3 0zm-1 1zm-5 1zm0 1zm1 0zm1 0zm0 2zm-3 1zm2 0zm3 0zm-3 1zm0 1zm2 1zm2 1zm-4 2zm-2 1zm6 0zm0 2zm1 3zm-7 1zm3 0zm-2 1zm1 1zm1 0zm-1 1zm5 0zm-6 1zm1 1zm-2 1zm6 1zm-1 5zm5-7zm2-2zm0-1zm3-4zm-3-1zm0-1zm1 0zm-1-1zm2 0zm-4-1zm1 0zm2 0zm1 0zm-3-1zm-3-1zm3-1zm2 0zm-5-2zm3 0zm-1-1zm0-1zm-1-1zm3-2zm-3-1zm0-5zm4 0zm-4-1zm0-1zm-1-1zm0-1zm3-1zm-1-3zm4-9zm7 5zm-3 16zm4 3zm-1 5zm-4 3zm1 0zm-1 5zm6 2zm-5 2zm6 10zm7-14zm-2-4zm-4-5zm13 6zm7 8zm-1-4zm2-1zm-6-4zm2-2zm10 2zm-3 3zm-1 6zm2 1zm11-3zm-5-2zm1 0zm-1-6zm5-4zm4 5zm0 1zm5 4zm-6 1zm3 0zm4 1zm0 3zm6-1zm-2-4zm2-1zm4-17zm5 23zm1 0zm-3 2zm8-4zm1-3zm1-5zm3 2zm4 9zm13-8z"/><path stroke="#3a8fa3" stroke-opacity="0.48" d="M522 269zm0-3zm4-2zm-2-2zm-3-1zm2 0zm-2-1zm4 0zm-4-1zm5-1zm1 0zm-6-1zm3 0zm1 0zm2 0zm-6-2zm4 0zm-1-1zm2 0zm1 0zm-4-1zm1 0zm2 0zm1 0zm-5-1zm1 0zm3 0zm0-1zm-6-2zm3 0zm1 0zm-3-1zm0-1zm2 0zm3 0zm1 0zm-7-2zm1 0zm5 0zm-3-1zm4 0zm-5-1zm3 0zm2-3zm0-1zm-3-1zm1 0zm1 0zm1-1zm-3-1zm1 0zm2 0zm-7-3zm3 0zm1 0zm2 0zm0-1zm-2-1zm1 0zm-3-1zm3 0zm-3-1zm5 0zm-7-1zm5 0zm-2-1zm2 0zm-2-1zm3 0zm-3-1zm1 0zm-1-1zm1-1zm-2-1zm0-1zm1 0zm-1-1zm-2-2zm4 0zm1 0zm-1-3zm-2-2zm0-1zm0-3zm4 0zm-5-5zm1 0zm2-9zm4 34zm1 0zm3 2zm-1 1zm-3 1zm4 1zm-2 1zm-2 2zm2 1zm1 0zm3 0zm-6 1zm2 0zm-2 2zm2 0zm-2 1zm3 1zm3 0zm-6 1zm0 1zm2 0zm-2 2zm1 0zm0 1zm1 0zm1 0zm0 1zm2 0zm-3 1zm2 0zm-1 1zm2 0zm-4 1zm4 0zm1 0zm-4 1zm-1 1zm1 0zm1 0zm-3 2zm2 0zm4 0zm-3 2zm1 0zm2 0zm-6 1zm5 0zm-3 1zm3 0zm-1 1zm1 0zm1 0zm-2 1zm3 0zm-5 1zm0 1zm-1 4zm3 1zm2 0zm3-1zm0-8zm-1-9z"/><path stroke="#d0a028" stroke-opacity="0.34" d="M507 262zm0-1zm4-9zm-2-2zm0-1zm1 0zm1-2zm0-1zm-2-2zm-1-12zm7 6zm1 2zm1 0zm-5 4zm3 2zm4 0zm-7 3zm2 1zm2 2zm1 1zm1 0zm-4 1zm3 0zm1 0zm-1 1zm-1 1zm0 2zm1 0zm2 1zm-2 1zm-4 2zm0 1zm5 0zm-6 5zm7 1zm-4 1zm12 9zm-3-5zm3-1zm-3-1zm0-1zm-3-1zm6 0zm-7-3zm3 0zm-2-2zm4 0zm1-1zm-6-2zm4 0zm-2-3zm1 0zm1-1zm3 0zm-7-1zm1-1zm-1-1zm1 0zm3 0zm0-1zm1 0zm0-1zm1 0zm-5-1zm1 0zm-2-2zm2-1zm5 0zm-5-3zm4-2zm-3-5zm3 0zm1 0zm-3-1zm3 0zm-6-1zm3-7zm4 0zm5 2zm-1 3zm2 3zm-6 3zm4 2zm-3 1zm4 0zm-2 2zm-3 2zm2 0zm5 0zm-1 1zm1 0zm-1 1zm1 1zm-4 2zm1 0zm2 0zm-4 3zm2 2zm0 1zm-2 1zm5 0zm0 1zm-5 1zm1 0zm1 0zm-2 5zm-2 2zm1 0zm1 1zm2 3zm1 2zm-1 2zm6-1zm2-2zm0-3zm-1-3zm3-1zm-6-1zm2-1zm0-1zm-1-2zm1-2zm3 0zm-4-1zm3 0zm-3-1zm4 0zm-5-1zm2-1zm2 0zm-3-2zm1 0zm2 0zm-1-1zm1 0zm-3-1zm3 0zm-1-2zm-1-1zm2 0zm0-1zm1 0zm-5-1zm1 0zm1-2zm-2-2zm1-1zm4-1zm0-1zm1 0zm-2-1zm2-5zm-2-4zm4 5zm0 2zm2 4zm2 2zm1 0zm-4 6zm3 1zm-3 1zm3 10zm0 2zm1 0zm-4 11zm2 3zm7-10zm0-2zm9-8zm-3 2zm0 4zm1 0zm6 0zm-5 2zm7 4zm0-11zm7-3zm1 0zm1 8zm5 2zm-1 7zm4-5zm-1-12zm11 6zm0 2zm6 1zm0-3zm7-7zm0 6zm6 0zm0 4zm-7 6zm8 2zm2-2zm1-3zm-2-1zm2 0zm3-4zm6 4zm9 4zm-1-8z"/><path stroke="#3a8fa3" stroke-opacity="0.48" d="M525 268zm0-1zm-3-3zm2-1zm-2-2zm5 0zm-6-1zm1-1zm1 0zm4-1zm-7-1zm4 0zm-3-1zm2 0zm3 0zm-4-1zm5 0zm-5-1zm1 0zm-2-1zm1 0zm-1-1zm2 0zm4 0zm-3-1zm0-1zm1 0zm-3-1zm1 0zm1 0zm2 0zm-5-1zm1 0zm2 0zm3 0zm-5-1zm1 0zm1 0zm2 0zm-2-1zm-2-1zm1 0zm1 0zm2 0zm1 0zm-1-1zm-3-1zm1 0zm1 0zm2-1zm-3-1zm3 0zm-6-1zm2 0zm4 0zm-5-1zm1 0zm-2-1zm1 0zm2 0zm1 0zm-1-1zm1 0zm1 0zm1-1zm-4-1zm-2-1zm3 0zm1 0zm2 0zm-5-1zm-1-1zm4 0zm2 0zm-6-1zm4 0zm-3-1zm2 0zm2 0zm1 0zm-2-2zm0-1zm0-1zm-3-2zm0-2zm0-2zm0-4zm0-5zm-1-2zm1-2zm1-2zm-2-5zm7 32zm1 2zm-1 1zm4 0zm-4 2zm0 1zm0 1zm1 0zm0 1zm1 0zm3 1zm-2 2zm1 0zm-4 1zm0 1zm4 0zm-4 1zm1 0zm1 0zm2 0zm-2 1zm1 0zm2 0zm-5 1zm2 1zm0 1zm2 0zm1 0zm-3 1zm2 2zm-4 1zm4 0zm1 0zm-5 2zm1 0zm6 0zm-6 2zm-1 1zm1 0zm3 0zm2 0zm-1 1zm-3 1zm4 0zm-2 2zm-1 1zm4 0zm-7 1zm8-2zm1-10z"/><path stroke="#d0a028" stroke-opacity="0.34" d="M502 238zm0 2zm8 35zm0-5zm-3-3zm1-6zm2 0zm0-18zm8-9zm-2 5zm2 2zm0 2zm-1 2zm1 1zm1 2zm-6 2zm6 6zm-1 1zm-3 1zm3 1zm0 1zm-2 4zm0 2zm-2 1zm2 2zm1 4zm4-4zm3-5zm2-1zm-2-1zm-1-1zm1-1zm-2-1zm3 0zm-4-1zm4 0zm2 0zm-7-1zm5 0zm2 0zm-7-2zm1 0zm3 0zm2 0zm1-1zm-5-1zm3 0zm1 0zm-5-1zm1-1zm1 0zm1 0zm1-3zm1 0zm-3-3zm1 0zm0-2zm-2-1zm2 0zm3-1zm-7-1zm4 0zm1 0zm-1-1zm3-4zm-6-4zm2-1zm2 0zm-5-3zm15 6zm-4 3zm-1 4zm-2 2zm2 0zm4 0zm-3 1zm2 0zm-2 1zm-3 1zm2 0zm4 1zm-5 2zm6 0zm-6 1zm2 0zm2 0zm2 0zm-7 1zm4 0zm0 1zm1 0zm-5 1zm5 1zm-5 1zm4 1zm1 0zm1 0zm1 0zm-7 1zm0 2zm3 2zm0 1zm-3 1zm2 0zm1 0zm0 1zm-2 1zm6 0zm-3 1zm3 0zm0 1zm-7 4zm1 0zm1 1zm1 1zm-3 3zm7 1zm1-5zm2-2zm-1-1zm6 0zm-3-1zm-2-2zm5-2zm-5-1zm4 0zm-5-1zm3 0zm1-1zm-4-1zm0-1zm0-1zm0-1zm-1-1zm0-1zm3 0zm2 0zm1 0zm-4-2zm3 0zm1 0zm-6-1zm7-1zm-7-2zm1-1zm6-3zm-2-1zm-5-5zm2-1zm5-2zm-4-2zm9 7zm3 12zm-6 3zm2 0zm2 0zm1 3zm-2 1zm-3 1zm1 0zm3 0zm-4 2zm2 1zm4 0zm-7 1zm2 1zm0 1zm12-6zm-5-2zm3-9zm-4-3zm12 12zm1 4zm3 7zm2-4zm6-9zm5 7zm2 0zm8 13zm-3-11zm0-2zm-2-5zm9 4zm0 2zm-1 2zm9 3zm-1-2zm-1-4zm4 0zm9-1zm1 4zm-4 1zm-2 2zm9 1zm2 0zm0-11zm2-1zm8 3zm-2 3zm-2 3zm13 1zm-7-1zm8-5z"/><path stroke="#3a8fa3" stroke-opacity="0.48" d="M525 268zm2-3zm-2-1zm-3-2zm3 0zm-2-1zm4 0zm-6-1zm1-1zm2 0zm3-1zm-5-1zm2 0zm1 0zm1-1zm1 0zm-6-1zm6 0zm-6-1zm3 0zm-3-1zm1 0zm5 0zm-4-1zm1 0zm1 0zm-1-1zm3 0zm-6-1zm1 0zm-1-1zm1 0zm1 0zm1 0zm3 0zm-4-2zm1 0zm2-1zm-4-1zm1 0zm-3-1zm5 0zm2 0zm-1-1zm1 0zm-5-1zm1 0zm-3-2zm1 0zm2 0zm1 0zm3-1zm-5-1zm1 0zm-1-1zm1-1zm0-1zm0-1zm-1-2zm5 0zm0-1zm-2-1zm1 0zm-2-1zm-3-1zm4 0zm2 0zm-2-2zm-3-1zm4 0zm-3-1zm2 0zm-4-1zm1 0zm4 0zm-5-1zm2-2zm0-1zm3 0zm-4-2zm-1-1zm1-2zm0-5zm3-2zm4 22zm0 4zm-1 1zm2 2zm3 1zm-5 1zm3 0zm-3 1zm3 1zm0 3zm-1 1zm4 2zm-6 1zm1 0zm2 0zm1 0zm2 0zm-6 1zm2 0zm1 0zm1 0zm1 0zm1 0zm-5 1zm4 0zm-3 1zm-2 1zm1 1zm1 0zm3 0zm-2 1zm1 0zm-4 1zm0 1zm3 0zm3 0zm-3 1zm3 0zm-6 1zm5 0zm-5 1zm4 0zm1 0zm-4 2zm1 1zm3 0zm0 1zm-1 4zm0 1zm1 0zm4-2zm4-1zm0-2zm-5-3zm2 0zm-2-2z"/><path stroke="#d0a028" stroke-opacity="0.34" d="M502 237zm-1 10zm2 1zm8 24zm0-12zm-2-7zm1-1zm0-3zm-4-2zm0-4zm9-14zm2 5zm2 3zm-1 1zm-6 2zm4 2zm1 1zm2 3zm-6 1zm3 0zm-4 1zm4 0zm3 1zm-2 4zm-1 3zm-2 2zm-1 1zm5 0zm-2 1zm2 2zm-6 1zm4 2zm3 1zm-3 3zm3 0zm-2 5zm10 4zm-6-5zm0-1zm4-2zm1 0zm-3-2zm2-3zm-5-1zm5 0zm1 0zm-6-1zm4 0zm-2-1zm5 0zm-6-1zm1-1zm3-1zm2 0zm-2-1zm2 0zm-2-2zm2-1zm-3-1zm-4-2zm3 0zm3 0zm-1-1zm1 0zm1 0zm-6-1zm4 0zm-3-1zm4 0zm1 0zm-5-2zm2-2zm1 0zm1 0zm1 0zm-7-1zm0-2zm3 0zm1 0zm-1-1zm1 0zm0-1zm-1-1zm1-1zm2 0zm-2-7zm1-1zm2-1zm3 4zm3 3zm-3 6zm-1 1zm4 0zm-5 1zm2 0zm5 1zm0 1zm-4 1zm-1 1zm4 0zm-2 1zm1 1zm-5 1zm1 1zm4 0zm-5 1zm2 0zm2 0zm2 0zm-5 1zm1 0zm1 0zm0 1zm-2 1zm1 0zm-1 1zm1 0zm3 0zm-4 1zm3 0zm2 0zm1 0zm-6 2zm3 0zm2 0zm-6 3zm4 1zm-2 2zm-2 2zm1 1zm6 0zm-6 2zm5 1zm-6 3zm12-2zm3-1zm-7-5zm2-2zm3 0zm-3-1zm2 0zm2 0zm-5-1zm1-2zm0-2zm-2-1zm0-1zm2-1zm3 0zm-4-1zm1 0zm2-2zm-2-1zm0-1zm2 0zm0-1zm-4-1zm0-5zm3 0zm-1-3zm2-21zm4 18zm4 5zm3 5zm-2 2zm-5 2zm6 3zm1 2zm-7 5zm5 0zm-1 6zm3 2zm8-7zm-1-1zm-6-1zm5-2zm-3-3zm0-1zm-2-5zm14 9zm-4 3zm3 5zm-3 3zm6 0zm3-1zm2-3zm-3-2zm1-2zm7-6zm4 3zm-2 5zm-3 7zm12-3zm2 0zm0-9zm7 7zm1 2zm7 6zm-5-5zm2 0zm-2-6zm6-2zm7-3zm-5 4zm6 6zm4 3z"/><path stroke="#3a8fa3" stroke-opacity="0.48" d="M526 270zm-3-3zm1-1zm-3-1zm3-3zm3-1zm-5-1zm1 0zm2 0zm2 0zm-6-1zm2 0zm2 0zm2 0zm-6-1zm2-1zm2 0zm-4-1zm2 0zm1 0zm1 0zm0-1zm-2-1zm3 0zm-4-2zm1 0zm1-1zm3 0zm-6-1zm2 0zm2 0zm1 0zm-2-1zm1 0zm-1-1zm3 0zm-4-1zm1 0zm1 0zm2 0zm-7-1zm2 0zm4 0zm1 0zm-4-1zm3 0zm-4-1zm3 0zm1 0zm-4-1zm1 0zm3 0zm-5-1zm4-1zm2 0zm-6-1zm2 0zm1 0zm1 0zm-3-1zm2 0zm2 0zm-2-1zm3 0zm-5-2zm2 0zm1 0zm-4-1zm1 0zm1 0zm1 0zm-3-1zm2 0zm-2-1zm1 0zm4 0zm-3-1zm-1-2zm0-2zm1-1zm2 0zm2 0zm-5-2zm3 0zm1 0zm-2-2zm1 0zm1 0zm-5-2zm2-3zm4-1zm-3-19zm4 28zm1 0zm-1 2zm2 1zm1 5zm-2 1zm-1 3zm2 0zm-1 1zm-1 1zm1 0zm1 1zm1 1zm-3 1zm2 2zm0 1zm-2 1zm1 0zm1 0zm4 0zm-5 1zm1 0zm2 0zm1 0zm1 0zm-3 1zm-2 1zm2 0zm1 0zm-4 1zm2 0zm2 0zm1 2zm-4 1zm1 0zm5 0zm-6 1zm1 0zm2 0zm1 1zm-1 1zm-2 1zm2 0zm-4 2zm0 1zm7 0zm-6 4zm3 0zm-4 3zm11 1zm-2-5zm0-10z"/><path stroke="#d0a028" stroke-opacity="0.34" d="M502 233zm8 29zm-3-2zm4-3zm0-6zm-1-3zm0-3zm-3-5zm9 2zm-4 1zm3 0zm2 3zm1 0zm-5 1zm1 0zm4 0zm1 0zm-4 2zm4 1zm-4 2zm-3 3zm6 2zm-6 5zm0 1zm4 3zm0 3zm2 6zm1 1zm7 1zm-6-3zm5 0zm-2-2zm1-1zm1 0zm-2-2zm2-1zm0-1zm2-3zm-1-1zm-6-1zm4 0zm2 0zm-3-2zm0-1zm1 0zm-1-1zm-1-1zm3 0zm2 0zm-2-1zm-5-1zm0-2zm2 0zm2-1zm3 0zm-2-1zm2 0zm-5-1zm3 0zm-3-1zm3-2zm-1-2zm2 0zm-6-2zm1-5zm2 0zm-2-1zm2-1zm3 0zm0-1zm0-1zm-6-1zm2 0zm7-1zm5 0zm1 2zm-4 1zm3 0zm-6 2zm5 4zm-5 1zm7 0zm-1 1zm-6 2zm3 0zm0 1zm-1 1zm5 0zm-2 2zm1 1zm-5 1zm0 1zm1 0zm1 4zm2 0zm1 0zm-3 1zm1 0zm-2 2zm1 0zm-3 1zm7 0zm-6 1zm6 1zm-7 4zm4 2zm0 3zm-3 1zm6 1zm-6 1zm5 1zm-5 1zm7 2zm0-1zm1-1zm4-6zm1 0zm1-1zm-6-3zm-1-1zm0-1zm3-1zm-2-2zm6 0zm-2-1zm-1-2zm-3-1zm1 0zm1 0zm4-1zm-3-1zm-4-3zm4 0zm-3-1zm2 0zm2 0zm-2-1zm-1-2zm4-1zm1 0zm-4-3zm1 0zm1-6zm1-8zm2 7zm1 3zm3 5zm-3 2zm-1 8zm1 2zm6 2zm-5 2zm0 2zm2 0zm2 0zm1 0zm-2 1zm-5 4zm4 0zm5 9zm2-5zm-2-1zm5-11zm-5-1zm-1-7zm3-9zm6 7zm1 12zm4 0zm-6 1zm4 0zm2 2zm-1 2zm-4 6zm12-11zm10-5zm0 6zm-1 2zm-1 4zm9 5zm1-6zm-7-3zm3-2zm6-5zm0 2zm3 1zm2 2zm-5 1zm0 1zm14 5zm-4-5zm0-1zm1-7zm4 0zm14 10zm4-6zm-1 1zm0 6zm12 2zm-3-1zm1-2zm8 2z"/><path stroke="#3a8fa3" stroke-opacity="0.48" d="M523 267zm2-2zm1 0zm-4-1zm3 0zm-2-1zm0-1zm-2-1zm6 0zm-5-1zm3 0zm2-1zm-5-2zm5 0zm-3-1zm-3-1zm1 0zm1 0zm2 0zm-1-2zm1 0zm1 0zm1 0zm-6-1zm1 0zm2 0zm3 0zm-6-1zm2 0zm1 0zm1 0zm1 0zm1-1zm-2-1zm1 0zm1 0zm-5-1zm3 0zm2 0zm-2-1zm-3-2zm5 0zm-6-1zm1-1zm1 0zm1 0zm-3-1zm6 0zm-3-1zm1 0zm-5-1zm4 0zm1 0zm2 0zm-6-1zm2 0zm1 0zm1 0zm2 0zm-6-1zm4 0zm1 0zm-4-1zm5 0zm-3-1zm1 0zm-3-1zm4-1zm-5-2zm3 0zm3 0zm-5-1zm5 0zm-5-2zm3-1zm-1-1zm-4-1zm3 0zm1-2zm1-1zm-1-1zm3-1zm-7-1zm4-2zm1 0zm0-1zm0-4zm-3-1zm0-24zm7 38zm-1 2zm1 1zm0 1zm1 7zm-1 1zm3 0zm-3 1zm-1 1zm1 1zm1 0zm-1 2zm5 0zm-5 1zm4 0zm2 0zm-6 2zm1 0zm1 0zm2 1zm-3 1zm1 0zm-2 1zm3 0zm-2 1zm1 1zm1 0zm-3 1zm-1 1zm3 0zm-3 1zm1 0zm2 1zm1 0zm-4 1zm4 0zm-4 1zm6 0zm-6 1zm1 0zm1 0zm1 0zm2 0zm-4 1zm1 1zm-1 1zm5 1zm-4 1zm0 1zm1 1zm1 0zm-2 1zm6-10zm0-1zm3-1z"/><path stroke="#d0a028" stroke-opacity="0.34" d="M506 273zm4-10zm0-2zm-3-4zm1-7zm0-1zm2-4zm-6-5zm6-2zm4-6zm5 0zm-4 3zm-1 2zm-1 4zm2 0zm4 0zm-4 4zm4 1zm-3 1zm3 2zm-4 3zm-2 2zm5 0zm0 4zm-4 2zm4 3zm-1 1zm-5 2zm4 0zm9 9zm2 0zm-6-5zm6 0zm-7-1zm7 0zm-3-1zm-3-2zm4-3zm2-1zm-1-4zm1 0zm-5-1zm1 0zm-1-1zm2 0zm2 0zm1-1zm-1-1zm-4-1zm1 0zm-2-1zm4 0zm-1-1zm-1-2zm1 0zm0-1zm-2-3zm5 0zm-4-1zm-3-1zm4 0zm-2-1zm3 0zm1 0zm-6-1zm6 0zm1-4zm-5-3zm8-3zm5 1zm-3 2zm-1 6zm-2 2zm2 0zm-1 1zm2 0zm2 0zm-4 2zm1 1zm-2 1zm3 0zm-2 1zm2 0zm2 0zm1 0zm-3 1zm1 0zm0 1zm1 0zm-6 1zm6 2zm-5 1zm2 0zm-3 2zm3 1zm1 0zm-4 1zm4 0zm-2 1zm-2 1zm1 0zm1 0zm3 0zm2 1zm-4 1zm-2 1zm6 0zm0 1zm-3 2zm1 1zm1 0zm-4 1zm5 2zm-2 2zm-2 3zm1 3zm11-10zm-1-1zm-6-1zm5-1zm-2-1zm4 0zm-1-1zm1 0zm-4-1zm1 0zm-3-2zm3 0zm-1-1zm2-2zm-3-2zm2 0zm-2-4zm2-1zm-1-1zm4 0zm-7-1zm2 0zm5-7zm-7-1zm5-2zm5 5zm3 2zm2 0zm-7 1zm2 0zm2 3zm-1 1zm-3 2zm1 0zm1 2zm-2 4zm1 0zm1 0zm3 1zm-2 5zm1 5zm-1 9zm10-19zm-5-4zm14-2zm0 1zm-2 3zm-3 4zm5 3zm-4 1zm10 4zm-1-2zm-2-8zm2-3zm4-4zm3 3zm1 1zm2 3zm2 5zm7 4zm0-3zm1 0zm-2-1zm-4-5zm3-4zm8 4zm3 4zm-7 3zm1 0zm3 0zm5 9zm1-6zm-1-5zm1 0zm-2-2zm3 0zm12 0zm0 4zm-1 1zm-4 3zm9 0zm0-2zm4-6zm6-1zm3 3zm4 0zm5 1z"/><path stroke="#3a8fa3" stroke-opacity="0.48" d="M527 267zm-4-3zm0-1zm4 0zm-2-1zm2 0zm-5-1zm1 0zm-2-1zm6 0zm-5-1zm-2-1zm4 0zm-1-1zm4 0zm0-1zm-5-1zm4 0zm-5-1zm3 0zm-2-1zm1 0zm2 0zm-4-1zm1 0zm2 0zm1 0zm-3-1zm3 0zm2 0zm-5-1zm2 0zm2 0zm-3-1zm4 0zm-5-1zm1 0zm2 0zm2 0zm-5-2zm5 0zm-4-1zm4 0zm-5-1zm5 0zm-5-1zm3 0zm1 0zm-6-1zm2 0zm1 0zm2-1zm2 0zm-6-1zm2-1zm0-1zm-2-1zm3 0zm2-1zm-5-1zm1 0zm4 0zm-6-1zm2 0zm1 0zm4-1zm-6-1zm3-2zm2 0zm-4-2zm1 0zm1-2zm-2-1zm1 0zm-1-2zm-1-1zm1 0zm5 0zm-6-1zm5-1zm-1-3zm-4-2zm4-1zm-1-4zm8 14zm-2 6zm-2 4zm1 1zm0 2zm2 1zm-3 3zm2 0zm1 0zm-1 1zm-2 1zm1 0zm3 0zm-3 1zm3 0zm1 1zm-4 1zm1 0zm1 1zm3 0zm-5 1zm-1 1zm2 0zm1 0zm-3 1zm1 0zm1 0zm4 0zm-2 1zm2 0zm-6 1zm4 0zm1 0zm-2 1zm1 1zm1 0zm1 0zm-6 1zm1 0zm1 0zm2 0zm1 0zm1 1zm-3 1zm4 0zm-7 1zm1 0zm5 1zm-6 1zm3 0zm-1 1zm2 1zm2 0zm0 1zm-5 1zm2 0zm-1 5zm6 0z"/><path stroke="#d0a028" stroke-opacity="0.34" d="M502 252zm-1 1zm7 15zm-1-8zm4-7zm-5-2zm2-3zm3-4zm-5-5zm4-3zm1 0zm2-3zm1 5zm-1 3zm4 0zm-3 2zm-1 2zm2 3zm3 0zm-3 1zm3 1zm-4 1zm5 0zm-6 9zm3 1zm1 1zm1 3zm-1 1zm0 2zm2 1zm-5 1zm3 3zm-3 4zm11-3zm0-5zm1 0zm-3-1zm-2-1zm5-1zm-1-1zm-2-2zm-3-1zm2 0zm4 0zm0-1zm-5-1zm-1-1zm2-2zm3 0zm1 0zm-4-2zm1 0zm1 0zm-4-2zm1-1zm6-2zm-2-1zm-5-1zm4 0zm1 0zm1 0zm1-1zm-2-1zm0-1zm-3-2zm1-1zm4 0zm-6-1zm4 0zm-4-4zm1-2zm3 0zm-4-2zm10 1zm-1 3zm5 6zm-2 1zm1 0zm1 0zm0 1zm-6 1zm6 0zm-7 2zm4 1zm1 0zm1 0zm1 0zm-5 1zm-2 1zm3 0zm-3 1zm4 0zm-4 1zm4 0zm1 0zm2 0zm-6 1zm1 0zm2 0zm-4 1zm1 0zm2 0zm-3 2zm3 0zm1 0zm1 0zm2 1zm-7 1zm3 1zm4 1zm-6 1zm6 1zm-4 1zm1 1zm-1 1zm3 3zm-4 3zm-1 6zm11-4zm1 0zm0-4zm2-3zm-5-4zm-2-1zm1 0zm1 0zm1 0zm1 0zm-4-1zm3 0zm-3-1zm2 0zm0-4zm-1-1zm4 0zm-5-1zm7 0zm-4-2zm-2-1zm3-1zm1 0zm-2-1zm1 0zm1 0zm2 0zm-7-2zm3-4zm4-8zm-6-2zm14 9zm-4 4zm1 1zm3 1zm-7 2zm0 1zm3 6zm2 0zm-5 1zm6 3zm-4 1zm5 1zm-1 5zm-3 5zm6-5zm2 0zm-2-4zm2-3zm-2-5zm0-7zm13 7zm-2 1zm-1 1zm1 3zm0 4zm10-2zm-4-3zm8-2zm-1 8zm1 4zm8 0zm5-4zm-5-6zm0-1zm6-3zm7 9zm-5 5zm7 7zm4-8zm-1-4zm3 0zm4 5zm12 1zm-2-5zm7 5zm-4 1zm0 2zm12 2zm-1-16z"/><path stroke="#3a8fa3" stroke-opacity="0.48" d="M524 268zm-3-1zm1-2zm1-1zm3-1zm-2-2zm1 0zm-2-1zm4 0zm-5-2zm2 0zm3 0zm-1-1zm-2-1zm1 0zm-1-1zm2 0zm-5-1zm5 0zm-2-1zm1 0zm1 0zm1 0zm-7-1zm3 0zm1-1zm1-1zm1 0zm1 0zm-6-1zm3 0zm1 0zm-4-1zm2 0zm4 0zm-5-1zm5-1zm-3-1zm1 0zm1 0zm1 0zm-5-1zm3 0zm2 0zm-4-1zm1 0zm1 0zm-4-1zm1 0zm4 0zm-4-1zm4 0zm0-1zm-4-1zm1 0zm3 0zm-2-1zm1 0zm1 0zm-1-1zm0-1zm1 0zm-6-1zm6 0zm1 0zm-4-1zm2 0zm-3-1zm2 0zm-1-3zm3 0zm1 0zm-3-2zm-3-1zm6-1zm-2-1zm1-1zm-5-1zm1 0zm1-1zm0-1zm1 0zm-3-1zm1-2zm0-1zm2 0zm-2-6zm1-4zm1-3zm0-1zm1-2zm4 27zm-1 3zm0 1zm0 1zm5 1zm-5 1zm4 2zm-4 1zm0 1zm3 0zm-3 1zm3 1zm-2 1zm2 1zm2 0zm-5 1zm4 0zm1 0zm-1 1zm-2 1zm2 0zm2 0zm-3 2zm2 0zm-5 1zm2 0zm1 0zm2 1zm-5 2zm1 0zm0 1zm4 0zm0 1zm1 1zm-5 1zm2 0zm1 0zm3 0zm-5 1zm1 0zm3 0zm0 1zm-4 1zm1 0zm-3 1zm4 0zm1 0zm-3 1zm0 1zm1 1zm-1 1zm6 4zm2-13z"/><path stroke="#d0a028" stroke-opacity="0.34" d="M505 268zm4-3zm-5-6zm6 0zm-3-1zm1-5zm3-5zm-2-2zm0-4zm1 0zm0-6zm7 0zm-2 3zm-3 2zm7 0zm-7 6zm1 1zm0 2zm1 0zm-2 1zm6 1zm-4 4zm1 0zm-1 2zm-2 2zm4 8zm-2 2zm1 1zm2 3zm3 4zm0-4zm4 0zm-2-5zm5 0zm-3-3zm-3-1zm2 0zm2-3zm1 0zm-4-1zm4 0zm-5-1zm1 0zm1 0zm2 0zm1 0zm-6-2zm1 0zm-1-1zm6 0zm-5-1zm6 0zm-4-1zm3 0zm1-1zm-1-1zm-1-2zm1 0zm-5-1zm4 0zm-3-1zm5 0zm-7-1zm4-1zm-4-1zm4-3zm2-1zm-5-2zm0-5zm4-7zm9 0zm0 3zm-6 3zm7 0zm-7 1zm5 1zm0 2zm-5 2zm4 1zm2 0zm-6 1zm2 0zm-2 3zm3 0zm1 0zm-3 2zm4 0zm1 0zm1 0zm-7 1zm3 0zm1 0zm1 0zm-5 2zm1 0zm1 0zm5 0zm-3 1zm2 0zm-6 1zm4 1zm2 0zm-6 4zm1 0zm5 1zm1 0zm-5 1zm0 1zm2 1zm1 2zm2 0zm-6 1zm4 0zm0 6zm-3 1zm2 0zm-3 2zm5 1zm-2 2zm1 2zm4-3zm0-3zm2-1zm-1-1zm-1-4zm5-4zm-2-1zm2-1zm-1-1zm-2-2zm2 0zm-5-2zm0-2zm4-1zm2 0zm-1-4zm-5-1zm0-1zm3-2zm2 0zm-2-1zm3-2zm-5-1zm0-1zm2-3zm2-1zm-1-2zm9 5zm2 1zm-3 2zm0 2zm-4 2zm2 0zm2 1zm-4 1zm5 0zm-5 1zm4 1zm-3 6zm-1 4zm0 3zm6 1zm-6 13zm9-14zm2-16zm1-3zm11 9zm-4 1zm4 5zm-6 6zm4 4zm10 3zm-1-4zm0-4zm-4-6zm6-1zm1 8zm3 3zm7 0zm4-4zm-7-1zm3-1zm6 0zm5 2zm2 10zm4-6zm-3-8zm6 0zm-7-4zm12 5zm0 7zm-2 1zm6-2zm1-12zm16 6zm2-4zm5 18z"/><path stroke="#3a8fa3" stroke-opacity="0.48" d="M525 266zm2-1zm-1-2zm1 0zm-3-1zm1 0zm2 0zm-5-1zm2 0zm-2-1zm1 0zm0-1zm-1-1zm4-1zm-1-1zm1 0zm-5-1zm2 0zm1 0zm3 0zm-3-1zm2 0zm-4-1zm1 0zm2 0zm-3-1zm2 0zm-3-1zm1 0zm0-1zm4 0zm-1-1zm-3-1zm3 0zm2 0zm-5-1zm1 0zm4 0zm-4-1zm1 0zm1 0zm2-1zm-6-1zm1 0zm5 0zm-7-1zm5 0zm2 0zm-7-1zm2 0zm2-1zm2 0zm1 0zm-6-1zm5 0zm-4-1zm2 0zm1 0zm2 0zm-6-1zm1 0zm1 0zm-1-1zm4 0zm0-1zm1 0zm-6-1zm3 0zm3 0zm-5-1zm1-1zm1 0zm-1-1zm3 0zm-3-1zm2 0zm1 0zm-3-2zm-2-2zm1-1zm1 0zm2-4zm-5-1zm2 0zm2 0zm0-2zm1 0zm-2-1zm0-7zm-2-6zm7 16zm0 8zm0 1zm1 2zm6 2zm-4 3zm0 1zm0 1zm-3 1zm1 1zm-1 1zm1 1zm3 0zm-3 1zm-1 1zm0 1zm1 0zm0 1zm3 0zm2 0zm-6 1zm3 0zm-3 1zm1 0zm0 1zm4 0zm-4 1zm1 1zm0 1zm0 1zm1 0zm1 1zm-3 2zm1 0zm1 0zm4 0zm-4 1zm1 0zm-3 1zm1 0zm5 0zm-3 1zm1 0zm-5 1zm7 1zm-5 2zm1 0zm-2 1zm0 2zm-1 5zm8-7zm3-4zm-3-1zm0-11z"/><path stroke="#d0a028" stroke-opacity="0.34" d="M503 255zm1 17zm7-16zm-3-2zm3-17zm5 1zm3 2zm-1 1zm-5 2zm5 1zm1 0zm-3 1zm1 0zm0 2zm2 0zm-6 1zm6 0zm-6 3zm0 2zm2 2zm1 2zm-1 3zm1 1zm0 6zm3 0zm-1 1zm0 4zm-2 4zm3 0zm4-4zm2 0zm0-3zm-4-1zm4 0zm-3-1zm3-1zm-1-4zm-3-1zm6 0zm-2-1zm-5-3zm7-2zm-3-1zm-3-2zm4 0zm2 0zm0-1zm-6-1zm0-2zm2 0zm-2-1zm4 0zm-1-2zm2 0zm-2-1zm3 0zm-2-1zm-4-1zm1 0zm1 0zm2 0zm2 0zm-1-1zm-1-2zm0-1zm-5-4zm5-7zm-3-6zm9 13zm4 0zm0 2zm-2 2zm1 0zm-2 2zm-4 1zm3 1zm1 1zm-1 2zm2 2zm0 1zm2 0zm-5 1zm3 0zm0 1zm1 0zm-3 1zm2 0zm1 0zm-6 1zm1 1zm-1 1zm0 3zm4 0zm-4 1zm0 1zm2 2zm1 0zm-1 1zm2 0zm1 1zm0 1zm0 1zm1 0zm-4 1zm1 0zm2 0zm1 0zm-5 1zm2 0zm3 1zm-3 2zm-3 3zm2 2zm1 1zm8 1zm-2-3zm5 0zm-2-3zm0-2zm-2-2zm1-1zm4-1zm-2-1zm-5-1zm3 0zm4 0zm0-1zm-4-1zm1 0zm-3-1zm3-1zm-4-4zm2 0zm5 0zm-7-2zm3-1zm2 0zm-4-3zm1 0zm1-1zm4-2zm-6-1zm6-1zm0-3zm-2-2zm1-5zm-2-1zm-2-4zm6 9zm0 1zm1 1zm0 3zm3 3zm-4 5zm0 1zm5 0zm-3 7zm1 0zm-1 1zm2 0zm-1 5zm0 1zm6-1zm-1-5zm0-6zm0-3zm6-4zm-2-4zm7 17zm1 1zm-4 4zm4 1zm8-5zm0-4zm-3-4zm12 5zm-2 4zm-2 3zm1 0zm5 6zm4-4zm2-2zm1-4zm2-1zm6 1zm-1 2zm2 0zm-7 1zm3 0zm2 6zm9-3zm-4-6zm-1-6zm7 6zm1 0zm5 4zm1 2zm7 1zm-2-1zm1-5zm3 2z"/><path stroke="#3a8fa3" stroke-opacity="0.48" d="M525 267zm1-1zm-5-2zm3 0zm1 0zm0-2zm1 0zm-2-1zm-1-1zm3 0zm-6-1zm3 0zm4 0zm-5-1zm3 0zm1 0zm-2-1zm-2-1zm1 0zm2 0zm-2-1zm1 0zm2 0zm-2-2zm2 0zm1 0zm-1-1zm1 0zm-6-1zm1 0zm3 0zm-1-1zm1 0zm1 0zm1 0zm-6-1zm1 0zm4 0zm1 0zm-1-1zm1 0zm-5-1zm2 0zm1 0zm1 0zm-5-1zm0-1zm1 0zm1-1zm3 0zm1 0zm-4-1zm2-1zm-3-1zm2 0zm-4-1zm1 0zm2 0zm2-2zm2 0zm-6-1zm3 0zm1 0zm-3-1zm2 0zm3 0zm-6-1zm3 0zm1 0zm1 0zm-5-1zm1-2zm2 0zm1 0zm0-1zm-3-1zm1 0zm1 0zm1 0zm-3-1zm5 0zm-1-3zm0-2zm-4-1zm2-1zm-2-1zm4 0zm-4-1zm1-1zm4-1zm-2-1zm-2-1zm-2-1zm2-1zm4 0zm-5-46zm8 61zm-2 1zm1 3zm-1 3zm1 0zm-1 1zm5 1zm-3 2zm1 0zm1 0zm-4 1zm1 0zm0 4zm1 0zm2 1zm-4 1zm2 0zm-2 1zm1 0zm0 1zm0 1zm4 1zm-5 1zm1 0zm1 0zm-1 1zm-1 1zm0 1zm1 0zm4 0zm-1 1zm2 1zm-4 2zm3 1zm-1 1zm-3 1zm3 0zm-4 1zm2 1zm2 0zm1 0zm-1 1zm2 3zm2-3zm2-6z"/><path stroke="#d0a028" stroke-opacity="0.34" d="M502 240zm1 10zm-1 6zm0 2zm9-2zm0-5zm-1-2zm-3-13zm-1-6zm13-3zm-2 2zm-1 7zm3 2zm0 4zm-2 1zm-4 4zm6 0zm-7 1zm0 1zm1 0zm3 1zm-4 2zm6 0zm-3 1zm-3 1zm1 1zm3 0zm3 3zm-5 1zm1 2zm-2 1zm3 0zm2 0zm-1 1zm-4 1zm6 2zm-1 9zm5 2zm1-6zm2 0zm-5-1zm1-4zm3 0zm-4-1zm0-2zm1-2zm1 0zm-2-2zm2 0zm2 0zm-5-1zm7 0zm-1-2zm-2-1zm-3-1zm1 0zm3 0zm1 0zm-6-3zm0-1zm2 0zm2 0zm2 0zm-1-1zm-3-3zm4 0zm1 0zm-6-1zm1 0zm4 0zm-3-1zm0-2zm4 0zm-4-2zm0-4zm-3-5zm3-1zm6 1zm1 1zm4 1zm-6 5zm3 2zm3 0zm-4 1zm2 2zm-1 1zm1 0zm-2 2zm0 1zm2 0zm-4 1zm3 0zm-1 1zm3 0zm2 0zm-4 1zm1 0zm3 0zm-1 1zm-6 1zm2 1zm4 0zm-4 1zm4 0zm-6 2zm2 0zm2 0zm1 0zm-4 1zm3 0zm-3 1zm-1 1zm3 0zm-2 1zm2 0zm4 1zm-3 2zm3 0zm-4 2zm-1 4zm-2 2zm5 4zm2 2zm5-2zm-1-2zm3 0zm-6-7zm5-1zm-1-1zm1 0zm-1-2zm-1-1zm0-1zm-1-2zm5-1zm-3-2zm0-2zm-1-1zm-3-1zm1-2zm3-1zm0-1zm-4-1zm2 0zm0-1zm-1-2zm1-2zm-2-1zm3-3zm6 0zm-1 2zm4 0zm0 5zm-1 2zm0 3zm3 2zm0 6zm-4 3zm1 0zm-2 5zm6 3zm-5 1zm2 0zm-3 1zm1 3zm2 0zm6-13zm1-7zm0-1zm6 8zm-1 1zm2 0zm2 0zm-4 1zm6 2zm0 1zm7 0zm-5-2zm15-12zm-4 7zm-1 3zm-1 4zm3 0zm3 6zm6-8zm-3-2zm2 0zm6-2zm-1 4zm2 2zm3 0zm-5 1zm4 7zm9-8zm5-11zm1 5zm0 12zm4-4zm8 4zm17-4zm32-1z"/><path stroke="#3a8fa3" stroke-opacity="0.48" d="M521 269zm2-4zm2-1zm-2-1zm1 0zm3-1zm-6-2zm3 0zm-2-1zm3 0zm-3-1zm1-1zm2 0zm1 0zm-4-1zm1 0zm2 0zm-4-1zm5 0zm-1-1zm-3-1zm1-1zm1 0zm2 0zm1 0zm-5-1zm-1-1zm2 0zm4 0zm-5-1zm5 0zm-4-1zm1 0zm-2-1zm1 0zm2 0zm2 0zm-2-1zm1 0zm0-1zm1 0zm-6-1zm1 0zm1 0zm1 0zm1 0zm1 0zm-6-1zm5 0zm2 0zm-4-1zm-1-1zm1 0zm1 0zm3 0zm-6-1zm2 0zm1 0zm-1-1zm2 0zm-4-1zm1 0zm5 0zm-6-1zm5 0zm1 0zm-5-1zm1 0zm1 0zm-2-1zm2-1zm0-1zm2 0zm-4-1zm1 0zm1 0zm3 0zm-4-3zm2 0zm-2-1zm4 0zm-7-1zm1 0zm2-1zm2 0zm-4-2zm3 0zm1 0zm1 0zm-4-2zm4 0zm1 0zm-4-5zm-2-1zm3 0zm-3-3zm3-4zm5 15zm0 13zm-1 3zm3 1zm-2 1zm1 0zm-1 1zm2 0zm-3 1zm6 1zm-5 1zm1 0zm-2 1zm2 1zm1 0zm-2 1zm1 0zm-1 1zm1 0zm3 0zm1 0zm-4 2zm4 2zm-6 1zm1 0zm5 0zm-6 1zm2 0zm2 0zm-2 1zm4 0zm-1 1zm2 0zm-7 1zm4 0zm-3 1zm6 0zm-7 2zm1 1zm5 0zm-6 3zm0 1zm5 0z"/></g></g>
<circle cx="166.4" cy="75.4" r="3.9" fill="#3e8fa1" stroke="#fff" stroke-width="1.2"/>
<circle cx="183.2" cy="69.1" r="3.9" fill="#d8a02a" stroke="#fff" stroke-width="1.2"/>
<circle cx="378.1" cy="75.0" r="3.9" fill="#3e8fa1" stroke="#fff" stroke-width="1.2"/>
<circle cx="358.8" cy="69.0" r="3.9" fill="#d8a02a" stroke="#fff" stroke-width="1.2"/>
<circle cx="527.5" cy="75.0" r="3.9" fill="#3e8fa1" stroke="#fff" stroke-width="1.2"/>
<circle cx="541.2" cy="69.1" r="3.9" fill="#d8a02a" stroke="#fff" stroke-width="1.2"/>
<circle cx="377.8" cy="163.1" r="3.9" fill="#3e8fa1" stroke="#fff" stroke-width="1.2"/>
<circle cx="358.9" cy="154.5" r="3.9" fill="#d8a02a" stroke="#fff" stroke-width="1.2"/>
<circle cx="527.3" cy="162.5" r="3.9" fill="#3e8fa1" stroke="#fff" stroke-width="1.2"/>
<circle cx="541.5" cy="154.3" r="3.9" fill="#d8a02a" stroke="#fff" stroke-width="1.2"/>
<circle cx="527.4" cy="245.0" r="3.9" fill="#3e8fa1" stroke="#fff" stroke-width="1.2"/>
<circle cx="541.6" cy="253.8" r="3.9" fill="#d8a02a" stroke="#fff" stroke-width="1.2"/>
<path d="M115.0 1.9L682.3 1.9M115.0 95.0L682.3 95.0M115.0 1.9L115.0 95.0M304.2 1.9L304.2 188.3M493.5 1.9L493.5 281.4M682.3 1.9L682.3 281.4M304.2 188.3L682.3 188.3M493.5 281.4L682.3 281.4" stroke="#333" stroke-width="1" fill="none" stroke-linejoin="round"/>
<path d="M133.3 95.0v5.5M171.5 95.0v5.5M209.7 95.0v5.5M247.9 95.0v5.5M286.0 95.0v5.5M115.0 90.0h-5.5M115.0 74.9h-5.5M115.0 59.8h-5.5M115.0 44.7h-5.5M115.0 29.6h-5.5M115.0 14.5h-5.5M316.9 188.3v5.5M343.6 188.3v5.5M370.3 188.3v5.5M397.0 188.3v5.5M423.7 188.3v5.5M450.3 188.3v5.5M477.0 188.3v5.5M304.2 179.0h-5.5M304.2 160.2h-5.5M304.2 141.3h-5.5M304.2 122.5h-5.5M304.2 103.6h-5.5M500.2 281.4v5.5M531.0 281.4v5.5M561.8 281.4v5.5M592.6 281.4v5.5M623.5 281.4v5.5M654.3 281.4v5.5M493.5 275.3h-5.5M493.5 262.1h-5.5M493.5 249.0h-5.5M493.5 235.8h-5.5M493.5 222.7h-5.5M493.5 209.6h-5.5M493.5 196.4h-5.5" stroke="#333" stroke-width="1" fill="none"/>
<g font-size="7" fill="#222"><text x="133.3" y="113.6" text-anchor="middle">-2</text><text x="171.5" y="113.6" text-anchor="middle">0</text><text x="209.7" y="113.6" text-anchor="middle">2</text><text x="247.9" y="113.6" text-anchor="middle">4</text><text x="286.0" y="113.6" text-anchor="middle">6</text><text transform="translate(103.3,90.0) rotate(-90)" text-anchor="middle">-2</text><text transform="translate(103.3,74.9) rotate(-90)" text-anchor="middle">0</text><text transform="translate(103.3,59.8) rotate(-90)" text-anchor="middle">2</text><text transform="translate(103.3,44.7) rotate(-90)" text-anchor="middle">4</text><text transform="translate(103.3,29.6) rotate(-90)" text-anchor="middle">6</text><text transform="translate(103.3,14.5) rotate(-90)" text-anchor="middle">8</text><text x="316.9" y="206.9" text-anchor="middle">-2</text><text x="343.6" y="206.9" text-anchor="middle">-1</text><text x="370.3" y="206.9" text-anchor="middle">0</text><text x="397.0" y="206.9" text-anchor="middle">1</text><text x="423.7" y="206.9" text-anchor="middle">2</text><text x="450.3" y="206.9" text-anchor="middle">3</text><text x="477.0" y="206.9" text-anchor="middle">4</text><text transform="translate(292.5,179.0) rotate(-90)" text-anchor="middle">-2</text><text transform="translate(292.5,160.2) rotate(-90)" text-anchor="middle">0</text><text transform="translate(292.5,141.3) rotate(-90)" text-anchor="middle">2</text><text transform="translate(292.5,122.5) rotate(-90)" text-anchor="middle">4</text><text transform="translate(292.5,103.6) rotate(-90)" text-anchor="middle">6</text><text x="500.2" y="300.0" text-anchor="middle">-2</text><text x="531.0" y="300.0" text-anchor="middle">0</text><text x="561.8" y="300.0" text-anchor="middle">2</text><text x="592.6" y="300.0" text-anchor="middle">4</text><text x="623.5" y="300.0" text-anchor="middle">6</text><text x="654.3" y="300.0" text-anchor="middle">8</text><text transform="translate(481.8,275.3) rotate(-90)" text-anchor="middle">-2</text><text transform="translate(481.8,262.1) rotate(-90)" text-anchor="middle">-1</text><text transform="translate(481.8,249.0) rotate(-90)" text-anchor="middle">0</text><text transform="translate(481.8,235.8) rotate(-90)" text-anchor="middle">1</text><text transform="translate(481.8,222.7) rotate(-90)" text-anchor="middle">2</text><text transform="translate(481.8,209.6) rotate(-90)" text-anchor="middle">3</text><text transform="translate(481.8,196.4) rotate(-90)" text-anchor="middle">4</text></g>
<text transform="translate(0.6,51.6) scale(0.96,1)" font-size="13.7" fill="#111">Height</text>
<text transform="translate(0.8,67.7) scale(0.84,1)" font-size="12" fill="#d2a034">327.53***</text>
<text transform="translate(196.0,145.9) scale(0.96,1)" font-size="13.7" fill="#111">SLA</text>
<text transform="translate(196.2,159.6) scale(0.84,1)" font-size="12" fill="#d2a034">912.71***</text>
<text transform="translate(379.4,239.6) scale(0.96,1)" font-size="13.7" fill="#111">LDMC</text>
<text transform="translate(379.59999999999997,253.5) scale(0.84,1)" font-size="12" fill="#4a97aa">683.7***</text>
<text transform="translate(559.4,332.6) scale(0.96,1)" font-size="13.7" fill="#111">Leaf area</text>
<text transform="translate(559.6,344.6) scale(0.84,1)" font-size="12" fill="#d2a034">687.18***</text>
<text transform="translate(5.6,299.9) scale(0.845,1)" font-size="14.6" fill="#4a97aa">Native species</text>
<text transform="translate(5.6,316.7) scale(0.845,1)" font-size="14.6" fill="#d2a034">Alien species</text>
</svg></body></html>
